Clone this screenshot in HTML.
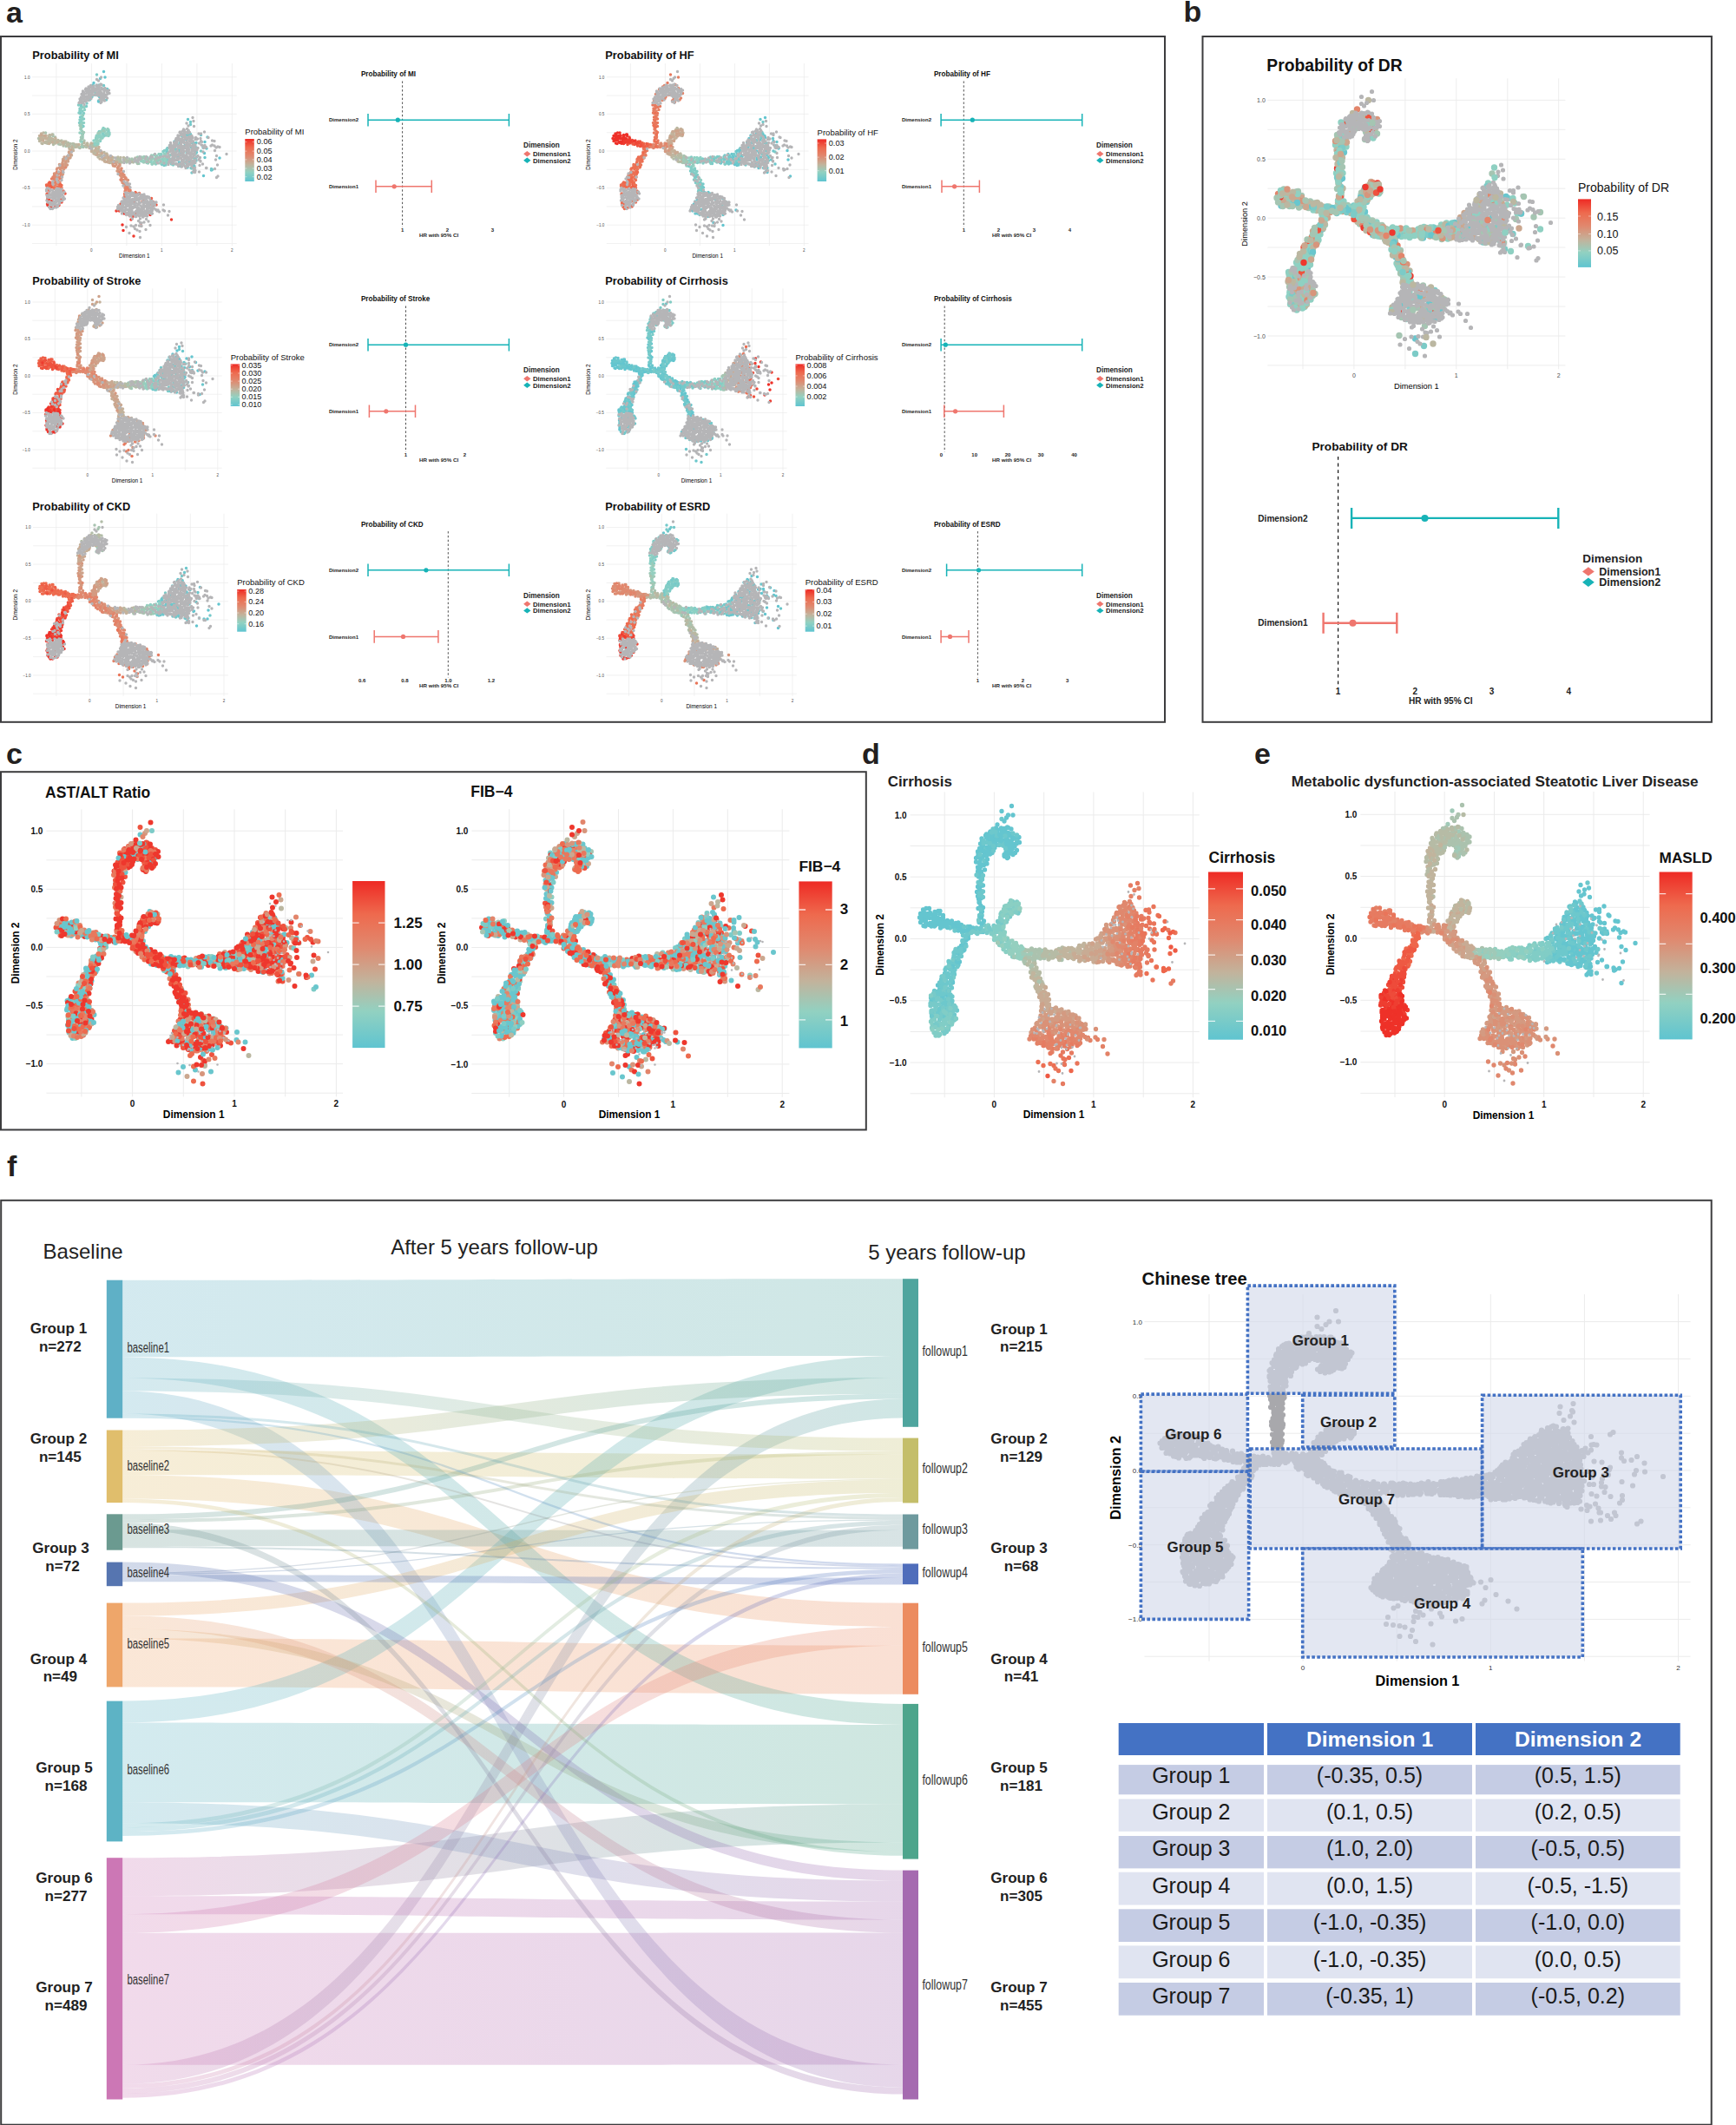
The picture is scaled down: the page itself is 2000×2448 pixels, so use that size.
<!DOCTYPE html>
<html><head><meta charset="utf-8"><title>Figure</title>
<style>html,body{margin:0;padding:0;background:#fff}body{width:2000px;height:2448px;overflow:hidden;position:relative}
svg{position:absolute;left:0;top:0;font-family:'Liberation Sans', Arial, Helvetica, sans-serif}</style></head>
<body><svg width="2000" height="2448" viewBox="0 0 2000 2448">
<defs><linearGradient id="cbgrad" x1="0" y1="0" x2="0" y2="1"><stop offset="0.00" stop-color="#ee2a24"/><stop offset="0.20" stop-color="#ee6a4e"/><stop offset="0.40" stop-color="#e0896f"/><stop offset="0.60" stop-color="#c2b39c"/><stop offset="0.78" stop-color="#92d1c1"/><stop offset="1.00" stop-color="#5fc4d0"/></linearGradient><linearGradient id="gB1F1" gradientUnits="userSpaceOnUse" x1="141.2" y1="0" x2="1040.0" y2="0"><stop offset="0" stop-color="#5fb0c6"/><stop offset="1" stop-color="#4fa59e"/></linearGradient><linearGradient id="gB1F6" gradientUnits="userSpaceOnUse" x1="141.2" y1="0" x2="1040.0" y2="0"><stop offset="0" stop-color="#5fb0c6"/><stop offset="1" stop-color="#4da58c"/></linearGradient><linearGradient id="gB1F2" gradientUnits="userSpaceOnUse" x1="141.2" y1="0" x2="1040.0" y2="0"><stop offset="0" stop-color="#5fb0c6"/><stop offset="1" stop-color="#c4be6a"/></linearGradient><linearGradient id="gB1F7" gradientUnits="userSpaceOnUse" x1="141.2" y1="0" x2="1040.0" y2="0"><stop offset="0" stop-color="#5fb0c6"/><stop offset="1" stop-color="#a56ab0"/></linearGradient><linearGradient id="gB1F3" gradientUnits="userSpaceOnUse" x1="141.2" y1="0" x2="1040.0" y2="0"><stop offset="0" stop-color="#5fb0c6"/><stop offset="1" stop-color="#6e9a9e"/></linearGradient><linearGradient id="gB1F4" gradientUnits="userSpaceOnUse" x1="141.2" y1="0" x2="1040.0" y2="0"><stop offset="0" stop-color="#5fb0c6"/><stop offset="1" stop-color="#4f6dbb"/></linearGradient><linearGradient id="gB2F1" gradientUnits="userSpaceOnUse" x1="141.2" y1="0" x2="1040.0" y2="0"><stop offset="0" stop-color="#e0be6c"/><stop offset="1" stop-color="#4fa59e"/></linearGradient><linearGradient id="gB2F3" gradientUnits="userSpaceOnUse" x1="141.2" y1="0" x2="1040.0" y2="0"><stop offset="0" stop-color="#e0be6c"/><stop offset="1" stop-color="#6e9a9e"/></linearGradient><linearGradient id="gB2F4" gradientUnits="userSpaceOnUse" x1="141.2" y1="0" x2="1040.0" y2="0"><stop offset="0" stop-color="#e0be6c"/><stop offset="1" stop-color="#4f6dbb"/></linearGradient><linearGradient id="gB2F2" gradientUnits="userSpaceOnUse" x1="141.2" y1="0" x2="1040.0" y2="0"><stop offset="0" stop-color="#e0be6c"/><stop offset="1" stop-color="#c4be6a"/></linearGradient><linearGradient id="gB2F5" gradientUnits="userSpaceOnUse" x1="141.2" y1="0" x2="1040.0" y2="0"><stop offset="0" stop-color="#e0be6c"/><stop offset="1" stop-color="#ec8c60"/></linearGradient><linearGradient id="gB2F6" gradientUnits="userSpaceOnUse" x1="141.2" y1="0" x2="1040.0" y2="0"><stop offset="0" stop-color="#e0be6c"/><stop offset="1" stop-color="#4da58c"/></linearGradient><linearGradient id="gB3F1" gradientUnits="userSpaceOnUse" x1="141.2" y1="0" x2="1040.0" y2="0"><stop offset="0" stop-color="#6b9a90"/><stop offset="1" stop-color="#4fa59e"/></linearGradient><linearGradient id="gB3F2" gradientUnits="userSpaceOnUse" x1="141.2" y1="0" x2="1040.0" y2="0"><stop offset="0" stop-color="#6b9a90"/><stop offset="1" stop-color="#c4be6a"/></linearGradient><linearGradient id="gB3F7" gradientUnits="userSpaceOnUse" x1="141.2" y1="0" x2="1040.0" y2="0"><stop offset="0" stop-color="#6b9a90"/><stop offset="1" stop-color="#a56ab0"/></linearGradient><linearGradient id="gB3F3" gradientUnits="userSpaceOnUse" x1="141.2" y1="0" x2="1040.0" y2="0"><stop offset="0" stop-color="#6b9a90"/><stop offset="1" stop-color="#6e9a9e"/></linearGradient><linearGradient id="gB3F4" gradientUnits="userSpaceOnUse" x1="141.2" y1="0" x2="1040.0" y2="0"><stop offset="0" stop-color="#6b9a90"/><stop offset="1" stop-color="#4f6dbb"/></linearGradient><linearGradient id="gB4F7" gradientUnits="userSpaceOnUse" x1="141.2" y1="0" x2="1040.0" y2="0"><stop offset="0" stop-color="#5675b0"/><stop offset="1" stop-color="#a56ab0"/></linearGradient><linearGradient id="gB4F2" gradientUnits="userSpaceOnUse" x1="141.2" y1="0" x2="1040.0" y2="0"><stop offset="0" stop-color="#5675b0"/><stop offset="1" stop-color="#c4be6a"/></linearGradient><linearGradient id="gB4F3" gradientUnits="userSpaceOnUse" x1="141.2" y1="0" x2="1040.0" y2="0"><stop offset="0" stop-color="#5675b0"/><stop offset="1" stop-color="#6e9a9e"/></linearGradient><linearGradient id="gB4F4" gradientUnits="userSpaceOnUse" x1="141.2" y1="0" x2="1040.0" y2="0"><stop offset="0" stop-color="#5675b0"/><stop offset="1" stop-color="#4f6dbb"/></linearGradient><linearGradient id="gB5F2" gradientUnits="userSpaceOnUse" x1="141.2" y1="0" x2="1040.0" y2="0"><stop offset="0" stop-color="#eea66a"/><stop offset="1" stop-color="#c4be6a"/></linearGradient><linearGradient id="gB5F7" gradientUnits="userSpaceOnUse" x1="141.2" y1="0" x2="1040.0" y2="0"><stop offset="0" stop-color="#eea66a"/><stop offset="1" stop-color="#a56ab0"/></linearGradient><linearGradient id="gB5F6" gradientUnits="userSpaceOnUse" x1="141.2" y1="0" x2="1040.0" y2="0"><stop offset="0" stop-color="#eea66a"/><stop offset="1" stop-color="#4da58c"/></linearGradient><linearGradient id="gB5F5" gradientUnits="userSpaceOnUse" x1="141.2" y1="0" x2="1040.0" y2="0"><stop offset="0" stop-color="#eea66a"/><stop offset="1" stop-color="#ec8c60"/></linearGradient><linearGradient id="gB6F1" gradientUnits="userSpaceOnUse" x1="141.2" y1="0" x2="1040.0" y2="0"><stop offset="0" stop-color="#5db3c5"/><stop offset="1" stop-color="#4fa59e"/></linearGradient><linearGradient id="gB6F6" gradientUnits="userSpaceOnUse" x1="141.2" y1="0" x2="1040.0" y2="0"><stop offset="0" stop-color="#5db3c5"/><stop offset="1" stop-color="#4da58c"/></linearGradient><linearGradient id="gB6F7" gradientUnits="userSpaceOnUse" x1="141.2" y1="0" x2="1040.0" y2="0"><stop offset="0" stop-color="#5db3c5"/><stop offset="1" stop-color="#a56ab0"/></linearGradient><linearGradient id="gB6F2" gradientUnits="userSpaceOnUse" x1="141.2" y1="0" x2="1040.0" y2="0"><stop offset="0" stop-color="#5db3c5"/><stop offset="1" stop-color="#c4be6a"/></linearGradient><linearGradient id="gB6F3" gradientUnits="userSpaceOnUse" x1="141.2" y1="0" x2="1040.0" y2="0"><stop offset="0" stop-color="#5db3c5"/><stop offset="1" stop-color="#6e9a9e"/></linearGradient><linearGradient id="gB6F4" gradientUnits="userSpaceOnUse" x1="141.2" y1="0" x2="1040.0" y2="0"><stop offset="0" stop-color="#5db3c5"/><stop offset="1" stop-color="#4f6dbb"/></linearGradient><linearGradient id="gB7F6" gradientUnits="userSpaceOnUse" x1="141.2" y1="0" x2="1040.0" y2="0"><stop offset="0" stop-color="#cc77b5"/><stop offset="1" stop-color="#4da58c"/></linearGradient><linearGradient id="gB7F7a" gradientUnits="userSpaceOnUse" x1="141.2" y1="0" x2="1040.0" y2="0"><stop offset="0" stop-color="#cc77b5"/><stop offset="1" stop-color="#a56ab0"/></linearGradient><linearGradient id="gB7F5" gradientUnits="userSpaceOnUse" x1="141.2" y1="0" x2="1040.0" y2="0"><stop offset="0" stop-color="#cc77b5"/><stop offset="1" stop-color="#ec8c60"/></linearGradient><linearGradient id="gB7F7" gradientUnits="userSpaceOnUse" x1="141.2" y1="0" x2="1040.0" y2="0"><stop offset="0" stop-color="#cc77b5"/><stop offset="1" stop-color="#a56ab0"/></linearGradient><linearGradient id="gB7F1" gradientUnits="userSpaceOnUse" x1="141.2" y1="0" x2="1040.0" y2="0"><stop offset="0" stop-color="#cc77b5"/><stop offset="1" stop-color="#4fa59e"/></linearGradient><linearGradient id="gB7F2" gradientUnits="userSpaceOnUse" x1="141.2" y1="0" x2="1040.0" y2="0"><stop offset="0" stop-color="#cc77b5"/><stop offset="1" stop-color="#c4be6a"/></linearGradient><linearGradient id="gB7F3" gradientUnits="userSpaceOnUse" x1="141.2" y1="0" x2="1040.0" y2="0"><stop offset="0" stop-color="#cc77b5"/><stop offset="1" stop-color="#6e9a9e"/></linearGradient><linearGradient id="gB7F4" gradientUnits="userSpaceOnUse" x1="141.2" y1="0" x2="1040.0" y2="0"><stop offset="0" stop-color="#cc77b5"/><stop offset="1" stop-color="#4f6dbb"/></linearGradient></defs>
<text x="7.0" y="25.5" font-size="34" font-weight="bold" fill="#231f20">a</text><text x="1363.5" y="25.3" font-size="34" font-weight="bold" fill="#231f20">b</text><text x="7.0" y="880.3" font-size="34" font-weight="bold" fill="#231f20">c</text><text x="993.0" y="880.0" font-size="34" font-weight="bold" fill="#231f20">d</text><text x="1445.0" y="880.3" font-size="34" font-weight="bold" fill="#231f20">e</text><text x="8.0" y="1355.3" font-size="34" font-weight="bold" fill="#231f20">f</text><rect x="1" y="42" width="1341" height="789.8" fill="none" stroke="#3c3c3e" stroke-width="2"/><rect x="1385.5" y="42" width="586.4" height="789.8" fill="none" stroke="#3c3c3e" stroke-width="2"/><rect x="1" y="889.2" width="996.8" height="412.3" fill="none" stroke="#3c3c3e" stroke-width="2"/><rect x="1.2" y="1382.8" width="1970.5" height="1064.9" fill="none" stroke="#3c3c3e" stroke-width="2"/><path d="M64.9 73.0V283.2M105.4 73.0V283.2M145.9 73.0V283.2M186.4 73.0V283.2M226.9 73.0V283.2M267.4 73.0V283.2M37.0 280.5H272.7M37.0 259.2H272.7M37.0 237.9H272.7M37.0 216.6H272.7M37.0 195.3H272.7M37.0 174.0H272.7M37.0 152.7H272.7M37.0 131.4H272.7M37.0 110.1H272.7M37.0 88.8H272.7" stroke="#ebebeb" stroke-width="0.7" fill="none"/><text x="105.4" y="290.0" font-size="4.6" text-anchor="middle" fill="#4d4d4d">0</text><text x="186.4" y="290.0" font-size="4.6" text-anchor="middle" fill="#4d4d4d">1</text><text x="267.4" y="290.0" font-size="4.6" text-anchor="middle" fill="#4d4d4d">2</text><text x="34.5" y="90.5" font-size="4.6" text-anchor="end" fill="#4d4d4d">1.0</text><text x="34.5" y="133.1" font-size="4.6" text-anchor="end" fill="#4d4d4d">0.5</text><text x="34.5" y="175.7" font-size="4.6" text-anchor="end" fill="#4d4d4d">0.0</text><text x="34.5" y="218.3" font-size="4.6" text-anchor="end" fill="#4d4d4d">−0.5</text><text x="34.5" y="260.9" font-size="4.6" text-anchor="end" fill="#4d4d4d">−1.0</text><text x="154.8" y="297.0" font-size="6.4" text-anchor="middle">Dimension 1</text><text transform="translate(19.6,178.1) rotate(-90)" font-size="6.4" text-anchor="middle">Dimension 2</text><path d="M108 95.5h0m7.5-5h0m4-8h0m1.5 6.5h0m93 71.5h0m11.5 9.5h0m10 6.5h0m.5-13h0m7.5 32.5h0m9.5-14h0" stroke="#63c5cf" stroke-width="3.5" stroke-linecap="round"/><path d="M207.5 176.5h0m8.5 16.5h0m1-37h0m8 28.5h0m1.5-9h0m0 5.5h0m11-10.5h0m.5 .5h0m1-13h0" stroke="#6bc7cc" stroke-width="3.5" stroke-linecap="round"/><path d="M106 111.5h0m87 59h0m12 10h0m2-16h0m12.5-24h0m.5 29h0m0 9h0m1-14h0m0 34.5h0m2-9.5h0m1-24.5h0m0 26.5h0m1-18h0m1-3.5h0m0 15h0m18.5 10.5h0" stroke="#74c9ca" stroke-width="3.5" stroke-linecap="round"/><path d="M93 121.5h0m.5 1h0m1.5 1h0m1 22h0m1-22h0m2.5-1h0m.5-3.5h0m3.5-4h0m6-5.5h0m.5-2.5h0m1.5-21h0m2 30h0m73 73.5h0m4.5 .5h0m2-15h0m2.5-7.5h0m1 19.5h0m1 2h0m9-15h0m1 17.5h0m18-14.5h0m6-3h0" stroke="#7ccbc7" stroke-width="3.5" stroke-linecap="round"/><path d="M90.5 121h0m1 20.5h0m.5-16.5h0m2 13h0m.5-4h0m.5-6h0m.5 5h0m1 4h0m18 14.5h0m1 11h0m.5-3.5h0m2-5h0m.5 2h0m5.5-3h0m64 21.5h0m1.5-1h0m3-.5h0m0 14.5h0m3-4.5h0m1-4.5h0m3 11.5h0m1.5-8.5h0m12 5.5h0m10.5 9.5h0" stroke="#84cdc5" stroke-width="3.5" stroke-linecap="round"/><path d="M92.5 131h0m2 10h0m0 13h0m0-11.5h0m2-1h0m1-15h0m10 41h0m1-2.5h0m2-.5h0m1.5 2h0m.5-8h0m2-3.5h0m1.5-3.5h0m0 5.5h0m2 2h0m1-11.5h0m.5 9.5h0m5.5-.5h0m1-1.5h0m49.5 34h0m4-8.5h0m1-1h0m5-2h0m2.5 7.5h0m1-8h0m1 10h0" stroke="#8dd0c3" stroke-width="3.5" stroke-linecap="round"/><path d="M92 153h0m1 10h0m.5-19h0m1.5 14h0m.5-3h0m0-22.5h0m1-9.5h0m13 45h0m1.5-11h0m1 4.5h0m.5-3.5h0m.5 6.5h0m.5-2.5h0m2.5-1.5h0m4.5-9h0m2.5 4.5h0m1-7.5h0m.5 5h0m.5-4h0m37.5 36h0m4 1h0m1-1h0m2.5-4h0m.5 6.5h0m4.5-4h0m.5-1h0m5.5 3.5h0m6 .5h0m4-4.5h0m3 0h0" stroke="#95cfbf" stroke-width="3.5" stroke-linecap="round"/><path d="M93 161.5h0m1.5 5.5h0m0-16h0m.5 8.5h0m0-4h0m0 2h0m62.5 29.5h0m1-6h0m1.5 7.5h0m5.5-1.5h0m4.5-3.5h0m.5 1h0m9.5-4h0" stroke="#9fc9b7" stroke-width="3.5" stroke-linecap="round"/><path d="M67.5 166h0m26-7.5h0m2 6h0m16.5 3.5h0m26 20h0m8-1h0m3-4h0m2.5 2h0m7 3.5h0m4-5h0m2-1.5h0m13.5 6h0m1-1.5h0" stroke="#a8c3b0" stroke-width="3.5" stroke-linecap="round"/><path d="M44.5 159.5h0m13 5h0m13.5-2.5h0m4.5 3h0m4.5 3.5h0m1 .5h0m5.5 .5h0m4.5 .5h0m1 .5h0m11-1.5h0m2.5-1h0m1-2.5h0m1 9.5h0m9.5 4h0m16.5 6h0m4.5 1h0m.5-1.5h0m1 2h0m1 .5h0m5.5-3h0m2.5 1.5h0m5 1.5h0m2.5-5h0" stroke="#b2bda8" stroke-width="3.5" stroke-linecap="round"/><path d="M46 161.5h0m0 .5h0m1.5-4.5h0m.5 7.5h0m3-8h0m.5 2h0m0 5h0m1.5-.5h0m3.5-4.5h0m8.5 3h0m2-.5h0m.5 2h0m2-1h0m4.5 .5h0m2 0h0m7 9h0m0-4h0m2.5-2h0m3 3h0m5 0h0m3-.5h0m2.5-1.5h0m2-1h0m5 3.5h0m5.5 2h0m3.5 8h0m5.5 4.5h0m.5-2h0m2-5h0m12.5 7.5h0m.5-3.5h0m1 6.5h0m5.5-6h0" stroke="#bbb7a1" stroke-width="3.5" stroke-linecap="round"/><path d="M49.5 161h0m3.5-5h0m2 3.5h0m1.5-2.5h0m2.5 2.5h0m1.5 .5h0m1 5h0m18.5 11.5h0m21-8.5h0m7 9h0m4 1.5h0m2.5-.5h0m10 5h0" stroke="#c4b19a" stroke-width="3.5" stroke-linecap="round"/><path d="M49.5 162h0m23 21.5h0m4.5-3h0m6.5-10h0m26.5 7.5h0m1.5 0h0m.5-2.5h0m2-1h0m3 .5h0m1 6.5h0m.5 1h0m2 3.5h0m1-5h0m4.5 .5h0" stroke="#c9a992" stroke-width="3.5" stroke-linecap="round"/><path d="M74 182.5h0m0-1.5h0m2 6.5h0m0 4.5h0m1-9.5h0m0 2h0m2.5-9.5h0m44.5 6.5h0m2.5 6h0m1.5-2.5h0" stroke="#cea28a" stroke-width="3.5" stroke-linecap="round"/><path d="M70 194h0m1-2.5h0m2 0h0m2-2h0m.5-3h0m2 3.5h0m4.5-17h0m50.5 18.5h0m1-3.5h0m.5 1.5h0m1 7.5h0m1-1.5h0m1 3h0m0-7h0m2.5 9h0m.5 3.5h0" stroke="#d49a81" stroke-width="3.5" stroke-linecap="round"/><path d="M62.5 200h0m3.5 5.5h0m5.5-1.5h0m1.5-9.5h0m57.5-3.5h0m5 2.5h0m2 4.5h0m1 4h0m2.5 8.5h0m1-7h0m2 9.5h0m2-6h0m1 4h0" stroke="#d99379" stroke-width="3.5" stroke-linecap="round"/><path d="M62.5 202h0m2.5 .5h0m3.5-3h0m1.5 3.5h0m0-2h0m1-3.5h0m.5 1h0m4-5.5h0m61 7.5h0m1.5-1.5h0m1 8h0m.5-11h0m.5 10h0m4.5 0h0m3.5 14h0m2 .5h0" stroke="#de8b71" stroke-width="3.5" stroke-linecap="round"/><path d="M64 205.5h0m77.5-7h0m2.5 18h0m5-1h0" stroke="#e2856b" stroke-width="3.5" stroke-linecap="round"/><path d="M61.5 210h0m.5-3.5h0m2 6.5h0m0-1h0m80 8.5h0m6-1.5h0" stroke="#e48065" stroke-width="3.5" stroke-linecap="round"/><path d="M56 213h0m.5 5.5h0m2.5-3h0m.5-.5h0m3.5 2.5h0m6.5-1.5h0m1.5-2.5h0m72.5 10h0m12.5-2h0" stroke="#ec6f53" stroke-width="3.5" stroke-linecap="round"/><path d="M54 223.5h0m2-12h0m2-1h0m3.5 5.5h0m4.5-.5h0m3.5-3h0m74 14h0m14-3.5h0m3-.5h0m3.5 9.5h0m2-1h0" stroke="#ee694d" stroke-width="3.5" stroke-linecap="round"/><path d="M57 210h0m1.5 6h0m118 16.5h0" stroke="#ee5d46" stroke-width="3.5" stroke-linecap="round"/><path d="M54 214.5h0m1 14h0m0-5.5h0m15.5 7h0m4.5-7h0" stroke="#ee523e" stroke-width="3.5" stroke-linecap="round"/><path d="M54.5 235h0m13.5 1.5h0m67.5 5.5h0" stroke="#ee4737" stroke-width="3.5" stroke-linecap="round"/><path d="M54.5 230.5h0m.5 6h0m79 6.5h0m17 10h0m3 19h0" stroke="#ee3b2f" stroke-width="3.5" stroke-linecap="round"/><path d="M63.5 237.5h0m77.5 21.5h0m1 6.5h0m31-18h0" stroke="#ee3028" stroke-width="3.5" stroke-linecap="round"/><path d="M113.5 117h0m.5 0h0m92.5 70h0m27.5-17h0m.5 32.5h0" stroke="#63c5cf" stroke-width="3.5" stroke-linecap="round"/><path d="M107 98h0m7 0h0m.5 13.5h0m9-9h0m77.5 60.5h0m15.5-25.5h0m6 54h0m2.5-8.5h0m1-18.5h0m5.5-9h0m4.5 26h0" stroke="#6bc7cc" stroke-width="3.5" stroke-linecap="round"/><path d="M111 98.5h0m8.5 0h0m3 16.5h0m69.5 60.5h0m11-1h0m2-7.5h0m1.5 5h0m6.5-4.5h0m2 8.5h0m0-20.5h0m0 33h0m3.5-35h0m0 32.5h0m1-42.5h0m0 11h0m.5 39h0m23.5 1h0" stroke="#74c9ca" stroke-width="3.5" stroke-linecap="round"/><path d="M92.5 126.5h0m0 8.5h0m.5-5h0m0 9h0m.5-18h0m20.5 31h0m70 26.5h0m5 12h0m3-18.5h0m9.5 0h0m1.5 0h0m1 12.5h0m5.5-28h0m5.5 28.5h0m2-34h0m4 43h0m2.5-12h0" stroke="#7ccbc7" stroke-width="3.5" stroke-linecap="round"/><path d="M91 130h0m1-2.5h0m0 10.5h0m4.5-7.5h0m22.5 23.5h0m2 2h0m4-5h0m49 35.5h0m8.5-2h0m3-6h0m1.5 4.5h0m4-5.5h0m1.5 7h0m1.5-14h0" stroke="#84cdc5" stroke-width="3.5" stroke-linecap="round"/><path d="M93.5 139h0m0-14h0m1 21.5h0m0-10.5h0m.5 27.5h0m13-1.5h0m1 5h0m1.5-6.5h0m0-1.5h0m1-3h0m1.5 10h0m1-8.5h0m1-2.5h0m3-5.5h0m2.5-1h0m5.5 4.5h0m48 33.5h0m5.5 2.5h0m10-1h0m2-1.5h0" stroke="#8dd0c3" stroke-width="3.5" stroke-linecap="round"/><path d="M93 149h0m.5 .5h0m0-6.5h0m1 26h0m16.5-6h0m6.5-11.5h0m4.5 2.5h0m1-4h0m41 36h0m1-1h0m4 2.5h0m6 1.5h0m2.5-6h0m0 3.5h0m0-8h0m5.5-1h0m.5 5h0m1 5.5h0m.5-3.5h0m3.5-2h0m1.5-3.5h0m.5-1.5h0m0 6.5h0" stroke="#95cfbf" stroke-width="3.5" stroke-linecap="round"/><path d="M76 168.5h0m16-24h0m1 2h0m0 1.5h0m.5 10h0m3-5.5h0m16.5 1h0m2-1h0m4.5-2h0m43.5 30.5h0m3-.5h0m8 3h0m.5-4.5h0m4 5h0m2 0h0m1.5-.5h0" stroke="#9fc9b7" stroke-width="3.5" stroke-linecap="round"/><path d="M52.5 153h0m8.5 3.5h0m0-1.5h0m33.5 11.5h0m1.5 3h0m1-7.5h0m48.5 24h0m6.5-3h0m1 1h0m18.5 2.5h0" stroke="#a8c3b0" stroke-width="3.5" stroke-linecap="round"/><path d="M49 156.5h0m5.5 8.5h0m3-8h0m4 9.5h0m2-3.5h0m0-5h0m6 8.5h0m3.5 1.5h0m5.5-3.5h0m1 5h0m1.5-4h0m3 0h0m1.5 2.5h0m4.5 0h0m9.5 1.5h0m5-2.5h0m3 2h0m29 14h0m2 0h0m6.5-.5h0m2 3.5h0" stroke="#b2bda8" stroke-width="3.5" stroke-linecap="round"/><path d="M45.5 162.5h0m3.5 3h0m1-12.5h0m2.5 11.5h0m2 .5h0m0-2h0m1.5-2.5h0m1-5h0m.5 7h0m.5-2h0m1.5 2h0m.5-7.5h0m0 6h0m.5 2h0m2.5-1.5h0m1 3.5h0m1.5-2h0m5.5 1h0m1.5 2h0m1 .5h0m3.5 1.5h0m.5-2h0m1.5 .5h0m5 5h0m4-2.5h0m.5-2.5h0m8.5-2h0m3.5 .5h0m5.5 7.5h0m3.5 4h0m3.5 4.5h0m.5-9.5h0m6.5 4h0m8 12h0m1.5-5h0m1-1h0m3.5 .5h0m5-.5h0m4 3h0m8.5 2h0" stroke="#bbb7a1" stroke-width="3.5" stroke-linecap="round"/><path d="M45.5 156.5h0m1.5 2.5h0m.5-5h0m.5 7.5h0m1-2.5h0m4 1h0m0-3h0m3.5 8.5h0m4-1.5h0m3.5-4.5h0m2 4.5h0m7 0h0m7 7.5h0m2.5 7.5h0m2-5.5h0m6.5-7h0m12 4h0m2-5.5h0m.5 9.5h0m0-.5h0m3.5-.5h0m.5-.5h0m1-2.5h0m1 3.5h0m2.5-4.5h0m1 13.5h0m0-8.5h0m2 2h0m1 7.5h0m3.5-6.5h0m.5 9h0m0-7h0m1 2.5h0m1-3h0m.5 8h0m.5-2h0m1-.5h0m1-2.5h0m3.5 3h0" stroke="#c4b19a" stroke-width="3.5" stroke-linecap="round"/><path d="M48 155.5h0m3.5 1h0m20.5 31h0m6-6.5h0m2.5 1h0m37-5.5h0m6 9.5h0m5-5.5h0m0 4h0m6 2.5h0" stroke="#c9a992" stroke-width="3.5" stroke-linecap="round"/><path d="M73 189.5h0m1-5.5h0m4.5 2h0m0-2.5h0m1-8h0m1.5 6h0m0-2.5h0m1-1h0m56 13h0" stroke="#cea28a" stroke-width="3.5" stroke-linecap="round"/><path d="M68.5 193h0m0-3.5h0m3.5-1h0m.5 12h0m0-15h0m1 9.5h0m56.5-5.5h0m.5-1.5h0m1-1.5h0m6 8.5h0m.5-5.5h0" stroke="#d49a81" stroke-width="3.5" stroke-linecap="round"/><path d="M64 200h0m1.5-5h0m0 3.5h0m.5-4.5h0m2 5h0m1.5-4h0m2-5h0m0 12.5h0m0-9.5h0m64.5-.5h0m4 10.5h0m3-1.5h0m4.5 6h0" stroke="#d99379" stroke-width="3.5" stroke-linecap="round"/><path d="M63 204.5h0m.5 3h0m2-9.5h0m1.5 2.5h0m0 7.5h0m.5-4h0m72.5 4h0m0-14h0m1.5 7h0m.5 6.5h0m.5 4h0m1.5-7.5h0m.5 10.5h0m.5-9.5h0m3.5 13.5h0" stroke="#de8b71" stroke-width="3.5" stroke-linecap="round"/><path d="M61 204h0m3.5 8h0m3 .5h0m.5-1h0m1-1.5h0m75.5 9h0m.5 0h0m1.5-3.5h0" stroke="#e2856b" stroke-width="3.5" stroke-linecap="round"/><path d="M59.5 206h0m3.5 8.5h0m1-4.5h0m82 7h0m2 0h0" stroke="#e48065" stroke-width="3.5" stroke-linecap="round"/><path d="M69.5 206h0" stroke="#e77a5f" stroke-width="3.5" stroke-linecap="round"/><path d="M56.5 215.5h0m11.5 0h0m3 1h0" stroke="#ec6f53" stroke-width="3.5" stroke-linecap="round"/><path d="M53.5 213h0m15.5-.5h0m91 11h0" stroke="#ee694d" stroke-width="3.5" stroke-linecap="round"/><path d="M57 220h0m1.5-6.5h0m0-3h0m14.5 9.5h0m81 12.5h0m19.5 2.5h0m1-6.5h0m2.5 8h0" stroke="#ee5d46" stroke-width="3.5" stroke-linecap="round"/><path d="M139 235h0m41 1h0" stroke="#ee523e" stroke-width="3.5" stroke-linecap="round"/><path d="M56.5 229.5h0m14.5 3.5h0m66.5 10h0m11.5 5h0m4 1.5h0m3.5-3h0" stroke="#ee4737" stroke-width="3.5" stroke-linecap="round"/><path d="M58 238.5h0m1 0h0m.5-7h0m7 6h0m131 15.5h0" stroke="#ee3b2f" stroke-width="3.5" stroke-linecap="round"/><path d="M143 246h0m19.5 14h0" stroke="#ee3028" stroke-width="3.5" stroke-linecap="round"/><path d="M53.5 220h0m0-1.5h0m.5 12.5h0m0-6h0m.5-8.5h0m0 10.5h0m.5 6h0m1-8h0m0 2h0m0 .5h0m.5 11h0m.5-16h0m0-5h0m.5 17.5h0m0-2.5h0m.5 8h0m0-21h0m0 .5h0m.5 4.5h0m0 3h0m.5 7.5h0m.5-1.5h0m0-8.5h0m0 11.5h0m1 4h0m0-6h0m0-15.5h0m0 3.5h0m0-12h0m.5-1.5h0m0 3.5h0m0 11.5h0m0 5.5h0m0-4.5h0m.5 14.5h0m0-12h0m.5 5h0m0-11h0m.5 12h0m0 2.5h0m0-11h0m1-2h0m0-1.5h0m.5 8h0m0-11h0m0 8.5h0m.5 8.5h0m0-3.5h0m0-8h0m0 15h0m.5-6.5h0m.5-25h0m0-1.5h0m0 16.5h0m0 2.5h0m0-6h0m.5-17h0m0 30h0m0-15h0m.5 12.5h0m0 8.5h0m.5-18h0m0-10h0m0 17h0m.5-2h0m0-27h0m0 37.5h0m.5-13h0m0 6.5h0m0-3.5h0m0-8h0m.5 16h0m0 1h0m0-6.5h0m0-9h0m.5-28.5h0m0 33.5h0m0 7.5h0m.5-10h0m0 4.5h0m1-5.5h0m.5-2.5h0m0-10.5h0m0 24h0m.5-7.5h0m0-20h0m.5 24h0m.5-30.5h0m.5 29h0m0-28h0m0 31.5h0m0-2h0m0-5.5h0m1-1.5h0m.5 8h0m1.5-46.5h0m2.5-3.5h0m4-4h0m8.5-56.5h0m.5-.5h0m.5-4h0m.5 2h0m1-4h0m.5 4h0m0 2.5h0m0-10h0m.5 5.5h0m0 4h0m1-13h0m0 5h0m0-3.5h0m.5 12h0m.5-7.5h0m0-4.5h0m0 7h0m0-5h0m.5 8h0m0-6h0m0 10h0m.5-5h0m1-12.5h0m0 9h0m.5 3.5h0m0-8h0m0-5.5h0m0 15h0m0-12.5h0m.5 6.5h0m.5 3h0m.5-8h0m.5-2.5h0m0 .5h0m.5 7.5h0m.5-10.5h0m0 12h0m0 2.5h0m0-5.5h0m0-2h0m0-8h0m.5 2.5h0m.5 4h0m0 1.5h0m0-7h0m.5 3.5h0m0 65h0m1-58.5h0m0-12.5h0m.5 11.5h0m0 3.5h0m0-13.5h0m0 71.5h0m.5-67h0m.5-2h0m0 4h0m0 1.5h0m.5-7.5h0m.5 9h0m.5-3.5h0m0-3h0m.5-4h0m.5 2.5h0m.5 3h0m.5-2h0m0 6.5h0m2-11h0m0 8.5h0m0-5h0m0-10h0m0 12h0m0 5h0m0-9.5h0m.5 4h0m.5 7h0m.5-1.5h0m.5-15.5h0m.5 8h0m0 9h0m0-4h0m.5-2.5h0m0-5h0m.5 16h0m0-7.5h0m.5 1.5h0m0-4h0m.5 69h0m0-55h0m0-21.5h0m.5 18.5h0m0-3.5h0m0-5.5h0m0-17.5h0m.5 28.5h0m0-16.5h0m0-3.5h0m0 12h0m0-6.5h0m0 10.5h0m.5 67.5h0m0-69h0m1 3h0m0-6.5h0m1 5h0m0-3.5h0m0-7h0m.5-1h0m0 3h0m0 1h0m0 73h0m.5-67h0m0-7.5h0m0 11.5h0m.5-14.5h0m0 7.5h0m1 1.5h0m.5-6.5h0m1 2h0m0 2.5h0m0 4.5h0m.5-6.5h0m1.5-2.5h0m.5 3.5h0m1.5 72h0m3.5 7h0m2-4.5h0m2.5 59h0m0-2.5h0m.5-38h0m.5 36h0m.5 3.5h0m1-1h0m1 3.5h0m.5-2.5h0m.5-7.5h0m0 4.5h0m0 2h0m.5-3.5h0m0-3.5h0m0 11h0m0 3h0m.5-3.5h0m0-2.5h0m.5-3h0m.5-53h0m0 44h0m0-14h0m.5-16.5h0m0 46h0m0-9.5h0m0 5h0m.5-9h0m0-42.5h0m0 21.5h0m0 25.5h0m0 8h0m.5-10.5h0m1-10h0m0 23h0m.5-4.5h0m0-29.5h0m0 14h0m0 4.5h0m0 12.5h0m0-5h0m.5-4h0m0 12.5h0m0 16h0m0-14h0m0-9.5h0m.5-13.5h0m0 3.5h0m0 7.5h0m0-25h0m0 2h0m.5 25h0m0-6h0m0-9h0m0 24.5h0m0-65.5h0m.5 47h0m0 4.5h0m.5 12h0m0-18.5h0m0 15h0m1-28.5h0m0 18.5h0m0 4.5h0m0-13h0m0 20h0m0 2.5h0m.5-9h0m0-9h0m0 16.5h0m0 24.5h0m.5-35.5h0m0-21h0m0-24h0m0 39h0m0 12h0m0 10h0m0-.5h0m0-19h0m.5 11.5h0m0-15.5h0m0-9.5h0m0-30h0m0 62h0m.5-25h0m0 14.5h0m0 8.5h0m.5-15h0m0 4h0m0 25h0m0-36h0m0 25h0m0-6.5h0m0 6h0m1-23h0m0 18h0m0-13.5h0m0-7.5h0m0 15.5h0m0 4.5h0m0-2h0m0-18.5h0m.5 11h0m0 6.5h0m0 12.5h0m0-22.5h0m.5 17h0m0-23h0m.5 11h0m0 5h0m.5-8.5h0m0 30h0m0-38.5h0m.5 22.5h0m0-19h0m.5 3h0m0 8h0m0 10.5h0m0-61.5h0m.5 52.5h0m0-55.5h0m0 80.5h0m0-39h0m.5 25h0m0-65.5h0m0 53h0m0-9h0m0 6h0m0-3h0m.5 28.5h0m0-16h0m0-9.5h0m.5-4.5h0m0 18.5h0m0-4.5h0m0 6h0m0-19h0m.5-4.5h0m0-41h0m0 39h0m.5 21h0m0 20h0m0-26h0m0 2h0m0-12.5h0m.5-3.5h0m0 22.5h0m.5-61h0m0 49.5h0m.5 6.5h0m0-7.5h0m0 5h0m0 4h0m0 10.5h0m0-72h0m0 2h0m0 55h0m0-4h0m.5-4h0m0-8.5h0m0 7.5h0m0 3h0m.5 26.5h0m0-11h0m0-3.5h0m0-17.5h0m.5 38.5h0m0-24h0m0-62h0m0 64h0m0-15h0m.5 44h0m0-21.5h0m0 4.5h0m0-23h0m.5 7.5h0m0-4h0m0-11.5h0m0-42.5h0m.5 65h0m.5 12.5h0m0-15.5h0m0 12h0m0-9.5h0m0-8h0m.5-15h0m0 3.5h0m0 15h0m.5-13.5h0m.5 20.5h0m0-17.5h0m0 5.5h0m0 9.5h0m0-21.5h0m.5 9h0m0 5.5h0m0 9.5h0m0-6h0m.5-15.5h0m0 11.5h0m.5-5.5h0m0 4.5h0m0-15h0m0 32h0m.5-19h0m0 9h0m.5-14.5h0m0-2.5h0m0 14h0m.5-10h0m0 15.5h0m0-22h0m0-43.5h0m.5 81.5h0m0-21.5h0m0-16h0m.5 11h0m0-57.5h0m0 72h0m0-19h0m0 12h0m.5-59h0m0 56h0m0 4.5h0m0-13h0m0-5.5h0m0 16h0m.5 4.5h0m0-9h0m0-13.5h0m0 10h0m0-5h0m0-5h0m.5 16h0m0-7h0m1 19.5h0m0-16h0m.5 6.5h0m0-9h0m0-9.5h0m0 13h0m.5-12h0m0-45h0m0 61h0m0-5.5h0m0-5h0m.5-5h0m.5 16.5h0m0-2h0m0 16.5h0m0-28h0m.5 2.5h0m0-53.5h0m1 58h0m0 5.5h0m0-3.5h0m0 6h0m0-13.5h0m.5-1.5h0m0 4h0m0 1h0m.5-55.5h0m0 61.5h0m0 3.5h0m0-10.5h0m0 3h0m0-3.5h0m1-2h0m.5 0h0m.5 7h0m0 0h0m.5-4.5h0m.5-2h0m0 3h0m0-59h0m1 64h0m0-58.5h0m0 50h0m.5 0h0m1-45.5h0m0 55.5h0m1-55h0m0 54h0m.5-60.5h0m1 62.5h0m1.5-63h0m0 5h0m3 56h0m0-62h0m.5 56h0m.5-48h0m.5 55h0m1.5-63h0m2 1h0m.5-4h0m0 71h0m.5-72h0m0 3.5h0m0 10h0m.5-3h0m.5 57h0m0-73.5h0m0 10.5h0m.5 3.5h0m0-16.5h0m0 19.5h0m.5-13.5h0m0-6h0m.5-3h0m0 10h0m.5-3.5h0m0-1.5h0m0-3h0m.5 7h0m.5 11h0m0-7h0m.5 8h0m0-3h0m0-14h0m0 20h0m.5-8h0m0-1h0m.5-8h0m0 12.5h0m0-8.5h0m.5-2h0m0-4.5h0m0 19h0m0-10.5h0m.5-11h0m0-2.5h0m.5 19h0m.5-3.5h0m0-12h0m0 17.5h0m.5-9h0m0-6.5h0m0-5h0m.5-3.5h0m0 28h0m0-9h0m.5-13h0m0 21.5h0m0-4h0m0-25h0m0 18h0m0-15.5h0m.5-.5h0m.5 12h0m0 5.5h0m0-14.5h0m.5 18h0m0-8.5h0m0 15h0m0 .5h0m.5-21.5h0m0-11h0m0-1h0m.5 28h0m0-13.5h0m0 21h0m0-32h0m.5-2.5h0m0 20h0m0-15.5h0m.5 20.5h0m0-13.5h0m.5 12.5h0m0-28.5h0m0 7.5h0m0 19h0m.5 10h0m0-.5h0m0-36.5h0m.5 11.5h0m0 7h0m0-15h0m0 10.5h0m.5-12.5h0m0 20h0m0-6h0m0-1h0m0-5h0m0 9.5h0m0 4h0m.5 3.5h0m0 5h0m0 8.5h0m0-2.5h0m0-29.5h0m0 22h0m.5-18h0m0 20.5h0m0 1.5h0m0 6h0m.5-36.5h0m0 4h0m0 18h0m0-15.5h0m.5 18h0m0 6.5h0m0-14h0m0-21.5h0m0 18h0m.5 19h0m0-11.5h0m0-8h0m.5 7h0m0-4.5h0m0-19.5h0m0 11.5h0m0-5.5h0m0-3.5h0m0-5h0m.5 25h0m0 16h0m0-28.5h0m0 22.5h0m0-13.5h0m0-6h0m.5 17.5h0m0-3h0m0-29h0m.5 41.5h0m0-36.5h0m.5-2.5h0m0 18h0m0-11h0m0-2h0m.5 23h0m0-13h0m0 19h0m0-7.5h0m0 14.5h0m.5-35h0m0 24h0m0-1h0m.5-16h0m0 8.5h0m0-32h0m0 37h0m0-15.5h0m0 28h0m.5-3h0m0-16h0m0 4.5h0m0 5h0m0-33.5h0m.5 21.5h0m0-5.5h0m0-12.5h0m0 33.5h0m0-24.5h0m.5 5h0m0 25.5h0m0-24h0m0 8h0m0-22h0m.5-8.5h0m0 36h0m0-31h0m0 20h0m.5 14.5h0m0-11.5h0m0 17h0m0-32.5h0m0 1.5h0m.5 24.5h0m0-17.5h0m0 6h0m0 16.5h0m0-13h0m.5-23h0m0 25h0m0-15h0m.5 3.5h0m0 23.5h0m.5-28h0m0 18h0m0-22h0m0 10.5h0m.5-9.5h0m0 3.5h0m0 22h0m0 3.5h0m0-10.5h0m0 4h0m.5-17.5h0m0-2h0m0 14h0m.5 6h0m0-8h0m0 16.5h0m0-29.5h0m0 31.5h0m0-11h0m0-24.5h0m.5 30.5h0m0-15.5h0m.5 6h0m0-19h0m0-23h0m0 33h0m.5 29.5h0m0-21h0m0-14h0m0 4h0m0 14h0m0 4h0m0 3.5h0m.5-20h0m0 5h0m0 20.5h0m0-54.5h0m.5 30h0m0-3h0m0-21h0m.5 40.5h0m0-7.5h0m.5-6.5h0m0 4h0m0 17.5h0m0 5h0m0-30.5h0m.5 19.5h0m0 9h0m0-36h0m0 24h0m0-17.5h0m.5-8.5h0m.5 22.5h0m.5-10h0m0-10.5h0m0 12.5h0m.5-.5h0m.5-12.5h0m.5 19.5h0m0-9h0m1-16.5h0m0 30h0m.5-19h0m0 33h0m.5-16h0m0 8.5h0m.5-9h0m.5 4.5h0m0-.5h0m0-26h0m.5-5.5h0m0 8.5h0m.5 4.5h0m.5-3.5h0m.5 4h0m.5 21.5h0m.5-14h0m.5-4.5h0m1-18.5h0m0 16.5h0m.5-1h0m.5 2.5h0m1 23.5h0m0-24h0m.5 24h0m2-35h0m3 9.5h0m1.5-1h0m0-5h0m2.5 .5h0m0 5.5h0m.5 26.5h0m0-21h0m1 10.5h0m.5-14h0m.5 9.5h0m0 25h0m1-14.5h0m.5-21h0m0 34h0m2-33.5h0m8 8h0" stroke="#b5b5b7" stroke-width="3.4" stroke-linecap="round"/><text x="37.3" y="68.0" font-size="12.8" font-weight="bold" fill="#111">Probability of MI</text><text x="282.3" y="155.2" font-size="9.5" fill="#111">Probability of MI</text><rect x="282.3" y="160.0" width="10.5" height="49.0" fill="url(#cbgrad)"/><path d="M282.3 163.4h2.1M290.7 163.4h2.1" stroke="#fff" stroke-width="0.60" opacity="0.8"/><path d="M282.3 174.1h2.1M290.7 174.1h2.1" stroke="#fff" stroke-width="0.60" opacity="0.8"/><path d="M282.3 183.9h2.1M290.7 183.9h2.1" stroke="#fff" stroke-width="0.60" opacity="0.8"/><path d="M282.3 194.0h2.1M290.7 194.0h2.1" stroke="#fff" stroke-width="0.60" opacity="0.8"/><path d="M282.3 203.7h2.1M290.7 203.7h2.1" stroke="#fff" stroke-width="0.60" opacity="0.8"/><text x="295.8" y="166.3" font-size="9.1" fill="#111">0.06</text><text x="295.8" y="177.0" font-size="9.1" fill="#111">0.05</text><text x="295.8" y="186.8" font-size="9.1" fill="#111">0.04</text><text x="295.8" y="196.9" font-size="9.1" fill="#111">0.03</text><text x="295.8" y="206.6" font-size="9.1" fill="#111">0.02</text><path d="M726.4 73.0V283.2M766.4 73.0V283.2M806.4 73.0V283.2M846.4 73.0V283.2M886.4 73.0V283.2M926.4 73.0V283.2M698.8 280.5H931.6M698.8 259.2H931.6M698.8 237.9H931.6M698.8 216.6H931.6M698.8 195.3H931.6M698.8 174.0H931.6M698.8 152.7H931.6M698.8 131.4H931.6M698.8 110.1H931.6M698.8 88.8H931.6" stroke="#ebebeb" stroke-width="0.7" fill="none"/><text x="766.4" y="290.0" font-size="4.6" text-anchor="middle" fill="#4d4d4d">0</text><text x="846.4" y="290.0" font-size="4.6" text-anchor="middle" fill="#4d4d4d">1</text><text x="926.4" y="290.0" font-size="4.6" text-anchor="middle" fill="#4d4d4d">2</text><text x="696.3" y="90.5" font-size="4.6" text-anchor="end" fill="#4d4d4d">1.0</text><text x="696.3" y="133.1" font-size="4.6" text-anchor="end" fill="#4d4d4d">0.5</text><text x="696.3" y="175.7" font-size="4.6" text-anchor="end" fill="#4d4d4d">0.0</text><text x="696.3" y="218.3" font-size="4.6" text-anchor="end" fill="#4d4d4d">−0.5</text><text x="696.3" y="260.9" font-size="4.6" text-anchor="end" fill="#4d4d4d">−1.0</text><text x="815.2" y="297.0" font-size="6.4" text-anchor="middle">Dimension 1</text><text transform="translate(679.6,178.1) rotate(-90)" font-size="6.4" text-anchor="middle">Dimension 2</text><path d="M796 242h0m20 7.5h0m16.5-21h0m.5 31h0m11-81h0m4 63.5h0m7-61.5h0m8-21h0m3.5 5h0m4 23.5h0m1.5-17.5h0m0 11.5h0m4-21h0m1-3.5h0m2-3h0m6 15.5h0m.5 11h0m.5-8h0m5-10.5h0m1.5 5h0m15.5 16.5h0" stroke="#63c5cf" stroke-width="3.5" stroke-linecap="round"/><path d="M801 232h0m7 9.5h0m1-23h0m1.5 2h0m5.5 1h0m18-38h0m8 4.5h0m3-3.5h0m3-4.5h0m1 10.5h0m2-.5h0m0-12.5h0m1.5-4.5h0m0 14.5h0m.5-12.5h0m7.5-11h0m7 6.5h0m1.5-10.5h0m2 8.5h0m10-12h0m3 37h0m2-12.5h0m4.5-21.5h0m.5 14.5h0m4-10.5h0" stroke="#6bc7cc" stroke-width="3.5" stroke-linecap="round"/><path d="M806.5 210.5h0m.5 5h0m2.5 0h0m.5-3.5h0m8 11h0m2.5-34.5h0m3.5 41h0m11-50.5h0m.5 10h0m1.5 44h0m2-55.5h0m1.5 2h0m6.5 7.5h0m1-12.5h0m2 12.5h0m1-4.5h0m1.5 2h0m25.5-32h0m0 1h0m1-13h0m1.5 24h0m2.5 2h0" stroke="#74c9ca" stroke-width="3.5" stroke-linecap="round"/><path d="M799.5 207h0m1-11h0m0 4.5h0m0 2.5h0m0 1h0m3-2.5h0m1 19h0m.5-6h0m.5-3.5h0m2 0h0m1 9h0m0-7h0m1-30h0m1 3h0m7.5-1h0m1.5 1.5h0m6.5 .5h0m1.5-1.5h0m7.5-1.5h0m4 2.5h0m2 0h0m52-11.5h0" stroke="#7ccbc7" stroke-width="3.5" stroke-linecap="round"/><path d="M791.5 188h0m3-3h0m1.5 8.5h0m.5 2h0m1 3h0m0-11h0m1-1.5h0m.5-1.5h0m2 21.5h0m1-5h0m.5 6.5h0m.5-10h0m2.5-15h0m.5 3.5h0m.5 1h0m0-3h0m11.5 3h0m1 1.5h0m1-6h0m2.5 3h0m.5-4.5h0m5.5-.5h0m3.5 2.5h0m3 6h0m14-1h0" stroke="#84cdc5" stroke-width="3.5" stroke-linecap="round"/><path d="M790 182.5h0m1.5 2.5h0m3.5-3h0m.5 5h0m8-2.5h0m3 22.5h0m1 .5h0m4.5-21h0m4-3.5h0m6.5 0h0" stroke="#8dd0c3" stroke-width="3.5" stroke-linecap="round"/><path d="M792 186.5h0m1.5-4.5h0m9 2h0m4 33h0" stroke="#95cfbf" stroke-width="3.5" stroke-linecap="round"/><path d="M785.5 187h0m2.5-5h0m1 5.5h0" stroke="#9fc9b7" stroke-width="3.5" stroke-linecap="round"/><path d="M782.5 186.5h0m.5-7h0m1 2.5h0m3 5.5h0m2.5-3h0m2 2h0" stroke="#a8c3b0" stroke-width="3.5" stroke-linecap="round"/><path d="M776 183h0m3-1.5h0m2 2.5h0m1-2h0" stroke="#b2bda8" stroke-width="3.5" stroke-linecap="round"/><path d="M774 181h0m0-27.5h0m1.5 24.5h0m2.5 1h0m3 7h0m1-8.5h0m2-.5h0m.5-24h0m5 27.5h0" stroke="#bbb7a1" stroke-width="3.5" stroke-linecap="round"/><path d="M768.5 167.5h0m2.5 10.5h0m1 0h0m.5-22h0m.5 22.5h0m3-23.5h0m1 18.5h0m0-16.5h0m1.5-7.5h0m2.5-1h0m4 5h0m1-4h0" stroke="#c4b19a" stroke-width="3.5" stroke-linecap="round"/><path d="M767 172.5h0m2.5-7.5h0m1 11.5h0m0-8.5h0m1.5-11h0m.5 17h0m.5 1.5h0m0-9h0m1.5 5h0m.5-19.5h0m1.5-.5h0m.5 9h0m1 14.5h0m3.5-23.5h0m2.5 4.5h0" stroke="#c9a992" stroke-width="3.5" stroke-linecap="round"/><path d="M771.5 170.5h0m.5-7.5h0m3 6.5h0m3.5-18h0m1 4.5h0m1 1h0m2-3h0" stroke="#cea28a" stroke-width="3.5" stroke-linecap="round"/><path d="M764.5 169.5h0m1.5 2h0" stroke="#d49a81" stroke-width="3.5" stroke-linecap="round"/><path d="M762 168h0m4-3h0" stroke="#d99379" stroke-width="3.5" stroke-linecap="round"/><path d="M752.5 166.5h0m7.5 .5h0m6 0h0" stroke="#de8b71" stroke-width="3.5" stroke-linecap="round"/><path d="M748 169.5h0m3.5-1.5h0m6 .5h0m4.5-2.5h0m4.5 2h0m6-59.5h0m2 7.5h0m10-3h0" stroke="#e2856b" stroke-width="3.5" stroke-linecap="round"/><path d="M755.5 108.5h0m.5 19.5h0m.5 30h0m2.5-31.5h0m4-11h0m.5-15.5h0m11.5 17h0m1-2.5h0m5.5-13h0" stroke="#e48065" stroke-width="3.5" stroke-linecap="round"/><path d="M724 202h0m5-4h0m6.5-14h0m2 3.5h0m15.5-62.5h0m.5 13h0m0 15h0m0-26.5h0m.5 4.5h0m.5 17h0m0 10h0m0 .5h0m.5-33.5h0m0 13h0m2-5h0m.5 36.5h0m9.5-58h0m5.5-25.5h0" stroke="#e77a5f" stroke-width="3.5" stroke-linecap="round"/><path d="M722 210.5h0m1 5.5h0m4.5-14h0m0 30h0m3-22h0m1-9h0m2-12.5h0m.5-5h0m0 2h0m2.5 4h0m.5 3.5h0m0-10.5h0m1 0h0m3-7h0m0-.5h0m2.5 0h0m1.5-4.5h0m7-49.5h0m1.5 14h0m1 4h0m0 4h0m0-4h0m.5-16.5h0m.5 11.5h0m.5 17h0m0 8.5h0m0 4h0m1.5-26.5h0m0-6.5h0m0 11h0" stroke="#e97559" stroke-width="3.5" stroke-linecap="round"/><path d="M716 223.5h0m2.5-13.5h0m.5 25h0m6.5-29.5h0m0-5.5h0m0 10h0m1.5-2.5h0m0-1.5h0m.5 9.5h0m.5 22h0m1.5-26h0m1.5-16.5h0m1-3.5h0m.5 41.5h0m.5-40h0m.5-5.5h0m0 13h0m.5 19.5h0m.5 10h0m0-35h0m3-3h0m2-11h0m.5 2.5h0m14.5-53.5h0m1 37h0" stroke="#ec6f53" stroke-width="3.5" stroke-linecap="round"/><path d="M716.5 235h0m0-2h0m4.5-18h0m6.5 2h0m3-1h0m2-2.5h0m0-23.5h0m.5 14h0m2.5-23h0m5.5-11.5h0m0 7h0m1-11h0m2.5 2.5h0" stroke="#ee694d" stroke-width="3.5" stroke-linecap="round"/><path d="M729 166h0m0 46.5h0m6-46h0m.5-3.5h0m6 5.5h0m5.5-.5h0" stroke="#ee5d46" stroke-width="3.5" stroke-linecap="round"/><path d="M727 163h0m4 3.5h0m6.5 2h0" stroke="#ee523e" stroke-width="3.5" stroke-linecap="round"/><path d="M719.5 160.5h0m1.5 2h0m4-4.5h0m.5 7h0m8 1h0m3.5-1h0" stroke="#ee4737" stroke-width="3.5" stroke-linecap="round"/><path d="M714.5 164.5h0m3.5-7.5h0m5.5 8h0m2-5.5h0m6.5 2.5h0" stroke="#ee3b2f" stroke-width="3.5" stroke-linecap="round"/><path d="M707 156.5h0m2-2.5h0m.5 1.5h0m0 9.5h0m.5-3.5h0m.5-5h0m.5 9h0m.5-12.5h0m1 4h0m.5 2h0m.5 5h0m.5-11h0m.5 7h0m0-3h0m.5-1h0m2.5 4.5h0m1-5h0m.5 1.5h0m.5 7.5h0" stroke="#ee3028" stroke-width="3.5" stroke-linecap="round"/><path d="M798 243h0m1.5-8h0m4-5h0m0 16h0m9-24h0m9.5 34.5h0m1.5-9h0m21.5-66.5h0m1.5 8.5h0m5.5-14h0m9 6h0m4-25.5h0m6 7h0m.5 11h0m.5 10h0m2 9.5h0m.5-2h0m0-3h0m1.5-22.5h0m0 9.5h0m5.5-17h0m0-23h0m.5 56h0m2 7h0m11-30h0m2 2.5h0m10 2.5h0m3.5 29.5h0" stroke="#63c5cf" stroke-width="3.5" stroke-linecap="round"/><path d="M801 246h0m10.5 2.5h0m19-60.5h0m2.5 59.5h0m4.5-61h0m2.5-6h0m2.5 1h0m.5-4h0m.5 5h0m5.5-5.5h0m.5 11h0m0-14.5h0m2.5-1.5h0m2 7.5h0m8-10h0m2 19.5h0m4.5-18h0m3-17h0m3 22h0m1 6h0m.5-44.5h0m.5 43.5h0m3 12.5h0m1.5-6.5h0m1.5-13.5h0m1 5h0m1 4.5h0m4 1h0m4.5 5h0m4-18.5h0" stroke="#6bc7cc" stroke-width="3.5" stroke-linecap="round"/><path d="M801.5 210.5h0m1-7h0m3 21.5h0m0-6h0m.5 28.5h0m0-9.5h0m4.5-22h0m12-32.5h0m7 4h0m2-1h0m.5 50h0m3.5-53.5h0m2.5 5h0m1.5-5h0m0 6h0m0-8.5h0m1 3.5h0m.5 3.5h0m4.5-10h0m0 1h0m5 5.5h0m2.5-13.5h0m0 10.5h0m6 9h0m10.5 2h0m2-30.5h0m5.5-2.5h0m1 18.5h0m5 19h0m.5-31.5h0m1 19.5h0m1 .5h0" stroke="#74c9ca" stroke-width="3.5" stroke-linecap="round"/><path d="M793.5 191.5h0m2 5.5h0m1 3.5h0m2.5-1.5h0m5.5 14h0m.5 6h0m3.5-2h0m10-36h0m6.5 1h0m1.5-1.5h0m3.5 3h0m.5 1h0m3.5-4h0m4.5 3.5h0m9.5 1h0" stroke="#7ccbc7" stroke-width="3.5" stroke-linecap="round"/><path d="M796.5 181h0m0 11.5h0m1-1h0m.5 3.5h0m0 3h0m.5-8.5h0m2 4.5h0m1.5 4.5h0m1.5-11h0m2 17.5h0m4.5-17h0m3.5-4h0m3 0h0" stroke="#84cdc5" stroke-width="3.5" stroke-linecap="round"/><path d="M791 191h0m3.5-3h0m4.5-5h0m1-1.5h0m1 5.5h0m2-5.5h0m0 30h0m4-30h0m17.5 4.5h0" stroke="#8dd0c3" stroke-width="3.5" stroke-linecap="round"/><path d="M799 191h0" stroke="#95cfbf" stroke-width="3.5" stroke-linecap="round"/><path d="M786 185h0m.5-.5h0m.5-3h0m1.5 3.5h0m10 3h0" stroke="#9fc9b7" stroke-width="3.5" stroke-linecap="round"/><path d="M785 183h0m3-3.5h0" stroke="#a8c3b0" stroke-width="3.5" stroke-linecap="round"/><path d="M778.5 181h0m.5 1.5h0m3-1.5h0m3-2h0" stroke="#b2bda8" stroke-width="3.5" stroke-linecap="round"/><path d="M776 179.5h0m3-25.5h0m1-6.5h0m1 31.5h0m3.5 7h0m0-4.5h0" stroke="#bbb7a1" stroke-width="3.5" stroke-linecap="round"/><path d="M768.5 175h0m3-14.5h0m0-1.5h0m1 2.5h0m1 3h0m1 10h0m1-19.5h0m.5-2.5h0m0 22h0m1-15.5h0m1.5 17.5h0m.5-17.5h0m5.5-10.5h0m1.5 8h0m1-3.5h0" stroke="#c4b19a" stroke-width="3.5" stroke-linecap="round"/><path d="M766.5 174h0m2.5-12h0m0 15h0m2.5-12.5h0m2-6h0m.5 7.5h0m.5-4h0m.5-4.5h0m0-6h0m3 25h0m2.5-1h0m1-19.5h0m2-6h0m2.5 1h0" stroke="#c9a992" stroke-width="3.5" stroke-linecap="round"/><path d="M767 169.5h0m3-2.5h0m.5 6h0m2-1.5h0m.5-13.5h0m3.5 4.5h0m3-8.5h0m1-3.5h0m6 4.5h0" stroke="#cea28a" stroke-width="3.5" stroke-linecap="round"/><path d="M766.5 174.5h0m3.5-1h0" stroke="#d49a81" stroke-width="3.5" stroke-linecap="round"/><path d="M754.5 169h0" stroke="#d99379" stroke-width="3.5" stroke-linecap="round"/><path d="M761.5 165h0m7 4h0" stroke="#de8b71" stroke-width="3.5" stroke-linecap="round"/><path d="M752 170h0m1 .5h0m2.5-16.5h0m5 15.5h0m3.5-.5h0m1.5-70.5h0m2 67h0m5.5 2.5h0m4.5-50.5h0" stroke="#e2856b" stroke-width="3.5" stroke-linecap="round"/><path d="M742.5 179h0m1-1h0m5.5-9h0m1 0h0m3-41.5h0m1.5-6h0m1.5 34h0m.5-23h0m1.5 32h0m8-51h0m15.5-24.5h0m1.5 26h0m3.5-7.5h0" stroke="#e48065" stroke-width="3.5" stroke-linecap="round"/><path d="M725.5 213h0m6-10h0m1-5.5h0m9.5-15.5h0m2-3h0m1.5-5.5h0m7-43.5h0m0 11.5h0m1-25.5h0m.5 30.5h0m0 2.5h0m.5 .5h0m.5-5.5h0m0-23h0m.5 45.5h0m.5-30.5h0m0 6.5h0m0-19h0m.5 34h0m1-34.5h0m.5 .5h0m2.5-1h0m8.5-27h0m1.5 14h0m7.5-12h0" stroke="#e77a5f" stroke-width="3.5" stroke-linecap="round"/><path d="M715.5 214.5h0m5 1h0m5-3.5h0m.5 0h0m.5-9.5h0m.5-7.5h0m1.5 5.5h0m1-1.5h0m.5-9.5h0m0 1h0m1 15.5h0m0 6.5h0m1.5-10h0m1.5-8h0m.5 28h0m0-31h0m2.5-5h0m1-6h0m.5 9.5h0m1.5-11h0m1.5-7.5h0m2.5 .5h0m11.5-31h0m1 23.5h0m1-19h0m0 7h0m.5 9.5h0m1.5-59h0" stroke="#e97559" stroke-width="3.5" stroke-linecap="round"/><path d="M715.5 213h0m2-1.5h0m0 1.5h0m.5 25.5h0m0-23h0m1.5 25h0m0-2h0m1-28h0m3-4h0m1 8h0m2.5-16.5h0m.5-4h0m1 14h0m.5-4h0m.5-11h0m.5 6.5h0m.5 13h0m.5-18.5h0m1.5 13.5h0m.5-9h0m1-1h0m1-15h0m3.5 2h0m1.5 1.5h0m3.5-13h0m9.5-28.5h0m1 17h0m0 1.5h0m1.5 6h0m0-22.5h0m1 8.5h0" stroke="#ec6f53" stroke-width="3.5" stroke-linecap="round"/><path d="M716.5 223h0m3-12.5h0m.5 5.5h0m0-2.5h0m5-6h0m2.5-2h0m1 4.5h0m4 6.5h0m2-18h0m5.5-34h0m7 1.5h0m2.5 .5h0" stroke="#ee694d" stroke-width="3.5" stroke-linecap="round"/><path d="M723 239.5h0m5-1.5h0m1.5-22.5h0m11-49h0m2 2.5h0m2.5-3.5h0" stroke="#ee5d46" stroke-width="3.5" stroke-linecap="round"/><path d="M723 166.5h0m6-3h0m5.5 4.5h0m3-5h0m1 5h0m0-2h0" stroke="#ee523e" stroke-width="3.5" stroke-linecap="round"/><path d="M707 162.5h0m14.5-1.5h0m6 3h0m1-2.5h0m3.5 2.5h0m2.5 0h0" stroke="#ee4737" stroke-width="3.5" stroke-linecap="round"/><path d="M716 165h0m2.5 .5h0m.5-3h0m3-2.5h0m0 4h0m0-1h0m2.5-1.5h0m.5 1.5h0m1.5-1h0m4 .5h0" stroke="#ee3b2f" stroke-width="3.5" stroke-linecap="round"/><path d="M706 159.5h0m2 2h0m0 .5h0m1-3h0m0-1.5h0m2 1.5h0m.5 3h0m0-1h0m1.5-4.5h0m1.5 7h0m1.5 1.5h0m.5-2h0m0-3.5h0m1.5-.5h0m2.5 .5h0m1-4.5h0m1 1.5h0m0-1.5h0" stroke="#ee3028" stroke-width="3.5" stroke-linecap="round"/><path d="M715 220h0m0-1.5h0m.5 12.5h0m.5-6h0m0-8.5h0m0 14h0m0-3.5h0m.5 1.5h0m0 8h0m1-11.5h0m0 2h0m.5 .5h0m0-9h0m0 11h0m.5-9.5h0m.5 2.5h0m0-5h0m0 15h0m.5-13h0m.5 .5h0m0 4.5h0m0 3h0m.5 11h0m.5-3.5h0m0-1.5h0m0-2h0m0-6.5h0m0-19h0m0 30.5h0m1 4h0m0-6h0m0-15.5h0m0 3.5h0m.5-13.5h0m0-5h0m0 8.5h0m0 11.5h0m0 5.5h0m0-4.5h0m.5-15h0m0 17.5h0m1 5h0m0-11h0m0-21.5h0m0 33.5h0m0 2.5h0m0-11h0m.5-20.5h0m0 13h0m.5 20h0m0-14.5h0m0-1.5h0m.5 8h0m0-11h0m0 8.5h0m.5 8.5h0m0-3.5h0m0-8h0m0 15h0m.5-6.5h0m.5-34h0m0 24h0m0 2.5h0m0-6h0m1 10.5h0m.5-9.5h0m0 7h0m0-2h0m.5 10.5h0m.5-13h0m0 14h0m0-7.5h0m0-3.5h0m0-8h0m.5 16h0m0 1h0m0-6.5h0m0-9h0m.5 5h0m0 7.5h0m.5-10h0m0 4.5h0m1-5.5h0m0 9.5h0m0-12h0m.5 13.5h0m.5-7.5h0m0-20h0m.5 24h0m.5-1.5h0m.5 1.5h0m0-38.5h0m1 31.5h0m.5 8h0m.5-6h0m5.5-41.5h0m3.5-10h0m6.5-53h0m1-.5h0m0-4h0m1.5-2h0m.5 4h0m.5 2.5h0m0-4.5h0m.5 4h0m.5-13h0m0 5h0m0-3.5h0m.5 12h0m.5-7.5h0m0-4.5h0m0 7h0m.5-5h0m0 8h0m.5-6h0m0 10h0m0-5h0m1-3.5h0m.5 3.5h0m0-8h0m0-5.5h0m0 15h0m0-12.5h0m.5 6.5h0m.5 8h0m0-5h0m.5-8h0m.5-2.5h0m0 .5h0m.5 7.5h0m.5-10.5h0m0 12h0m0-3h0m0-2h0m.5-5.5h0m.5 68h0m0-64h0m0 1.5h0m.5-7h0m0 3.5h0m.5 10.5h0m.5-4h0m.5-1h0m0-10h0m.5 4.5h0m.5-2h0m0 4h0m0 1.5h0m.5-7.5h0m0-2.5h0m.5 11.5h0m.5-3.5h0m0-3h0m.5-4h0m.5 2.5h0m.5 3h0m.5-2h0m0 6.5h0m.5-2h0m1-8.5h0m0-.5h0m.5 8.5h0m0-5h0m0-10h0m0 12h0m0-4.5h0m.5 4h0m.5 7h0m.5-1.5h0m.5 8.5h0m0-24h0m0 5h0m.5 3h0m0 9h0m0-4h0m0-2.5h0m.5-5h0m0 13h0m.5-4.5h0m0 1.5h0m0-18h0m.5 14h0m.5 14h0m0-21.5h0m.5 18.5h0m0-3.5h0m0-5.5h0m0-17.5h0m0 12h0m.5 8.5h0m0-6.5h0m0 10.5h0m.5-1.5h0m.5 72h0m.5-69h0m0-6.5h0m.5 5h0m0-15h0m0 11.5h0m.5-27.5h0m0 20.5h0m0-1h0m.5 3h0m0 1h0m0 6h0m.5-7.5h0m0 11.5h0m.5-7h0m1 1.5h0m.5-6.5h0m.5 2h0m.5 2.5h0m0-6h0m.5 4h0m1.5-2.5h0m4 85.5h0m.5-8h0m3.5 8h0m.5 53.5h0m1-2h0m.5-2.5h0m0-54h0m.5 16h0m0-17.5h0m.5 53.5h0m0 3.5h0m1-1h0m.5-37h0m.5 40.5h0m.5-2.5h0m.5-53.5h0m0 21.5h0m0 24.5h0m0 4.5h0m0 2h0m.5-3.5h0m0 7.5h0m.5-.5h0m0 16.5h0m.5-19h0m0-3h0m.5 28.5h0m0-37.5h0m.5-14h0m0 29.5h0m0-9.5h0m.5 5h0m0-30h0m0 25.5h0m0 8h0m.5-16h0m0-3h0m0 8.5h0m.5-28h0m0 12.5h0m.5 5.5h0m0-16h0m0 39h0m.5-4.5h0m0-11h0m0 12.5h0m0-5h0m.5-4h0m0 12.5h0m0 16h0m.5-37h0m0 3.5h0m0 7.5h0m0-23h0m.5 25h0m0-6h0m0-9h0m0 24.5h0m.5-61h0m0 42.5h0m0 4.5h0m.5 12h0m0-18.5h0m1-41h0m0 46h0m0 4.5h0m0-13h0m0 20h0m0 2.5h0m.5-9h0m0-9h0m0 16.5h0m0 24.5h0m0-20.5h0m0-15h0m.5-6h0m0 12h0m0 10h0m0-.5h0m0-19h0m.5 11.5h0m0-15.5h0m0-6.5h0m0 29h0m0-25h0m.5 14.5h0m0 8.5h0m.5-15h0m0 4h0m0 25h0m0-36h0m0 25h0m0 4h0m0-10.5h0m0-57.5h0m.5 40.5h0m0 18h0m.5-13.5h0m0-7.5h0m0-39.5h0m0 55h0m0 4.5h0m0-2h0m0-7.5h0m.5 6.5h0m0 12.5h0m0-22.5h0m.5 20h0m0-3h0m0-23h0m0-36.5h0m.5 47.5h0m0 5h0m.5-8.5h0m0 30h0m0 11h0m0-49.5h0m0 10h0m0 12.5h0m.5-19h0m0 3h0m0 8h0m.5 10.5h0m0-61.5h0m0 52.5h0m.5 25h0m0-39h0m.5 12.5h0m0-55h0m0 46h0m0 6h0m0-3h0m.5 15.5h0m0 13h0m0-16h0m0-9.5h0m0-4.5h0m.5 18.5h0m0-4.5h0m0 6h0m0-19h0m0-4.5h0m.5-2h0m0 21h0m0 20h0m.5-26h0m0 2h0m0-12.5h0m.5-3.5h0m0 22.5h0m.5-11.5h0m0 6.5h0m0-7.5h0m0 5h0m.5 4h0m0 10.5h0m0-70h0m0 55h0m0-4h0m0-4h0m.5-8.5h0m0 7.5h0m0-7h0m0 10h0m0 26.5h0m0-37.5h0m0 26.5h0m0-3.5h0m.5-17.5h0m0 38.5h0m0-24h0m0-62h0m.5 64h0m0-15h0m0 44h0m0-21.5h0m.5-18.5h0m0 7.5h0m.5-4h0m0-11.5h0m0 22.5h0m.5 12h0m0 .5h0m0-15.5h0m.5 12h0m0-17.5h0m0-15h0m0 3.5h0m.5 15h0m.5-11h0m0 18h0m.5-17.5h0m0 5.5h0m0 9.5h0m0-21.5h0m0 9h0m0 5.5h0m.5-55.5h0m0 65h0m0-6h0m0-15.5h0m.5 11.5h0m0-5.5h0m0-3.5h0m.5 8h0m0-15h0m0 32h0m0-19h0m0 9h0m.5-59.5h0m0 45h0m0-2.5h0m.5 14h0m0-10h0m0 15.5h0m.5-22h0m0-43.5h0m0 81.5h0m0-21.5h0m.5-16h0m0 11h0m0 14.5h0m.5-19h0m0 12h0m0-59h0m0 56h0m0 4.5h0m0-13h0m.5-5.5h0m0 16h0m0 4.5h0m0-9h0m0-13.5h0m0 10h0m.5-5h0m0-5h0m0 16h0m.5-7h0m0-54h0m.5 73.5h0m0-16h0m.5 6.5h0m.5-18.5h0m0 13h0m0-12h0m.5 16h0m0-5.5h0m0-5h0m.5 11.5h0m0-2h0m.5-11.5h0m0 2.5h0m0 1h0m.5-48.5h0m0 0h0m.5 42h0m0 10h0m0 5.5h0m0-3.5h0m0 6h0m0-13.5h0m.5-1.5h0m0 4h0m.5 1h0m0-55.5h0m0 61.5h0m0 3.5h0m0-10.5h0m0 3h0m.5-3.5h0m.5-2.5h0m.5 .5h0m0 3.5h0m.5 3.5h0m0-57h0m0 57h0m.5-61.5h0m0 57h0m.5-2h0m0 3h0m1 5h0m0-8.5h0m.5 0h0m0 3h0m1 7h0m1-1h0m0-58.5h0m.5 1h0m1 59.5h0m1-56h0m.5-2h0m2-3h0m1.5 53h0m0-53.5h0m1 60.5h0m.5-64h0m.5-1.5h0m.5 2.5h0m.5 6.5h0m2-9.5h0m0 71h0m0-72h0m.5-5.5h0m0 12h0m0 7h0m.5-3h0m.5 57h0m0-73.5h0m0 14h0m0-16.5h0m.5 15.5h0m0-15.5h0m0 19.5h0m0-13.5h0m.5-6h0m.5 19.5h0m0-22.5h0m0 10h0m0 4h0m0-7.5h0m.5-1.5h0m0-3h0m.5 7h0m0 15.5h0m0 64h0m0-68.5h0m0-7h0m1 8h0m0-3h0m0-14h0m0 20h0m.5-8h0m0-1h0m0-8h0m.5 12.5h0m0-8.5h0m0-2h0m0-4.5h0m.5 19h0m0-10.5h0m.5-11h0m0-3.5h0m.5 20h0m0-3.5h0m0-7.5h0m.5-4.5h0m0 17.5h0m.5-9h0m0-11.5h0m0-3.5h0m.5 28h0m0-9h0m0-13h0m0 21.5h0m0-4h0m.5-10h0m0-2.5h0m0 5.5h0m0-15.5h0m0-.5h0m.5 12h0m.5 5.5h0m0-14.5h0m0 20h0m0-2h0m0-8.5h0m.5 15.5h0m0-22.5h0m0 1h0m.5-11h0m0 23.5h0m0 3.5h0m.5-13.5h0m0 21h0m0-32h0m.5-2.5h0m0 20h0m0-15.5h0m0 20.5h0m0-10h0m.5-3.5h0m0 18.5h0m0-13h0m0 7h0m0-28.5h0m.5 7.5h0m0 19h0m0 10h0m0 2.5h0m0-3h0m.5-12h0m0-24.5h0m0 11.5h0m.5-8h0m0 10.5h0m0-12.5h0m0 20h0m0-6h0m0-1h0m.5-5h0m0 13.5h0m0 3.5h0m0 5h0m.5 8.5h0m0-2.5h0m0-7.5h0m0-18h0m0 20.5h0m0 1.5h0m.5-29.5h0m0-1h0m0 4h0m.5 18h0m0-15.5h0m0 18h0m0 6.5h0m0-14h0m.5-21.5h0m0 18h0m0 7.5h0m.5-1h0m0-4.5h0m0-19.5h0m.5 6h0m0-8.5h0m0 41h0m.5-25.5h0m.5 14.5h0m0-29h0m0 37h0m0 4.5h0m0-36.5h0m0 12.5h0m.5-15h0m.5 18h0m0-11h0m0-2h0m0 23h0m0-13h0m.5 19h0m0-7.5h0m0-18.5h0m0-2h0m0 24h0m0-1h0m.5-16h0m0 8.5h0m0-32h0m0 37h0m0-15.5h0m0-8h0m.5 29.5h0m0 3.5h0m.5-16h0m0 4.5h0m0-28.5h0m0 21.5h0m0-5.5h0m0-12.5h0m0 33.5h0m.5 7.5h0m0-1.5h0m0-24h0m0-14h0m.5-8.5h0m0 5h0m0 20h0m.5-14h0m0-5h0m0 33.5h0m0-11.5h0m0 17h0m.5-6.5h0m0-17.5h0m0 6h0m0 16.5h0m0-13h0m1-13h0m0 23.5h0m0-20h0m0 23.5h0m.5-46h0m0 18h0m0 18h0m0-22h0m0 10.5h0m.5-9.5h0m0 3.5h0m0 22h0m0-14.5h0m0 18h0m.5-10.5h0m0 1.5h0m0 2.5h0m0-17.5h0m0-2h0m0 14h0m.5 6h0m0 12.5h0m0-20.5h0m0 16.5h0m0-29.5h0m0 31.5h0m0-11h0m0 18h0m1-27.5h0m0 6h0m0-9h0m.5 29.5h0m0-21h0m0-14h0m0 4h0m0 14h0m0 4h0m0 3.5h0m.5-20h0m0 25.5h0m0-54.5h0m.5 50h0m0-7.5h0m0-12.5h0m0-24h0m.5 40.5h0m0 5.5h0m.5-19.5h0m0 4h0m.5-8h0m0 19.5h0m0 9h0m0-23h0m0-13h0m0 24h0m0-17.5h0m.5 10h0m0-18.5h0m.5 11.5h0m0-5.5h0m.5 11h0m0-4.5h0m0-10.5h0m.5 12h0m.5-12.5h0m.5 19.5h0m0-9h0m1-16.5h0m.5 11h0m0 33h0m.5-16h0m0 8.5h0m.5-9h0m.5 4.5h0m0-.5h0m.5-31.5h0m0 1.5h0m.5 11.5h0m.5-3.5h0m1 6.5h0m1 32.5h0m0-32h0m.5-18.5h0m.5 24.5h0m0-9h0m.5 14h0m.5-11.5h0m1 23.5h0m0-24h0m0 24h0m1-35.5h0m1 .5h0m3 9.5h0m.5 26.5h0m.5 1.5h0m.5-29h0m.5-5h0m0 33.5h0m2-33h0m.5 5.5h0m.5 26.5h0m1-24.5h0m.5 9.5h0m.5 25h0m1-14.5h0m.5-21h0m1.5 .5h0m0 12.5h0m8-4.5h0" stroke="#b5b5b7" stroke-width="3.4" stroke-linecap="round"/><text x="697.3" y="68.0" font-size="12.8" font-weight="bold" fill="#111">Probability of HF</text><text x="941.6" y="155.6" font-size="9.5" fill="#111">Probability of HF</text><rect x="941.6" y="160.4" width="10.5" height="48.6" fill="url(#cbgrad)"/><path d="M941.6 165.0h2.1M950.0 165.0h2.1" stroke="#fff" stroke-width="0.60" opacity="0.8"/><path d="M941.6 181.1h2.1M950.0 181.1h2.1" stroke="#fff" stroke-width="0.60" opacity="0.8"/><path d="M941.6 196.7h2.1M950.0 196.7h2.1" stroke="#fff" stroke-width="0.60" opacity="0.8"/><text x="954.8" y="167.9" font-size="9.1" fill="#111">0.03</text><text x="954.8" y="184.0" font-size="9.1" fill="#111">0.02</text><text x="954.8" y="199.6" font-size="9.1" fill="#111">0.01</text><path d="M63.3 332.3V542.0M100.8 332.3V542.0M138.3 332.3V542.0M175.8 332.3V542.0M213.3 332.3V542.0M250.8 332.3V542.0M37.4 539.2H255.7M37.4 518.0H255.7M37.4 496.8H255.7M37.4 475.5H255.7M37.4 454.2H255.7M37.4 433.0H255.7M37.4 411.8H255.7M37.4 390.5H255.7M37.4 369.2H255.7M37.4 348.0H255.7" stroke="#ebebeb" stroke-width="0.7" fill="none"/><text x="100.8" y="548.8" font-size="4.6" text-anchor="middle" fill="#4d4d4d">0</text><text x="175.8" y="548.8" font-size="4.6" text-anchor="middle" fill="#4d4d4d">1</text><text x="250.8" y="548.8" font-size="4.6" text-anchor="middle" fill="#4d4d4d">2</text><text x="34.9" y="349.7" font-size="4.6" text-anchor="end" fill="#4d4d4d">1.0</text><text x="34.9" y="392.2" font-size="4.6" text-anchor="end" fill="#4d4d4d">0.5</text><text x="34.9" y="434.7" font-size="4.6" text-anchor="end" fill="#4d4d4d">0.0</text><text x="34.9" y="477.2" font-size="4.6" text-anchor="end" fill="#4d4d4d">−0.5</text><text x="34.9" y="519.7" font-size="4.6" text-anchor="end" fill="#4d4d4d">−1.0</text><text x="146.6" y="556.0" font-size="6.4" text-anchor="middle">Dimension 1</text><text transform="translate(19.6,437.1) rotate(-90)" font-size="6.4" text-anchor="middle">Dimension 2</text><path d="M178.5 432.5h0m18.5 18.5h0m6-40h0m1-7h0m3 13.5h0m2.5 26.5h0m2-11.5h0m3.5-19.5h0m6-2h0m7 16h0m8 1h0" stroke="#63c5cf" stroke-width="3.5" stroke-linecap="round"/><path d="M185.5 433.5h0m0-5h0m3 8h0m4.5-21.5h0m3-.5h0m3.5 6h0m3.5 20.5h0m3.5-38.5h0m4 2h0m1.5 13h0m.5 6h0m4 17h0m17 2.5h0" stroke="#6bc7cc" stroke-width="3.5" stroke-linecap="round"/><path d="M181 431h0m.5 1h0m0 14.5h0m2.5-3.5h0m7 .5h0m9.5 2.5h0m0 4.5h0m11.5-14.5h0" stroke="#74c9ca" stroke-width="3.5" stroke-linecap="round"/><path d="M180 449h0m8-18.5h0m6.5 15.5h0" stroke="#7ccbc7" stroke-width="3.5" stroke-linecap="round"/><path d="M176 442h0m2.5-6h0m34-7h0" stroke="#84cdc5" stroke-width="3.5" stroke-linecap="round"/><path d="M167.5 437.5h0m.5 9.5h0m2.5-8.5h0m1.5 2h0m2.5 3h0m0 1.5h0" stroke="#8dd0c3" stroke-width="3.5" stroke-linecap="round"/><path d="M164.5 445.5h0m1-5.5h0m3.5 5.5h0m.5 2.5h0m1.5-1.5h0m3 .5h0m8-7h0" stroke="#95cfbf" stroke-width="3.5" stroke-linecap="round"/><path d="M158 444h0m3-3.5h0m3 2h0m1.5 5h0m4-5.5h0" stroke="#9fc9b7" stroke-width="3.5" stroke-linecap="round"/><path d="M147 445h0m3.5 .5h0m6.5-6h0m4 4h0" stroke="#a8c3b0" stroke-width="3.5" stroke-linecap="round"/><path d="M142 478h0m9-36.5h0m6.5 4h0" stroke="#b2bda8" stroke-width="3.5" stroke-linecap="round"/><path d="M117 409h0m15 31.5h0m6.5 2.5h0m.5-2.5h0m1.5 38.5h0m3-33.5h0m1.5 0h0m4-1.5h0m0 2h0" stroke="#bbb7a1" stroke-width="3.5" stroke-linecap="round"/><path d="M94.5 362h0m19.5 47.5h0m1-61.5h0m11.5 93h0m2 11.5h0m3.5 13h0m2.5 1h0m2 13h0m0-16.5h0m.5 15h0m1-2h0m3.5-5h0m.5 8h0m9.5 2.5h0" stroke="#c4b19a" stroke-width="3.5" stroke-linecap="round"/><path d="M87.5 377.5h0m14.5-20.5h0m3 70h0m1.5-81.5h0m2.5 24h0m12.5 74.5h0m1.5-2.5h0m3 9h0m3-11h0m0 20h0m1-13h0m1.5 14.5h0m1.5 1h0m0 .5h0m.5 6.5h0m1.5-12.5h0m.5 4h0m1 14.5h0m.5-1.5h0m1.5-7.5h0m3.5 9h0" stroke="#c9a992" stroke-width="3.5" stroke-linecap="round"/><path d="M89.5 402h0m1.5 8h0m0 4.5h0m.5 9.5h0m1-19.5h0m0-8.5h0m0-6.5h0m0 11h0m11 23.5h0m.5 2h0m2.5-75.5h0m1.5 62h0m0-36.5h0m1 .5h0m.5 37.5h0m1-3.5h0m0 7.5h0m1-70h0m1 61h0m2 29h0m.5-27.5h0m3-38.5h0m.5 70h0m.5-32h0m3 36.5h0m.5-7h0m4.5 7.5h0m1-1h0m1 8.5h0m2-6h0m0 9.5h0m2 7h0m1.5-5h0m1 7.5h0m1.5-3.5h0m7 17h0m14.5 4h0m4 2h0" stroke="#cea28a" stroke-width="3.5" stroke-linecap="round"/><path d="M87 380.5h0m1 20h0m.5 3h0m0 8.5h0m0-26.5h0m.5 8.5h0m0-3.5h0m0 15h0m.5 3h0m.5-10.5h0m1.5-6h0m1 19.5h0m.5-29h0m2-1h0m5.5 49h0m6.5 7h0m0-20.5h0m3 16.5h0m.5-14h0m.5-3h0m1 23.5h0m0-4.5h0m0-25h0m.5 2.5h0m5 28h0m0-5h0m0 9h0m1-32.5h0m1 31h0m45.5 47h0" stroke="#d49a81" stroke-width="3.5" stroke-linecap="round"/><path d="M89.5 398h0m2 18.5h0m13 16h0m0 3h0m1-16h0m0 10h0m0-11h0m2.5 21.5h0m1-29.5h0m.5 31.5h0m2-8h0m0 1.5h0m1 7.5h0m1.5-8.5h0m.5 10.5h0m0-37.5h0m0 35.5h0m1.5 2.5h0m11.5 56.5h0m1-1.5h0m4.5-47.5h0m16.5 51h0m16-10h0m1.5 1.5h0m1.5 0h0" stroke="#d99379" stroke-width="3.5" stroke-linecap="round"/><path d="M89.5 407h0m6.5 17h0m2.5 5.5h0m.5-1h0m2-1.5h0m.5-2.5h0m1.5 3.5h0m4 6.5h0m2.5 2.5h0m38 71.5h0m12.5-1h0m19-5.5h0" stroke="#de8b71" stroke-width="3.5" stroke-linecap="round"/><path d="M84.5 428h0m10.5-2h0m2 1h0m3.5-3h0m6 6.5h0m.5-3.5h0m3.5 5.5h0m45 76.5h0m.5 0h0m9.5-4.5h0" stroke="#e2856b" stroke-width="3.5" stroke-linecap="round"/><path d="M93 423.5h0m52.5 96.5h0m7.5-4.5h0" stroke="#e48065" stroke-width="3.5" stroke-linecap="round"/><path d="M152 525.5h0" stroke="#e77a5f" stroke-width="3.5" stroke-linecap="round"/><path d="M77 434.5h0m0-.5h0m.5 7h0m1.5-9h0" stroke="#ec6f53" stroke-width="3.5" stroke-linecap="round"/><path d="M45 415.5h0m1 5.5h0m10.5-5h0m1.5 5.5h0m12 3.5h0m1 2h0m2.5 14.5h0m2.5-18h0m.5 2h0m1 5h0m1 7.5h0" stroke="#ee694d" stroke-width="3.5" stroke-linecap="round"/><path d="M48.5 415.5h0m5 9h0m2 0h0m3.5-4.5h0m1.5 4h0m2 47h0m3.5-48.5h0m1.5 31.5h0m.5 7.5h0m2-15h0m0 13h0m1-36.5h0m.5 18.5h0m1.5-17.5h0m1 27h0m.5-7.5h0m4-15.5h0m.5 9h0m1-10h0m.5 2.5h0m2-2.5h0" stroke="#ee5d46" stroke-width="3.5" stroke-linecap="round"/><path d="M47.5 424h0m1.5 .5h0m1-8.5h0m1-.5h0m1 3.5h0m2-.5h0m1 1h0m.5-1.5h0m1 3.5h0m2-7.5h0m1 9h0m0 46h0m0 2.5h0m1-46h0m1 48h0m1-9h0m0 4.5h0m2-8h0m0 3.5h0m0-11.5h0m4.5 13.5h0m0-10h0m.5 6.5h0m4-17.5h0" stroke="#ee523e" stroke-width="3.5" stroke-linecap="round"/><path d="M52.5 415h0m5 59.5h0m1-9.5h0m4 6h0m4.5-2.5h0m.5-46.5h0m1.5 50.5h0" stroke="#ee4737" stroke-width="3.5" stroke-linecap="round"/><path d="M53.5 484h0m4-11.5h0m1 1.5h0m1.5 1h0m6-.5h0m0 13.5h0m.5-17.5h0" stroke="#ee3b2f" stroke-width="3.5" stroke-linecap="round"/><path d="M55.5 497.5h0m1.5 0h0m0-28h0m1 23h0m4.5-20.5h0m1.5 2.5h0m.5 16.5h0m7.5-3h0" stroke="#ee3028" stroke-width="3.5" stroke-linecap="round"/><path d="M199 408h0m7.5 5.5h0m0-14h0m3.5 26h0m3 9h0m0-2.5h0m5.5-9.5h0m7-5h0m4.5 37h0" stroke="#63c5cf" stroke-width="3.5" stroke-linecap="round"/><path d="M177.5 433.5h0m3.5 1h0m2 4h0m8-2h0m4-25h0m0 39h0m3-5h0m0-14h0m.5-4h0m3.5-5h0m1.5 29.5h0m2-39.5h0m2 22h0m.5 16.5h0m1-29h0m2.5 24.5h0m1.5-16.5h0m0 10h0m8.5-13.5h0" stroke="#6bc7cc" stroke-width="3.5" stroke-linecap="round"/><path d="M176 448.5h0m2.5 .5h0m3.5-19.5h0m2-3h0m1.5-3h0m14.5 17.5h0m3-9.5h0m6-5.5h0m3 3h0" stroke="#74c9ca" stroke-width="3.5" stroke-linecap="round"/><path d="M186.5 436.5h0m7 14h0m20.5-31.5h0" stroke="#7ccbc7" stroke-width="3.5" stroke-linecap="round"/><path d="M168.5 443h0m6.5-5.5h0m2.5 1.5h0m2-2.5h0m2 6.5h0" stroke="#84cdc5" stroke-width="3.5" stroke-linecap="round"/><path d="M175 436.5h0m1.5 9.5h0m2 1h0m1.5-8h0m3 2.5h0" stroke="#8dd0c3" stroke-width="3.5" stroke-linecap="round"/><path d="M148 441h0m14 4.5h0m3.5-3.5h0m2 0h0m0 3.5h0m2-6h0m3-3h0" stroke="#95cfbf" stroke-width="3.5" stroke-linecap="round"/><path d="M147.5 443h0m4 4.5h0m8.5-1.5h0m5-3h0" stroke="#9fc9b7" stroke-width="3.5" stroke-linecap="round"/><path d="M144.5 443h0m5.5 4h0m3.5-5h0m0 2.5h0m2-3.5h0m8.5-1.5h0" stroke="#a8c3b0" stroke-width="3.5" stroke-linecap="round"/><path d="M139.5 445h0m4.5-3h0m3 0h0m7-2h0m1 5h0m1.5 1h0" stroke="#b2bda8" stroke-width="3.5" stroke-linecap="round"/><path d="M131 447h0m.5-5h0m3.5-1.5h0m5.5 4h0m.5 30h0m1-29.5h0m1.5-1h0" stroke="#bbb7a1" stroke-width="3.5" stroke-linecap="round"/><path d="M108.5 375h0m1.5-25h0m0 71.5h0m1.5-44.5h0m17.5 66.5h0m.5 16h0m.5-2h0m2.5-12h0m2-2.5h0m1 3.5h0m1 25.5h0m1-27h0m1 26.5h0m.5 3h0m1 1.5h0m.5-4h0" stroke="#c4b19a" stroke-width="3.5" stroke-linecap="round"/><path d="M90.5 400h0m12.5 26.5h0m2.5-3h0m3.5-65.5h0m4 57h0m0-2h0m5-1h0m2 2h0m3.5 34.5h0m.5-8h0m0 6.5h0m0-3.5h0m3.5-2.5h0m1 15h0m.5-4.5h0m.5-9.5h0m.5 8.5h0m.5 3.5h0m1-10.5h0m1 23.5h0m1.5-9.5h0m.5 5h0m.5 8h0m1 15h0m1-4.5h0m2-11h0m.5-3.5h0m8 14h0" stroke="#c9a992" stroke-width="3.5" stroke-linecap="round"/><path d="M88.5 386.5h0m0 10.5h0m1-16.5h0m.5-9.5h0m0 11h0m.5-14h0m0 37.5h0m0-12.5h0m.5 20h0m0-26h0m.5-21.5h0m.5 26.5h0m.5-10h0m11 39h0m2.5-5h0m0 6h0m.5-1.5h0m.5 5h0m1-4.5h0m1-10h0m0 5.5h0m0-2.5h0m.5-2.5h0m1.5-55h0m1.5 61.5h0m1-11h0m.5-65.5h0m0 74.5h0m1-41h0m0 40h0m.5 25h0m.5-27h0m.5 25.5h0m.5-23.5h0m1-7h0m.5 38h0m.5-30.5h0m1 25h0m0-28.5h0m5 33.5h0m2-1.5h0m3.5 13h0m.5-12h0m0 5h0m1.5 5h0m0 4.5h0m5 24.5h0" stroke="#cea28a" stroke-width="3.5" stroke-linecap="round"/><path d="M87.5 389h0m1-5h0m1 5h0m0 29h0m.5-15h0m0-23h0m0 4.5h0m.5 12.5h0m0 29h0m0-.5h0m.5-30h0m0-12.5h0m.5-19h0m1 64.5h0m.5-7.5h0m.5-35.5h0m10 50.5h0m1-4h0m2-17h0m1 2.5h0m0 6h0m.5 1.5h0m7.5 16h0m3.5-32h0m1 37.5h0m1-5.5h0m1.5 2h0m2 2.5h0m5.5 50h0m5-22.5h0m14 9h0m15.5 5.5h0m2.5 4.5h0m1 2.5h0" stroke="#d49a81" stroke-width="3.5" stroke-linecap="round"/><path d="M89 420.5h0m0 1.5h0m.5-14h0m0 9h0m1 11h0m.5-26.5h0m.5 21h0m0-5.5h0m0-3h0m9.5 19h0m1.5 1h0m4 3h0m3.5 1h0m1.5 0h0m1 2.5h0m3-4h0m3.5 7.5h0m2-5.5h0m44.5 63h0" stroke="#d99379" stroke-width="3.5" stroke-linecap="round"/><path d="M87.5 425.5h0m.5 4h0m10.5-1.5h0m2.5 5.5h0m.5-5h0m5 4.5h0m2-2.5h0m.5-2h0m4 13h0m5-3.5h0m31.5 62h0" stroke="#de8b71" stroke-width="3.5" stroke-linecap="round"/><path d="M83.5 428.5h0m2-.5h0m1-1h0m1 2h0m2-1h0m1.5-9.5h0m1.5 9h0m3 1h0m4.5-2.5h0m44.5 84.5h0" stroke="#e2856b" stroke-width="3.5" stroke-linecap="round"/><path d="M97 425h0m51 93.5h0" stroke="#e48065" stroke-width="3.5" stroke-linecap="round"/><path d="M143 512h0" stroke="#e77a5f" stroke-width="3.5" stroke-linecap="round"/><path d="M74 422h0" stroke="#e97559" stroke-width="3.5" stroke-linecap="round"/><path d="M69 423h0m5.5 4h0m.5-2h0m4.5 13h0" stroke="#ec6f53" stroke-width="3.5" stroke-linecap="round"/><path d="M46 420.5h0m3.5-.5h0m1.5-2h0m4.5-1.5h0m1 7h0m6.5-2.5h0m2.5-.5h0m8 7h0m3.5 1h0m0 7h0m.5-8h0m.5 13h0m2-9.5h0m1-6.5h0m.5 8h0m1-7.5h0m2.5 .5h0" stroke="#ee694d" stroke-width="3.5" stroke-linecap="round"/><path d="M44.5 418.5h0m.5 3h0m2-3.5h0m0-5h0m.5 1.5h0m.5 6h0m1.5-8.5h0m2.5 .5h0m0 11h0m4-9h0m3.5 1.5h0m.5-2h0m2 8h0m.5-3.5h0m0 5.5h0m1.5 30h0m2.5-2h0m0 6.5h0m.5-9h0m.5-24h0m.5 27.5h0m.5-32h0m1 31h0m.5-4.5h0m.5-3h0m1-19h0m.5 14.5h0m0-18h0m1 30h0m1.5-10.5h0m0 7.5h0m1.5-4h0m2-20.5h0m3 6h0" stroke="#ee5d46" stroke-width="3.5" stroke-linecap="round"/><path d="M47 416.5h0m2 4.5h0m2 2h0m1-7h0m.5 6.5h0m0 55h0m1-53.5h0m.5-2h0m2.5-2.5h0m1.5-1h0m1 .5h0m.5 3h0m1.5 37h0m.5-38.5h0m0 42.5h0m.5 3.5h0m0-49.5h0m2 48h0m1.5-5.5h0m0 7.5h0m0-42h0m.5 38h0m3-14h0m1.5 4.5h0m.5 .5h0m1-11h0m1 5.5h0" stroke="#ee523e" stroke-width="3.5" stroke-linecap="round"/><path d="M57.5 469.5h0m2.5-.5h0m1-8h0m1.5-2.5h0m1.5-36.5h0m0 35.5h0m.5-34h0m1 48h0m1-23h0m2 31h0m1-22h0" stroke="#ee4737" stroke-width="3.5" stroke-linecap="round"/><path d="M49 418h0m4 55.5h0m1 12.5h0m2-17h0m3.5-1h0m8 3.5h0m0 0h0m1 5.5h0m.5 13.5h0m2-9h0" stroke="#ee3b2f" stroke-width="3.5" stroke-linecap="round"/><path d="M53 472h0m0 18h0m1 4h0m0 1h0m1-24.5h0m0 1.5h0m.5 2.5h0m1.5 .5h0m3 23.5h0m2-2h0m1 1.5h0m2-1.5h0m1.5-4h0m1-18h0m1.5 17.5h0m0-16.5h0" stroke="#ee3028" stroke-width="3.5" stroke-linecap="round"/><path d="M52.5 479h0m1 3.5h0m0-7h0m0 14h0m.5-2h0m0 4.5h0m0-10h0m1 2h0m0 2h0m0 .5h0m.5-9h0m0 11h0m.5-9.5h0m0 2.5h0m0-5h0m.5 17.5h0m0-2.5h0m.5 8h0m0-21h0m0 .5h0m.5 4h0m0 3h0m0 11.5h0m.5-3.5h0m0-3.5h0m.5-6.5h0m0 11h0m.5 4.5h0m0-6h0m0-15.5h0m0 3h0m.5-18h0m0 20h0m0 5.5h0m.5-4.5h0m0 2.5h0m.5-21h0m.5 26h0m0-11.5h0m0 12.5h0m.5 2h0m0-10.5h0m0-8h0m.5 5.5h0m0-1.5h0m.5 8h0m0-10.5h0m0 8.5h0m0 8.5h0m.5-4h0m0-7.5h0m.5 8.5h0m0-30h0m0-4.5h0m0 9.5h0m.5 15h0m0 2.5h0m0-6h0m.5-2h0m0 12.5h0m0 8.5h0m.5-18h0m.5-10.5h0m0 17.5h0m0-2.5h0m0-26.5h0m.5 37h0m0-12.5h0m0 13.5h0m0-37h0m.5 26h0m0-7.5h0m0 17h0m0-7h0m.5-9h0m0 5.5h0m0 7.5h0m.5-10h0m0-15.5h0m.5 20h0m0-25h0m.5 29h0m.5-38.5h0m0 11h0m.5 21.5h0m0-20h0m.5 24h0m.5-31h0m0-13.5h0m0 36.5h0m0 6h0m0-27.5h0m0 31.5h0m.5-2h0m0-36.5h0m0-2h0m.5 31.5h0m1.5 2h0m.5-35.5h0m1-7h0m1 .5h0m.5-2h0m0 4.5h0m3.5-8.5h0m8.5-57h0m.5-4h0m.5 2h0m1 0h0m.5 2.5h0m.5-4.5h0m0 4h0m.5-8h0m.5 9h0m.5-7.5h0m0-5h0m0 7.5h0m.5-5.5h0m0 8.5h0m0-6h0m0 9.5h0m.5-5h0m1-3h0m.5 3h0m0-7.5h0m0-6h0m0 15h0m0-12.5h0m.5 6.5h0m0 8.5h0m.5-5.5h0m.5-8h0m0-2h0m0 0h0m1 8h0m0-11h0m0 12.5h0m0 2h0m0-5.5h0m0-1.5h0m.5-8h0m.5 2h0m0 4.5h0m0 1.5h0m.5-7.5h0m0 4h0m.5 10h0m.5-4h0m0-12.5h0m0 11.5h0m.5 3.5h0m0-13.5h0m.5 5h0m0 6.5h0m.5 61h0m0-70h0m0 4h0m0 1.5h0m0-7h0m.5 8.5h0m.5-3h0m0-3h0m.5-8h0m.5 3.5h0m0 2.5h0m.5 3h0m.5 5.5h0m0-7.5h0m0 7h0m.5 68.5h0m0-70.5h0m1-8.5h0m.5-1h0m0 8.5h0m0-5h0m0 2h0m0 5h0m0-9.5h0m.5 4h0m.5 7h0m.5-1.5h0m.5-15.5h0m0 5.5h0m0 76h0m.5-73.5h0m0 5h0m0-2.5h0m.5 8.5h0m0 2.5h0m.5-7.5h0m0 2h0m0-4.5h0m.5 14h0m.5-3h0m0-3.5h0m0-5.5h0m.5-5.5h0m0-3h0m0 11.5h0m0-6h0m.5 10.5h0m0-2h0m1 3h0m0-6.5h0m.5 5h0m.5-15h0m0 11.5h0m0-6.5h0m0-1.5h0m.5 3.5h0m0 .5h0m0 6h0m.5-7h0m0-3.5h0m.5 7.5h0m1 1.5h0m0 4.5h0m.5-10.5h0m.5 1.5h0m.5 2.5h0m0-5.5h0m0 78.5h0m0-75h0m1.5-2.5h0m.5 4h0m4 83h0m3.5-1.5h0m1 51h0m.5-2h0m1 1h0m.5 3.5h0m.5-4.5h0m.5-3.5h0m.5 7.5h0m0-2.5h0m.5-7.5h0m0 4.5h0m.5 2h0m0-3.5h0m0-3.5h0m.5-45h0m0 56h0m0 2.5h0m.5-3.5h0m0 16.5h0m0-19h0m0-3h0m.5 28.5h0m0-37h0m.5 15.5h0m0-9.5h0m.5 5h0m0-9h0m0 15.5h0m0-61h0m0 50h0m.5 8h0m0-19h0m0 8h0m1-25.5h0m0 38.5h0m.5-4h0m0-29.5h0m0 18.5h0m0-47h0m0 59.5h0m0-23h0m0 18h0m.5-4h0m0 12.5h0m0 15.5h0m0-13.5h0m0-9.5h0m0-13.5h0m0 3.5h0m0 7.5h0m.5-25h0m0-23.5h0m0 50h0m.5-5.5h0m0-9h0m0 24.5h0m.5-18.5h0m0 4.5h0m0 12h0m0-18.5h0m.5 14.5h0m.5-22.5h0m0 13h0m0 4h0m0-12.5h0m0 19.5h0m.5 3h0m0-9h0m0-9h0m0 16h0m0 24.5h0m0-85h0m.5 64.5h0m0-14.5h0m0-45h0m0 39h0m0 12h0m.5 10h0m0-.5h0m0-19.5h0m0 11.5h0m0-15h0m.5 22.5h0m0-25h0m0 14.5h0m.5 8h0m0-14.5h0m0 3.5h0m0 25.5h0m0-36.5h0m0 25.5h0m0-7h0m0 6h0m.5-22.5h0m.5 18h0m0-13.5h0m0-8h0m0 15.5h0m0 5h0m0-2h0m0-7.5h0m.5 6h0m0-10h0m.5 20.5h0m0-3.5h0m0-22.5h0m0 11h0m.5 5h0m0-8.5h0m.5 41h0m0-50h0m0 10.5h0m0 12h0m0-18.5h0m.5 3h0m0 8h0m0 10h0m.5-8.5h0m0 24.5h0m.5-39h0m0 13h0m.5-9h0m0 5.5h0m0-3h0m0 16h0m0-3.5h0m0-9h0m.5-4.5h0m0 18.5h0m0-5h0m.5 6.5h0m0-19h0m0-4.5h0m0-2h0m.5 40.5h0m0-26h0m0-10h0m.5-47.5h0m0 44h0m0 22.5h0m.5-11.5h0m0 6h0m0-7.5h0m.5 5.5h0m0 4h0m0 10h0m0-69.5h0m0 54.5h0m0-3.5h0m0-4h0m.5-8.5h0m0 7.5h0m0-7h0m0 10h0m0 26h0m0-10.5h0m0-3.5h0m.5-17.5h0m0 14.5h0m0-62h0m.5 64h0m0-15.5h0m0 44.5h0m0-21.5h0m.5-18.5h0m0 7.5h0m0-4h0m0-11.5h0m.5-42h0m0 64h0m0 12.5h0m.5 .5h0m0-15.5h0m0 12h0m.5-10h0m0-7.5h0m0-15h0m0 3h0m0 15h0m.5-13h0m0 2.5h0m.5 .5h0m0 5h0m0 9.5h0m0-21.5h0m.5 9.5h0m0 5.5h0m0-55.5h0m0 59h0m0-15.5h0m.5 11h0m0-5.5h0m.5-3h0m0 8h0m0-15h0m0 31.5h0m0-18.5h0m.5 9h0m0-15h0m.5-2h0m0 14h0m0-10h0m0 15h0m.5-65h0m0 81.5h0m0-22h0m.5-15.5h0m0 11h0m0-57.5h0m0 71.5h0m.5-19h0m0 12.5h0m0-59h0m0 56h0m0 4.5h0m0-13h0m.5-5.5h0m0 15.5h0m0-4h0m0-14h0m0 10.5h0m.5-5.5h0m0-4.5h0m0-43h0m0 59h0m.5-7h0m0-47.5h0m.5 67h0m0-16h0m.5 6h0m0-8.5h0m0-10h0m0 13.5h0m.5-57h0m0 60.5h0m0-5h0m0-5.5h0m0-4.5h0m1 19h0m0-2.5h0m0-2.5h0m0 17h0m0-28h0m0 2.5h0m.5 .5h0m0-48h0m.5 52h0m.5 5h0m0-3h0m0 6h0m0-14h0m0-53.5h0m0 10h0m.5 47h0m0-1h0m.5 3.5h0m0-3.5h0m.5-2.5h0m.5 0h0m.5 7.5h0m0 0h0m1-6.5h0m0-56h0m1 64h0m0-8.5h0m.5-52.5h0m0 52.5h0m0 3h0m.5-52.5h0m.5 3h0m0 56.5h0m.5-55h0m0 54h0m0-58.5h0m.5 1h0m1-2h0m0 61.5h0m.5-65.5h0m1 2.5h0m3 60.5h0m0-56.5h0m0 51h0m.5-53.5h0m.5 5.5h0m.5-1h0m.5-8h0m.5 5h0m0-1.5h0m0-5h0m.5 9h0m1.5-11.5h0m.5 2h0m0 71h0m0-72h0m0-5.5h0m.5 19h0m.5-3h0m0 56.5h0m.5-73h0m0 10.5h0m0 2.5h0m.5-15.5h0m0 19.5h0m0-13.5h0m.5-5.5h0m0 19h0m.5-8.5h0m0-7.5h0m.5-4.5h0m0 7h0m0 15.5h0m.5 64h0m0-68.5h0m.5 1h0m0-3h0m0-14h0m0 20h0m.5-8h0m0-1h0m.5 10.5h0m0-6h0m0-8.5h0m0-2h0m.5-4.5h0m0 19h0m.5-21.5h0m0-2.5h0m0-1h0m.5 18.5h0m0 1.5h0m0-3.5h0m0-7.5h0m0-4.5h0m.5 17.5h0m.5-9h0m0-6.5h0m0-5h0m0-3.5h0m.5 28h0m0-9h0m0-13h0m0 21.5h0m0-29h0m0 15h0m0-2.5h0m0-10h0m.5-.5h0m.5 12h0m0 5.5h0m0-14.5h0m0 20h0m.5-2h0m0-8.5h0m0 15h0m0 .5h0m.5-22.5h0m0 1h0m0-11h0m0 23.5h0m.5 3.5h0m0-13.5h0m0-11h0m.5-2.5h0m0 20h0m0-15.5h0m0 20.5h0m.5-10h0m0-3.5h0m0 5.5h0m0 7h0m0-16.5h0m.5-4.5h0m0 19h0m0 10h0m.5-.5h0m0-12h0m0-24.5h0m0 11.5h0m.5 7h0m0-4.5h0m0-12.5h0m0 20h0m0-6h0m0-1h0m.5-5h0m0 9.5h0m0 4h0m0 3.5h0m0 5h0m.5 6h0m0-29.5h0m0 22h0m0-18h0m0 20.5h0m0 1.5h0m.5 6h0m0-35.5h0m0-1h0m0 4h0m0 18h0m.5-15.5h0m0 18h0m.5-29h0m0 18h0m0 19h0m0-11.5h0m.5-1h0m0-4.5h0m0-19.5h0m0 11.5h0m0-5.5h0m0-3h0m.5 19.5h0m0 16h0m0-6h0m0-13.5h0m0-6h0m.5 14.5h0m0-29h0m.5 5h0m0 12.5h0m.5-14.5h0m0 17.5h0m0-11h0m0-2h0m0 23h0m.5-13h0m0 18.5h0m0-7h0m0 14h0m0-32.5h0m0-2h0m.5 24h0m0-1h0m0-16h0m0 8.5h0m0-32h0m0 37h0m0-3h0m.5 15.5h0m0-35.5h0m0 32.5h0m0-3.5h0m0 3.5h0m.5-11.5h0m0-28.5h0m0 21.5h0m0-5.5h0m0 21h0m.5-24.5h0m0 5h0m0-28.5h0m0 53.5h0m0-23.5h0m0 8h0m.5-22h0m0 27.5h0m0-31h0m0 20h0m.5-14h0m0-5h0m0 33.5h0m0-11.5h0m0 17h0m0-32.5h0m0 1.5h0m.5 24.5h0m0-17.5h0m0 6h0m0 16.5h0m0-13h0m.5-23h0m0 25h0m0-15h0m0 23.5h0m.5-20h0m0 23.5h0m.5-28h0m0 18h0m0-21.5h0m0 10h0m.5-6h0m0 22h0m0-14.5h0m0 24h0m0-6.5h0m0-10h0m0 1.5h0m0 2.5h0m0-17.5h0m.5-2h0m0 20h0m0-17h0m0 29.5h0m0-20.5h0m0 16.5h0m.5-29.5h0m0 20.5h0m0 18h0m0-42.5h0m.5 30.5h0m0-15.5h0m0 6h0m0-19h0m.5-22.5h0m0 32.5h0m0 29.5h0m0-21h0m.5 4h0m0 10.5h0m0-3.5h0m0-19.5h0m.5 5h0m0 20h0m0-54h0m0 50h0m0-7.5h0m0-12.5h0m0 27h0m.5-10.5h0m0-21h0m0 26.5h0m0-13h0m.5-6.5h0m0 4h0m0 17.5h0m.5 5h0m0-30.5h0m0 28.5h0m0-12h0m0-24h0m0 24h0m0-1.5h0m0-16h0m1 18h0m0-4h0m.5-20.5h0m.5 12h0m1 7h0m0-9h0m1 13.5h0m0-19h0m0 33h0m.5-16.5h0m0 9h0m1-4.5h0m.5-.5h0m0-26h0m0-5.5h0m0 1.5h0m0 18.5h0m0-11.5h0m.5 4.5h0m1 1h0m.5 21h0m0-14h0m0-5h0m1 32h0m0-31.5h0m1-2h0m0 8h0m0-13h0m0 18h0m.5-11.5h0m1 23.5h0m0-24h0m0 1h0m.5 23h0m0-22.5h0m1-13h0m4 36.5h0m0 1.5h0m1-29h0m0-5h0m2 .5h0m.5 5.5h0m.5 26.5h0m0-21h0m1-3.5h0m.5 9.5h0m.5 25h0m1-14.5h0m.5 13h0m1.5-33h0m0 12h0m7.5-4.5h0" stroke="#b5b5b7" stroke-width="3.4" stroke-linecap="round"/><text x="37.3" y="328.0" font-size="12.8" font-weight="bold" fill="#111">Probability of Stroke</text><text x="265.7" y="414.6" font-size="9.5" fill="#111">Probability of Stroke</text><rect x="265.7" y="419.4" width="10.5" height="48.6" fill="url(#cbgrad)"/><path d="M265.7 420.8h2.1M274.1 420.8h2.1" stroke="#fff" stroke-width="0.60" opacity="0.8"/><path d="M265.7 430.0h2.1M274.1 430.0h2.1" stroke="#fff" stroke-width="0.60" opacity="0.8"/><path d="M265.7 439.1h2.1M274.1 439.1h2.1" stroke="#fff" stroke-width="0.60" opacity="0.8"/><path d="M265.7 448.2h2.1M274.1 448.2h2.1" stroke="#fff" stroke-width="0.60" opacity="0.8"/><path d="M265.7 457.3h2.1M274.1 457.3h2.1" stroke="#fff" stroke-width="0.60" opacity="0.8"/><path d="M265.7 466.1h2.1M274.1 466.1h2.1" stroke="#fff" stroke-width="0.60" opacity="0.8"/><text x="278.6" y="423.7" font-size="9.1" fill="#111">0.035</text><text x="278.6" y="432.9" font-size="9.1" fill="#111">0.030</text><text x="278.6" y="442.0" font-size="9.1" fill="#111">0.025</text><text x="278.6" y="451.1" font-size="9.1" fill="#111">0.020</text><text x="278.6" y="460.2" font-size="9.1" fill="#111">0.015</text><text x="278.6" y="469.0" font-size="9.1" fill="#111">0.010</text><path d="M723.0 332.3V542.0M758.8 332.3V542.0M794.6 332.3V542.0M830.4 332.3V542.0M866.2 332.3V542.0M902.0 332.3V542.0M698.3 539.2H906.7M698.3 518.0H906.7M698.3 496.8H906.7M698.3 475.5H906.7M698.3 454.2H906.7M698.3 433.0H906.7M698.3 411.8H906.7M698.3 390.5H906.7M698.3 369.2H906.7M698.3 348.0H906.7" stroke="#ebebeb" stroke-width="0.7" fill="none"/><text x="758.8" y="548.8" font-size="4.6" text-anchor="middle" fill="#4d4d4d">0</text><text x="830.4" y="548.8" font-size="4.6" text-anchor="middle" fill="#4d4d4d">1</text><text x="902.0" y="548.8" font-size="4.6" text-anchor="middle" fill="#4d4d4d">2</text><text x="695.8" y="349.7" font-size="4.6" text-anchor="end" fill="#4d4d4d">1.0</text><text x="695.8" y="392.2" font-size="4.6" text-anchor="end" fill="#4d4d4d">0.5</text><text x="695.8" y="434.7" font-size="4.6" text-anchor="end" fill="#4d4d4d">0.0</text><text x="695.8" y="477.2" font-size="4.6" text-anchor="end" fill="#4d4d4d">−0.5</text><text x="695.8" y="519.7" font-size="4.6" text-anchor="end" fill="#4d4d4d">−1.0</text><text x="802.5" y="556.0" font-size="6.4" text-anchor="middle">Dimension 1</text><text transform="translate(679.6,437.1) rotate(-90)" font-size="6.4" text-anchor="middle">Dimension 2</text><path d="M705 418.5h0m1.5 2.5h0m1-8h0m.5 11h0m1 .5h0m2-6.5h0m.5 5h0m2 61h0m0-59.5h0m2 47.5h0m0-54h0m1 5.5h0m1.5-2h0m1-1.5h0m0-1h0m0 4h0m2 50.5h0m1.5-49.5h0m0 47h0m1-17h0m.5-30.5h0m4-.5h0m0 43.5h0m2-24h0m.5 11.5h0m1.5-5.5h0m1-26.5h0m.5 19.5h0m.5-16.5h0m1 20h0m1.5-14.5h0m.5-6h0m.5 3.5h0m.5 9h0m0-5h0m2 .5h0m1.5-7.5h0m5.5-28h0m.5 8.5h0m1.5 20.5h0m0 2h0m.5-9.5h0m0-1.5h0m.5-3h0m0 10h0m.5-28h0m.5 15.5h0m.5 12h0m3 .5h0m.5 1h0m3 1h0m6-11h0m.5 19.5h0m.5-17.5h0m.5 8h0m1-14.5h0m1.5 22h0m0-14.5h0m1.5-7.5h0m1.5-3.5h0m3 2h0m.5 27h0m6.5 14h0m1-4.5h0m1.5-1.5h0m3 6.5h0m.5 3.5h0m.5-5.5h0m1.5 11h0m1.5 .5h0m2.5 15h0m.5-11h0m3 8h0m.5 2.5h0m1 .5h0m1.5 32h0m4 1.5h0m8 .5h0m11.5-14.5h0" stroke="#63c5cf" stroke-width="3.5" stroke-linecap="round"/><path d="M709 418h0m3.5 4.5h0m.5 56.5h0m0-5.5h0m.5 2h0m.5-51.5h0m0 70h0m2-12.5h0m.5-65.5h0m.5 81.5h0m.5-23h0m1.5 25h0m0-30.5h0m1-45h0m.5 41.5h0m.5-45h0m1 76h0m0-78h0m1 2.5h0m.5 36h0m1.5 11.5h0m.5 25.5h0m0-19.5h0m1-6h0m.5-14.5h0m0-28.5h0m0 39.5h0m0 6.5h0m1-50.5h0m1 36.5h0m.5-11h0m0-21.5h0m0 31h0m1-7.5h0m0-23h0m.5 17.5h0m.5 45h0m.5-6h0m1-35.5h0m.5-7h0m0 4h0m.5-16.5h0m1-3.5h0m3.5 10.5h0m0 4h0m.5-7h0m4.5-3h0m2.5-39h0m0 36.5h0m1.5-40h0m0 35h0m.5-12h0m0 19.5h0m.5-46h0m1 28h0m0 12.5h0m1 6h0m.5-1h0m4-.5h0m1.5 1h0m2.5 5.5h0m0-6.5h0m.5-2.5h0m1 2h0m1-2.5h0m1 11.5h0m.5-16h0m1 11h0m.5 2.5h0m1-9.5h0m0-11h0m2 29.5h0m.5-31.5h0m1 25h0m.5 4.5h0m0-31h0m.5 9h0m0 23.5h0m1.5-25.5h0m.5-5.5h0m.5 4.5h0m2.5 25.5h0m0-2.5h0m1.5-29h0m.5 31.5h0m1-2h0m1.5 4.5h0m1.5-2.5h0m3 6.5h0m.5-1h0m1 6.5h0m1.5 4.5h0m1-7h0m1 17h0m.5-4.5h0m.5-16.5h0m0 58.5h0m1-42h0m2 .5h0m3 3.5h0m.5 9.5h0m5.5 55h0m13.5-23.5h0m4.5-2h0m.5-1h0" stroke="#6bc7cc" stroke-width="3.5" stroke-linecap="round"/><path d="M720 475h0m1.5-12h0m2 3.5h0m1.5 5h0m2 0h0m1-21h0m1-3h0m7-13.5h0m1 6.5h0m2.5-11h0m7-29h0m.5 3h0m0 8.5h0m1.5-27.5h0m.5 8.5h0m1-1h0m1.5-9.5h0m1.5-21.5h0m.5 20.5h0m0 47h0m5.5 3h0m3.5 .5h0m1.5 5h0m3-23h0m3 29h0m.5-30h0m.5-55.5h0m1 50h0m0 35.5h0m0-79h0m1.5 49h0m3.5-1h0m3 29.5h0m.5 7h0m.5-1.5h0m4 9h0m1.5-9.5h0m1-1.5h0m2 20h0m2-8.5h0m2.5 21.5h0m21.5 7.5h0m2.5 2h0" stroke="#74c9ca" stroke-width="3.5" stroke-linecap="round"/><path d="M725 459.5h0m20.5-32.5h0m0-46.5h0m.5-3h0m1 9h0m.5 7.5h0m.5-5h0m.5-18h0m.5 29h0m.5-17h0m5-20h0m9.5-12.5h0m1 67h0m2-3.5h0m2-37h0m40 67.5h0m0-2h0m3.5-3h0m1.5 2.5h0m11-3.5h0m.5 7h0" stroke="#7ccbc7" stroke-width="3.5" stroke-linecap="round"/><path d="M749 368h0m15-10h0m2-.5h0m.5 19h0m6-28.5h0m24 96.5h0m16.5 1h0m6.5-3h0m.5 .5h0m7.5-6.5h0m2 0h0m1.5 9.5h0m1.5-4.5h0m2.5 4h0m2-4h0" stroke="#84cdc5" stroke-width="3.5" stroke-linecap="round"/><path d="M766 376h0m7.5-2h0m38 70h0m6-2h0m2 3.5h0m1 2.5h0m2-6h0m0-4.5h0m6.5 6h0m0-3.5h0m3 4h0m1 3h0m.5-1h0m.5-8h0" stroke="#8dd0c3" stroke-width="3.5" stroke-linecap="round"/><path d="M824.5 442h0m0 6h0m6 .5h0m4-7h0" stroke="#95cfbf" stroke-width="3.5" stroke-linecap="round"/><path d="M832 433.5h0" stroke="#9fc9b7" stroke-width="3.5" stroke-linecap="round"/><path d="M834.5 449h0" stroke="#a8c3b0" stroke-width="3.5" stroke-linecap="round"/><path d="M835.5 432h0" stroke="#b2bda8" stroke-width="3.5" stroke-linecap="round"/><path d="M835.5 434.5h0m.5 12h0m0-17h0m2 10h0" stroke="#bbb7a1" stroke-width="3.5" stroke-linecap="round"/><path d="M840 425.5h0" stroke="#c4b19a" stroke-width="3.5" stroke-linecap="round"/><path d="M842 434.5h0m2.5-6h0" stroke="#c9a992" stroke-width="3.5" stroke-linecap="round"/><path d="M844.5 423.5h0m.5-5h0" stroke="#cea28a" stroke-width="3.5" stroke-linecap="round"/><path d="M848.5 446h0" stroke="#d49a81" stroke-width="3.5" stroke-linecap="round"/><path d="M847.5 418.5h0m3 22.5h0" stroke="#d99379" stroke-width="3.5" stroke-linecap="round"/><path d="M846.5 448h0m6.5-15h0" stroke="#de8b71" stroke-width="3.5" stroke-linecap="round"/><path d="M854.5 429.5h0" stroke="#e48065" stroke-width="3.5" stroke-linecap="round"/><path d="M855.5 438h0" stroke="#e77a5f" stroke-width="3.5" stroke-linecap="round"/><path d="M856.5 407.5h0" stroke="#e97559" stroke-width="3.5" stroke-linecap="round"/><path d="M859 425h0m1 27.5h0m1-3.5h0m.5-12.5h0" stroke="#ec6f53" stroke-width="3.5" stroke-linecap="round"/><path d="M859.5 399.5h0m2.5 57.5h0m1.5-33h0m1-4.5h0" stroke="#ee694d" stroke-width="3.5" stroke-linecap="round"/><path d="M864.5 432.5h0m.5 3.5h0m.5 8h0m.5-4h0m1.5-10.5h0" stroke="#ee523e" stroke-width="3.5" stroke-linecap="round"/><path d="M872 448h0" stroke="#ee4737" stroke-width="3.5" stroke-linecap="round"/><path d="M870 418.5h0m17.5 43.5h0m1.5-33h0" stroke="#ee3b2f" stroke-width="3.5" stroke-linecap="round"/><path d="M887 449h0" stroke="#ee3028" stroke-width="3.5" stroke-linecap="round"/><path d="M705.5 421.5h0m0-6h0m1 5h0m1-2.5h0m.5-3.5h0m0 6h0m1-5h0m.5 5.5h0m0-1h0m1.5-4.5h0m1-3h0m0 11h0m.5-4.5h0m0-3h0m.5 56h0m1 15.5h0m0 7.5h0m0-3h0m.5-73.5h0m.5 1h0m1 49.5h0m0-54.5h0m.5 5h0m1.5-1h0m.5-4.5h0m1 54h0m0 3.5h0m0-55.5h0m0-2h0m.5 11.5h0m2-3.5h0m.5 36.5h0m.5 33h0m.5-26.5h0m0-43h0m.5 52.5h0m0-13.5h0m1-36h0m.5 32h0m0 6h0m0-40.5h0m1.5 52h0m0-52.5h0m1.5 53.5h0m1.5-22h0m0-3h0m.5-23.5h0m.5 14.5h0m0 38.5h0m0-40h0m1.5-16h0m0 21.5h0m0-4h0m.5-14h0m3 1h0m.5-1h0m3.5 3h0m1-3.5h0m1.5 1.5h0m1.5-.5h0m4-6h0m1 3.5h0m.5-11h0m1-10h0m0-22.5h0m6 47.5h0m4 4.5h0m1-13h0m1.5 2.5h0m3.5-7h0m1 5h0m7-6.5h0m1-2.5h0m.5 3h0m1 28h0m2.5-4h0m1.5 4h0m3 5h0m1.5 49h0m.5-43h0m3.5-1.5h0m2 17.5h0m.5-10h0m1 11.5h0m3.5 7h0m.5-1.5h0m1.5 .5h0m.5 15.5h0m23.5 5.5h0" stroke="#63c5cf" stroke-width="3.5" stroke-linecap="round"/><path d="M707.5 416.5h0m2-4.5h0m1 4h0m2-1h0m1 74.5h0m2-73h0m0 58h0m.5-50h0m.5-3h0m.5 48h0m.5 0h0m.5 4.5h0m1-52h0m.5 41h0m.5 6h0m.5-8h0m.5-2h0m1-42h0m.5 52h0m1 12.5h0m.5-17h0m0-11.5h0m.5 44h0m.5-76.5h0m1 38h0m1.5-5.5h0m1 3.5h0m0-4.5h0m1.5 5.5h0m1-35.5h0m1.5 30h0m2-12h0m.5 2.5h0m.5-17h0m2 12.5h0m1.5-11h0m7 2h0m1.5-38.5h0m.5 17.5h0m0 10h0m1-12.5h0m2.5 15.5h0m7 3h0m0 6.5h0m.5 2.5h0m2-5h0m.5 8h0m.5-3.5h0m.5-5.5h0m0 10h0m.5-7.5h0m.5-13.5h0m0 6h0m1 15.5h0m0-10.5h0m1.5 3.5h0m1 6.5h0m1.5-17.5h0m.5 14.5h0m.5 4h0m.5-25h0m0 27.5h0m.5-25.5h0m1 19.5h0m1 6.5h0m2 0h0m.5 4h0m0-33h0m0-4h0m.5 38h0m.5-36h0m1 4h0m1 27h0m1 3h0m0 2.5h0m5-5.5h0m2 10.5h0m2 6.5h0m0 3h0m0-19h0m.5 23.5h0m.5-10.5h0m1.5 62.5h0m0-60h0m.5 9h0m.5-26h0m2 33h0m0 10.5h0m2-14h0m2.5 37.5h0m9.5 .5h0m.5 24.5h0m9.5-45.5h0m3 7h0" stroke="#6bc7cc" stroke-width="3.5" stroke-linecap="round"/><path d="M714 486h0m0-64h0m1 48.5h0m.5 27h0m1.5-22.5h0m.5-2.5h0m2.5 26h0m2-26.5h0m1-10.5h0m1 29.5h0m1-24h0m1 3.5h0m0-18.5h0m1.5 9.5h0m1 11h0m0 18h0m1.5-11.5h0m.5-56h0m3.5 26h0m2.5-13.5h0m3.5-11h0m3.5 1h0m3.5 4h0m0-45.5h0m0-11h0m1 25h0m0-17.5h0m0 36.5h0m.5-19h0m0 5h0m.5 10h0m.5-17.5h0m0 6h0m0-14.5h0m.5 29.5h0m0-51h0m.5 24h0m.5 11h0m6-36.5h0m0 64.5h0m2.5 0h0m2.5-2.5h0m1.5-7.5h0m1 2h0m0 5h0m1.5-4.5h0m.5 12.5h0m0-5h0m0-17.5h0m1 .5h0m0 26.5h0m0-88h0m2 85.5h0m2-26h0m.5 35.5h0m1-8.5h0m.5 2h0m2.5 5.5h0m1.5 2.5h0m4-1h0m4-2h0m.5-4h0m1.5 7.5h0m.5-3.5h0m1 2h0m.5 16.5h0m1.5-19h0m.5 30h0m1.5 5h0m.5-36.5h0m.5 3.5h0m.5 31h0m.5-1.5h0m.5-34h0m0 4.5h0m2.5 0h0m1.5 .5h0m10.5 38h0m2-37.5h0m2 77.5h0m5.5-36h0m3.5-40.5h0" stroke="#74c9ca" stroke-width="3.5" stroke-linecap="round"/><path d="M746.5 377h0m1.5 30h0m.5-27h0m.5 17h0m1-5h0m2-6.5h0m1 40.5h0m2.5-66h0m.5 14.5h0m0-15h0m5-5h0m6.5 79h0m1-17h0m5-47h0m1.5 2.5h0m18 93h0m1.5 41.5h0m3.5-59.5h0m2-5h0m3.5-1h0m1.5 5h0m2 1.5h0m2.5-7.5h0m1.5 1h0m5 1.5h0" stroke="#7ccbc7" stroke-width="3.5" stroke-linecap="round"/><path d="M748 402h0m16-56.5h0m1 23.5h0m27 74.5h0m8.5-.5h0m2.5-1h0m3.5-.5h0m1.5-2h0m8 7.5h0m3-7.5h0m5 6h0m1.5-3h0m1.5 1h0m1-2h0m.5-4h0m2.5 4.5h0" stroke="#84cdc5" stroke-width="3.5" stroke-linecap="round"/><path d="M815 445.5h0m1.5-2h0m4-3.5h0m3 3h0m0-6.5h0m2 10h0m1 .5h0m2.5 0h0m4-11h0" stroke="#8dd0c3" stroke-width="3.5" stroke-linecap="round"/><path d="M834 443h0m.5-4h0m0-2.5h0" stroke="#95cfbf" stroke-width="3.5" stroke-linecap="round"/><path d="M833 449h0" stroke="#9fc9b7" stroke-width="3.5" stroke-linecap="round"/><path d="M833 432.5h0m2.5-1.5h0" stroke="#a8c3b0" stroke-width="3.5" stroke-linecap="round"/><path d="M839.5 437.5h0" stroke="#c4b19a" stroke-width="3.5" stroke-linecap="round"/><path d="M841.5 438.5h0m.5-6h0" stroke="#c9a992" stroke-width="3.5" stroke-linecap="round"/><path d="M845 439h0m2 4h0" stroke="#cea28a" stroke-width="3.5" stroke-linecap="round"/><path d="M845 436.5h0m4 11.5h0" stroke="#d49a81" stroke-width="3.5" stroke-linecap="round"/><path d="M850.5 442.5h0m.5 8.5h0" stroke="#de8b71" stroke-width="3.5" stroke-linecap="round"/><path d="M850.5 451h0m.5-32.5h0m1-8.5h0m2 4h0" stroke="#e2856b" stroke-width="3.5" stroke-linecap="round"/><path d="M852.5 410.5h0m1.5 40h0m1-33h0m.5 5h0m.5 25h0" stroke="#e48065" stroke-width="3.5" stroke-linecap="round"/><path d="M857.5 410h0m0 22h0" stroke="#e97559" stroke-width="3.5" stroke-linecap="round"/><path d="M861 453h0" stroke="#ec6f53" stroke-width="3.5" stroke-linecap="round"/><path d="M860.5 440h0m.5 .5h0m1.5 10h0m2-4h0" stroke="#ee694d" stroke-width="3.5" stroke-linecap="round"/><path d="M863.5 437.5h0m1-10.5h0m.5 2h0" stroke="#ee5d46" stroke-width="3.5" stroke-linecap="round"/><path d="M864.5 455.5h0m0-12h0m4 13.5h0" stroke="#ee523e" stroke-width="3.5" stroke-linecap="round"/><path d="M896.5 436.5h0" stroke="#ee4737" stroke-width="3.5" stroke-linecap="round"/><path d="M870.5 413h0m3.5 9.5h0m.5 6.5h0m2-12h0m4.5 38h0m4.5-12h0m3.5-2h0" stroke="#ee3028" stroke-width="3.5" stroke-linecap="round"/><path d="M713 477.5h0m0 12.5h0m.5-7.5h0m1-.5h0m.5 2h0m0 2h0m.5 .5h0m0-9h0m0 11h0m.5-9.5h0m0-2.5h0m.5 17.5h0m0-2.5h0m.5 8h0m0-21h0m0 .5h0m.5 4h0m0 3h0m0 11.5h0m.5-3.5h0m0-1.5h0m0-2h0m.5-6.5h0m0-19h0m0 30h0m.5-1.5h0m0-15.5h0m0 3h0m.5 2h0m0 5.5h0m0-4.5h0m.5 2.5h0m.5 5h0m0-11.5h0m.5 12.5h0m0 2h0m0-10.5h0m.5-8h0m0-9.5h0m.5 15h0m0-1.5h0m0 8h0m0-17h0m0 6.5h0m.5 8.5h0m0-21.5h0m0 30h0m0-4h0m0-7.5h0m.5 15h0m.5-40.5h0m0 26.5h0m0-6h0m.5-2h0m0 12.5h0m.5 8h0m0-17.5h0m.5 7h0m0-2.5h0m.5-2h0m0 13.5h0m0-37h0m.5 30h0m0-4h0m0-7.5h0m0 16h0m0-44h0m0 45h0m0-7h0m.5-9h0m0-28h0m0 33.5h0m0 7.5h0m.5-10h0m.5 4.5h0m0-25h0m.5 19.5h0m0 9.5h0m0-12h0m.5 15h0m0-43h0m0 12.5h0m.5 21.5h0m0-20h0m0 0h0m.5 24h0m0-27.5h0m.5-15h0m0 40.5h0m0 4h0m0-2h0m0-5.5h0m3-30.5h0m2-13h0m1-3.5h0m1 6.5h0m10.5-66h0m1 0h0m.5 2.5h0m0-4.5h0m.5 4h0m.5-13h0m0 5h0m.5 9h0m.5-7.5h0m0-5h0m0 7.5h0m0-5.5h0m0 8.5h0m.5-6h0m0 9.5h0m.5-5h0m.5-12.5h0m0 9.5h0m.5 3h0m0-7.5h0m0 9h0m.5-12.5h0m0 6.5h0m.5 8.5h0m0-5.5h0m.5-8h0m.5-2h0m.5 8h0m.5 1.5h0m0-3.5h0m0-1.5h0m.5-6h0m0 4.5h0m.5 1.5h0m0-7.5h0m.5 14h0m.5-4h0m0-12.5h0m.5 11.5h0m0 3.5h0m0-13.5h0m.5 5h0m0 6.5h0m.5-9h0m0 4h0m0 1.5h0m0-7h0m.5-3h0m0 11.5h0m.5-3h0m0-3h0m1-4.5h0m0 2.5h0m.5 3h0m.5 5.5h0m0-7.5h0m0 7h0m.5-2h0m1-9.5h0m0 8.5h0m0-5h0m0 2h0m.5 5h0m0-9.5h0m0 4h0m1 78h0m0-72.5h0m.5-15.5h0m0 23h0m.5-15h0m0 9.5h0m0-4.5h0m0-2.5h0m.5-4.5h0m0 13h0m0 2.5h0m.5-7.5h0m0 2h0m.5-4.5h0m0 14h0m.5-21h0m0 18h0m0-3.5h0m0-5.5h0m.5-17.5h0m0 12h0m0-3h0m0 11.5h0m0-6h0m.5 10.5h0m0-2h0m1 3h0m0-6.5h0m.5 5h0m0-3.5h0m.5-27.5h0m0 21h0m0-1.5h0m.5 3.5h0m0 .5h0m0 73h0m0-67h0m.5 4h0m0-14.5h0m0 7.5h0m.5 72h0m.5 5.5h0m.5-82h0m1 1.5h0m0 2.5h0m0-5.5h0m.5 3.5h0m0 76.5h0m1.5-79h0m0 4h0m6 83.5h0m0-9.5h0m1 61h0m1-2.5h0m.5 1h0m.5-41h0m0 0h0m.5-17.5h0m0 53.5h0m0-38h0m.5 41h0m0 3.5h0m.5-4.5h0m1-3.5h0m0 7.5h0m0-61h0m0 58.5h0m.5-7.5h0m.5 4.5h0m0 2h0m0-3.5h0m.5-3.5h0m0 11h0m0-33h0m.5 32h0m0-2.5h0m0-3h0m.5 28.5h0m0-37h0m.5 15.5h0m0-9.5h0m.5 5h0m0-9h0m0 15.5h0m0-58h0m0 21h0m0 26h0m0 8h0m.5-16h0m0-3h0m0 8h0m.5-11h0m0 1.5h0m.5 22.5h0m0-4h0m0-29.5h0m0 18.5h0m.5 12.5h0m0-5h0m0-4h0m.5 12.5h0m0 15.5h0m0-23h0m0-13.5h0m0 3.5h0m0 7.5h0m0-28.5h0m0 3.5h0m0 2h0m0-25.5h0m.5-3h0m0 53h0m0-5.5h0m0-9h0m0 24.5h0m.5-18.5h0m0 4.5h0m.5 12h0m0-18.5h0m0 14.5h0m1-9.5h0m0 4h0m0-12.5h0m0 19.5h0m0 3h0m.5-9h0m0-9h0m0 16h0m0 24.5h0m0-85h0m0 64.5h0m0-14.5h0m0-21h0m.5 15h0m0 12h0m0 10h0m0-20h0m0 11.5h0m0-15h0m.5-5.5h0m0 28h0m0-25h0m.5 14.5h0m0 8h0m0-14.5h0m0 29h0m0-36.5h0m0 25.5h0m.5 4h0m0-11h0m0-57h0m.5 40.5h0m0 18h0m0-13.5h0m0-8h0m0 15.5h0m0 5h0m0-2h0m0-18.5h0m0 11h0m.5 6h0m0 12.5h0m0-22.5h0m.5 20.5h0m0-3.5h0m0-22.5h0m0-37h0m0 48h0m.5 5h0m0-8.5h0m0 30h0m.5-39h0m0 10.5h0m0 12h0m0-18.5h0m.5 3h0m0 8h0m0 10h0m0-61h0m.5 52.5h0m0 24.5h0m0-39h0m.5-2.5h0m0-37.5h0m0 53h0m0-9h0m0 5.5h0m0-3h0m.5 16h0m0 13h0m0-16.5h0m0-9h0m0-4.5h0m.5 18.5h0m0-5h0m0 6.5h0m0-19h0m0-4.5h0m.5-41h0m0 39h0m0-1h0m0 22h0m0 19.5h0m.5-26h0m0 2.5h0m0-12.5h0m0-47.5h0m.5 44h0m0-37h0m0 59.5h0m0-61h0m.5 49.5h0m0 6h0m0-7.5h0m0 5.5h0m0 4h0m0 10h0m0-69.5h0m0 54.5h0m.5-3.5h0m0-4h0m0-8.5h0m0 7.5h0m0-7h0m0 10h0m.5 26h0m0-37h0m0 23h0m0-17.5h0m.5 38.5h0m0-24h0m0 2h0m0-15.5h0m.5 23h0m0 4.5h0m0-23h0m0 7.5h0m.5-4h0m0-11.5h0m0-42.5h0m0 64.5h0m.5 12.5h0m0 .5h0m0-15.5h0m0 12h0m.5-10h0m0-7.5h0m0-12h0m0 15h0m.5-13h0m0-43.5h0m0 46h0m.5 18h0m0-17.5h0m0 5h0m0 9.5h0m.5-21.5h0m0 9.5h0m0 5.5h0m0 3.5h0m0-15.5h0m.5 11h0m0-5.5h0m.5-3h0m0 8h0m0-15h0m0 31.5h0m0-18.5h0m0 9h0m.5-15h0m0-2h0m.5 14h0m0-10h0m0 15h0m0-63h0m0 41h0m.5 16.5h0m0-15.5h0m.5 11h0m0-57.5h0m0 71.5h0m0-19h0m.5 12.5h0m0-3h0m0 4.5h0m0-13h0m0-5.5h0m0-41.5h0m0 57h0m.5-4h0m0-14h0m0 10.5h0m0-5.5h0m.5 11.5h0m0-7h0m0-54h0m.5 73.5h0m.5-16h0m0 6h0m.5-58.5h0m0 50h0m0-10h0m0 13.5h0m0 3.5h0m.5-5h0m0-5.5h0m.5 14.5h0m0-2.5h0m0-2.5h0m0 17h0m0-28h0m.5 2.5h0m0 .5h0m.5-48h0m.5 52h0m0 5h0m0-3h0m0-8h0m0-53.5h0m.5 52.5h0m0 4.5h0m0-53h0m0 59.5h0m0-7.5h0m0-46.5h0m.5 50h0m0-3.5h0m.5-2.5h0m.5 .5h0m0-.5h0m0 4h0m.5 3.5h0m0-53.5h0m1 47h0m0 3h0m.5 5h0m.5-61h0m0 52.5h0m0-52.5h0m0 52.5h0m.5 3h0m.5 7h0m1-1h0m0-58.5h0m.5-2h0m1 62.5h0m1.5-58h0m0-7.5h0m2.5 63h0m0-61.5h0m0 56h0m1-48h0m0 55h0m1-65.5h0m2 6.5h0m0-9h0m0 6h0m1-4h0m0 71h0m0-72h0m0-5.5h0m0 9h0m0 10h0m.5-3h0m.5 56.5h0m0-73h0m0 14h0m.5-16.5h0m0 15.5h0m0-15.5h0m0 19.5h0m0-13.5h0m.5-5.5h0m.5 19h0m0-22.5h0m0 10h0m0-3.5h0m.5-1.5h0m0 4h0m.5 15.5h0m0 64h0m0-68.5h0m0-7h0m.5 8h0m0-3h0m0-14h0m.5 20h0m0-8h0m.5-9h0m0 18.5h0m0-6h0m.5-15h0m0 19h0m0-10.5h0m.5-11h0m0-2.5h0m0-1h0m.5 18.5h0m0 1.5h0m0-3.5h0m0-7.5h0m0-4.5h0m.5 17.5h0m.5-9h0m0-15h0m0 28h0m.5-22h0m0 21.5h0m0-4h0m0-10h0m0-2.5h0m0-10h0m.5-.5h0m.5 12h0m0 5.5h0m0-14.5h0m0 20h0m0-2h0m.5-8.5h0m0 15.5h0m0-22.5h0m.5 1h0m0-11h0m0-1h0m0 24.5h0m.5-10h0m0 21h0m0-34.5h0m0 20h0m.5-15.5h0m0 20.5h0m0-10h0m0-3.5h0m.5 5.5h0m0 7h0m0-16.5h0m0-12h0m0 7.5h0m0 19h0m.5 12.5h0m0-3h0m0-12h0m0-24.5h0m.5 11.5h0m0 7h0m0-15h0m0 10.5h0m.5-12.5h0m0 20h0m0-6h0m0-1h0m0-5h0m0 9.5h0m0 4h0m0 3.5h0m.5 11h0m0-29.5h0m0 4h0m0 20.5h0m.5 1.5h0m0-29.5h0m0-1h0m.5 22h0m0-15.5h0m0 18h0m0 6.5h0m0-14h0m.5-3.5h0m0 19h0m0-11.5h0m.5-8h0m0 7h0m0-4.5h0m0-8h0m0-5.5h0m0-3h0m0-5.5h0m.5 41h0m0-28.5h0m0 22.5h0m0-13.5h0m0-6h0m.5 17.5h0m0-3h0m0-29h0m.5 37h0m0-19.5h0m.5-14.5h0m0 6.5h0m0-2h0m0 23h0m0-13h0m.5 18.5h0m0-7h0m0 14h0m0-32.5h0m0 22h0m0-1h0m.5-16h0m0 8.5h0m0-32h0m0 34h0m0 15.5h0m0-35.5h0m.5 29h0m0 3.5h0m0-16h0m.5 4.5h0m0 5h0m0-12h0m0-5.5h0m0-12.5h0m0 33.5h0m.5 7.5h0m0-32h0m0 5h0m0-28.5h0m0 53.5h0m0-23.5h0m0 8h0m0-22h0m0-8.5h0m.5 36h0m0-31h0m0 20h0m0-14h0m0 28.5h0m.5 5.5h0m0-32.5h0m0 1.5h0m0 24.5h0m0-17.5h0m0 6h0m0 16.5h0m.5-13h0m0-23h0m.5 25h0m0-24h0m0 9h0m0 23.5h0m.5 3.5h0m0-46h0m0 18h0m0 18h0m0-21.5h0m0-3.5h0m0 13.5h0m.5-9.5h0m0 3.5h0m0 22h0m0-14.5h0m0 17.5h0m.5-10h0m0 1.5h0m0-15h0m0-2h0m0 14h0m.5-11h0m0 9h0m0-13h0m0 31.5h0m0-11h0m0 18h0m0-42.5h0m.5 30.5h0m0-15.5h0m.5-13h0m0-22.5h0m0 32.5h0m0 8.5h0m0-14h0m0 4h0m.5 14h0m0 4h0m0 3h0m0-19.5h0m.5 5h0m0 20h0m0-54h0m0 50h0m0-7.5h0m0-12.5h0m0-3h0m0 30h0m.5-51h0m0 40.5h0m0 5.5h0m.5-19.5h0m0 4h0m0 17.5h0m.5 5h0m0-14h0m0-1.5h0m0-16h0m.5-8.5h0m0 11.5h0m.5 11h0m0-16.5h0m.5 11h0m0-4.5h0m0-10.5h0m0 12.5h0m.5-.5h0m0-12.5h0m1 19.5h0m.5-25.5h0m0 30h0m.5-19h0m.5 16.5h0m0 9h0m0-9h0m1 4.5h0m0-.5h0m.5-30h0m0 18.5h0m0-11.5h0m0 4.5h0m.5-3.5h0m1 4.5h0m.5 7h0m0-5h0m.5 32h0m0-31.5h0m.5-18.5h0m.5 16.5h0m0 8h0m0-9h0m0 14h0m1.5 12h0m0-24h0m0 1h0m.5 23h0m0-22.5h0m1.5-12.5h0m2.5 9.5h0m.5 26.5h0m1-27.5h0m.5-5h0m0 33.5h0m1.5-33h0m.5 5.5h0m.5 26.5h0m0-21h0m1-3.5h0m.5 9.5h0m0 25h0m1.5-35.5h0" stroke="#b5b5b7" stroke-width="3.4" stroke-linecap="round"/><text x="697.3" y="328.0" font-size="12.8" font-weight="bold" fill="#111">Probability of Cirrhosis</text><text x="916.5" y="414.6" font-size="9.5" fill="#111">Probability of Cirrhosis</text><rect x="916.5" y="419.4" width="10.5" height="48.6" fill="url(#cbgrad)"/><path d="M916.5 420.8h2.1M924.9 420.8h2.1" stroke="#fff" stroke-width="0.60" opacity="0.8"/><path d="M916.5 432.9h2.1M924.9 432.9h2.1" stroke="#fff" stroke-width="0.60" opacity="0.8"/><path d="M916.5 445.0h2.1M924.9 445.0h2.1" stroke="#fff" stroke-width="0.60" opacity="0.8"/><path d="M916.5 457.1h2.1M924.9 457.1h2.1" stroke="#fff" stroke-width="0.60" opacity="0.8"/><text x="929.6" y="423.7" font-size="9.1" fill="#111">0.008</text><text x="929.6" y="435.8" font-size="9.1" fill="#111">0.006</text><text x="929.6" y="447.9" font-size="9.1" fill="#111">0.004</text><text x="929.6" y="460.0" font-size="9.1" fill="#111">0.002</text><path d="M64.8 591.7V801.9M103.4 591.7V801.9M142.1 591.7V801.9M180.7 591.7V801.9M219.3 591.7V801.9M258.0 591.7V801.9M38.1 799.2H263.0M38.1 777.9H263.0M38.1 756.6H263.0M38.1 735.3H263.0M38.1 714.0H263.0M38.1 692.7H263.0M38.1 671.4H263.0M38.1 650.1H263.0M38.1 628.8H263.0M38.1 607.5H263.0" stroke="#ebebeb" stroke-width="0.7" fill="none"/><text x="103.4" y="808.7" font-size="4.6" text-anchor="middle" fill="#4d4d4d">0</text><text x="180.7" y="808.7" font-size="4.6" text-anchor="middle" fill="#4d4d4d">1</text><text x="258.0" y="808.7" font-size="4.6" text-anchor="middle" fill="#4d4d4d">2</text><text x="35.6" y="609.2" font-size="4.6" text-anchor="end" fill="#4d4d4d">1.0</text><text x="35.6" y="651.8" font-size="4.6" text-anchor="end" fill="#4d4d4d">0.5</text><text x="35.6" y="694.4" font-size="4.6" text-anchor="end" fill="#4d4d4d">0.0</text><text x="35.6" y="737.0" font-size="4.6" text-anchor="end" fill="#4d4d4d">−0.5</text><text x="35.6" y="779.6" font-size="4.6" text-anchor="end" fill="#4d4d4d">−1.0</text><text x="150.6" y="815.7" font-size="6.4" text-anchor="middle">Dimension 1</text><text transform="translate(19.6,696.8) rotate(-90)" font-size="6.4" text-anchor="middle">Dimension 2</text><path d="M188 698.5h0m20 8.5h0m7-25h0m8 22.5h0m.5-.5h0m3 17h0m3-9h0m1-35.5h0m8.5 36.5h0m13-17h0" stroke="#63c5cf" stroke-width="3.5" stroke-linecap="round"/><path d="M186.5 691.5h0m.5-2.5h0m1 19h0m2.5-10.5h0m1-1.5h0m5-10h0m1 11.5h0m1-22.5h0m.5 35h0m.5-14h0m12.5 12h0m2.5-53.5h0m1.5 60.5h0m10-21.5h0" stroke="#6bc7cc" stroke-width="3.5" stroke-linecap="round"/><path d="M182.5 693h0m3.5 1.5h0m3.5-8h0m2 6h0m11 18.5h0m7-47.5h0m18 23.5h0m14.5 22h0" stroke="#74c9ca" stroke-width="3.5" stroke-linecap="round"/><path d="M188 689h0m2.5-6h0m13.5-13.5h0" stroke="#7ccbc7" stroke-width="3.5" stroke-linecap="round"/><path d="M180 697h0m3.5-4.5h0m9 9h0m2.5-11h0" stroke="#84cdc5" stroke-width="3.5" stroke-linecap="round"/><path d="M179.5 696h0m4 0h0m1 0h0m1 0h0" stroke="#8dd0c3" stroke-width="3.5" stroke-linecap="round"/><path d="M169.5 697.5h0m5.5 .5h0m1.5 9h0m1-10.5h0m10.5 4.5h0" stroke="#95cfbf" stroke-width="3.5" stroke-linecap="round"/><path d="M163 701.5h0m5.5-2h0m1.5 8.5h0m2.5-10.5h0m0 9h0m4.5-6.5h0" stroke="#9fc9b7" stroke-width="3.5" stroke-linecap="round"/><path d="M113.5 637h0m4.5-2.5h0m39.5 70h0m3.5 1h0m4.5-2.5h0m1.5-1.5h0m3-1.5h0" stroke="#a8c3b0" stroke-width="3.5" stroke-linecap="round"/><path d="M94 623.5h0m12-9.5h0m3 2.5h0m3 1h0m1.5-1.5h0m1 3.5h0m0 13h0m30.5 69.5h0m12.5 .5h0m2.5-2h0m2 5h0" stroke="#b2bda8" stroke-width="3.5" stroke-linecap="round"/><path d="M114.5 616.5h0m27 88h0m12 1h0m.5-5.5h0" stroke="#bbb7a1" stroke-width="3.5" stroke-linecap="round"/><path d="M90.5 646.5h0m1.5-7h0m1.5 3h0m4-6.5h0m24.5 39h0m15 30.5h0m5.5-2.5h0m3.5 2h0m9-2h0" stroke="#c4b19a" stroke-width="3.5" stroke-linecap="round"/><path d="M90 649h0m1-4h0m1 16.5h0m1 0h0m1-10h0m14.5 24.5h0m3.5-5.5h0m0 3h0m5.5-6.5h0m3.5 4.5h0m9 29.5h0m.5 3h0m4 2.5h0m4.5-3.5h0m2-2h0m7.5 2h0" stroke="#c9a992" stroke-width="3.5" stroke-linecap="round"/><path d="M91 654h0m2 1h0m1-3.5h0m1 8.5h0m10.5 26h0m1-2.5h0m4.5-2.5h0m.5-5h0m1-2.5h0m.5 7.5h0m.5-3.5h0m0-1.5h0m1.5-7.5h0m6-1h0m.5 5h0m1-4h0m.5 5h0m.5-1.5h0m9 31h0m2 1.5h0m.5-1.5h0" stroke="#cea28a" stroke-width="3.5" stroke-linecap="round"/><path d="M90 660.5h0m1-3.5h0m.5 8.5h0m.5-2.5h0m1 2h0m0 7.5h0m0-2.5h0m13 10.5h0m1.5 6h0m1.5-12h0m1 2.5h0m1 13.5h0m4-20.5h0m2-1h0m0 6.5h0" stroke="#d49a81" stroke-width="3.5" stroke-linecap="round"/><path d="M90.5 663.5h0m1 18h0m0-14h0m.5 .5h0m1 17h0m.5-8h0m0-1h0m.5-2h0m.5 14h0m6.5 1h0m7.5-11h0m.5 18.5h0m1.5-13h0m3 9h0m1 3h0m0 2.5h0m1.5 3h0m1-6.5h0m.5 8.5h0m1.5 2.5h0m4-2.5h0m2.5-4h0m2 4.5h0m28 39h0" stroke="#d99379" stroke-width="3.5" stroke-linecap="round"/><path d="M89.5 688.5h0m2.5-1h0m0-10h0m1 10.5h0m1-4.5h0m3.5 2h0m9.5 6.5h0m.5 3h0m0 2h0m.5-8h0m7 10.5h0m0-4h0m.5 7.5h0m2-5h0m1-2h0m2.5 9h0m4-1h0m2.5 3h0m7 3h0m2 12h0m1.5 .5h0" stroke="#de8b71" stroke-width="3.5" stroke-linecap="round"/><path d="M85.5 688.5h0m2-1h0m1.5-.5h0m14.5-.5h0m.5 4.5h0m1.5 2.5h0m0-5.5h0m5 12h0m5 0h0m13 5.5h0m2.5 56h0m1.5-42h0m0-8h0m0 3h0m1-4.5h0m.5 4h0m3.5 3.5h0m3 23.5h0m0-16.5h0m.5 5h0m1-4h0m.5 8.5h0m3.5 5h0m16.5 6h0" stroke="#e2856b" stroke-width="3.5" stroke-linecap="round"/><path d="M103 685.5h0m1 3h0m5.5 9h0m.5-10.5h0m23 32h0m1.5-1h0m4 15h0m0-3h0m.5-10h0m1 19h0m2-10h0m4 9h0m18.5 29.5h0m4.5-20h0" stroke="#e48065" stroke-width="3.5" stroke-linecap="round"/><path d="M132 760.5h0m12-24.5h0m9 32.5h0m2 4.5h0m3.5 3h0m0-10h0m11-1h0m2.5-10h0m10.5-.5h0" stroke="#e77a5f" stroke-width="3.5" stroke-linecap="round"/><path d="M69 681.5h0m4 3.5h0m5-2h0m59.5 94.5h0m11-9.5h0m9.5 11.5h0" stroke="#e97559" stroke-width="3.5" stroke-linecap="round"/><path d="M47 680h0m1-7.5h0m2 5h0m2-2h0m5 8.5h0m1-2.5h0m0-2.5h0m3-5.5h0m6.5 9h0m3-2h0m1.5 4h0m.5-2h0m4 2h0m3 2.5h0m.5-2.5h0m4.5 0h0" stroke="#ec6f53" stroke-width="3.5" stroke-linecap="round"/><path d="M45.5 678h0m.5-2.5h0m2.5 8.5h0m1-9h0m.5 9h0m.5-4h0m0-8h0m1 3.5h0m1.5-3.5h0m2 10h0m3 1.5h0m2-10h0m.5 9h0m1 2.5h0m9-2h0m3-1h0m2 5h0m3 1h0m1.5 12.5h0" stroke="#ee694d" stroke-width="3.5" stroke-linecap="round"/><path d="M46 681.5h0m2.5-7h0m0 5.5h0m5 2h0m16 30.5h0m2.5-10h0m9-10.5h0m.5 1.5h0m0 4h0" stroke="#ee5d46" stroke-width="3.5" stroke-linecap="round"/><path d="M65 716.5h0m6 6h0m.5-15.5h0m.5 9h0m4-14.5h0m0 1.5h0m.5 5.5h0m1.5-4h0m0-7h0m4.5-8.5h0" stroke="#ee523e" stroke-width="3.5" stroke-linecap="round"/><path d="M60.5 729h0m3.5-4.5h0m0 6h0m2-18h0m1 14.5h0m0 4.5h0m.5-14h0m.5-6h0m.5 17h0m2.5-19.5h0m0 3h0m1 1h0m.5-3h0m1-10h0m4 0h0m1.5-5h0m1 3h0" stroke="#ee4737" stroke-width="3.5" stroke-linecap="round"/><path d="M56.5 731.5h0m2.5 2.5h0m.5-.5h0m1 4.5h0m1-3h0m1-14h0m.5 12.5h0m.5-1.5h0m7-5.5h0m0 6h0m1-15.5h0m1 28h0m2.5-33h0" stroke="#ee3b2f" stroke-width="3.5" stroke-linecap="round"/><path d="M54.5 735.5h0m.5 16h0m.5-9.5h0m1.5-8h0m0-5.5h0m1 30.5h0m5.5-17.5h0m.5 9h0m1.5-16h0m3.5 0h0m1.5 1h0m2 3h0m1.5 9h0" stroke="#ee3028" stroke-width="3.5" stroke-linecap="round"/><path d="M197 680h0m8-12.5h0m1 42.5h0m.5-32h0m1.5-3.5h0m2-5h0m4 5.5h0m2 13.5h0m24 14.5h0" stroke="#63c5cf" stroke-width="3.5" stroke-linecap="round"/><path d="M183 709h0m2-.5h0m1-18h0m.5 15.5h0m10-10h0m3.5-8.5h0m5 21h0m.5-8h0m4.5-32h0m1.5 3.5h0m1-12.5h0m.5 52.5h0m.5-29h0m0 29.5h0m1.5-17h0m4-16h0m9 3h0m1.5 7h0m5.5 23.5h0" stroke="#6bc7cc" stroke-width="3.5" stroke-linecap="round"/><path d="M181 708.5h0m15.5-5h0m4.5-8h0m1 6.5h0m1 8.5h0m.5-12h0m13-14.5h0m.5 28h0m1-16h0" stroke="#74c9ca" stroke-width="3.5" stroke-linecap="round"/><path d="M184.5 698h0m.5 3h0" stroke="#84cdc5" stroke-width="3.5" stroke-linecap="round"/><path d="M173.5 696.5h0m1.5 6h0m6-1h0m1.5 2h0m1 3h0m3-3.5h0" stroke="#8dd0c3" stroke-width="3.5" stroke-linecap="round"/><path d="M112 630.5h0m61 72h0m2.5 3h0m1.5-2h0m1-2h0m1 5h0m.5-6.5h0m3.5 1h0" stroke="#95cfbf" stroke-width="3.5" stroke-linecap="round"/><path d="M111 635.5h0m51.5 68.5h0m2.5-2h0m1.5 3h0m2-3h0m1 1h0m2.5-1.5h0m2 0h0m1.5 5h0" stroke="#9fc9b7" stroke-width="3.5" stroke-linecap="round"/><path d="M109 605h0m4 4.5h0m1-2h0m40 99.5h0m1-6h0m9 5h0m1-6h0m.5 6.5h0m8.5 1h0" stroke="#a8c3b0" stroke-width="3.5" stroke-linecap="round"/><path d="M111.5 617h0m0 12h0m5.5-12h0m0-16h0m30 102.5h0" stroke="#b2bda8" stroke-width="3.5" stroke-linecap="round"/><path d="M97.5 620.5h0m6 9.5h0m1-13.5h0m13.5 53.5h0m25 30.5h0m9 0h0m2.5 4.5h0" stroke="#bbb7a1" stroke-width="3.5" stroke-linecap="round"/><path d="M89.5 640h0m1-7.5h0m2-5h0m2 14h0m5.5-7h0m2-1h0m8-5h0m9 44h0m14.5 34h0m9.5-2h0m1.5 0h0m1 2h0m2-1h0" stroke="#c4b19a" stroke-width="3.5" stroke-linecap="round"/><path d="M90.5 643.5h0m1.5-13h0m.5 13.5h0m1 2.5h0m1 9.5h0m1-14h0m2-1h0m5.5-9h0m8 40.5h0m.5-2h0m1 .5h0m1 8.5h0m2-2h0m2.5-3h0m2-6h0m.5 6h0m14.5 27h0m3 1h0m.5-2.5h0" stroke="#c9a992" stroke-width="3.5" stroke-linecap="round"/><path d="M91.5 648.5h0m.5 9.5h0m0-16.5h0m.5 15h0m.5 3.5h0m0-7.5h0m3-7.5h0m12.5 36.5h0m2 3.5h0m5-12h0m.5-.5h0m.5-6h0m5.5 3h0m4.5 31.5h0m1-.5h0m3.5 .5h0m5 4h0m3 1h0" stroke="#cea28a" stroke-width="3.5" stroke-linecap="round"/><path d="M91 650h0m.5 30h0m0-22.5h0m0-17h0m0 26h0m2 8h0m1-10.5h0m0-15h0m12.5 36.5h0m1-6.5h0m0 4h0m1.5-3h0m.5 5h0m0-8.5h0m3.5-6.5h0m2.5 4.5h0m2.5 26.5h0m3 1h0m0 3.5h0m2-5.5h0m0 6h0m13 6.5h0" stroke="#d49a81" stroke-width="3.5" stroke-linecap="round"/><path d="M91 671.5h0m1 5h0m3.5 4h0m14 12.5h0m3.5 .5h0m5.5 6h0m1-1h0m1-2.5h0m.5 1.5h0m3 3h0m1.5 2.5h0m2.5 2.5h0m2.5 1h0m1.5 5.5h0m4 7h0" stroke="#d99379" stroke-width="3.5" stroke-linecap="round"/><path d="M90.5 689h0m3-11h0m0 4.5h0m1.5-11h0m0 15.5h0m.5-4h0m4 2h0m2 3h0m2 5h0m1-9h0m5 10h0m2-1h0m1 3.5h0m0 1.5h0m8 3h0m4.5 5h0m6.5 0h0m0 9.5h0m3-7.5h0m.5 13h0m1.5 1.5h0m1 6.5h0m.5-2.5h0m2-4h0m.5 9.5h0m1.5-.5h0m1.5-5.5h0m2.5 8.5h0m2 6.5h0" stroke="#de8b71" stroke-width="3.5" stroke-linecap="round"/><path d="M93 685.5h0m5 3h0m1.5-1.5h0m3.5-3h0m.5 9.5h0m4-2h0m4-3.5h0m1 13.5h0m5 3.5h0m3.5-5h0m1 3.5h0m5 5h0m2.5 2h0m1-2.5h0m4.5 46h0m1.5-29.5h0m1.5-4.5h0m.5-4h0m.5 11.5h0m1.5 10h0m1.5-1.5h0m2.5-4.5h0m.5 3h0m11 7h0m16.5 17.5h0m.5-3.5h0" stroke="#e2856b" stroke-width="3.5" stroke-linecap="round"/><path d="M86.5 687.5h0m3.5-2.5h0m8.5-1.5h0m2.5 4h0m8 2.5h0m23.5 67h0m1-40h0m.5-.5h0m2-1.5h0m0 11.5h0m4.5 7h0m2.5-4h0m27 32h0" stroke="#e48065" stroke-width="3.5" stroke-linecap="round"/><path d="M140.5 735h0m.5 3h0m1.5 28h0m27.5-16h0m.5 7.5h0" stroke="#e77a5f" stroke-width="3.5" stroke-linecap="round"/><path d="M52 683h0m83.5 42.5h0m1.5 39h0m4.5 15.5h0m5.5-12.5h0m1.5 3h0" stroke="#e97559" stroke-width="3.5" stroke-linecap="round"/><path d="M47 680.5h0m1-3h0m0-1h0m7 7h0m1.5-6h0m2.5 .5h0m.5 3h0m1-2.5h0m0 3h0m.5-6h0m.5 8h0m2.5-5.5h0m.5 2.5h0m1 1.5h0m.5 1h0m6.5 4h0m4-.5h0m1.5-1.5h0m2 2.5h0m2-1h0m2.5 0h0m2.5-1h0" stroke="#ec6f53" stroke-width="3.5" stroke-linecap="round"/><path d="M50 681h0m5.5-3h0m.5 1h0m.5-3h0m.5-2h0m.5 1.5h0m5.5 5h0m.5 1.5h0m.5 2h0m3-4h0m0 5h0m2 0h0m6.5-3.5h0m4 9h0m2.5 .5h0m1-6.5h0" stroke="#ee694d" stroke-width="3.5" stroke-linecap="round"/><path d="M52 677.5h0m1 5.5h0m.5-4.5h0m0-3h0m0-1h0m10 2h0m7 34h0m1.5-6h0m1.5-3h0m1 6.5h0m.5-24h0m3 18h0m.5-7.5h0m2.5 2h0m2-6.5h0m.5 2.5h0" stroke="#ee5d46" stroke-width="3.5" stroke-linecap="round"/><path d="M54.5 684h0m5.5-4h0m8 28h0m2.5 8h0m4.5-14.5h0m.5 9h0m.5-11.5h0m2.5-5h0m1 6.5h0" stroke="#ee523e" stroke-width="3.5" stroke-linecap="round"/><path d="M59.5 725h0m1.5 6.5h0m3-13h0m3-2h0m2-3h0m.5 11h0m2.5-5h0" stroke="#ee4737" stroke-width="3.5" stroke-linecap="round"/><path d="M54 733h0m4.5-1h0m2.5-9h0m.5 5.5h0m.5-3.5h0m1-2h0m1 6h0m1-3h0m.5-1h0m0-11h0m2 9h0m0 11.5h0m.5-16.5h0m3 3.5h0m0 1h0m.5-16.5h0m1 35.5h0m0-33.5h0m1-5.5h0" stroke="#ee3b2f" stroke-width="3.5" stroke-linecap="round"/><path d="M53.5 738.5h0m.5-6.5h0m0 17.5h0m1-2h0m0 7.5h0m1.5-24.5h0m0 26.5h0m1.5-28h0m.5 6h0m.5-6h0m.5 25h0m1 5h0m3-3h0m2.5-20h0m0 21h0m3-25.5h0m.5-.5h0m4 9h0" stroke="#ee3028" stroke-width="3.5" stroke-linecap="round"/><path d="M54 737.5h0m.5 5h0m0 1h0m0 6h0m.5-3.5h0m0 8h0m1-10.5h0m.5 2.5h0m0 .5h0m0-9.5h0m.5 11h0m0-9h0m.5 2.5h0m0-5.5h0m0 17.5h0m0-2.5h0m.5-12.5h0m0 19h0m.5-18.5h0m0 4h0m.5 3h0m0 11.5h0m.5-5.5h0m0-1.5h0m0-6.5h0m.5 11h0m.5-2h0m0-12h0m.5-13.5h0m0 15h0m0 6h0m0-5h0m.5 15h0m0-12h0m.5 4.5h0m0-11h0m.5-21.5h0m0 34h0m0 2h0m0-11h0m.5-7.5h0m0-9.5h0m.5 13.5h0m0 8h0m0-17.5h0m.5 6.5h0m0 9h0m0 8h0m0-11.5h0m.5 15h0m.5-6.5h0m0-30h0m.5-3.5h0m0 23.5h0m0 2.5h0m0-6h0m0-16.5h0m.5 3h0m0 27h0m0-3h0m.5 8h0m0-17.5h0m.5-19.5h0m0 9.5h0m0 17.5h0m0-2.5h0m.5 10.5h0m0-13h0m0 14h0m0-7h0m.5-18h0m0 14h0m0-8h0m0 16h0m0 1.5h0m0-7h0m.5-9h0m0-28.5h0m0 34h0m0 7.5h0m.5-10h0m.5 4h0m0-23h0m0-2h0m.5 20h0m.5 9.5h0m0-12.5h0m0 15h0m0-1h0m.5-7.5h0m.5 3.5h0m1-29h0m0 31h0m0-1.5h0m0-33h0m2 28h0m.5-36.5h0m.5 1h0m14-69.5h0m1-.5h0m.5-2h0m1.5 0h0m0 2.5h0m.5-4.5h0m0 4h0m1-8h0m0-3.5h0m.5 12.5h0m0-7.5h0m.5-5h0m0 7.5h0m0-5.5h0m0 8.5h0m.5-6h0m0 9.5h0m.5-4.5h0m1-13h0m0 9.5h0m0 3h0m0-7.5h0m.5-3.5h0m.5 6.5h0m0 8.5h0m0-5.5h0m1-8h0m0-2h0m0 0h0m1 8h0m0-11h0m0 12.5h0m0-3.5h0m0-1.5h0m.5-8h0m.5 2h0m0 4.5h0m.5 1.5h0m0-7.5h0m0 4h0m1 6.5h0m0-13h0m.5 12h0m0-10.5h0m0 72h0m.5-67h0m.5-2.5h0m0 4h0m0 1.5h0m.5-7h0m0 8.5h0m1-3h0m0-3h0m.5-4.5h0m0 78h0m0-75.5h0m1 3h0m0 5.5h0m.5-7.5h0m0 7h0m.5-2h0m1-8.5h0m0 7.5h0m0-5h0m0-10h0m.5 12.5h0m0 4.5h0m0-9.5h0m.5 4h0m1 6h0m0-15.5h0m.5 22.5h0m0-15h0m0 16.5h0m.5-11.5h0m0-2.5h0m.5 11h0m.5-7.5h0m0 2h0m0-4.5h0m1 11h0m0-3.5h0m0-5.5h0m0 11.5h0m.5 57.5h0m0-66h0m0-6h0m.5 9h0m1 3h0m0-7h0m.5 5h0m.5-3.5h0m0-6.5h0m0-1.5h0m.5 3.5h0m0 .5h0m0 6h0m.5-7h0m0-3.5h0m0-12.5h0m.5 20h0m1 1.5h0m0 4.5h0m.5-10.5h0m.5 1.5h0m.5 2.5h0m0 4.5h0m0-10h0m.5 3.5h0m1.5-2.5h0m0 4h0m1.5 71.5h0m3 11.5h0m4.5 50h0m.5-60h0m.5 2h0m.5 54h0m0 3h0m.5 3.5h0m.5-4.5h0m1 4h0m0-61h0m0 58.5h0m.5-8h0m.5 5h0m0 2h0m.5-3.5h0m0-3.5h0m0 11h0m.5-1h0m0-2.5h0m.5-3h0m0 28.5h0m.5-37h0m0 15.5h0m.5-9.5h0m0 5h0m0-9h0m0 15.5h0m.5-11.5h0m0 8.5h0m0-16h0m.5-3h0m0 8h0m1 13h0m0-40h0m0 36h0m0-16h0m0 4.5h0m0 13h0m0-5.5h0m.5-4h0m0 13h0m0 1.5h0m.5-9.5h0m0-13.5h0m0 3.5h0m0 8h0m0-48.5h0m.5 50h0m0-6h0m0-9h0m.5 6.5h0m0 4.5h0m.5 11.5h0m0-18.5h0m0 15h0m.5-21h0m.5-1.5h0m0 12.5h0m0 4.5h0m0-12.5h0m0 19.5h0m0 2.5h0m.5-8.5h0m0-9.5h0m0 16.5h0m0 24.5h0m0-20.5h0m.5-15h0m0-20.5h0m0 14.5h0m0 12h0m0 10h0m0 0h0m0-19.5h0m.5 11.5h0m0-15h0m0 22.5h0m0-25h0m.5 14.5h0m0 8h0m.5-15h0m0 4h0m0 25h0m0-36h0m0 29h0m0-10.5h0m0 6h0m.5-23h0m0 18h0m0-13.5h0m0-7.5h0m.5-39.5h0m0 55h0m0 5h0m0-2.5h0m0-7.5h0m.5 6.5h0m0-10h0m.5 17h0m0-22.5h0m0-37h0m0 47.5h0m.5 5h0m0-8h0m0 30h0m.5 10.5h0m0-49.5h0m0 10.5h0m0 12h0m0-18.5h0m.5 3h0m0 8h0m0 10h0m.5-61.5h0m0 53h0m0-56h0m0 80.5h0m.5-39h0m0-2.5h0m0 28h0m0-66h0m0 53.5h0m.5-9.5h0m0 6h0m0-3h0m0 16h0m0 13h0m0-16.5h0m.5-9.5h0m0-4.5h0m0 19h0m.5-5h0m0-12.5h0m0-4.5h0m0-41h0m.5 38.5h0m0-.5h0m0 22h0m0 19.5h0m0-26h0m0 2h0m.5-12.5h0m0-3.5h0m.5 23h0m0-11.5h0m.5 6h0m0-7.5h0m0 5.5h0m0 3.5h0m0-4.5h0m0-4h0m.5-4h0m0-8.5h0m0 7.5h0m0 3.5h0m0-45.5h0m0 71.5h0m.5-11h0m0-3h0m0-18h0m.5 38.5h0m0-24h0m0-62h0m0 64.5h0m0-15.5h0m0 44.5h0m.5-21.5h0m0 4.5h0m0-23.5h0m.5 8h0m0-4.5h0m0-11.5h0m0-42.5h0m0 65h0m.5 12.5h0m0-15h0m0-64.5h0m.5 59h0m.5-15h0m0 3h0m0 15h0m0-13.5h0m.5-43.5h0m0 46h0m0 18h0m.5-17h0m0 5h0m0 9.5h0m0-21.5h0m0 9h0m0 6h0m.5-56h0m0 65h0m0-6h0m0-15.5h0m.5 11.5h0m0-5.5h0m0-3.5h0m0-50h0m.5 58.5h0m0-15h0m0 31.5h0m0-19h0m0 9.5h0m.5-15h0m0-2h0m.5 13.5h0m0-9.5h0m0 15h0m.5 16.5h0m0-22h0m0-15.5h0m.5 10.5h0m0-57h0m0 71.5h0m.5-19h0m0 12h0m0-59h0m0 56.5h0m0 4h0m0-12.5h0m0-5.5h0m.5 15.5h0m0-4.5h0m0-13.5h0m0 10.5h0m.5-5.5h0m0-5h0m0 16.5h0m0-7.5h0m1 20h0m0-16h0m.5 6h0m0-8.5h0m0-10h0m0 13.5h0m.5-12.5h0m0 16h0m0-5.5h0m0-5h0m0-4.5h0m1 18.5h0m0-2h0m0-2.5h0m0 17h0m0-28h0m0 2.5h0m.5 .5h0m0-48h0m.5 0h0m.5 51.5h0m0 5.5h0m0-3.5h0m0-7.5h0m.5 2.5h0m0 1h0m0-53.5h0m0 63h0m0-10.5h0m.5-46.5h0m0 46.5h0m.5-3h0m.5 .5h0m0 0h0m.5 7.5h0m.5-54h0m.5 49.5h0m0-2.5h0m.5-47h0m.5 55h0m0-60.5h0m0 52h0m.5-52h0m0 52.5h0m0 3h0m1 6.5h0m1-.5h0m0-59h0m1.5 60.5h0m.5-65.5h0m.5 6h0m.5 2h0m2 .5h0m.5 55h0m.5-62h0m1 8.5h0m.5 55h0m0-56.5h0m1-2.5h0m.5-4.5h0m0 7h0m1.5-11.5h0m0 5.5h0m.5-4h0m0 71.5h0m.5-72h0m.5 10h0m.5 57h0m0-73.5h0m0 10.5h0m0 4h0m0-16.5h0m.5 15h0m0 4.5h0m0-13.5h0m.5-6h0m.5 19.5h0m0-12.5h0m0-4h0m.5-1h0m0-3.5h0m.5 22.5h0m0 64.5h0m0-69h0m.5 1.5h0m.5-17.5h0m0 20h0m.5-8h0m0-1h0m0-8h0m0 19h0m0-6.5h0m.5-8.5h0m0-1.5h0m0-4.5h0m0 19h0m0-11h0m1-11h0m0-2h0m0-1.5h0m0 18.5h0m.5 1.5h0m0-3.5h0m0-11.5h0m0 17.5h0m.5-9.5h0m.5-6.5h0m0-5h0m0-3h0m0 27.5h0m0-8.5h0m.5 8h0m0-29h0m0 15.5h0m0-2.5h0m0-10h0m1 11.5h0m0-9h0m0 20h0m0-2h0m.5-8.5h0m0 15h0m0 0h0m.5-22.5h0m0 1h0m0-11h0m0 24h0m.5 3h0m0-13.5h0m0-11h0m.5-2.5h0m0 4.5h0m0 21h0m0-10.5h0m.5 15h0m0-12.5h0m0 6.5h0m0-16.5h0m.5-12h0m0 8h0m0 18.5h0m0 10.5h0m0 2h0m.5-3h0m0-36.5h0m.5 11.5h0m0 7.5h0m0-15.5h0m0 11h0m0-13h0m0 20h0m0-5.5h0m0-1.5h0m.5-5h0m0 10h0m0 3.5h0m0 4h0m.5 10.5h0m0-29.5h0m0 22h0m0-17.5h0m0 20.5h0m.5 1.5h0m0-29.5h0m0-1.5h0m0 4h0m.5 18h0m0-15h0m0 24h0m0-14h0m.5-3h0m0 19h0m0-12h0m.5-8h0m0 7h0m0-4.5h0m0-19.5h0m0 11.5h0m.5-5.5h0m0-3h0m0 20h0m0-13h0m0 23h0m.5-13.5h0m0-6.5h0m0 14.5h0m.5-29h0m0 37.5h0m0-32h0m0 12h0m.5-14.5h0m0 18h0m0-13h0m.5 23h0m0-13.5h0m0 19h0m0-7h0m.5 14h0m0-33h0m0-1.5h0m0 23.5h0m0-1h0m.5-16h0m0 8.5h0m0-32h0m0 37.5h0m0-16h0m0 12.5h0m0 16h0m0-7h0m0 3.5h0m.5-16h0m0 5h0m0 4.5h0m0-33.5h0m0 21.5h0m.5-5.5h0m0-12.5h0m0 34h0m0 7h0m0-32h0m0 5h0m.5-28.5h0m0 54h0m0-24h0m0 8.5h0m0-22h0m0 27h0m.5-10.5h0m0-14h0m0 28h0m0-11h0m.5 17h0m0-33h0m0 1.5h0m0 24.5h0m0-17.5h0m0 6h0m0 16.5h0m.5-13h0m.5-22.5h0m0 25h0m0-15.5h0m0 24h0m0-20.5h0m.5-22h0m0 17.5h0m0 18h0m.5-21.5h0m0-3h0m0 13h0m0-9.5h0m0 3.5h0m0 22h0m0-14.5h0m.5 18h0m0-10h0m0 1.5h0m0 2h0m0-17h0m.5-2h0m0 13.5h0m0 6.5h0m0-8h0m0 16.5h0m0-29.5h0m0 31h0m.5-10.5h0m0 17.5h0m.5-12h0m0-15.5h0m0 6h0m0-19h0m.5 10h0m0 30h0m0-31h0m0 14h0m0 10.5h0m0-7h0m.5 3.5h0m0-20h0m0 5h0m.5 20.5h0m0-54.5h0m0 50h0m0-7.5h0m0-15.5h0m.5-20.5h0m0 40.5h0m0 5.5h0m0-13.5h0m.5-6.5h0m0 4h0m.5 23h0m0-31h0m0 20h0m0 9h0m0-23.5h0m0 11.5h0m0-24.5h0m0 24h0m0-1.5h0m0-16h0m.5-8.5h0m0 11.5h0m.5 0h0m0 15h0m0-3.5h0m0-17h0m.5 11.5h0m0-4.5h0m0 10h0m0-8h0m.5-1h0m.5-12.5h0m.5 20h0m0-9h0m.5-16.5h0m.5 29.5h0m0-19h0m.5 33h0m0-16h0m.5 8.5h0m0-9h0m1-21.5h0m0-6h0m.5 2h0m0 18h0m0-11.5h0m0 5h0m1-4h0m.5 4.5h0m.5 21h0m0-19h0m.5 1h0m1-19h0m0 24.5h0m.5-9h0m0 14h0m.5-11.5h0m1-.5h0m0 24h0m.5-22.5h0m1.5-12.5h0m3 10h0m.5 27.5h0m1-29h0m.5-5h0m0 34h0m2-33.5h0m0 5.5h0m.5 5.5h0m1-3h0m1 9.5h0m0 25h0m1.5-35.5h0m0 33.5h0m1.5-33h0m0 12.5h0" stroke="#b5b5b7" stroke-width="3.4" stroke-linecap="round"/><text x="37.3" y="588.0" font-size="12.8" font-weight="bold" fill="#111">Probability of CKD</text><text x="273.2" y="674.2" font-size="9.5" fill="#111">Probability of CKD</text><rect x="273.2" y="679.0" width="10.5" height="48.7" fill="url(#cbgrad)"/><path d="M273.2 681.0h2.1M281.6 681.0h2.1" stroke="#fff" stroke-width="0.60" opacity="0.8"/><path d="M273.2 693.4h2.1M281.6 693.4h2.1" stroke="#fff" stroke-width="0.60" opacity="0.8"/><path d="M273.2 706.0h2.1M281.6 706.0h2.1" stroke="#fff" stroke-width="0.60" opacity="0.8"/><path d="M273.2 718.7h2.1M281.6 718.7h2.1" stroke="#fff" stroke-width="0.60" opacity="0.8"/><text x="286.3" y="683.9" font-size="9.1" fill="#111">0.28</text><text x="286.3" y="696.3" font-size="9.1" fill="#111">0.24</text><text x="286.3" y="708.9" font-size="9.1" fill="#111">0.20</text><text x="286.3" y="721.6" font-size="9.1" fill="#111">0.16</text><path d="M724.5 591.7V801.9M762.2 591.7V801.9M799.9 591.7V801.9M837.6 591.7V801.9M875.3 591.7V801.9M913.0 591.7V801.9M698.5 799.2H917.9M698.5 777.9H917.9M698.5 756.6H917.9M698.5 735.3H917.9M698.5 714.0H917.9M698.5 692.7H917.9M698.5 671.4H917.9M698.5 650.1H917.9M698.5 628.8H917.9M698.5 607.5H917.9" stroke="#ebebeb" stroke-width="0.7" fill="none"/><text x="762.2" y="808.7" font-size="4.6" text-anchor="middle" fill="#4d4d4d">0</text><text x="837.6" y="808.7" font-size="4.6" text-anchor="middle" fill="#4d4d4d">1</text><text x="913.0" y="808.7" font-size="4.6" text-anchor="middle" fill="#4d4d4d">2</text><text x="696.0" y="609.2" font-size="4.6" text-anchor="end" fill="#4d4d4d">1.0</text><text x="696.0" y="651.8" font-size="4.6" text-anchor="end" fill="#4d4d4d">0.5</text><text x="696.0" y="694.4" font-size="4.6" text-anchor="end" fill="#4d4d4d">0.0</text><text x="696.0" y="737.0" font-size="4.6" text-anchor="end" fill="#4d4d4d">−0.5</text><text x="696.0" y="779.6" font-size="4.6" text-anchor="end" fill="#4d4d4d">−1.0</text><text x="808.2" y="815.7" font-size="6.4" text-anchor="middle">Dimension 1</text><text transform="translate(679.6,696.8) rotate(-90)" font-size="6.4" text-anchor="middle">Dimension 2</text><path d="M843 694.5h0m0-3h0m.5 14.5h0m8-4.5h0m5-14h0m2 2.5h0m5 8h0m1.5-7h0m1-27.5h0m6.5 1h0m1 39h0m0-24.5h0m2.5-.5h0m9 9.5h0m6.5-2.5h0m5 38h0" stroke="#63c5cf" stroke-width="3.5" stroke-linecap="round"/><path d="M771 630.5h0m5.5 4h0m55.5 63.5h0m5.5 10.5h0m1.5-10h0m1 10.5h0m1.5-13h0m1.5-5.5h0m9.5-2.5h0m1.5 4.5h0m.5 .5h0m1-4h0m0 21h0m5.5-37h0m.5 30h0m2.5-21h0m1.5 29.5h0m2-15h0m1.5 15.5h0m6-20h0m5-11h0m19.5 20h0" stroke="#6bc7cc" stroke-width="3.5" stroke-linecap="round"/><path d="M763 626.5h0m5-21.5h0m0 5h0m1.5 25.5h0m1 35h0m2.5-63h0m3 59.5h0m.5-59.5h0m3 64h0m1 3.5h0m34.5 26.5h0m3.5-2h0m7 0h0m1-2h0m.5 5.5h0m0-1.5h0m2.5 0h0m2-2h0m6.5 6h0m2.5 1.5h0m3-4h0m0-14h0m4-4h0m.5 22.5h0m11 3h0m3-13h0m0-29h0m4.5 6.5h0m8 28.5h0m4.5 1h0" stroke="#74c9ca" stroke-width="3.5" stroke-linecap="round"/><path d="M752.5 642.5h0m.5-19h0m12 57h0m3.5 4.5h0m0-8.5h0m1 8.5h0m1-67.5h0m0 56h0m1.5 6h0m2-6.5h0m1-6.5h0m.5 2.5h0m3-.5h0m1.5 4h0m13.5 28h0m1.5 5h0m5-2.5h0m3-1h0m4 3.5h0m1.5-4h0m2.5 2.5h0m1.5-3h0m1.5-2h0m1 3.5h0m9 2.5h0m5.5-7.5h0m8.5 4h0m37-1.5h0" stroke="#7ccbc7" stroke-width="3.5" stroke-linecap="round"/><path d="M748.5 640h0m1.5 5h0m1-14.5h0m2.5 18.5h0m1-7h0m2-1h0m7.5 45h0m2 .5h0m1.5-10.5h0m0-58.5h0m6 52.5h0m1 4.5h0m4 0h0m18.5 31.5h0m12.5-5.5h0m13 1.5h0m19.5-6h0" stroke="#84cdc5" stroke-width="3.5" stroke-linecap="round"/><path d="M750 634.5h0m2 25.5h0m0-5h0m0 6.5h0m.5 15.5h0m9-45h0m6.5 48h0m20 21h0m4.5 5.5h0m7.5-.5h0m1-1.5h0m11.5-1.5h0m10-3h0m7 5h0" stroke="#8dd0c3" stroke-width="3.5" stroke-linecap="round"/><path d="M750.5 650h0m.5-9.5h0m0 22.5h0m.5-21.5h0m28 58.5h0m3 .5h0m8 2.5h0" stroke="#95cfbf" stroke-width="3.5" stroke-linecap="round"/><path d="M749 660.5h0m1 11h0m.5-6h0m0 16h0m.5-33h0m0 18h0m1 18.5h0m.5-9h0m1-12h0m0 24h0m.5-16.5h0m8.5 19.5h0m11.5 9h0m3 1h0m6 3h0" stroke="#9fc9b7" stroke-width="3.5" stroke-linecap="round"/><path d="M746 687.5h0m4.5-7.5h0m0-12.5h0m.5 20h0m0-10h0m1-5h0m.5 2h0m2 6h0m7.5 10h0m.5 3h0m3-1.5h0m.5 3h0m0-3.5h0m3.5 8.5h0m.5-9.5h0m2 2h0m1 1.5h0m.5 1.5h0m2.5 9.5h0m0-2h0m3-2h0m2.5-1h0m0 6h0m1-8h0m1 8h0m8 4h0m2 15.5h0m1-13h0m2.5 15h0m4-1.5h0" stroke="#a8c3b0" stroke-width="3.5" stroke-linecap="round"/><path d="M749 688.5h0m3-.5h0m4.5 .5h0m5.5-4.5h0m.5 9h0m0-4.5h0m5.5 1.5h0m0 4h0m2-6h0m4.5 13h0m3.5-2.5h0m1 6.5h0m.5-7.5h0m6 9.5h0m4.5 8.5h0m0-3.5h0m.5 7.5h0m1-2.5h0m.5-3h0m0 2.5h0m1 1.5h0m1-3h0m0 4h0m0 7.5h0m.5-4h0m4 2h0m.5-1h0m1 5.5h0m2 2.5h0m2 6.5h0" stroke="#b2bda8" stroke-width="3.5" stroke-linecap="round"/><path d="M748 687h0m8-1.5h0m2 1.5h0m1.5 .5h0m5 .5h0m4-1h0m2.5 9.5h0m4.5-2h0m15.5 24.5h0m3.5 5.5h0m2-8.5h0m.5 4h0m3 11.5h0m1.5 4.5h0m.5 3h0m1.5-4.5h0" stroke="#bbb7a1" stroke-width="3.5" stroke-linecap="round"/><path d="M799 743.5h0" stroke="#c9a992" stroke-width="3.5" stroke-linecap="round"/><path d="M814 748h0m7.5-.5h0" stroke="#cea28a" stroke-width="3.5" stroke-linecap="round"/><path d="M709 680h0m27 6.5h0m75 55.5h0" stroke="#d49a81" stroke-width="3.5" stroke-linecap="round"/><path d="M710 684h0m2-8.5h0m1-3.5h0m2 11.5h0m1-4.5h0m.5-3h0m3 5h0m1 1.5h0m1 1h0m11.5-1.5h0m6.5 2.5h0m2 2h0m52.5 64.5h0m45.5 3.5h0" stroke="#d99379" stroke-width="3.5" stroke-linecap="round"/><path d="M705.5 678h0m1.5 2.5h0m1.5 3.5h0m1.5-6.5h0m3.5-2h0m1.5 6.5h0m2 2h0m.5-8.5h0m.5 3.5h0m2.5 2.5h0m11 3h0m.5-2h0m.5 2.5h0m5.5 3h0m4-3.5h0m1.5 2h0m86 72.5h0" stroke="#de8b71" stroke-width="3.5" stroke-linecap="round"/><path d="M712 683h0m2.5 1h0m1-6h0m2.5 5.5h0m4.5-3h0m1-4h0m1.5 5.5h0m.5 1h0m10.5 1.5h0m74.5 84h0m17-4h0" stroke="#e2856b" stroke-width="3.5" stroke-linecap="round"/><path d="M728 709h0m4 1h0m1-8.5h0m2.5-2.5h0m1.5 5.5h0m3.5-12.5h0m49.5 68.5h0" stroke="#e48065" stroke-width="3.5" stroke-linecap="round"/><path d="M727.5 717.5h0m3 4h0m0-9.5h0m2.5-12h0m2.5 1.5h0m3-11h0m1 10h0" stroke="#e77a5f" stroke-width="3.5" stroke-linecap="round"/><path d="M722 721h0m6-3h0m2.5 4.5h0m.5-15.5h0m.5-4.5h0m.5 15h0m3.5-14.5h0m.5 5.5h0m75 75h0" stroke="#e97559" stroke-width="3.5" stroke-linecap="round"/><path d="M719.5 725h0m2.5 0h0m3-11h0m.5-1.5h0m1 6.5h0m0 8h0m1-15.5h0m1.5 13h0m2.5-8.5h0m1-8h0m2.5-1.5h0" stroke="#ec6f53" stroke-width="3.5" stroke-linecap="round"/><path d="M721 728.5h0m2-5.5h0m0 3.5h0m1 4h0m3.5-.5h0m3-7.5h0" stroke="#ee694d" stroke-width="3.5" stroke-linecap="round"/><path d="M726.5 728.5h0" stroke="#ee5d46" stroke-width="3.5" stroke-linecap="round"/><path d="M716.5 731.5h0m6 2h0m1-3h0m2 4h0m2 0h0m1.5-3.5h0" stroke="#ee523e" stroke-width="3.5" stroke-linecap="round"/><path d="M714 733h0m3-4.5h0m1.5 3.5h0m9 4h0m1-1.5h0" stroke="#ee4737" stroke-width="3.5" stroke-linecap="round"/><path d="M714.5 735.5h0m2-5h0" stroke="#ee3b2f" stroke-width="3.5" stroke-linecap="round"/><path d="M714 749.5h0m.5-7h0m.5 3.5h0m4 11.5h0m2.5 1h0m0-12h0m6 8.5h0" stroke="#ee3028" stroke-width="3.5" stroke-linecap="round"/><path d="M848 692.5h0m3-11h0m1.5 26h0m2 .5h0m2.5-37h0m0 37h0m4-18.5h0m0-22h0m3 16.5h0m5.5-3.5h0m0 12h0m0 16.5h0m.5 8.5h0m2-17h0m1-10h0m.5 16h0m4-23h0m2-5h0m2 29h0m2-7.5h0m2 12h0m2-35h0m3.5 37.5h0m1-34h0m4.5 18h0" stroke="#63c5cf" stroke-width="3.5" stroke-linecap="round"/><path d="M764.5 614h0m.5 69.5h0m6.5-74h0m1.5 27h0m6.5-15h0m36 78h0m18 7.5h0m2.5-4h0m.5-3h0m0-4h0m2.5-3h0m2.5 10h0m.5 5.5h0m2.5-19.5h0m0 19h0m3-19.5h0m1.5 16h0m.5 4.5h0m8.5-24h0m3.5-5h0m3.5 24.5h0m3.5-31h0m8.5-.5h0m6.5 13h0m10.5 .5h0" stroke="#6bc7cc" stroke-width="3.5" stroke-linecap="round"/><path d="M759.5 619h0m9.5 9.5h0m.5 44h0m0-60.5h0m1.5 59h0m2.5-2.5h0m4 4h0m.5-39h0m1.5 34h0m38 33h0m3.5-1h0m3 2h0m3.5 6h0m2.5-1h0m1-1.5h0m1-2.5h0m2.5-6h0m1 .5h0m5-4.5h0m.5 5.5h0m1 3h0m22-3h0m1-27.5h0" stroke="#74c9ca" stroke-width="3.5" stroke-linecap="round"/><path d="M759 619.5h0m6.5 66h0m1.5-6.5h0m.5-62.5h0m1.5 60.5h0m1-42.5h0m.5 36h0m.5 3h0m.5 7.5h0m.5-44h0m0 40.5h0m.5-1.5h0m1.5 1.5h0m.5-5h0m1 3h0m1-1h0m4-6h0m.5-46h0m.5 51h0m0-1.5h0m11.5 29.5h0m1 3.5h0m17 .5h0m1-.5h0m5.5-1.5h0m1 2h0m.5 0h0m1-1.5h0m1 1h0m5-3h0m0 3.5h0m5.5-6h0m4.5 7h0" stroke="#7ccbc7" stroke-width="3.5" stroke-linecap="round"/><path d="M749.5 632.5h0m0 14h0m2-2.5h0m1.5-19h0m.5 16.5h0m1.5 3.5h0m.5-23.5h0m11.5 61.5h0m0-5h0m.5 3.5h0m.5-7h0m1.5 6.5h0m1-5h0m1.5-6h0m4.5 0h0m4-.5h0m8 34.5h0m2.5-2.5h0m6 1.5h0m2-2h0m1.5-.5h0m9 2h0m2-2.5h0m1.5 7h0" stroke="#84cdc5" stroke-width="3.5" stroke-linecap="round"/><path d="M749 649h0m.5-12.5h0m0 7h0m1.5-4h0m.5 17h0m1-10h0m1 9.5h0m32.5 47.5h0m3-2.5h0m2.5 5.5h0m1.5-3.5h0m3-.5h0m3.5 2h0m2.5 0h0m1.5 2h0m0-1.5h0m1.5-1.5h0" stroke="#8dd0c3" stroke-width="3.5" stroke-linecap="round"/><path d="M750 657h0m0-3h0m1 3.5h0m0 10.5h0m0 8.5h0m0-15h0m0-3.5h0m1-5.5h0m0 17.5h0m2-10h0m15 23.5h0m15.5 17.5h0m1 8.5h0m0-9h0m7 4h0m4-4.5h0" stroke="#95cfbf" stroke-width="3.5" stroke-linecap="round"/><path d="M752 665h0m.5 17.5h0m.5-8.5h0m0-22.5h0m0 32h0m0-32h0m7.5 36.5h0m1-2.5h0m18.5 20h0m4-2.5h0m1 5.5h0m8 1.5h0" stroke="#9fc9b7" stroke-width="3.5" stroke-linecap="round"/><path d="M749.5 663.5h0m2.5 22h0m.5-7.5h0m7.5 11h0m7 0h0m1 4h0m0 4.5h0m3 4h0m2-3.5h0m.5 1.5h0m.5 3.5h0m3-7h0m.5 9.5h0m2.5-3.5h0m1 1h0m3-4h0m4.5 7.5h0m.5 1.5h0m1.5 3.5h0m2.5 9.5h0m2.5-3.5h0m.5 2.5h0" stroke="#a8c3b0" stroke-width="3.5" stroke-linecap="round"/><path d="M749 685h0m.5 4h0m4.5-2h0m3.5-3.5h0m5 3h0m.5-2.5h0m4.5 12.5h0m4-3h0m1.5 2h0m3 2.5h0m3-2h0m1.5 7.5h0m5.5 2h0m1.5 5h0m5-2.5h0m2 14h0m1.5 .5h0m2 0h0m.5 11h0m.5 4.5h0m1-12.5h0m3 5.5h0" stroke="#b2bda8" stroke-width="3.5" stroke-linecap="round"/><path d="M745 688.5h0m1.5-1h0m8-4.5h0m3.5 2h0m13 13h0m20 16.5h0m5.5 18.5h0m0-3h0m2 5h0m.5-5.5h0m2 0h0m1 8h0" stroke="#bbb7a1" stroke-width="3.5" stroke-linecap="round"/><path d="M796 726.5h0m2 12.5h0m28.5 8.5h0" stroke="#c4b19a" stroke-width="3.5" stroke-linecap="round"/><path d="M798.5 737.5h0m2 3.5h0m3.5-2h0m20 6.5h0m.5 2h0" stroke="#c9a992" stroke-width="3.5" stroke-linecap="round"/><path d="M813 742.5h0" stroke="#cea28a" stroke-width="3.5" stroke-linecap="round"/><path d="M713.5 682h0m10.5 2h0m11 3h0m2.5-2h0m6.5-.5h0m2.5 1h0m74.5 66.5h0" stroke="#d49a81" stroke-width="3.5" stroke-linecap="round"/><path d="M708 677.5h0m.5-1h0m1-1.5h0m11.5-1.5h0m.5 11.5h0m2-7h0m3 2h0m2 1.5h0m.5 3.5h0m1-4.5h0m4.5 3.5h0m.5-2.5h0m2 1.5h0m52 78.5h0m4.5-7.5h0m8.5-4h0m2.5 6.5h0" stroke="#d99379" stroke-width="3.5" stroke-linecap="round"/><path d="M706 681.5h0m.5-6h0m1.5-3h0m.5 2h0m1.5 6.5h0m.5-1h0m2.5 3h0m4.5-1.5h0m1.5-3.5h0m1-4.5h0m0 6.5h0m.5-1.5h0m3 3.5h0m1-1.5h0m7.5 6.5h0m6.5 0h0m1 .5h0m60 78.5h0m9.5 2.5h0m16-2.5h0m1.5-3.5h0" stroke="#de8b71" stroke-width="3.5" stroke-linecap="round"/><path d="M707 680h0m4.5-4.5h0m.5 2h0m1.5 1h0m0-4h0m3 3h0m.5-3.5h0m4 1.5h0m5.5 9.5h0m.5-2.5h0m3 .5h0m11 8h0m1.5-1h0m47.5 69.5h0" stroke="#e2856b" stroke-width="3.5" stroke-linecap="round"/><path d="M710.5 672h0m23.5 36h0m3-10.5h0m1.5-2.5h0m2.5-1.5h0m1.5-1h0" stroke="#e48065" stroke-width="3.5" stroke-linecap="round"/><path d="M732 713h0m2.5-7.5h0m0-4h0m3.5-7h0m1 6h0m.5-2.5h0m1-1.5h0m.5 1h0m1-8.5h0" stroke="#e77a5f" stroke-width="3.5" stroke-linecap="round"/><path d="M724 718.5h0m6-2.5h0m.5-7h0m1-3h0m1 8h0m.5-11.5h0m2 8h0m67.5 76.5h0" stroke="#e97559" stroke-width="3.5" stroke-linecap="round"/><path d="M720.5 729h0m4.5-12.5h0m0 8.5h0m0-7.5h0m2.5-9.5h0m1.5 4.5h0m0 9h0" stroke="#ec6f53" stroke-width="3.5" stroke-linecap="round"/><path d="M722.5 718.5h0m2 2.5h0m1 3h0m2.5 4.5h0m.5-15h0m1 6h0m2 0h0" stroke="#ee694d" stroke-width="3.5" stroke-linecap="round"/><path d="M716 743.5h0m.5-9.5h0m4.5-2.5h0m2.5 .5h0" stroke="#ee5d46" stroke-width="3.5" stroke-linecap="round"/><path d="M718 729h0m.5 6h0m0-6h0m.5 5h0" stroke="#ee523e" stroke-width="3.5" stroke-linecap="round"/><path d="M714 732h0m2.5 5h0m5-2h0m7-3.5h0m1.5 20h0m0-19h0m4 9.5h0" stroke="#ee4737" stroke-width="3.5" stroke-linecap="round"/><path d="M714 737.5h0m.5 6h0m5-10h0m5 24h0m5.5-22h0" stroke="#ee3b2f" stroke-width="3.5" stroke-linecap="round"/><path d="M715 755h0m0-3.5h0m3 7.5h0m0-1.5h0" stroke="#ee3028" stroke-width="3.5" stroke-linecap="round"/><path d="M714 738.5h0m.5 11h0m.5 4.5h0m0-6.5h0m.5-5.5h0m1 4h0m0 .5h0m0 10.5h0m0-9h0m.5-9h0m.5 2.5h0m0-5.5h0m0 17.5h0m0-2.5h0m.5-12.5h0m.5 .5h0m0 4h0m0 3h0m.5 8h0m.5-2h0m0-1.5h0m0-6.5h0m0 11h0m.5 4h0m0-6h0m.5-15h0m0 3h0m0-13.5h0m0-4.5h0m.5 19.5h0m0 6h0m0-5h0m1 7.5h0m0-11h0m.5 12.5h0m0 2h0m0-11h0m.5-7.5h0m.5 20h0m0-14.5h0m0-1.5h0m0 8h0m0-11h0m0 9h0m0-21.5h0m.5 4.5h0m0 25h0m0-3.5h0m0-8h0m.5 8.5h0m.5-25h0m0 15h0m0 2.5h0m.5-6h0m0-16.5h0m0 30h0m0-15h0m.5 12h0m0 9h0m0-1h0m.5-17.5h0m0 7.5h0m0-2.5h0m.5-12h0m0-15h0m0 37.5h0m0-31h0m0 18h0m.5 7h0m0-4h0m0 8h0m0 1.5h0m.5-7h0m0-9h0m0 5.5h0m.5 7.5h0m.5-10h0m0 4h0m.5-5h0m.5 9.5h0m0-12.5h0m0-26h0m0 16h0m.5 24h0m0-7.5h0m.5-26h0m.5 29.5h0m.5-42h0m0 34h0m0 6.5h0m0 3.5h0m0-1.5h0m0-5.5h0m1-1.5h0m.5 7.5h0m1-35.5h0m2.5-12h0m.5 2h0m.5-8h0m10.5-57h0m3-2.5h0m0 2.5h0m.5-9.5h0m0 5h0m.5 4h0m.5-8h0m.5 9h0m0-7.5h0m.5-5h0m0 7.5h0m0-5.5h0m0 8.5h0m.5-6h0m0 9.5h0m.5-4.5h0m1-3.5h0m0 3h0m0-7.5h0m0-6h0m.5 15.5h0m0-13h0m.5 6.5h0m0 8.5h0m0-5.5h0m.5-8h0m.5-2h0m0 0h0m.5 8h0m.5 1.5h0m0 2.5h0m0-6h0m0-1.5h0m.5-6h0m.5 4.5h0m0 1.5h0m0-7.5h0m0 4h0m.5 10h0m.5-3.5h0m0-13h0m.5 12h0m.5-10.5h0m.5 5h0m0 6.5h0m0-9h0m0 4h0m.5-5.5h0m.5-3h0m0 11.5h0m.5-3h0m0-3h0m0 71.5h0m1-76h0m0 78h0m0-75.5h0m.5 3h0m.5 5.5h0m0-7.5h0m0 7h0m.5 69h0m0-71h0m1-1h0m.5-5h0m0 2.5h0m0 4.5h0m0-9.5h0m.5 4h0m1 6h0m.5-10.5h0m0 76h0m0-73.5h0m0 16.5h0m0-7h0m.5-4.5h0m0-2.5h0m.5 11h0m.5-7.5h0m0 2h0m0-4.5h0m1-7h0m0 18h0m0-3.5h0m0-5.5h0m.5-5.5h0m0-3h0m0 11.5h0m0-6h0m0 10.5h0m.5-1.5h0m1 3h0m0-7h0m.5 5h0m0-15h0m0 11.5h0m.5-27.5h0m0 21h0m0-1.5h0m.5 3.5h0m0 .5h0m0 6h0m.5-7h0m0-3.5h0m.5 7.5h0m0 72h0m.5-70.5h0m1-6h0m.5 1.5h0m.5 2.5h0m0 4.5h0m0-6.5h0m2 1.5h0m5 79h0m3 .5h0m1 51h0m0-57.5h0m1 56h0m0 3h0m.5 3.5h0m.5-4.5h0m1 4h0m0-2.5h0m1-3h0m0 2h0m.5-3.5h0m0-3.5h0m0 11h0m0 2.5h0m0-35.5h0m.5 32h0m0 16.5h0m0-19h0m.5-3h0m0 28.5h0m0-37h0m.5 15.5h0m0-9.5h0m.5 5h0m0-9h0m0 15.5h0m0-11.5h0m.5 8.5h0m0-16h0m0-3h0m.5 8h0m0-18.5h0m.5 9h0m.5 22.5h0m0-4h0m0-11.5h0m0 13h0m0-5.5h0m.5-4h0m0 13h0m0 15.5h0m0-23.5h0m.5-13.5h0m0 3.5h0m0-10.5h0m0 18.5h0m.5 1.5h0m0-6h0m0-16h0m0 32h0m.5-18.5h0m0 4.5h0m0 11.5h0m.5-18.5h0m0 15h0m.5-5.5h0m.5-12.5h0m0 19.5h0m0 2.5h0m0-29.5h0m0 21h0m0-9.5h0m0 16.5h0m.5 4h0m0-15h0m.5-6h0m0 12h0m0 10h0m0 0h0m0-19.5h0m0 11.5h0m0-15h0m.5 22.5h0m0-25h0m.5 22.5h0m0-15h0m0 4h0m0 25h0m0-36h0m.5 25h0m0 4h0m0-10.5h0m0 6h0m0-61.5h0m.5 38.5h0m0 18h0m0-13.5h0m0-7.5h0m0-39.5h0m0 55h0m0 5h0m0-2.5h0m.5-18h0m0 10.5h0m0 6.5h0m0 12.5h0m0-22.5h0m.5-45h0m0 65h0m0-3h0m0-22.5h0m.5 10.5h0m0 5h0m.5-8h0m0 30h0m0 10.5h0m0-49.5h0m0 10.5h0m0 12h0m.5-18.5h0m0 3h0m0 8h0m0 10h0m.5-61.5h0m0 53h0m.5 24.5h0m0-39h0m0-2.5h0m.5 15.5h0m0-9.5h0m0 6h0m0-3h0m0 16h0m0 13h0m.5-16.5h0m0-9.5h0m0-4.5h0m.5 19h0m0-5h0m0-12.5h0m0-4.5h0m.5-2.5h0m0 21.5h0m0-6.5h0m0 2h0m.5-12.5h0m.5-3.5h0m0-36.5h0m0 59.5h0m0-11.5h0m.5 6h0m0-7.5h0m0 5.5h0m0 3.5h0m0 10.5h0m0-15h0m0-4h0m.5-4h0m0-8.5h0m0 7.5h0m0 3.5h0m.5 26h0m0-37h0m0 26h0m0-3h0m0-18h0m.5 38.5h0m0-24h0m0 2.5h0m0 29h0m.5-21.5h0m0 4.5h0m0-23.5h0m0 8h0m.5-4.5h0m0-11.5h0m0-39.5h0m0 62h0m.5 12.5h0m0 .5h0m0-15.5h0m.5 12h0m0-10h0m0-7.5h0m0-15h0m0 3h0m.5 15h0m0-13.5h0m0-43.5h0m.5 46h0m0 18h0m0-17h0m.5 5h0m0 9.5h0m0-21.5h0m0 9h0m0 6h0m0 9h0m.5-6h0m0-15.5h0m0 11.5h0m.5-5.5h0m0-3.5h0m0 8.5h0m0-15h0m.5 31.5h0m0-19h0m0 9.5h0m.5-15h0m0-2h0m0 13.5h0m.5-9.5h0m0 15h0m0-22h0m0-43.5h0m.5 82h0m0-22h0m0-15.5h0m.5 10.5h0m0 14.5h0m0-7h0m.5-2.5h0m0 4h0m0-12.5h0m0-47h0m0 57h0m0 4.5h0m0-9h0m0-13.5h0m.5 10.5h0m0-5.5h0m0-5h0m.5 16.5h0m0-7.5h0m0-47.5h0m0-3.5h0m.5 71h0m0-16h0m.5 6h0m.5-8.5h0m0 3.5h0m0-12.5h0m.5 16h0m0-5.5h0m0-5h0m.5 12h0m0-2.5h0m0 17h0m0-28h0m.5 2.5h0m0 .5h0m.5-48h0m.5 51.5h0m0 2h0m0 6h0m0-13.5h0m.5-1.5h0m0-42h0m0 46h0m0 1h0m0-55h0m.5 61.5h0m0-7.5h0m0 3.5h0m0-3.5h0m.5-3h0m.5 .5h0m.5 0h0m0 3.5h0m.5 4h0m.5-4.5h0m0-52h0m0 49.5h0m0 3.5h0m.5-59h0m.5 63.5h0m0-58.5h0m0 6h0m.5 44h0m0 .5h0m.5 3h0m.5-49.5h0m0 1h0m0 55h0m1-.5h0m0-59h0m.5-2h0m0 3.5h0m1-2h0m0 61h0m1.5-57.5h0m.5-8h0m2 63.5h0m.5-57h0m0-2.5h0m.5 5.5h0m0-10.5h0m.5 66h0m.5-56.5h0m1-7h0m.5 7h0m1-11.5h0m0 5.5h0m1-4h0m0 71.5h0m0-72h0m0 3.5h0m0 2.5h0m.5 4h0m.5 57h0m0-73.5h0m0 10.5h0m.5 4h0m0-16.5h0m0 15h0m0-15h0m0 19.5h0m.5-13.5h0m0-6h0m.5 19.5h0m0-23h0m0 10.5h0m0 4h0m0-8h0m1 82.5h0m0-69h0m.5-7h0m.5 5.5h0m0-14.5h0m0 20h0m.5-8h0m0-1h0m0-8h0m.5 12.5h0m0-8.5h0m0-1.5h0m0-4.5h0m0 19h0m0-11h0m1-11h0m0-2h0m0 17h0m.5-2h0m0-7.5h0m0-4h0m.5 17.5h0m0-9.5h0m.5-11.5h0m0-3h0m0 19h0m.5-13h0m0 21h0m0-3.5h0m0-25.5h0m0 15.5h0m0-2.5h0m0 5h0m0-15h0m.5-1h0m.5 17.5h0m0-14h0m0 20h0m0-2h0m.5 6.5h0m.5-22.5h0m0 1h0m0-11h0m0-.5h0m0 24.5h0m.5 3h0m0-24.5h0m.5-2.5h0m0 20.5h0m0-16h0m0 21h0m0-10.5h0m.5 15h0m0-12.5h0m0 6.5h0m0-16.5h0m.5-4h0m0 18.5h0m0 12.5h0m0-3h0m.5-11.5h0m0-25h0m0 11.5h0m0 7.5h0m.5-15.5h0m0 11h0m0-13h0m0 20h0m0-5.5h0m.5-6.5h0m0 13.5h0m0 4h0m0 4.5h0m0 9h0m0-3h0m0-29.5h0m.5 22h0m0-17.5h0m0 20.5h0m0 1.5h0m0-29.5h0m.5-1.5h0m0 4h0m0 18h0m0-15h0m.5 17.5h0m0 6.5h0m0-14h0m0-21.5h0m.5 18.5h0m0 19h0m0-12h0m0-8h0m0 7h0m.5-24h0m0 11.5h0m0-5.5h0m0 17h0m.5 15.5h0m0-19h0m0-6.5h0m.5 17.5h0m0 5.5h0m.5 4h0m0-36h0m0 12h0m.5-14.5h0m0 18h0m0-11.5h0m0-1.5h0m0 23h0m0-13.5h0m.5 19h0m0 7h0m0-33h0m0-1.5h0m0 23.5h0m0-1h0m.5-7.5h0m0-32h0m0 34h0m0 16h0m.5-36h0m0 32.5h0m0-3.5h0m0 3.5h0m.5-11h0m0 4.5h0m0-33.5h0m0 21.5h0m0-5.5h0m.5-3.5h0m0 5h0m0-28.5h0m0 54h0m0-24h0m0 8.5h0m0-22h0m.5 27h0m0-31h0m0 20.5h0m.5-19.5h0m0 33.5h0m0-11h0m0 17h0m0-33h0m0 1.5h0m.5 24.5h0m0-17.5h0m0 6h0m0 16.5h0m0-13h0m.5-22.5h0m0 .5h0m0 9h0m0 24h0m.5-20.5h0m0 23.5h0m0-45.5h0m0 17.5h0m.5 18h0m0-21.5h0m0 10h0m0-27h0m0 17.5h0m0 3.5h0m0 22h0m.5-14.5h0m0 18h0m0-10h0m0 1.5h0m0 2h0m0-17h0m.5 11.5h0m0 6.5h0m0-17.5h0m0 29.5h0m0-33h0m.5 31h0m0-10.5h0m0-25h0m.5 30.5h0m0-15.5h0m0 6h0m0-19h0m.5-22.5h0m0 32.5h0m0 30h0m0-21.5h0m0-13.5h0m0 4h0m.5 14h0m0 10.5h0m0-7h0m0 3.5h0m0-20h0m.5 5h0m0 20.5h0m0-54.5h0m0 50h0m0-19.5h0m0-3.5h0m0 30h0m.5-10h0m0-21h0m0 26.5h0m0-13.5h0m.5-2.5h0m0 17.5h0m.5 5.5h0m0-31h0m0 29h0m0-23.5h0m0 11h0m0-1.5h0m0-16h0m.5 10.5h0m0-19h0m0 11.5h0m.5 0h0m0 11.5h0m0-17h0m.5 11.5h0m0-4.5h0m0-10.5h0m.5 11.5h0m1 7.5h0m0-9h0m1 13h0m0 14h0m.5-16h0m0 8.5h0m.5-9h0m1 4h0m0-31.5h0m0 2h0m.5 18h0m0-6.5h0m.5-4h0m.5 4.5h0m.5 7h0m0-5h0m1 32.5h0m0-31.5h0m.5-19h0m.5 16.5h0m0 8h0m0-12.5h0m1 6h0m.5 23.5h0m.5-22.5h0m0 0h0m1-13h0m3.5 10.5h0m.5 26h0m1.5 1.5h0m2-33.5h0m.5 32h0m0-21h0m1 11h0m0-14h0m2 20h0m.5-21h0m0 33.5h0m1.5-33h0m7.5 7.5h0" stroke="#b5b5b7" stroke-width="3.4" stroke-linecap="round"/><text x="697.3" y="588.0" font-size="12.8" font-weight="bold" fill="#111">Probability of ESRD</text><text x="927.7" y="674.2" font-size="9.5" fill="#111">Probability of ESRD</text><rect x="927.7" y="679.0" width="10.5" height="48.7" fill="url(#cbgrad)"/><path d="M927.7 679.8h2.1M936.1 679.8h2.1" stroke="#fff" stroke-width="0.60" opacity="0.8"/><path d="M927.7 693.4h2.1M936.1 693.4h2.1" stroke="#fff" stroke-width="0.60" opacity="0.8"/><path d="M927.7 707.2h2.1M936.1 707.2h2.1" stroke="#fff" stroke-width="0.60" opacity="0.8"/><path d="M927.7 721.1h2.1M936.1 721.1h2.1" stroke="#fff" stroke-width="0.60" opacity="0.8"/><text x="940.6" y="682.7" font-size="9.1" fill="#111">0.04</text><text x="940.6" y="696.3" font-size="9.1" fill="#111">0.03</text><text x="940.6" y="710.1" font-size="9.1" fill="#111">0.02</text><text x="940.6" y="724.0" font-size="9.1" fill="#111">0.01</text><text x="415.9" y="88.3" font-size="8.15" font-weight="bold" fill="#111">Probability of MI</text><path d="M463.6 93.5V261.8" stroke="#111" stroke-width="0.75" stroke-dasharray="2.4 2.4"/><path d="M424.0 138.2H586.4M424.0 130.9V145.5M586.4 130.9V145.5" stroke="#17b3b7" stroke-width="1.50" fill="none"/><circle cx="458.3" cy="138.2" r="2.6" fill="#17b3b7"/><text x="379.0" y="140.4" font-size="6.0" font-weight="bold" fill="#222">Dimension2</text><path d="M433.0 214.8H497.3M433.0 207.5V222.1M497.3 207.5V222.1" stroke="#ef766e" stroke-width="1.50" fill="none"/><circle cx="454.2" cy="214.8" r="2.6" fill="#ef766e"/><text x="379.0" y="217.0" font-size="6.0" font-weight="bold" fill="#222">Dimension1</text><text x="463.6" y="267.2" font-size="6.0" font-weight="bold" text-anchor="middle" fill="#222">1</text><text x="515.4" y="267.2" font-size="6.0" font-weight="bold" text-anchor="middle" fill="#222">2</text><text x="567.4" y="267.2" font-size="6.0" font-weight="bold" text-anchor="middle" fill="#222">3</text><text x="505.6" y="272.9" font-size="6.2" font-weight="bold" text-anchor="middle" fill="#222">HR with 95% CI</text><text x="603.0" y="170.4" font-size="8.2" font-weight="bold" fill="#222">Dimension</text><path d="M603.1 177.2L607.3 174.0L611.5 177.2L607.3 180.4Z" fill="#ef766e"/><text x="614.0" y="180.0" font-size="7.7" font-weight="bold" fill="#222">Dimension1</text><path d="M603.1 184.8L607.3 181.6L611.5 184.8L607.3 188.0Z" fill="#17b3b7"/><text x="614.0" y="187.6" font-size="7.7" font-weight="bold" fill="#222">Dimension2</text><text x="1075.9" y="88.3" font-size="8.15" font-weight="bold" fill="#111">Probability of HF</text><path d="M1110.3 93.5V261.8" stroke="#111" stroke-width="0.75" stroke-dasharray="2.4 2.4"/><path d="M1084.1 138.2H1246.7M1084.1 130.9V145.5M1246.7 130.9V145.5" stroke="#17b3b7" stroke-width="1.50" fill="none"/><circle cx="1120.3" cy="138.2" r="2.6" fill="#17b3b7"/><text x="1039.0" y="140.4" font-size="6.0" font-weight="bold" fill="#222">Dimension2</text><path d="M1085.0 214.8H1128.4M1085.0 207.5V222.1M1128.4 207.5V222.1" stroke="#ef766e" stroke-width="1.50" fill="none"/><circle cx="1099.6" cy="214.8" r="2.6" fill="#ef766e"/><text x="1039.0" y="217.0" font-size="6.0" font-weight="bold" fill="#222">Dimension1</text><text x="1110.3" y="267.2" font-size="6.0" font-weight="bold" text-anchor="middle" fill="#222">1</text><text x="1150.5" y="267.2" font-size="6.0" font-weight="bold" text-anchor="middle" fill="#222">2</text><text x="1191.4" y="267.2" font-size="6.0" font-weight="bold" text-anchor="middle" fill="#222">3</text><text x="1232.5" y="267.2" font-size="6.0" font-weight="bold" text-anchor="middle" fill="#222">4</text><text x="1165.6" y="272.9" font-size="6.2" font-weight="bold" text-anchor="middle" fill="#222">HR with 95% CI</text><text x="1263.0" y="170.4" font-size="8.2" font-weight="bold" fill="#222">Dimension</text><path d="M1263.1 177.2L1267.3 174.0L1271.5 177.2L1267.3 180.4Z" fill="#ef766e"/><text x="1274.0" y="180.0" font-size="7.7" font-weight="bold" fill="#222">Dimension1</text><path d="M1263.1 184.8L1267.3 181.6L1271.5 184.8L1267.3 188.0Z" fill="#17b3b7"/><text x="1274.0" y="187.6" font-size="7.7" font-weight="bold" fill="#222">Dimension2</text><text x="415.9" y="347.3" font-size="8.15" font-weight="bold" fill="#111">Probability of Stroke</text><path d="M467.5 352.5V520.8" stroke="#111" stroke-width="0.75" stroke-dasharray="2.4 2.4"/><path d="M424.0 397.2H586.4M424.0 389.9V404.5M586.4 389.9V404.5" stroke="#17b3b7" stroke-width="1.50" fill="none"/><circle cx="467.5" cy="397.2" r="2.6" fill="#17b3b7"/><text x="379.0" y="399.4" font-size="6.0" font-weight="bold" fill="#222">Dimension2</text><path d="M425.4 473.8H478.5M425.4 466.5V481.1M478.5 466.5V481.1" stroke="#ef766e" stroke-width="1.50" fill="none"/><circle cx="444.8" cy="473.8" r="2.6" fill="#ef766e"/><text x="379.0" y="476.0" font-size="6.0" font-weight="bold" fill="#222">Dimension1</text><text x="467.5" y="526.2" font-size="6.0" font-weight="bold" text-anchor="middle" fill="#222">1</text><text x="535.5" y="526.2" font-size="6.0" font-weight="bold" text-anchor="middle" fill="#222">2</text><text x="505.6" y="531.9" font-size="6.2" font-weight="bold" text-anchor="middle" fill="#222">HR with 95% CI</text><text x="603.0" y="429.4" font-size="8.2" font-weight="bold" fill="#222">Dimension</text><path d="M603.1 436.2L607.3 433.0L611.5 436.2L607.3 439.4Z" fill="#ef766e"/><text x="614.0" y="439.0" font-size="7.7" font-weight="bold" fill="#222">Dimension1</text><path d="M603.1 443.8L607.3 440.6L611.5 443.8L607.3 447.0Z" fill="#17b3b7"/><text x="614.0" y="446.6" font-size="7.7" font-weight="bold" fill="#222">Dimension2</text><text x="1075.9" y="347.3" font-size="8.15" font-weight="bold" fill="#111">Probability of Cirrhosis</text><path d="M1088.2 352.5V520.8" stroke="#111" stroke-width="0.75" stroke-dasharray="2.4 2.4"/><path d="M1084.1 397.2H1246.7M1084.1 389.9V404.5M1246.7 389.9V404.5" stroke="#17b3b7" stroke-width="1.50" fill="none"/><circle cx="1089.3" cy="397.2" r="2.6" fill="#17b3b7"/><text x="1039.0" y="399.4" font-size="6.0" font-weight="bold" fill="#222">Dimension2</text><path d="M1087.8 473.8H1156.4M1087.8 466.5V481.1M1156.4 466.5V481.1" stroke="#ef766e" stroke-width="1.50" fill="none"/><circle cx="1100.6" cy="473.8" r="2.6" fill="#ef766e"/><text x="1039.0" y="476.0" font-size="6.0" font-weight="bold" fill="#222">Dimension1</text><text x="1084.5" y="526.2" font-size="6.0" font-weight="bold" text-anchor="middle" fill="#222">0</text><text x="1122.7" y="526.2" font-size="6.0" font-weight="bold" text-anchor="middle" fill="#222">10</text><text x="1161.0" y="526.2" font-size="6.0" font-weight="bold" text-anchor="middle" fill="#222">20</text><text x="1199.2" y="526.2" font-size="6.0" font-weight="bold" text-anchor="middle" fill="#222">30</text><text x="1237.5" y="526.2" font-size="6.0" font-weight="bold" text-anchor="middle" fill="#222">40</text><text x="1165.6" y="531.9" font-size="6.2" font-weight="bold" text-anchor="middle" fill="#222">HR with 95% CI</text><text x="1263.0" y="429.4" font-size="8.2" font-weight="bold" fill="#222">Dimension</text><path d="M1263.1 436.2L1267.3 433.0L1271.5 436.2L1267.3 439.4Z" fill="#ef766e"/><text x="1274.0" y="439.0" font-size="7.7" font-weight="bold" fill="#222">Dimension1</text><path d="M1263.1 443.8L1267.3 440.6L1271.5 443.8L1267.3 447.0Z" fill="#17b3b7"/><text x="1274.0" y="446.6" font-size="7.7" font-weight="bold" fill="#222">Dimension2</text><text x="415.9" y="606.9" font-size="8.15" font-weight="bold" fill="#111">Probability of CKD</text><path d="M516.3 612.1V780.4" stroke="#111" stroke-width="0.75" stroke-dasharray="2.4 2.4"/><path d="M424.0 656.8H586.4M424.0 649.5V664.1M586.4 649.5V664.1" stroke="#17b3b7" stroke-width="1.50" fill="none"/><circle cx="490.9" cy="656.8" r="2.6" fill="#17b3b7"/><text x="379.0" y="659.0" font-size="6.0" font-weight="bold" fill="#222">Dimension2</text><path d="M431.2 733.4H504.9M431.2 726.1V740.7M504.9 726.1V740.7" stroke="#ef766e" stroke-width="1.50" fill="none"/><circle cx="464.5" cy="733.4" r="2.6" fill="#ef766e"/><text x="379.0" y="735.6" font-size="6.0" font-weight="bold" fill="#222">Dimension1</text><text x="417.1" y="785.8" font-size="6.0" font-weight="bold" text-anchor="middle" fill="#222">0.6</text><text x="466.4" y="785.8" font-size="6.0" font-weight="bold" text-anchor="middle" fill="#222">0.8</text><text x="516.3" y="785.8" font-size="6.0" font-weight="bold" text-anchor="middle" fill="#222">1.0</text><text x="565.9" y="785.8" font-size="6.0" font-weight="bold" text-anchor="middle" fill="#222">1.2</text><text x="505.6" y="791.5" font-size="6.2" font-weight="bold" text-anchor="middle" fill="#222">HR with 95% CI</text><text x="603.0" y="689.0" font-size="8.2" font-weight="bold" fill="#222">Dimension</text><path d="M603.1 695.8L607.3 692.6L611.5 695.8L607.3 699.0Z" fill="#ef766e"/><text x="614.0" y="698.6" font-size="7.7" font-weight="bold" fill="#222">Dimension1</text><path d="M603.1 703.4L607.3 700.2L611.5 703.4L607.3 706.6Z" fill="#17b3b7"/><text x="614.0" y="706.2" font-size="7.7" font-weight="bold" fill="#222">Dimension2</text><text x="1075.9" y="606.9" font-size="8.15" font-weight="bold" fill="#111">Probability of ESRD</text><path d="M1126.4 612.1V780.4" stroke="#111" stroke-width="0.75" stroke-dasharray="2.4 2.4"/><path d="M1090.6 656.8H1246.7M1090.6 649.5V664.1M1246.7 649.5V664.1" stroke="#17b3b7" stroke-width="1.50" fill="none"/><circle cx="1127.5" cy="656.8" r="2.6" fill="#17b3b7"/><text x="1039.0" y="659.0" font-size="6.0" font-weight="bold" fill="#222">Dimension2</text><path d="M1084.1 733.4H1116.0M1084.1 726.1V740.7M1116.0 726.1V740.7" stroke="#ef766e" stroke-width="1.50" fill="none"/><circle cx="1094.5" cy="733.4" r="2.6" fill="#ef766e"/><text x="1039.0" y="735.6" font-size="6.0" font-weight="bold" fill="#222">Dimension1</text><text x="1126.4" y="785.8" font-size="6.0" font-weight="bold" text-anchor="middle" fill="#222">1</text><text x="1178.5" y="785.8" font-size="6.0" font-weight="bold" text-anchor="middle" fill="#222">2</text><text x="1229.6" y="785.8" font-size="6.0" font-weight="bold" text-anchor="middle" fill="#222">3</text><text x="1165.6" y="791.5" font-size="6.2" font-weight="bold" text-anchor="middle" fill="#222">HR with 95% CI</text><text x="1263.0" y="689.0" font-size="8.2" font-weight="bold" fill="#222">Dimension</text><path d="M1263.1 695.8L1267.3 692.6L1271.5 695.8L1267.3 699.0Z" fill="#ef766e"/><text x="1274.0" y="698.6" font-size="7.7" font-weight="bold" fill="#222">Dimension1</text><path d="M1263.1 703.4L1267.3 700.2L1271.5 703.4L1267.3 706.6Z" fill="#17b3b7"/><text x="1274.0" y="706.2" font-size="7.7" font-weight="bold" fill="#222">Dimension2</text><path d="M1501.0 90.3V425.3M1559.9 90.3V425.3M1618.9 90.3V425.3M1677.8 90.3V425.3M1736.8 90.3V425.3M1795.7 90.3V425.3M1460.3 420.9H1803.4M1460.3 387.0H1803.4M1460.3 353.1H1803.4M1460.3 319.1H1803.4M1460.3 285.1H1803.4M1460.3 251.2H1803.4M1460.3 217.2H1803.4M1460.3 183.3H1803.4M1460.3 149.3H1803.4M1460.3 115.4H1803.4" stroke="#ebebeb" stroke-width="0.9" fill="none"/><text x="1559.9" y="434.8" font-size="7" text-anchor="middle" fill="#4d4d4d">0</text><text x="1677.8" y="434.8" font-size="7" text-anchor="middle" fill="#4d4d4d">1</text><text x="1795.7" y="434.8" font-size="7" text-anchor="middle" fill="#4d4d4d">2</text><text x="1457.8" y="117.9" font-size="7" text-anchor="end" fill="#4d4d4d">1.0</text><text x="1457.8" y="185.8" font-size="7" text-anchor="end" fill="#4d4d4d">0.5</text><text x="1457.8" y="253.7" font-size="7" text-anchor="end" fill="#4d4d4d">0.0</text><text x="1457.8" y="321.6" font-size="7" text-anchor="end" fill="#4d4d4d">−0.5</text><text x="1457.8" y="389.5" font-size="7" text-anchor="end" fill="#4d4d4d">−1.0</text><text x="1631.8" y="447.5" font-size="9.3" text-anchor="middle">Dimension 1</text><text transform="translate(1436.5,257.8) rotate(-90)" font-size="9.3" text-anchor="middle">Dimension 2</text><path d="M1499.5 312h0m49-136.5h0m25 81.5h0m8 13.5h0m26.5 25.5h0m11.5-28.5h0m20 6.5h0m36.5-17.5h0m43-5.5h0m17.5 11.5h0" stroke="#69c6cd" stroke-width="7.4" stroke-linecap="round"/><path d="M1483.5 224h0m2.5 114h0m9.5-29.5h0m6.5 24h0m27-85.5h0m16.5-10.5h0m14 .5h0m11-1h0m18-21.5h0m42 193h0m3-140.5h0m9.5-.5h0m63.5-10h0m6 4.5h0" stroke="#7ccbc7" stroke-width="7.4" stroke-linecap="round"/><path d="M1486.5 350.5h0m4.5-26.5h0m1-7h0m1.5-14.5h0m1.5 4.5h0m2-4h0m1.5 2h0m1-3.5h0m2.5-67.5h0m0 94.5h0m.5 15.5h0m.5 9.5h0m2-118.5h0m5.5 64h0m5.5-23h0m.5-39h0m2 30.5h0m.5 9h0m2-6.5h0m5-20h0m11.5-8h0m2-42.5h0m3.5-30h0m4-14.5h0m.5 15.5h0m3.5-1.5h0m17.5 88h0m.5-125.5h0m3 116h0m3-107.5h0m1.5 3.5h0m1 9h0m5.5 109.5h0m3 2h0m0-8h0m14 8.5h0m9 39h0m1-10h0m0 12h0m2.5-11h0m2-22h0m4.5 31.5h0m21.5-42.5h0m15.5 9.5h0m5.5-5.5h0m6.5 9.5h0m37.5-29.5h0m2.5 13.5h0m6.5-48h0m7-18h0m2 60.5h0m3-27.5h0m0 6h0m9.5 4h0m9-2h0" stroke="#8fd0c2" stroke-width="7.4" stroke-linecap="round"/><path d="M1483.5 228.5h0m1.5 87.5h0m.5-78.5h0m3-13h0m0 97.5h0m6.5-9h0m.5-92.5h0m2.5 112h0m0-16.5h0m1.5-90.5h0m0 114h0m.5-102.5h0m2 53.5h0m3.5 .5h0m0 29.5h0m2-36h0m.5 43h0m1.5-48h0m1 51.5h0m1-58.5h0m0 21h0m1-9.5h0m.5-8.5h0m3.5-4h0m4.5-5.5h0m20.5-58.5h0m.5-40h0m2 23.5h0m1 34h0m7.5 11.5h0m4-90h0m8 90.5h0m2 21h0m3-19h0m4.5-22h0m4.5 46h0m2.5-127h0m1.5 86.5h0m15.5 49h0m3-2.5h0m12-2h0m.5 21.5h0m1 77h0m0-98h0m0 39h0m24-41.5h0m5.5 90.5h0m9 1h0m6.5-85h0m1.5 4h0m44.5-8.5h0m9.5 .5h0m6.5-13.5h0m9 20h0m3.5-8.5h0" stroke="#a5c5b2" stroke-width="7.4" stroke-linecap="round"/><path d="M1491.5 318.5h0m7.5 34h0m1-60h0m3.5 60h0m2-41.5h0m.5-19h0m11-27h0m0-22.5h0m7.5 17h0m11-16.5h0m6-9.5h0m1.5-67h0m.5 27h0m3-12h0m4-21h0m5.5 85h0m14-20h0m2.5-91h0m15 84h0m2.5 44.5h0m34 49h0m10 30h0m9.5-79.5h0m4.5 85h0m4.5-.5h0m8.5-4h0m23-75.5h0m6.5-22.5h0m14.5-21h0" stroke="#bbb7a1" stroke-width="7.4" stroke-linecap="round"/><path d="M1493.5 350.5h0m6-123h0m6.5 54h0m6.5-15h0m.5 12.5h0m9.5-26h0m2-10h0m6.5-1.5h0m12-83h0m1.5 3.5h0m22.5 83.5h0m12.5-36h0m35 138h0m1.5-48.5h0m20.5 55.5h0m38-96.5h0m10.5-1.5h0m2-11h0m9.5 1.5h0m53.5 16h0" stroke="#cba78f" stroke-width="7.4" stroke-linecap="round"/><path d="M1486 234h0m46.5 10.5h0m9-61.5h0m5 60.5h0m19.5 11.5h0m20.5-117.5h0m34.5 167h0m29.5-39h0m30.5-1h0" stroke="#d7957c" stroke-width="7.4" stroke-linecap="round"/><path d="M1563.5 126h0m6 132.5h0m12-48h0m5 60h0m17 11.5h0m39-16.5h0m45-3.5h0" stroke="#e2856b" stroke-width="7.4" stroke-linecap="round"/><path d="M1492.5 228h0" stroke="#e8785d" stroke-width="7.4" stroke-linecap="round"/><path d="M1502 285h0m25-37h0m24-107.5h0m74 184.5h0m25 36h0m4-95h0m48-33.5h0" stroke="#ee523e" stroke-width="7.4" stroke-linecap="round"/><path d="M1571 262.5h0m16-51.5h0" stroke="#ee372d" stroke-width="7.4" stroke-linecap="round"/><path d="M1476 237h0m13 80.5h0m1 3h0m11 24h0m1.5-109h0m4 73h0m13.5-46h0m3.5 1.5h0m21-93h0m2 34.5h0m26 38.5h0m5 11.5h0m1.5-98h0m34.5 153h0m9 3h0m24 35h0m6 19h0m29.5-93.5h0" stroke="#69c6cd" stroke-width="7.4" stroke-linecap="round"/><path d="M1485 342h0m5 6.5h0m2.5 0h0m7.5-37h0m8-9.5h0m39.5-142h0m13 91.5h0m12-27h0m2 8h0m5-10.5h0m2-79.5h0m3 117.5h0m33.5 10h0m35 64.5h0m8-67h0m70-25h0m6.5-14h0m5.5 41h0" stroke="#7ccbc7" stroke-width="7.4" stroke-linecap="round"/><path d="M1473.5 231h0m12 110.5h0m1-113.5h0m1.5 2h0m12 113.5h0m4.5-54h0m1.5 47.5h0m2-54h0m2.5-1.5h0m2.5-39.5h0m4 31h0m21.5-106h0m.5 72h0m2-80.5h0m3 85h0m0-45h0m1-57.5h0m18 99.5h0m5-16h0m.5 22.5h0m1-5h0m1.5-3.5h0m7.5-11.5h0m4.5 30h0m5.5-34h0m2 49.5h0m2.5-3.5h0m11.5-7h0m.5 3h0m2 5h0m4 1.5h0m2 33.5h0m6 4.5h0m1 8h0m0 50h0m1.5-47.5h0m1 2h0m2.5 1h0m4-55.5h0m3 3h0m.5-5h0m1.5-1.5h0m5 79h0m11-74h0m9.5-2.5h0m1-7.5h0m4.5 12h0m1.5-14h0m1 8.5h0m40.5 9.5h0m19-40.5h0m1.5 28h0m2.5-12h0m9.5 39h0m2.5-61h0m17.5 55h0m14-19.5h0" stroke="#8fd0c2" stroke-width="7.4" stroke-linecap="round"/><path d="M1483.5 234h0m2 96.5h0m2.5 5.5h0m3.5-11h0m1.5-8.5h0m.5-95.5h0m1 102h0m2-86h0m5 67.5h0m3 8.5h0m2.5 30h0m.5-103.5h0m1 54.5h0m4 46.5h0m2-106.5h0m.5 104.5h0m2.5-59h0m13.5-41.5h0m11.5-12.5h0m1 14.5h0m2-19h0m15 20.5h0m2.5 11.5h0m5.5-31h0m.5 9h0m.5 22.5h0m14 18h0m3.5-8.5h0m14.5 13h0m9 26h0m1.5 84.5h0m4.5-68h0m1 4.5h0m18.5-51h0m10.5-3.5h0m5.5 2.5h0m2-8h0m5-1h0m2.5 .5h0m.5 92h0m46.5-99h0m11-21.5h0m0 34.5h0m7.5 4h0m25.5-26.5h0m14.5 4h0" stroke="#a5c5b2" stroke-width="7.4" stroke-linecap="round"/><path d="M1479 230.5h0m10.5 94h0m1-88.5h0m.5 118h0m3.5-119h0m8.5 85h0m2.5 30.5h0m8.5-85.5h0m5-23.5h0m5.5 21.5h0m15.5-90h0m5 53h0m2-9h0m1-51.5h0m15-27.5h0m1 94h0m1.5 8h0m5-14h0m1-7h0m2.5 46.5h0m1.5-35.5h0m2.5-15h0m0-2.5h0m2.5-74h0m0 85.5h0m19 55.5h0m4.5 74.5h0m3.5-80.5h0m0 5h0m5 12h0m12.5-20h0m9.5 69h0m.5 22.5h0m5 3.5h0m21.5-15h0m4.5-83.5h0m4 4.5h0m37.5-9.5h0m10.5 9h0m4-8.5h0m6.5-39.5h0m15 9.5h0" stroke="#bbb7a1" stroke-width="7.4" stroke-linecap="round"/><path d="M1480.5 224h0m42.5 31h0m6.5-4h0m42.5 1h0m7.5-32.5h0m9 49h0m45.5 78h0m5.5-5.5h0m8-69h0m50 1.5h0m32.5-39.5h0" stroke="#cba78f" stroke-width="7.4" stroke-linecap="round"/><path d="M1476.5 231.5h0m16.5 1h0m16.5 3h0m36-50h0m9-33.5h0m66 118.5h0" stroke="#d7957c" stroke-width="7.4" stroke-linecap="round"/><path d="M1498 231.5h0m13 42.5h0m57-40.5h0m28.5 40h0m58-5.5h0m78.5-14h0" stroke="#e2856b" stroke-width="7.4" stroke-linecap="round"/><path d="M1498.5 320.5h0m111.5-37.5h0m6.5 19h0m104.5-71.5h0" stroke="#e8785d" stroke-width="7.4" stroke-linecap="round"/><path d="M1476 222h0m23.5 91.5h0m7-36h0m36-65.5h0m2 16h0m74.5 85h0" stroke="#ee523e" stroke-width="7.4" stroke-linecap="round"/><path d="M1540.5 194h0m74.5 166.5h0m10-42.5h0" stroke="#ee372d" stroke-width="7.4" stroke-linecap="round"/><path d="M1490.5 233h0m17.5 101h0m3-43.5h0m24-51h0m9-32.5h0m23.5 20.5h0m5-11.5h0m36 49.5h0m1.5 5.5h0m.5 27.5h0m2.5 0h0m77.5-37h0" stroke="#69c6cd" stroke-width="7.4" stroke-linecap="round"/><path d="M1510 288.5h0m30-43h0m.5-41h0m4 10.5h0m2-45h0m5 74.5h0m2-105h0m70.5 215h0m16.5 44h0m2-128.5h0m2.5 .5h0m1.5 87h0m5-95.5h0m31.5 9.5h0m30-57h0m12.5 16.5h0" stroke="#7ccbc7" stroke-width="7.4" stroke-linecap="round"/><path d="M1485.5 319h0m.5 17h0m4-112h0m4 6.5h0m5 98.5h0m1-20h0m4-1h0m1 41h0m4.5-44h0m2.5-16.5h0m11-41h0m3.5 5.5h0m15-22h0m1 12h0m0-47.5h0m1-33h0m4.5 69.5h0m5.5 6.5h0m2.5 4.5h0m3-3h0m14-19h0m2 29.5h0m.5-23.5h0m1.5 32.5h0m4.5 0h0m.5-100.5h0m.5 105h0m11 3.5h0m8.5-3h0m6 3.5h0m9 48h0m.5-51.5h0m1 55.5h0m4.5-2.5h0m1-44h0m0 62h0m2.5-66.5h0m.5 2.5h0m1 74h0m20-83.5h0m17.5 11.5h0m29-5.5h0m5-20h0m15-23.5h0m1.5 39h0m2.5-34h0m29.5 16.5h0" stroke="#8fd0c2" stroke-width="7.4" stroke-linecap="round"/><path d="M1479 218h0m2.5 9.5h0m8.5 117h0m1-35h0m3.5 38h0m2-108.5h0m6 62.5h0m2.5-2h0m1-23.5h0m3.5-44h0m3 38h0m0 64.5h0m9-95h0m5 19.5h0m1-17.5h0m7 1.5h0m4.5 1.5h0m1.5-89h0m0 62h0m1.5-6h0m18.5 37h0m1.5-100.5h0m10.5 12.5h0m1-8.5h0m13.5 65.5h0m0 41.5h0m5 .5h0m3 5h0m.5 11.5h0m1-12.5h0m0 5h0m4.5 5h0m4 20h0m.5-3.5h0m0-17h0m.5 83h0m1-80h0m25 63h0m4-70h0m1.5 5h0m4 101.5h0m11.5-24.5h0m28.5-78h0m7.5-8h0m8-11.5h0m2.5-12.5h0m4-5h0m24.5-6h0m18.5 22.5h0" stroke="#a5c5b2" stroke-width="7.4" stroke-linecap="round"/><path d="M1473.5 232h0m4.5-5h0m6 97.5h0m6 4h0m.5-99h0m2.5 103h0m6-98.5h0m4 105.5h0m3.5-17h0m1-89h0m5.5 51.5h0m4.5-51.5h0m1 28h0m.5-23h0m2-2.5h0m3 2h0m2 19.5h0m15-68.5h0m16 55h0m1.5-113.5h0m5 113h0m.5 12h0m12-103h0m.5-37h0m5.5 99.5h0m2-65.5h0m20.5 136h0m6 12h0m7 12.5h0m31 21h0m4-58.5h0m12.5-14h0m10.5 9h0m8-8h0m20.5 16h0" stroke="#bbb7a1" stroke-width="7.4" stroke-linecap="round"/><path d="M1478.5 232.5h0m3 3h0m10.5 100.5h0m2.5-107h0m5 93h0m.5 9h0m6.5 0h0m36-104h0m9-63h0m22 57h0m54 44.5h0" stroke="#cba78f" stroke-width="7.4" stroke-linecap="round"/><path d="M1501 231.5h0m0 65h0m15.5-14.5h0m22-119.5h0m37 62h0m38 38.5h0m48.5 11.5h0" stroke="#d7957c" stroke-width="7.4" stroke-linecap="round"/><path d="M1472.5 223.5h0m33.5 122.5h0m35-170.5h0m73.5 119.5h0m38 68.5h0m65-138.5h0" stroke="#e2856b" stroke-width="7.4" stroke-linecap="round"/><path d="M1635.5 334.5h0" stroke="#e8785d" stroke-width="7.4" stroke-linecap="round"/><path d="M1518.5 265h0m41.5-12.5h0m16.5-117.5h0m2 132.5h0" stroke="#ee523e" stroke-width="7.4" stroke-linecap="round"/><path d="M1475 227h0" stroke="#ee372d" stroke-width="7.4" stroke-linecap="round"/><path d="M1494.5 233.5h0m17 4.5h0m1 52.5h0m38-51h0m3 2.5h0m23.5 13.5h0m29 23.5h0m11.5 72.5h0m13 38.5h0m5-48.5h0m13.5-70.5h0m11.5 86h0m8.5-97h0m7 2.5h0m59-36h0m17.5 19.5h0" stroke="#69c6cd" stroke-width="7.4" stroke-linecap="round"/><path d="M1489 339.5h0m24.5-100.5h0m7.5 20h0m7.5-21h0m15.5-50.5h0m3 54.5h0m13.5 2h0m44 37h0m68.5-24h0m13.5 15.5h0m22 6.5h0m17.5-19.5h0m7.5 27.5h0" stroke="#7ccbc7" stroke-width="7.4" stroke-linecap="round"/><path d="M1475.5 219.5h0m6 4h0m3 90h0m1.5-77h0m6 118h0m2 2.5h0m.5-48h0m.5-85.5h0m3 76h0m2.5 55.5h0m1.5-32h0m.5-27h0m1 28.5h0m.5-31h0m.5 12h0m0 30.5h0m3-18h0m1-21h0m1.5 48h0m.5-48h0m12.5-54.5h0m17.5-65.5h0m1.5 4h0m0 14.5h0m0 14h0m.5-8h0m.5-28h0m1 45.5h0m.5 3h0m.5 12.5h0m2-35h0m14.5 38h0m4 13h0m.5-1h0m1-13.5h0m9.5 17h0m11 19h0m15.5 15.5h0m.5 70h0m5.5-94h0m1 23h0m1.5 22.5h0m7.5-37h0m1-9h0m2 61.5h0m.5-55h0m4 61h0m3-59h0m8.5-.5h0m.5-3h0m33.5 0h0m4 2.5h0m2.5-5h0m13 6.5h0m10.5-23.5h0m23-16h0m3 44.5h0m3.5 5.5h0" stroke="#8fd0c2" stroke-width="7.4" stroke-linecap="round"/><path d="M1471 228h0m1.5 5h0m3-8h0m2.5 12.5h0m8.5 107.5h0m1.5-32h0m1-75.5h0m4 105.5h0m2-43.5h0m10.5 18h0m9-55h0m7.5-18.5h0m22.5-43h0m1.5-15.5h0m0-22.5h0m.5 29.5h0m1 43.5h0m21.5 15.5h0m2.5-19h0m2.5 27h0m0-7h0m3.5 9.5h0m3-48.5h0m.5 40.5h0m.5 13.5h0m2.5-48.5h0m2.5-65h0m3.5 67h0m12.5 51h0m4 13h0m7 30h0m3 8h0m.5-22.5h0m6.5-35h0m9 89h0m4.5-92h0m2.5 66.5h0m15-55.5h0m9.5 71.5h0m1-79.5h0m35.5-11h0m7.5-25.5h0m3.5 39h0m0 11.5h0m5-7.5h0m2.5-72h0m13.5 79.5h0m42-35h0" stroke="#a5c5b2" stroke-width="7.4" stroke-linecap="round"/><path d="M1477.5 223h0m5.5 13h0m1-13.5h0m5.5-1h0m6 109.5h0m1.5-35h0m.5-3.5h0m4-3h0m8 51.5h0m.5-64h0m1.5 60.5h0m1.5-102.5h0m15 10.5h0m11-64h0m1-20h0m2.5 42h0m1.5 36h0m22 2h0m1-12h0m18.5-16.5h0m3-.5h0m4.5 60h0m3.5 5.5h0m7 81.5h0m1-65.5h0m3-2.5h0m8.5 34h0m4-15.5h0m26-46h0m5 132h0m9-125h0m11 3h0m1-11h0m10-6.5h0m5.5-3.5h0m17-13h0m12 39h0m3.5-5h0m12.5-16h0m2.5-13h0" stroke="#bbb7a1" stroke-width="7.4" stroke-linecap="round"/><path d="M1484.5 322.5h0m4-95.5h0m14.5 56h0m1.5-44.5h0m6 60.5h0m12-45h0m22-76.5h0m30.5 37.5h0m3.5 4.5h0m11 48.5h0m4-6.5h0m51 75.5h0m29-72h0m2 8h0m7-22.5h0m2.5 10h0m21.5-29.5h0" stroke="#cba78f" stroke-width="7.4" stroke-linecap="round"/><path d="M1483 218h0m12.5 114.5h0m17.5 5h0m65.5-73h0m9 1h0" stroke="#d7957c" stroke-width="7.4" stroke-linecap="round"/><path d="M1597 271.5h0m133.5 8h0" stroke="#e2856b" stroke-width="7.4" stroke-linecap="round"/><path d="M1585.5 222h0m71.5 43.5h0" stroke="#ee523e" stroke-width="7.4" stroke-linecap="round"/><path d="M1502 302.5h0m71-87h0m7.5-66.5h0m23.5 119h0" stroke="#ee372d" stroke-width="7.4" stroke-linecap="round"/><path d="M1485.5 332.5h0m.5 16h0m.5-19h0m1.5 3h0m0-21.5h0m.5 25.5h0m0 17.5h0m.5-45.5h0m1.5 48.5h0m1-25.5h0m.5-17.5h0m0-4.5h0m1 36.5h0m1.5-18h0m1 12h0m.5 16h0m0-19h0m0-19h0m1 26.5h0m0-18h0m.5 20h0m0 3h0m2-13.5h0m.5 13h0m2.5-31.5h0m2 14.5h0m.5-3.5h0m.5 10.5h0m0-6h0m.5 15h0m1-35h0m1-.5h0m1 13h0m.5-4h0m.5-2.5h0m0-4.5h0m0 28.5h0m2.5-18.5h0m.5 4.5h0m1-2.5h0m2 3h0m26.5-177h0m1-5.5h0m.5 8h0m1.5-6h0m0-5.5h0m1 7.5h0m.5-7.5h0m.5 3h0m.5 3.5h0m.5 8h0m1.5-20.5h0m0 15h0m.5 5h0m0-12h0m0-9h0m1 14.5h0m.5 4.5h0m1-13h0m0-3.5h0m1.5-4.5h0m.5 20h0m0 3.5h0m0-9h0m0-2.5h0m.5-13h0m.5 3.5h0m0 7h0m.5-9.5h0m.5 6h0m.5 16.5h0m1-6h0m.5-1.5h0m0 5h0m.5-21.5h0m.5 7.5h0m.5 11h0m0-14.5h0m0 6.5h0m.5 2.5h0m.5-12h0m.5-4h0m1 13h0m1-11.5h0m0 4h0m1 5h0m.5 8h0m.5-11.5h0m0 11h0m.5-3.5h0m1.5-13.5h0m.5-1h0m0 13.5h0m0-8h0m0-16h0m0-8h0m.5 27.5h0m0 7.5h0m.5-8.5h0m1 11h0m.5-2h0m.5 13h0m0-38h0m.5 37h0m0-28.5h0m.5 19h0m0-6.5h0m.5-4.5h0m0-7.5h0m.5 25h0m.5-12h0m.5 3h0m0-28.5h0m1 44h0m0-33.5h0m.5 29h0m.5 3.5h0m0-32h0m.5 19h0m0-10h0m0 16.5h0m2-8.5h0m1 8h0m.5-23.5h0m0-25.5h0m1 46.5h0m.5-11.5h0m.5-5h0m0-20h0m.5 32h0m1.5 9.5h0m.5-17h0m1 2.5h0m.5 4h0m1-3h0m2-4h0m0 6h0m12 215.5h0m4-10h0m1 10.5h0m1-7h0m1-6h0m.5 12h0m0-3.5h0m1-12.5h0m0 7.5h0m.5 3h0m.5-5.5h0m0-5.5h0m0 17.5h0m0 4h0m1-5.5h0m0-4h0m.5-4.5h0m.5 45.5h0m0-59.5h0m.5 25h0m.5-15.5h0m.5 8h0m0-14.5h0m.5-5h0m.5-5h0m0 13h0m1-15.5h0m.5 36h0m.5-6.5h0m0-25h0m0 7h0m0 20h0m.5-14.5h0m.5 20.5h0m0 25h0m0-22h0m0-15.5h0m0-21.5h0m0 5.5h0m0 12.5h0m1 2.5h0m0-9h0m.5-14.5h0m.5 10h0m0 7h0m.5 19h0m0-29.5h0m.5 23.5h0m1-15.5h0m0 6.5h0m0-20h0m0 31.5h0m.5 4h0m.5-14h0m0-14.5h0m0 26h0m0 39h0m0-32.5h0m0-24h0m1 26h0m0-1h0m0-30.5h0m0 18h0m0-24h0m.5 36h0m0-40h0m1 23h0m0 13.5h0m0-24h0m0 6h0m0 40h0m.5-17h0m0 6h0m0-17h0m0 10h0m1-37h0m0 29h0m0-21.5h0m0-12.5h0m0 25h0m.5 7.5h0m.5-5h0m0 20h0m0-36h0m.5 32h0m.5-5h0m0-36h0m0 17h0m.5 8h0m.5-13.5h0m.5-13.5h0m0 16.5h0m0 19h0m0-29.5h0m1 17h0m0 16.5h0m1 25.5h0m0-62h0m0-4.5h0m.5 44.5h0m0-19.5h0m.5-15h0m0 30h0m0 20.5h0m.5-26h0m0-14.5h0m.5 22.5h0m.5 2h0m.5-40.5h0m0-1.5h0m0 35h0m0 31.5h0m.5-38h0m.5-20h0m.5-5.5h0m0 36h0m.5-18h0m.5 9.5h0m0-12h0m0 8.5h0m0 6.5h0m0 16h0m.5-23.5h0m0-6.5h0m.5-18.5h0m0 16h0m0 41.5h0m0-59h0m.5 42h0m.5-33.5h0m0 23h0m.5 3.5h0m0-24.5h0m.5 70.5h0m.5-27h0m0-37h0m0 12.5h0m.5-7h0m0-18.5h0m.5 36h0m.5 20.5h0m0-25h0m.5 19h0m0-15.5h0m.5-36h0m0 29h0m.5-21.5h0m0 4h0m.5 29h0m.5-27.5h0m0 8h0m0 15h0m.5-34.5h0m.5 38.5h0m0-9.5h0m0-24.5h0m.5 18h0m.5-14h0m0 13h0m.5 27h0m0-30.5h0m0 14.5h0m1-23.5h0m0-3.5h0m.5 6.5h0m0 24.5h0m.5-35.5h0m.5 26.5h0m0-25h0m.5 17h0m0 23h0m.5-30.5h0m0 19.5h0m.5-4.5h0m0-22.5h0m.5 32.5h0m.5-28h0m0-7.5h0m.5 25.5h0m0-11.5h0m1.5 31.5h0m0-25.5h0m.5 10h0m.5-14h0m0-15.5h0m0 21.5h0m0-20h0m.5 25.5h0m0-8.5h0m0-8h0m.5-8h0m.5 30.5h0m.5-4h0m0-3.5h0m0 27h0m0-45h0m.5 4h0m0 1h0m1-9.5h0m.5 15.5h0m0 8.5h0m0 4.5h0m0-22h0m1 4h0m.5 11.5h0m0 5h0m0-16.5h0m.5-.5h0m.5-4h0m.5 1h0m1 5h0m0 6h0m.5 0h0m1-7h0m0-3.5h0m0 5h0m1-80h0m.5 87.5h0m.5-96.5h0m0 83h0m.5-83h0m0 83.5h0m0 4.5h0m1-83.5h0m.5 6.5h0m0 88h0m1-1h0m.5-94h0m2 97h0m3-105h0m1.5 18h0m.5-4h0m1.5 87h0m.5-107h0m0 8.5h0m0 8h0m0 81.5h0m1-73h0m1 84.5h0m1-105h0m1 20h0m0-12h0m1 7h0m.5-24h0m0 6.5h0m.5-5h0m.5 18.5h0m1.5-12h0m0 114h0m0-115h0m0-9h0m.5 15h0m0 15.5h0m.5-5h0m1 90.5h0m0-94h0m0-26.5h0m.5 24.5h0m0-24.5h0m.5 9.5h0m.5-9.5h0m.5 31h0m0-36h0m.5 16.5h0m0 6h0m0-12h0m.5-2.5h0m0-5h0m.5 11.5h0m0 24.5h0m.5 102.5h0m0-121h0m1 13h0m0-4.5h0m0-23h0m.5 32h0m.5-12.5h0m0-1.5h0m0 17h0m.5-10h0m.5-16.5h0m0-7h0m0 13h0m1-17.5h0m0-3.5h0m.5-2h0m0 29.5h0m.5 2.5h0m0-5.5h0m.5 9h0m1-25h0m0-8h0m.5 39h0m0-14h0m0-20.5h0m0 33.5h0m0-6h0m.5-40h0m0 24h0m0 5h0m.5-26h0m.5 20h0m.5 8h0m0 9.5h0m.5-3.5h0m0-13.5h0m.5 24.5h0m.5-34.5h0m0-19h0m0 39.5h0m.5 17h0m.5-51h0m.5-4h0m.5 40h0m0-16h0m0-5.5h0m0 29.5h0m0-20.5h0m.5-15.5h0m.5-19.5h0m.5 57.5h0m0-58h0m.5 18h0m0 12h0m.5-24.5h0m0 17h0m0-20h0m0 31.5h0m0-9h0m.5-2h0m.5-7.5h0m0 15.5h0m0 5.5h0m0 6h0m0 8h0m.5 13.5h0m0-4h0m0-47.5h0m0 35.5h0m0-28.5h0m.5 35h0m0-47h0m.5-2h0m0 6.5h0m0 28.5h0m.5-24h0m0 38.5h0m0-22.5h0m.5-5h0m.5 30h0m0-18.5h0m.5-12.5h0m0 4h0m0-31.5h0m.5 18.5h0m0-14h0m0 32h0m.5 25h0m0-45.5h0m.5 15h0m0-10h0m.5 23h0m0-46h0m.5 8h0m0 20h0m.5-23.5h0m.5 28.5h0m0-18h0m0 33.5h0m.5-21h0m0 19h0m.5 22.5h0m0-55h0m0 37.5h0m0-1.5h0m.5-25.5h0m.5 22h0m0-5.5h0m0 25.5h0m0-57.5h0m0 52h0m1-25.5h0m0 7.5h0m0 8h0m0-54h0m0 35h0m0-9h0m0-20h0m0 54h0m.5 11h0m.5-42.5h0m0 40h0m0-38h0m0-21.5h0m.5-6h0m.5 32h0m0-22.5h0m0-8h0m0 53.5h0m.5-18h0m0 27h0m0-52h0m.5 41h0m0-28h0m0 10h0m0 26h0m1-57h0m0 40h0m0-38.5h0m.5 52h0m0-32h0m.5 37.5h0m0-73.5h0m.5 23h0m0-5h0m0 21h0m0-43.5h0m.5 69h0m0-23h0m.5 38.5h0m0-26h0m0 2h0m0 4h0m.5-31h0m0 22h0m.5 10h0m0-27.5h0m0 47h0m0-32.5h0m0 29.5h0m.5 11h0m.5-19h0m0-25h0m.5 9.5h0m0-30h0m0-36.5h0m.5 52.5h0m0 47h0m0-34h0m0-15h0m.5 22h0m0 6h0m1-72.5h0m0 80h0m0-12h0m0-19.5h0m0-5.5h0m.5 48h0m0-81h0m.5 64.5h0m0-33.5h0m.5 11h0m0 34h0m.5 8.5h0m0-49h0m0 31.5h0m0-23h0m.5-20.5h0m0 38.5h0m0-28h0m.5 16h0m.5-11.5h0m.5 24h0m0-6h0m.5-8.5h0m0-7.5h0m.5-16.5h0m0 19.5h0m1-.5h0m1 11h0m0-14.5h0m1-26h0m.5 47.5h0m.5-30.5h0m.5 27h0m.5 14h0m0-14.5h0m1 7.5h0m1-51h0m0 2.5h0m0 29h0m.5-10.5h0m2 .5h0m.5 34h0m0-30.5h0m1.5 52h0m1-80.5h0m.5 26h0m0 13h0m0-20.5h0m.5 6.5h0m1 4h0m1 37.5h0m0-38.5h0m.5 38h0m1.5-56.5h0m6 16.5h0m1 44h0m1.5-46h0m0-8h0m0 53.5h0m3-53h0m.5 9h0m1 42.5h0m1.5-16.5h0m0-22.5h0m1 15.5h0m.5 39.5h0m1.5-23h0m.5-33.5h0m0 54h0m14.5-41h0" stroke="#b5b5b7" stroke-width="5.2" stroke-linecap="round"/><path d="M1559.5 247.5h0m56.5 66h0" stroke="#7ccbc7" stroke-width="7.4" stroke-linecap="round"/><path d="M1499 326.5h0m92.5-63h0m15 26h0m115.5-85h0m12 63.5h0" stroke="#8fd0c2" stroke-width="7.4" stroke-linecap="round"/><path d="M1504 231h0m10.5 36h0m66.5-125.5h0m47 215.5h0m127.5-130.5h0" stroke="#a5c5b2" stroke-width="7.4" stroke-linecap="round"/><path d="M1628 328h0m15 60.5h0m58-158h0m22-3h0" stroke="#bbb7a1" stroke-width="7.4" stroke-linecap="round"/><path d="M1714 253.5h0" stroke="#e2856b" stroke-width="7.4" stroke-linecap="round"/><path d="M1590 218h0" stroke="#ee372d" stroke-width="7.4" stroke-linecap="round"/><text x="1459.3" y="82.2" font-size="19.3" font-weight="bold" fill="#111">Probability of DR</text><text x="1818.0" y="221.0" font-size="14" fill="#111">Probability of DR</text><rect x="1818.0" y="229.4" width="15.0" height="78.5" fill="url(#cbgrad)"/><path d="M1818.0 249.0h3.0M1830.0 249.0h3.0" stroke="#fff" stroke-width="0.60" opacity="0.8"/><path d="M1818.0 269.5h3.0M1830.0 269.5h3.0" stroke="#fff" stroke-width="0.60" opacity="0.8"/><path d="M1818.0 288.9h3.0M1830.0 288.9h3.0" stroke="#fff" stroke-width="0.60" opacity="0.8"/><text x="1840.0" y="253.5" font-size="12.5" fill="#111">0.15</text><text x="1840.0" y="274.0" font-size="12.5" fill="#111">0.10</text><text x="1840.0" y="293.4" font-size="12.5" fill="#111">0.05</text><text x="1511.5" y="518.8" font-size="13.6" font-weight="bold" fill="#111">Probability of DR</text><path d="M1541.6 526.0V791.5" stroke="#111" stroke-width="1.20" stroke-dasharray="3.8 3.8"/><path d="M1557.1 596.9H1795.3M1557.1 584.9V608.9M1795.3 584.9V608.9" stroke="#17b3b7" stroke-width="2.40" fill="none"/><circle cx="1641.5" cy="596.9" r="4.0" fill="#17b3b7"/><text x="1449.3" y="600.5" font-size="10.1" font-weight="bold" fill="#222">Dimension2</text><path d="M1524.6 717.8H1609.3M1524.6 705.8V729.8M1609.3 705.8V729.8" stroke="#ef766e" stroke-width="2.40" fill="none"/><circle cx="1558.5" cy="717.8" r="4.0" fill="#ef766e"/><text x="1449.3" y="721.4" font-size="10.1" font-weight="bold" fill="#222">Dimension1</text><text x="1541.6" y="800.2" font-size="10" font-weight="bold" text-anchor="middle" fill="#222">1</text><text x="1630.4" y="800.2" font-size="10" font-weight="bold" text-anchor="middle" fill="#222">2</text><text x="1718.6" y="800.2" font-size="10" font-weight="bold" text-anchor="middle" fill="#222">3</text><text x="1807.4" y="800.2" font-size="10" font-weight="bold" text-anchor="middle" fill="#222">4</text><text x="1659.8" y="810.6" font-size="10.1" font-weight="bold" text-anchor="middle" fill="#222">HR with 95% CI</text><text x="1823.3" y="647.6" font-size="13.5" font-weight="bold" fill="#222">Dimension</text><path d="M1823.0 658.4L1829.9 653.2L1836.8 658.4L1829.9 663.6Z" fill="#ef766e"/><text x="1842.3" y="662.9" font-size="12.5" font-weight="bold" fill="#222">Dimension1</text><path d="M1823.0 670.8L1829.9 665.6L1836.8 670.8L1829.9 676.0Z" fill="#17b3b7"/><text x="1842.3" y="675.3" font-size="12.5" font-weight="bold" fill="#222">Dimension2</text><path d="M93.9 932.4V1263.4M152.6 932.4V1263.4M211.3 932.4V1263.4M270.0 932.4V1263.4M328.7 932.4V1263.4M387.4 932.4V1263.4M53.4 1259.2H395.0M53.4 1225.6H395.0M53.4 1192.1H395.0M53.4 1158.5H395.0M53.4 1125.0H395.0M53.4 1091.4H395.0M53.4 1057.9H395.0M53.4 1024.3H395.0M53.4 990.8H395.0M53.4 957.2H395.0" stroke="#ebebeb" stroke-width="1.0" fill="none"/><text x="152.6" y="1275.1" font-size="10" font-weight="bold" text-anchor="middle" fill="#111">0</text><text x="270.0" y="1275.1" font-size="10" font-weight="bold" text-anchor="middle" fill="#111">1</text><text x="387.4" y="1275.1" font-size="10" font-weight="bold" text-anchor="middle" fill="#111">2</text><text x="49.4" y="960.8" font-size="10" font-weight="bold" text-anchor="end" fill="#111">1.0</text><text x="49.4" y="1027.9" font-size="10" font-weight="bold" text-anchor="end" fill="#111">0.5</text><text x="49.4" y="1095.0" font-size="10" font-weight="bold" text-anchor="end" fill="#111">0.0</text><text x="49.4" y="1162.1" font-size="10" font-weight="bold" text-anchor="end" fill="#111">−0.5</text><text x="49.4" y="1229.2" font-size="10" font-weight="bold" text-anchor="end" fill="#111">−1.0</text><text x="223.2" y="1287.5" font-size="11.9" font-weight="bold" text-anchor="middle">Dimension 1</text><text transform="translate(21.5,1097.9) rotate(-90)" font-size="11.9" text-anchor="middle" font-weight="bold">Dimension 2</text><path d="M77 1063h0m.5 90h0m4 23h0m0-108.5h0m.5 111.5h0m0-101h0m.5 86h0m.5 19.5h0m.5 12.5h0m.5-47h0m2-76h0m5 86.5h0m1 32h0m3.5-50.5h0m.5 38h0m5-56h0m1.5 57h0m.5-52h0m.5-6.5h0m0 17h0m.5-24.5h0m6.5 5.5h0m.5-18h0m7.5-4h0m5.5-15.5h0m4-2h0m.5 3.5h0m5-67h0m5.5-12.5h0m19.5-14h0m3-28.5h0m5.5 111.5h0m4.5 31.5h0m1-54.5h0m.5-59.5h0m1 3h0m0 117h0m1-47.5h0m5.5 49h0m1.5-4h0m3.5 1h0m11.5-7h0m4.5 1.5h0m4.5 46.5h0m3 5.5h0m.5-15h0m5 23.5h0m.5 36h0m2.5-89.5h0m0 58h0m.5 23h0m2-24h0m6.5 33h0m5.5-86.5h0m7-5.5h0m1 78h0m9 15h0m11-96h0m0 9.5h0m.5-13h0m4 6h0m18.5-2.5h0m1-24h0m15 6.5h0m1.5 31h0m1-60h0m1.5 56.5h0m13.5-58h0m14 28.5h0m28.5 37.5h0" stroke="#69c6cd" stroke-width="6.0" stroke-linecap="round"/><path d="M93 1077.5h0m12.5 99h0m11-72.5h0m33-128h0m6.5 105h0m44.5 27h0m5-1h0m4.5 83.5h0m.5-80.5h0m4.5 51.5h0m2 17h0m23.5-76.5h0m5 71.5h0m1.5-65.5h0m6.5 74h0m5-75h0m18.5-6.5h0m23-1h0m18-18h0m43.5 58h0" stroke="#7ccbc7" stroke-width="6.0" stroke-linecap="round"/><path d="M213 1110.5h0m31-8.5h0" stroke="#8fd0c2" stroke-width="6.0" stroke-linecap="round"/><path d="M99.5 1117.5h0m103-6.5h0m50.5-3.5h0" stroke="#a5c5b2" stroke-width="6.0" stroke-linecap="round"/><path d="M84.5 1158h0m1.5-2h0m2.5 23h0m1-102h0m3 64.5h0m107.5 52h0m94-96.5h0m8.5-25.5h0m21.5 55.5h0" stroke="#bbb7a1" stroke-width="6.0" stroke-linecap="round"/><path d="M68 1067.5h0m20-3.5h0m9.5 65h0m2 33h0m6-38.5h0m34-90h0m77 160h0m2-12.5h0m13-.5h0m13 19h0m1.5-93.5h0m3-.5h0m10-8.5h0m19.5-3h0m15 7h0m0-20.5h0m18 14h0m8.5 22.5h0" stroke="#cba78f" stroke-width="6.0" stroke-linecap="round"/><path d="M68.5 1060h0m15 16.5h0m19-.5h0m2.5 30.5h0m108 71h0m6-7.5h0m1 2.5h0m11 23h0m1 14h0m42-113h0m38.5-11.5h0m13-3h0m7 47h0" stroke="#d7957c" stroke-width="6.0" stroke-linecap="round"/><path d="M102.5 1158.5h0m7-47h0m30-119h0m15-21h0m2 124.5h0m72.5 101h0m48-100.5h0m12.5-6h0m5-19h0m5 5h0m11 45h0m47-48.5h0" stroke="#e2856b" stroke-width="6.0" stroke-linecap="round"/><path d="M72 1071h0m1.5-6.5h0m9.5 123h0m8-48.5h0m15-14h0m4.5-51h0m13.5 4.5h0m8-56h0m8 60h0m6-102h0m8-4.5h0m1.5 8.5h0m10 77h0m15.5 47h0m3-5h0m12 95h0m2-85.5h0m10.5 25.5h0m1.5 33h0m1 17h0m6-31h0m5 12h0m52-52.5h0m7-16.5h0m10.5-.5h0m21 10h0m6.5-11h0m0-24h0m6.5 38h0m41-9h0" stroke="#e8785d" stroke-width="6.0" stroke-linecap="round"/><path d="M76 1076.5h0m7 91.5h0m3 4h0m.5 17.5h0m7.5-6h0m0-47.5h0m1.5-.5h0m.5 24h0m13-38h0m3-43h0m26-96h0m0 44h0m26 33h0m35 65.5h0m10.5 78h0m1.5-32h0m2.5 32h0m5.5 13h0m7.5-10.5h0m7.5 16h0m6.5-27.5h0m10 9.5h0m2.5-104.5h0m7 3h0m11 10h0m10-7h0m8.5-8.5h0m5.5-5.5h0m10.5-7.5h0m7.5 37.5h0m5.5-37h0" stroke="#ed6b4f" stroke-width="6.0" stroke-linecap="round"/><path d="M76.5 1069h0m11 117.5h0m4.5-20.5h0m10.5-46.5h0m.5 63h0m32.5-189h0m1.5 54h0m0 8h0m4.5-39h0m2-34.5h0m.5 28h0m1-13.5h0m3-21.5h0m3.5 15.5h0m10.5 103h0m1-27h0m2 25.5h0m0-115.5h0m.5 3.5h0m3-9.5h0m1 .5h0m0 9h0m5.5-3h0m.5 127.5h0m16.5 15h0m5 14h0m0-13h0m.5 12.5h0m5-10h0m16.5 76h0m4.5-25.5h0m6.5-1.5h0m5-66.5h0m7 73h0m2 36.5h0m.5-104h0m3 83h0m3 5.5h0m2.5-15.5h0m9.5 16h0m11.5-87h0m2-16.5h0m4.5-.5h0m.5-1.5h0m8 12.5h0m2-4h0m5 12.5h0m6-25h0m10 23.5h0m1.5-20h0m1-8.5h0m7-18.5h0m4 63.5h0m5-30.5h0m6.5-25.5h0m17 5.5h0" stroke="#ee523e" stroke-width="6.0" stroke-linecap="round"/><path d="M71.5 1073h0m6.5 82h0m3-2.5h0m3 10.5h0m1-6.5h0m7.5 22h0m2.5-104.5h0m2.5 5h0m8 95h0m.5-55h0m3.5-14h0m5.5-12h0m16.5-89.5h0m3 48.5h0m.5-30h0m0 28.5h0m0 15.5h0m.5-58h0m1.5 71.5h0m0-67.5h0m8.5-28h0m2 15.5h0m1.5-14h0m4 96.5h0m3.5-109h0m2.5 109h0m1 4h0m4.5-84.5h0m.5 .5h0m1.5 97.5h0m1.5-95.5h0m1-19h0m4.5 109h0m2 3h0m1 14h0m2.5-.5h0m4 2h0m14 13h0m.5-20h0m1.5 94.5h0m1.5-64h0m1 7h0m1.5-1.5h0m.5 47h0m0 12h0m1.5-10h0m1 10.5h0m1.5-1.5h0m0-25h0m1.5-7.5h0m3.5-10h0m0-53.5h0m8 81h0m2.5-17h0m.5 35.5h0m4-22.5h0m1-68.5h0m2.5 106h0m3-33h0m1 22.5h0m1 15h0m4.5-52h0m4 33.5h0m.5-2h0m9 2.5h0m.5-17h0m2.5-76.5h0m.5-12h0m3.5 90h0m3.5-86h0m1.5 2h0m7.5-.5h0m6-19h0m2.5 25.5h0m.5-26h0m2.5-8.5h0m5.5 3h0m6.5 1h0m0-16h0m.5 54.5h0m.5-50.5h0m1.5 33.5h0m.5-45h0m1 17.5h0m.5 11.5h0m.5-6.5h0m3.5 34h0m.5-27h0m.5-21.5h0m.5 6.5h0m1.5 47.5h0m1.5-38h0m0 29.5h0m2.5-14h0m1.5-51h0m1 44.5h0m3.5 17h0m1-35h0m4 12.5h0m2.5-14.5h0m2 17h0m13.5-12h0m.5 28h0" stroke="#ee372d" stroke-width="6.0" stroke-linecap="round"/><path d="M74.5 1068h0m2-3.5h0m3 120h0m3.5-120h0m4.5 11h0m1 96h0m2 .5h0m5-96h0m2.5 81h0m1-36h0m0-5.5h0m1.5-36h0m.5 94h0m.5-40h0m3 43h0m1-46.5h0m1.5-23h0m1.5 62h0m10.5-79h0m16-7h0m1-48.5h0m1-6h0m7.5-23.5h0m21-32.5h0m2 83.5h0m.5 35h0m1-97.5h0m.5 100h0m.5 9h0m1-35h0m.5-69h0m.5 64.5h0m7-75h0m.5 70h0m20.5 55.5h0m3 80.5h0m4-86.5h0m16 76.5h0m1.5-5.5h0m1.5-2h0m12 7.5h0m1 12.5h0m2-85.5h0m2 123.5h0m2-25h0m1.5-21.5h0m20-89.5h0m12.5 14h0m4.5-31h0m4 1h0m15.5 37.5h0m7-20.5h0m2.5-23.5h0m2-13h0m8 45.5h0m1-4.5h0m19-19h0m21.5 52h0" stroke="#69c6cd" stroke-width="6.0" stroke-linecap="round"/><path d="M71 1063.5h0m8.5 126h0m5-36h0m1-85h0m30 26.5h0m6.5-4h0m36-109h0m7 102h0m24 34h0m0-14.5h0m.5 8h0m21.5 47.5h0m9 33h0m21.5-10.5h0m1.5-76h0m.5 69.5h0m10.5-60.5h0m55-56.5h0m6.5 30.5h0m9.5 0h0" stroke="#7ccbc7" stroke-width="6.0" stroke-linecap="round"/><path d="M76.5 1074.5h0m21.5 64.5h0m.5 33h0m16.5-78h0m101.5 19.5h0m14-2.5h0" stroke="#8fd0c2" stroke-width="6.0" stroke-linecap="round"/><path d="M215 1109.5h0" stroke="#a5c5b2" stroke-width="6.0" stroke-linecap="round"/><path d="M90 1142.5h0m2.5 10.5h0m13.5-77.5h0m127.5 103h0m55.5-91h0m19.5-6.5h0m16-3.5h0m20 9h0" stroke="#bbb7a1" stroke-width="6.0" stroke-linecap="round"/><path d="M81.5 1193h0m2.5 0h0m6-27h0m15.5 13.5h0m14-86.5h0m60.5-34h0m1.5-6h0m25 133h0m5.5-4h0m4 2.5h0m5-6h0m2 3h0m9-13.5h0m1 8.5h0m12 19h0m54-124h0m.5 20h0m2.5-10h0m.5 17h0m.5-29.5h0m1.5 4h0m9 6h0m10-42.5h0m1.5 57.5h0m13-12.5h0m6 40.5h0" stroke="#cba78f" stroke-width="6.0" stroke-linecap="round"/><path d="M69 1062.5h0m10.5 106.5h0m26-5h0m12-64.5h0m49.5-139.5h0m36.5 223h0m13.5-10h0m21.5-69h0m3.5 96h0m58.5-86h0m35-22.5h0" stroke="#d7957c" stroke-width="6.0" stroke-linecap="round"/><path d="M78.5 1077.5h0m12 55h0m.5-60.5h0m1.5 89.5h0m0 13.5h0m7-27h0m35-100h0m1-37.5h0m60 117h0m9.5 6.5h0m.5 10.5h0m12 18h0m8.5-58.5h0m1 75h0m11.5-6h0m50.5-56h0m24.5-46h0m27.5-14.5h0" stroke="#e2856b" stroke-width="6.0" stroke-linecap="round"/><path d="M69.5 1077.5h0m14-7.5h0m1 94h0m3.5-17.5h0m1.5-67h0m7 84.5h0m1.5-89h0m.5 85h0m9-85.5h0m2.5 38.5h0m9.5-14h0m13-96h0m6 74h0m25-.5h0m1.5-11.5h0m1.5-7.5h0m2 7.5h0m17.5 36.5h0m15.5 94h0m4-19h0m2.5-7h0m1-7.5h0m3.5 44.5h0m18.5-101.5h0m7 106h0m1.5-33.5h0m3-4h0m1 26h0m3 0h0m1 19.5h0m10.5-30.5h0m28.5-73.5h0m36.5-24.5h0m6-1.5h0m15.5 33h0m1.5-56h0" stroke="#e8785d" stroke-width="6.0" stroke-linecap="round"/><path d="M68.5 1065.5h0m18.5 5.5h0m2 86.5h0m1 26h0m9 1.5h0m2-43.5h0m3-11.5h0m28-50.5h0m20.5 8h0m1 1.5h0m2.5-5h0m5.5 3.5h0m1-8h0m1.5-6.5h0m2-79.5h0m14 112h0m1-50.5h0m18.5 60.5h0m20.5 85.5h0m20.5-20h0m2 3.5h0m6 5.5h0m8.5 5.5h0m21-107.5h0m28.5-28h0m1 16.5h0m14-45.5h0m12 72h0" stroke="#ed6b4f" stroke-width="6.0" stroke-linecap="round"/><path d="M79 1187.5h0m17 5h0m3-16.5h0m21-87.5h0m13-74.5h0m2 38.5h0m1-52.5h0m1 68.5h0m3-83.5h0m.5 91.5h0m.5-77h0m8.5 84.5h0m12-131h0m0 35h0m4-3.5h0m1 77h0m2.5-85h0m2 126.5h0m3-120h0m.5-1h0m2.5 118h0m0-102h0m2-19h0m.5 72.5h0m0 47.5h0m.5-114h0m8 131h0m7-4h0m6 75.5h0m9-83h0m9 105h0m8-23.5h0m7.5 11h0m18 4.5h0m13.5 0h0m13-94h0m3.5-6h0m11.5-9h0m1.5 6.5h0m1.5-36h0m6.5 56.5h0m1.5-64.5h0m3 48.5h0m0-4.5h0m10.5-26.5h0m2.5 14.5h0m4.5 3.5h0" stroke="#ee523e" stroke-width="6.0" stroke-linecap="round"/><path d="M72 1058.5h0m9.5 6.5h0m6 8.5h0m3 115h0m4.5-17h0m5.5-5h0m2-22h0m2-11h0m4-17.5h0m2.5-11h0m.5 2.5h0m2 2.5h0m1-30.5h0m2.5-1h0m0 25h0m4-17.5h0m10.5-1h0m1.5-88.5h0m.5 38.5h0m.5-35.5h0m.5 72h0m.5-35.5h0m2-39.5h0m.5 66h0m1.5-16.5h0m.5 11.5h0m4-79.5h0m0 102h0m6-98h0m1.5 10.5h0m1.5-18h0m3 5h0m0 113.5h0m1-125.5h0m.5 109.5h0m1.5 18.5h0m.5-109.5h0m1.5 79h0m0-92.5h0m2 93.5h0m2 22h0m1.5 9.5h0m1-5h0m3-96h0m4.5 59h0m.5-55.5h0m.5-11h0m3 74h0m2.5 .5h0m1-82.5h0m1 122h0m11.5 1.5h0m5.5 26.5h0m3.5-19.5h0m.5 37h0m.5-18.5h0m1 8h0m.5-10h0m1 18h0m3 52.5h0m0-36h0m1 29.5h0m2.5-18h0m.5-14.5h0m6.5 7.5h0m4 40h0m4-3.5h0m3.5-34h0m3-63h0m.5 120.5h0m2-117h0m1 97h0m1.5-95h0m11.5-10h0m0 4.5h0m.5 4.5h0m2 77h0m4-74.5h0m7-16h0m9.5-7h0m10 21.5h0m1-27.5h0m1 23.5h0m1 1.5h0m1-8h0m1 12h0m3.5-29.5h0m5.5-19.5h0m4 42h0m1 1.5h0m0-44h0m1 24.5h0m2.5 3h0m2.5-5.5h0m2.5 22.5h0m.5-19.5h0m0 15h0m1-70.5h0m1.5 83.5h0m0-51.5h0m2.5 50h0m.5-49.5h0m0-27h0m2 52h0m2.5 11.5h0m3.5-22.5h0m1.5 22.5h0m7 8h0m.5-1h0" stroke="#ee372d" stroke-width="6.0" stroke-linecap="round"/><path d="M67 1072.5h0m4-5h0m6.5 94h0m.5 19.5h0m.5-22.5h0m.5 16.5h0m.5-106.5h0m1.5 1.5h0m1.5-7.5h0m1 11h0m2 114.5h0m2-39.5h0m.5 4h0m.5 17.5h0m2.5-14.5h0m.5-11h0m1 7h0m.5 31h0m2-40.5h0m2.5 3.5h0m.5 22h0m2-10h0m2.5 3h0m.5-24h0m3.5-57h0m.5 25.5h0m3-22.5h0m4 23.5h0m1-21.5h0m1 3h0m27-100.5h0m2.5 90h0m3.5 6.5h0m2.5-3h0m19 15h0m23 13.5h0m.5 7h0m6 2.5h0m6-15.5h0m4 75.5h0m5.5 23h0m3 3h0m1.5-99h0m5 127h0m4-39h0m0-16.5h0m1 30.5h0m6-105h0m.5 92h0m6 14h0m0-99.5h0m2 77h0m6 21h0m2-14h0m1-77.5h0m3 68.5h0m4 .5h0m1-84.5h0m9 5.5h0m2 92.5h0m.5-9h0m1.5-75.5h0m8 87h0m1-109.5h0m2.5 0h0m3.5 2.5h0m1.5-19.5h0m13.5 22.5h0m5-31h0m.5 36h0m8.5-35h0m3.5 14h0m3.5 46.5h0m.5-21.5h0m1.5-29h0m14 4.5h0" stroke="#69c6cd" stroke-width="6.0" stroke-linecap="round"/><path d="M81 1175h0m41-87.5h0m8.5-5.5h0m16.5-89h0m14.5-16h0m13.5-20h0m97.5 143.5h0m3.5 7h0" stroke="#7ccbc7" stroke-width="6.0" stroke-linecap="round"/><path d="M87 1196h0m.5-126.5h0m2.5 66h0" stroke="#8fd0c2" stroke-width="6.0" stroke-linecap="round"/><path d="M100 1152.5h0m1-.5h0m178.5-50h0" stroke="#a5c5b2" stroke-width="6.0" stroke-linecap="round"/><path d="M93 1132h0m122.5 43.5h0m71 40.5h0m37.5-169.5h0" stroke="#bbb7a1" stroke-width="6.0" stroke-linecap="round"/><path d="M79 1077h0m17 46h0m47.5-121.5h0m72 238.5h0m1.5-43.5h0m8-91h0m11.5 65.5h0m20 18.5h0m43-78h0m1.5-16h0m.5-33.5h0m12.5-2.5h0m9 23h0m10 21h0m3-23h0" stroke="#cba78f" stroke-width="6.0" stroke-linecap="round"/><path d="M98.5 1189.5h0m38.5-186.5h0m37.5 48h0m27 148.5h0m15-24.5h0m4.5 19.5h0m12 42.5h0m12-124.5h0m55.5 2.5h0m15-1h0m13-24h0" stroke="#d7957c" stroke-width="6.0" stroke-linecap="round"/><path d="M81 1171.5h0m4 22h0m7-127.5h0m5 5.5h0m2 60h0m.5 50.5h0m2-45h0m16-53.5h0m15-43h0m31 62h0m1-138.5h0m5 131.5h0m7-36h0m31.5 123h0m32.5 38h0m9-27.5h0m25 7.5h0m10.5-114h0m11 18.5h0m8-36.5h0m9.5 12.5h0m11.5 41h0m1-14h0m.5-11.5h0" stroke="#e2856b" stroke-width="6.0" stroke-linecap="round"/><path d="M66.5 1071.5h0m20-10h0m1 101h0m1.5 32.5h0m4.5-1h0m10-55.5h0m1-60h0m30-5h0m3-7h0m16 18h0m4.5-4h0m.5-91h0m6.5 67.5h0m4-54.5h0m8.5-21h0m39 170h0m11 59h0m4-28.5h0m7.5 19.5h0m46.5-122h0m8.5-11h0m1.5 40h0m7-21.5h0m4-35h0m9 41.5h0m1 3.5h0m1.5-36h0m2.5 69.5h0m5.5-22.5h0m12.5-23h0m28-.5h0" stroke="#e8785d" stroke-width="6.0" stroke-linecap="round"/><path d="M86 1182h0m6.5-114h0m.5 83h0m2.5 32h0m2-11.5h0m5 12.5h0m36-157.5h0m2 45.5h0m20 2h0m6 31.5h0m9-3.5h0m27 31h0m0 58h0m6-26.5h0m13.5-53h0m1 117h0m0 17h0m26-50h0m5.5-2h0m44.5-89.5h0m2-47.5h0m10 35h0m21.5-14.5h0m1 40.5h0" stroke="#ed6b4f" stroke-width="6.0" stroke-linecap="round"/><path d="M64.5 1068.5h0m14 112h0m8-38.5h0m10.5 5.5h0m36-129h0m6.5-7.5h0m.5-23h0m0 13h0m.5 6h0m2.5-8h0m5-11h0m5 103.5h0m8-106.5h0m1 86.5h0m3-80.5h0m1.5 6.5h0m3 102h0m.5-105.5h0m7-3h0m5.5 70.5h0m14 46.5h0m2 11h0m8.5 15.5h0m4 72.5h0m0-63.5h0m2 41h0m.5-40.5h0m11.5 49.5h0m1-2.5h0m3.5-88h0m1.5 91.5h0m.5-6.5h0m2 60.5h0m12.5-74.5h0m9.5 9.5h0m7-70.5h0m5 0h0m7.5-1.5h0m19-38.5h0m9 3h0m4.5 10h0m1 26h0m10.5-15.5h0m1.5-33h0m3 59h0m17.5-40h0" stroke="#ee523e" stroke-width="6.0" stroke-linecap="round"/><path d="M69.5 1071.5h0m18 96h0m7.5-5h0m10-34.5h0m28.5-69.5h0m.5-28.5h0m1-21h0m0 58.5h0m.5-31h0m0-22h0m1 25h0m.5-7.5h0m0 10h0m.5-23h0m.5 46.5h0m0-75.5h0m.5-5h0m1 99h0m0-44h0m5-48h0m1.5-11h0m.5 101h0m2.5 4h0m1-88h0m2 79.5h0m1.5-99h0m5.5 119.5h0m2-.5h0m.5-34.5h0m.5-90h0m.5 109.5h0m2-110.5h0m2.5 13.5h0m1 82h0m1.5-77.5h0m1 65.5h0m.5 4.5h0m0 47.5h0m2-111.5h0m.5 68.5h0m0-87h0m5 126.5h0m.5-109h0m.5 108h0m3-116h0m2 112.5h0m1 13h0m3.5 1h0m3.5-9h0m7 5.5h0m1.5-4.5h0m1.5 39.5h0m6 8h0m1-3.5h0m2.5 18.5h0m2.5-15h0m.5 29h0m0 22h0m.5-47h0m0 33h0m1.5 19h0m.5-44.5h0m1 22.5h0m1.5-7.5h0m4.5 11.5h0m1-20.5h0m0-4h0m1 14.5h0m0 45.5h0m1-26h0m1-30.5h0m0-1h0m4 35h0m.5-102.5h0m1.5 89h0m3-11.5h0m3.5 26h0m3.5-20.5h0m5-7h0m7.5-72h0m2.5 5.5h0m8.5-8h0m2 13h0m8.5-26.5h0m2.5-4h0m4 13h0m3 15.5h0m5-19.5h0m0-18h0m1 31.5h0m1.5-31.5h0m1 39h0m.5-33.5h0m.5 20h0m2.5-32.5h0m4.5 31.5h0m1.5-45.5h0m3.5 13h0m2 31h0m2.5 3h0m0-49h0m.5 1.5h0m0 53h0m5.5-31.5h0m0 46.5h0m0-52.5h0m.5 32h0m2 11.5h0m13-51.5h0m4 73.5h0m.5-49.5h0m4-.5h0m9 40h0m7.5-40.5h0" stroke="#ee372d" stroke-width="6.0" stroke-linecap="round"/><path d="M74.5 1064h0m2.5 99.5h0m2-89h0m2 76h0m4 25h0m3-36.5h0m.5-78h0m3.5 107.5h0m1-20h0m1.5-4.5h0m4.5 43h0m1.5-113.5h0m0 51h0m2-52.5h0m.5 45h0m5 61h0m4-61.5h0m1-14h0m20-16.5h0m3.5-97.5h0m10 90.5h0m7-94h0m0 2.5h0m14-6h0m10.5 72h0m18 68.5h0m8.5 77h0m1 36.5h0m1.5-56h0m0-67h0m3.5 71.5h0m.5 45h0m0-52.5h0m.5-64.5h0m4.5-6.5h0m5.5 2h0m0 103h0m.5-24h0m4-79.5h0m2 66.5h0m3 13.5h0m3 27.5h0m3.5-32h0m8 7.5h0m1-87h0m2 8h0m.5 65.5h0m.5 8.5h0m4.5-79.5h0m7.5 1.5h0m6.5 .5h0m8.5-3h0m4.5 11.5h0m2-34.5h0m3.5 15h0m7.5-8h0m5-5.5h0m6.5 12h0m.5-1.5h0m9-25.5h0m6.5 28.5h0m3 23h0" stroke="#69c6cd" stroke-width="6.0" stroke-linecap="round"/><path d="M65.5 1073.5h0m19 97h0m10-41.5h0m12.5-26.5h0m6.5-26h0m8 2h0m39.5-107h0m70 136.5h0m4 2h0m15.5 72h0m13-76h0m5.5-8h0m16-5.5h0m2.5 12.5h0m51-12.5h0" stroke="#7ccbc7" stroke-width="6.0" stroke-linecap="round"/><path d="M252 1111.5h0" stroke="#8fd0c2" stroke-width="6.0" stroke-linecap="round"/><path d="M78.5 1171.5h0" stroke="#a5c5b2" stroke-width="6.0" stroke-linecap="round"/><path d="M158.5 978.5h0m44 205h0m33.5 44.5h0m.5-52h0m55-70.5h0m38-36.5h0" stroke="#bbb7a1" stroke-width="6.0" stroke-linecap="round"/><path d="M92 1074.5h0m2-2.5h0m1 58h0m1.5 61.5h0m9-23.5h0m10.5-85.5h0m41-105.5h0m12-20h0m29.5 238h0m13.5-4h0m12.5-80.5h0m1.5 75h0m22.5-11h0m28-58h0m16.5-45.5h0m3 20.5h0m2.5 5h0m23.5-13.5h0m38.5 24.5h0" stroke="#cba78f" stroke-width="6.0" stroke-linecap="round"/><path d="M65.5 1064h0m85.5-92h0m69.5 224h0m13 6.5h0m19.5-6.5h0m7 1.5h0m15.5-98h0m32.5-46h0" stroke="#d7957c" stroke-width="6.0" stroke-linecap="round"/><path d="M97.5 1175h0m2-4.5h0m5.5-60.5h0m1-27.5h0m41.5-106.5h0m12.5 100h0m2 22.5h0m6-28h0m62 43.5h0m6 89.5h0m10-22h0m5 6h0m9-3h0m60-64.5h0m15-51h0m29 15h0" stroke="#e2856b" stroke-width="6.0" stroke-linecap="round"/><path d="M81.5 1161.5h0m3.5-12.5h0m8 39.5h0m2-20.5h0m3.5-17.5h0m8.5 15h0m2.5-88h0m4 21.5h0m17.5-91h0m5.5 76h0m6-105h0m17.5 89h0m3.5 11h0m1-79h0m2.5-11.5h0m3.5 64.5h0m3-73h0m33.5 206.5h0m2.5 10h0m16 14h0m19.5-33h0m9-75h0m4.5 82.5h0m9.5-74.5h0m4.5-2h0m21.5 5.5h0m3.5-28.5h0m9-12h0m13 20h0m4-14h0m3.5 29h0m1-14.5h0m26.5 31.5h0" stroke="#e8785d" stroke-width="6.0" stroke-linecap="round"/><path d="M76 1058.5h0m2.5 111h0m4.5-10h0m5.5-11.5h0m2 37.5h0m2.5-15.5h0m5 18h0m.5-57.5h0m6-18h0m7-31h0m21.5-36.5h0m25 45.5h0m2-20.5h0m12-10h0m2.5 47.5h0m8.5-49h0m10.5 54.5h0m25.5-4.5h0m1.5 91h0m.5 14.5h0m1.5-19.5h0m31.5 5h0m38-111.5h0m0 21h0m18.5-4.5h0m6-45.5h0m5.5 37h0m.5 23h0m29-37h0" stroke="#ed6b4f" stroke-width="6.0" stroke-linecap="round"/><path d="M79 1177.5h0m6.5 7.5h0m9.5-60h0m2 8h0m6 21h0m3-38.5h0m34-119h0m.5-5h0m7 4h0m5 97h0m11.5-104h0m7.5-.5h0m2.5-4h0m0 115.5h0m13.5 5.5h0m2 3.5h0m1 3h0m7.5 18.5h0m8.5 64h0m5-86.5h0m1 42h0m7-38h0m17.5 88.5h0m17-10.5h0m8-78h0m15.5 0h0m6 .5h0m7.5-36h0m6.5 31h0m6 3.5h0m7-40.5h0m8.5 52h0m0-19.5h0m2 9.5h0m5.5-45h0m1.5 3.5h0m.5 32h0m7-29.5h0m22.5 9h0m5 34.5h0" stroke="#ee523e" stroke-width="6.0" stroke-linecap="round"/><path d="M71 1078h0m3.5-2h0m7.5 81h0m0-9h0m7 28h0m6.5-19h0m2-4.5h0m1 26h0m3.5-13.5h0m1.5 5.5h0m17-88.5h0m5 2.5h0m1.5-1.5h0m7-59h0m1 18.5h0m.5 2h0m1-41h0m0 77h0m.5-21h0m.5 15.5h0m.5-13.5h0m1.5-39h0m1-11h0m2-17.5h0m1.5 90.5h0m4-94h0m.5-11.5h0m1 9h0m2.5 8h0m1-14h0m0 10.5h0m1 85.5h0m.5-88.5h0m2 83h0m2 17h0m3-109h0m0 111h0m.5-112h0m1 10.5h0m2.5 66h0m3.5-57h0m4-26.5h0m0 81.5h0m.5-106.5h0m5 149h0m.5-112.5h0m7 123.5h0m8 92.5h0m5-71h0m3.5-2.5h0m.5 10.5h0m0 1.5h0m.5 66h0m2.5-50h0m3 3.5h0m0-16.5h0m2.5 7.5h0m0 3.5h0m3.5 36h0m0-19.5h0m1 38.5h0m11.5 .5h0m1-99h0m2.5 92.5h0m.5-33h0m.5 17h0m0 41.5h0m2.5-54.5h0m2 34.5h0m3-12h0m7-82h0m6 64.5h0m3.5 7h0m7.5-70.5h0m5-17.5h0m4-4.5h0m7 1.5h0m1 114.5h0m2.5-100.5h0m5.5-7.5h0m1-16h0m2.5-2.5h0m1.5 33.5h0m8-36h0m1 14h0m.5 11h0m1.5 7h0m3-3.5h0m1-45.5h0m3 57.5h0m0-57h0m1-11.5h0m1 67.5h0m3.5-45.5h0m0 5.5h0m5 51h0m5-44.5h0m5 22h0m6.5 8h0m3-20h0m11 28.5h0m9-23h0" stroke="#ee372d" stroke-width="6.0" stroke-linecap="round"/><path d="M196 1196.5h0m.5-3.5h0m1.5-3h0m6.5 35h0m0-30h0m2.5 9.5h0m4-.5h0m2.5-6.5h0m3 12h0m1-1.5h0m1 19h0m.5-18.5h0m3-3h0m6.5 29h0m2-45h0m0 9.5h0m2.5 .5h0m5.5-7.5h0m.5-4.5h0m0 23.5h0m2-20.5h0m3 1.5h0m.5 14.5h0m4-3h0m2 23h0m.5-40.5h0m2 19.5h0m.5-17.5h0m4 7.5h0m1-5.5h0m5 9h0m40.5-137h0m2 20.5h0m1 34h0m3.5-49h0m0 35.5h0m.5-25h0m0-37h0m.5 33.5h0m0 39.5h0m1-57.5h0m3 49.5h0m0-27.5h0m1.5 32h0m.5-67h0m0 28h0m.5 28.5h0m1 12.5h0m1-9h0m2-29h0m1.5 41h0m1-5h0m0-12.5h0m2.5-13.5h0m4.5-24.5h0m4 0h0m8.5 24h0m3.5-17h0m7 5.5h0m4.5 18h0m19 6.5h0" stroke="#b5b5b7" stroke-width="2.6" stroke-linecap="round"/><text x="52.1" y="918.5" font-size="17.5" font-weight="bold" fill="#111">AST/ALT Ratio</text><rect x="406.1" y="1015.0" width="37.4" height="192.1" fill="url(#cbgrad)"/><path d="M406.1 1159.1h7.5M436.0 1159.1h7.5" stroke="#fff" stroke-width="1.25" opacity="0.8"/><path d="M406.1 1111.0h7.5M436.0 1111.0h7.5" stroke="#fff" stroke-width="1.25" opacity="0.8"/><path d="M406.1 1063.0h7.5M436.0 1063.0h7.5" stroke="#fff" stroke-width="1.25" opacity="0.8"/><text x="453.6" y="1069.2" font-size="17" font-weight="bold" fill="#111">1.25</text><text x="453.6" y="1116.8" font-size="17" font-weight="bold" fill="#111">1.00</text><text x="453.6" y="1164.9" font-size="17" font-weight="bold" fill="#111">0.75</text><path d="M586.7 932.2V1263.8M649.6 932.2V1263.8M712.5 932.2V1263.8M775.4 932.2V1263.8M838.3 932.2V1263.8M901.2 932.2V1263.8M543.3 1259.5H909.4M543.3 1225.9H909.4M543.3 1192.3H909.4M543.3 1158.7H909.4M543.3 1125.1H909.4M543.3 1091.5H909.4M543.3 1057.9H909.4M543.3 1024.3H909.4M543.3 990.7H909.4M543.3 957.1H909.4" stroke="#ebebeb" stroke-width="1.0" fill="none"/><text x="649.6" y="1275.5" font-size="10" font-weight="bold" text-anchor="middle" fill="#111">0</text><text x="775.4" y="1275.5" font-size="10" font-weight="bold" text-anchor="middle" fill="#111">1</text><text x="901.2" y="1275.5" font-size="10" font-weight="bold" text-anchor="middle" fill="#111">2</text><text x="539.3" y="960.7" font-size="10" font-weight="bold" text-anchor="end" fill="#111">1.0</text><text x="539.3" y="1027.9" font-size="10" font-weight="bold" text-anchor="end" fill="#111">0.5</text><text x="539.3" y="1095.1" font-size="10" font-weight="bold" text-anchor="end" fill="#111">0.0</text><text x="539.3" y="1162.3" font-size="10" font-weight="bold" text-anchor="end" fill="#111">−0.5</text><text x="539.3" y="1229.5" font-size="10" font-weight="bold" text-anchor="end" fill="#111">−1.0</text><text x="725.0" y="1287.5" font-size="11.9" font-weight="bold" text-anchor="middle">Dimension 1</text><text transform="translate(513.0,1098.0) rotate(-90)" font-size="11.9" text-anchor="middle" font-weight="bold">Dimension 2</text><path d="M563 1071h0m5.5 3.5h0m.5 89.5h0m0-10.5h0m1.5-76h0m0 98h0m3.5-97.5h0m2 71h0m2.5 41h0m2-37.5h0m0-88h0m5.5 118h0m1.5-53h0m0 12.5h0m.5-11.5h0m.5 10.5h0m.5-18h0m1.5 29.5h0m2.5 18h0m.5-13h0m3.5-36h0m.5 8.5h0m3.5-55.5h0m2 47.5h0m.5-44.5h0m0 27.5h0m2.5-23.5h0m2 17.5h0m0 7h0m1.5-12.5h0m19-7.5h0m0-72h0m1.5 60h0m.5-38h0m3.5 41h0m1.5-37h0m.5-52h0m3.5 92h0m1.5-75h0m2 77h0m1.5-94h0m5-13.5h0m3.5 106.5h0m2.5-99h0m.5 7.5h0m1.5 96.5h0m0-18h0m.5-3h0m1-84.5h0m1.5 9.5h0m12 3.5h0m3.5 4.5h0m3 61.5h0m1.5-6.5h0m1 8.5h0m4 40h0m3.5 7h0m7 88.5h0m2.5-78h0m1 10.5h0m1.5 6.5h0m2-2.5h0m1-22h0m2 124.5h0m0-129h0m2 1h0m0 38.5h0m3 32.5h0m5.5 3h0m1.5-30h0m3-43h0m3 2.5h0m1 117.5h0m2-123.5h0m1.5 85.5h0m.5 15h0m2-94h0m0 91.5h0m1.5-89.5h0m1 104h0m0-110h0m.5 80.5h0m5 15.5h0m.5-32.5h0m2 20.5h0m6.5-81h0m.5 75.5h0m.5 4h0m.5-16h0m.5 25h0m.5-86h0m0-5.5h0m4.5 78.5h0m.5 1h0m.5-76h0m2-9h0m.5 91h0m3 2.5h0m3.5-81h0m3.5-9h0m3.5-7.5h0m1.5 4.5h0m1-4.5h0m4.5 6h0m10-2.5h0m1-11h0m3 5.5h0m3-5.5h0m3-9.5h0m4 27h0m1 7.5h0m2.5-12h0m.5 8h0m2-37.5h0m0 11.5h0m1 7h0m.5-24h0m1 42h0m7-11.5h0m1-8h0m3 11h0m.5-39h0m1 43h0m2 9.5h0m3.5-52.5h0m2 39h0m1 1.5h0m10 25.5h0m2.5-60.5h0m.5-6.5h0m4.5 24h0m1.5-29.5h0m2 28h0m9.5-2.5h0m7-.5h0" stroke="#69c6cd" stroke-width="6.0" stroke-linecap="round"/><path d="M571 1190h0m4-22h0m2-14h0m1 34h0m3-40h0m18 32h0m35-197.5h0m39 68.5h0m44.5 157h0m21.5-105.5h0m2.5 1.5h0m25.5 7.5h0m17.5-17.5h0m30-42h0m13.5 47h0m3.5 15h0" stroke="#7ccbc7" stroke-width="6.0" stroke-linecap="round"/><path d="M565 1064.5h0m31 55h0m228-31h0m40 35h0" stroke="#8fd0c2" stroke-width="6.0" stroke-linecap="round"/><path d="M568.5 1063h0m30.5 67.5h0m82-149.5h0m113.5 101.5h0m21 25h0" stroke="#a5c5b2" stroke-width="6.0" stroke-linecap="round"/><path d="M579.5 1187h0m9-51h0m0-60h0m3.5 111h0m14-108h0m6 4.5h0m34-107.5h0m25 20h0m51.5 171.5h0m3 16.5h0m18.5 36.5h0m51.5-120.5h0m22.5-34.5h0m55.5 74.5h0" stroke="#bbb7a1" stroke-width="6.0" stroke-linecap="round"/><path d="M576 1163.5h0m18-11.5h0m35.5-152.5h0m1.5 53h0m2-10.5h0m7-32h0m38-15h0m24 108.5h0m31 96h0m3 0h0m3 29h0m18-35.5h0m19.5-81h0m16-21h0m10.5 8h0m6.5-40h0m.5 39.5h0m.5 17.5h0m3.5-29.5h0m5 18.5h0m2-8.5h0m1-25.5h0m1.5 19h0m28.5 5h0" stroke="#cba78f" stroke-width="6.0" stroke-linecap="round"/><path d="M631.5 993.5h0m5 7.5h0m7.5-25h0m.5-1h0m67.5 232.5h0m24.5-28.5h0m51-63h0m21.5-54h0m24.5 15.5h0" stroke="#d7957c" stroke-width="6.0" stroke-linecap="round"/><path d="M573 1070.5h0m19 102h0m11.5-61h0m6-27h0m21.5-48h0m18 41h0m1 4.5h0m13-105.5h0m42 249h0m2-75h0m13 31h0m17 40.5h0m4.5-15h0m6-105h0m22.5-4.5h0m38.5-41h0m10.5 11h0m5.5 26.5h0m9.5 .5h0m10.5 16h0" stroke="#e2856b" stroke-width="6.0" stroke-linecap="round"/><path d="M575.5 1076.5h0m6 99.5h0m4-24.5h0m2.5-26.5h0m2 8h0m3.5-59.5h0m2.5 111h0m41-177.5h0m7.5-7.5h0m2.5-1.5h0m3.5 91h0m3.5-112h0m5.5 116.5h0m4-113.5h0m4 115.5h0m2 7.5h0m7-121.5h0m21 151.5h0m1.5 62.5h0m1.5-77h0m.5-10.5h0m8 62h0m1.5-29.5h0m1 44h0m16 48h0m5.5-43h0m1-7.5h0m.5-1.5h0m6-70h0m7 82h0m8.5-86h0m2.5 8.5h0m1 69h0m28.5-72.5h0m3.5-12.5h0m1.5 9h0m11.5-6h0m12-20.5h0m4.5-5h0m0 33.5h0m1.5-64.5h0m5.5 67h0m2.5-16h0m4 25.5h0m7-62h0m4 31.5h0m30.5 45.5h0" stroke="#e8785d" stroke-width="6.0" stroke-linecap="round"/><path d="M595 1134h0m.5 46h0m1.5-41.5h0m.5-24.5h0m25.5-34h0m5.5-83.5h0m4 51.5h0m3.5-52h0m9.5 87.5h0m16.5-10.5h0m10-93.5h0m2 9h0m23 132.5h0m5 22h0m3 52.5h0m5-33h0m11 36.5h0m1-93.5h0m.5 91h0m2-1.5h0m5.5-21h0m7 23.5h0m2 25h0m1.5-39.5h0m3.5-12.5h0m14-64.5h0m6 5.5h0m3 1.5h0m14.5-13.5h0m25.5-8h0m65 16h0" stroke="#ed6b4f" stroke-width="6.0" stroke-linecap="round"/><path d="M617 1091h0m9-9h0m4-33.5h0m19.5 44h0m40.5 19h0m8 78.5h0m16-12h0m2-14h0m5 45h0m31.5-19h0m.5-13.5h0m36-91.5h0m42-10.5h0m35-2h0" stroke="#ee523e" stroke-width="6.0" stroke-linecap="round"/><path d="M555 1068.5h0m37.5 93.5h0m1.5-82.5h0m4.5 48.5h0m4-12h0m31-97h0m1-34h0m10 10.5h0m11.5 100h0m3 2h0m0-120.5h0m1 102.5h0m3 4.5h0m6.5 20.5h0m8 0h0m1.5-119.5h0m2 123h0m2.5-8h0m8.5 19.5h0m4.5 73.5h0m5-5h0m.5 11.5h0m3 0h0m.5-65h0m2.5 52.5h0m3 10h0m3.5-12h0m3.5 9h0m2.5-24h0m0 46h0m1-48.5h0m1 17h0m.5 30h0m5.5-110.5h0m1.5 104.5h0m5 18.5h0m1-125.5h0m5.5 82.5h0m3.5-2h0m.5 18.5h0m3.5-5h0m9.5 4.5h0m2-15.5h0m4-79h0m11.5 0h0m6 2h0m7 0h0m8.5-28h0m3 21.5h0m.5-20h0m5-16.5h0m12.5 57.5h0m31.5 14h0m8.5-69h0" stroke="#ee372d" stroke-width="6.0" stroke-linecap="round"/><path d="M557.5 1072.5h0m5-5h0m5 9h0m3.5-2h0m2 100.5h0m1.5-11h0m1 19.5h0m1-19h0m.5 6.5h0m1 14.5h0m.5-13.5h0m1.5-9.5h0m0-87h0m2.5 67h0m1 29.5h0m0-100h0m3.5 64.5h0m.5 8h0m.5 12.5h0m3 31.5h0m1.5-12h0m1.5-52h0m0 42.5h0m1-2h0m1.5 17.5h0m0-65.5h0m2.5-7h0m1.5-5h0m10-22.5h0m1 21h0m19-51.5h0m.5 14h0m0 1.5h0m1.5-28h0m3-28.5h0m10-25.5h0m1-3.5h0m2 98.5h0m0-90h0m1.5 101h0m6.5-105.5h0m1.5 88h0m1 13.5h0m.5-99.5h0m0 83.5h0m3.5-14.5h0m2.5-75.5h0m5 78.5h0m1-87.5h0m.5 121.5h0m1.5-117h0m4.5 11h0m.5 111h0m1 13h0m1-3.5h0m1.5-50h0m1.5 45.5h0m1.5 8.5h0m18 10.5h0m4 5.5h0m2 54h0m2-77.5h0m3 5.5h0m1.5 49h0m.5-49.5h0m1 130.5h0m4.5-39.5h0m10-4h0m2.5-2.5h0m1 15.5h0m3-2h0m2-8h0m.5-21h0m6-73h0m6 90h0m4.5-11.5h0m7.5 13.5h0m1-13h0m1.5 15h0m2.5-92h0m11-17h0m0 20.5h0m2.5-14.5h0m6.5 8.5h0m1.5 7h0m.5-36h0m8.5 0h0m6.5 11.5h0m.5 14.5h0m.5-45.5h0m0 12.5h0m0 30h0m2-20h0m1.5-3.5h0m.5 43.5h0m0-55.5h0m1 37h0m2-35.5h0m2-3.5h0m1-4h0m2.5 36.5h0m0 20h0m1-25.5h0m0-38h0m2 4h0m6 21.5h0m6 36.5h0m.5-7.5h0m.5-9h0m2-6.5h0m7.5-30h0m7 43h0m18-12.5h0" stroke="#69c6cd" stroke-width="6.0" stroke-linecap="round"/><path d="M573.5 1067.5h0m12 74h0m11.5 29h0m4-63.5h0m18-28.5h0m18.5-62h0m30.5 83h0m3.5-45.5h0m7 4h0m21.5 52.5h0m.5 21h0m7 48.5h0m0-45.5h0m11.5 23h0m0 5h0m18 23h0m41-93.5h0m7.5 1.5h0m28.5-38h0m17 27.5h0m21-8h0" stroke="#7ccbc7" stroke-width="6.0" stroke-linecap="round"/><path d="M579.5 1196.5h0m1.5-135.5h0m13 112.5h0m5.5-54.5h0m11-31.5h0m22.5-84.5h0m37.5 60h0m7-79h0m107.5 123.5h0" stroke="#8fd0c2" stroke-width="6.0" stroke-linecap="round"/><path d="M574 1062.5h0m10 76.5h0m12 19.5h0m77-176.5h0m102.5 134.5h0" stroke="#a5c5b2" stroke-width="6.0" stroke-linecap="round"/><path d="M574 1148h0m34-71.5h0m24-88h0m2 73.5h0m34-82h0m67 188.5h0m55.5-87h0m11.5-10h0m21 14h0m1.5 28.5h0" stroke="#bbb7a1" stroke-width="6.0" stroke-linecap="round"/><path d="M570.5 1077h0m19.5 71h0m.5-69h0m1 78h0m7.5-33h0m.5-41.5h0m15 6h0m15-64.5h0m3 55.5h0m1.5-14h0m16.5-80.5h0m11.5-21h0m3-4h0m69.5 154h0m7.5-5h0m45-14h0m2.5-13.5h0m11.5 32.5h0m14-42.5h0m4.5-30.5h0m6 32h0m0 38h0m3.5-7.5h0m2 26h0m18-37h0m8-26.5h0" stroke="#cba78f" stroke-width="6.0" stroke-linecap="round"/><path d="M614 1099.5h0m17.5-99.5h0m35.5-6.5h0m6.5-36.5h0m40 225h0m55 17h0m36.5-91.5h0m0-21.5h0m3.5 9.5h0m25 15h0m1.5 20h0m5.5-44.5h0" stroke="#d7957c" stroke-width="6.0" stroke-linecap="round"/><path d="M559 1067.5h0m1.5-5h0m15 11h0m8.5 86.5h0m0-15.5h0m.5 24h0m44-150h0m4.5 44h0m12.5 23.5h0m9-8.5h0m5.5-98h0m2 22h0m7 51.5h0m2.5-106h0m39.5 215.5h0m1.5-50h0m1.5 37.5h0m13.5 21h0m52-74.5h0m5-7h0m34.5 14h0m8.5-36.5h0m10 20h0m17-3h0m9.5 42h0m6.5-2h0" stroke="#e2856b" stroke-width="6.0" stroke-linecap="round"/><path d="M573 1176h0m.5-14.5h0m0-4.5h0m7-18h0m4.5 14.5h0m13 23h0m18.5-89h0m10.5-84h0m2 41.5h0m1.5-36h0m0 41.5h0m1.5-47h0m7.5-2h0m.5-19.5h0m10 0h0m4 90.5h0m1.5 18h0m.5-.5h0m6.5-118h0m7.5 16h0m2.5 111.5h0m17 12h0m17.5-8h0m4 46.5h0m0 49h0m6.5-14.5h0m4.5 15.5h0m22.5 5.5h0m5.5-102.5h0m7.5 12.5h0m16-19h0m20.5 13.5h0m1.5-22.5h0m1 9.5h0m1.5-23h0m1 35h0m11.5-2.5h0m1-44h0m7 48.5h0m3 10h0m2-13h0m5-36h0m8.5 30.5h0m17.5 20h0" stroke="#e8785d" stroke-width="6.0" stroke-linecap="round"/><path d="M566 1076h0m17 109.5h0m2.5-53.5h0m1 62h0m5.5-62.5h0m19.5-53h0m1.5 19h0m20-85.5h0m2.5-19.5h0m6.5 84.5h0m.5-96.5h0m8.5 97.5h0m2 15h0m12-104.5h0m1 79h0m16 35.5h0m3.5 4.5h0m9.5 5h0m1.5 9.5h0m13.5 45.5h0m10 24.5h0m5.5-18h0m3 7h0m6-11.5h0m13 45.5h0m1-8.5h0m1.5-100h0m3-1h0m25 3h0m9-3.5h0m18.5-36.5h0m3.5 10.5h0m2 29h0m2.5 5.5h0m15.5 6.5h0m3-37.5h0m3 44.5h0m4.5-58h0m2.5 38h0" stroke="#ed6b4f" stroke-width="6.0" stroke-linecap="round"/><path d="M585 1068.5h0m3 99.5h0m8-23.5h0m32-104h0m34.5 51.5h0m11-92h0m20.5 116h0m14.5 58.5h0m4 14h0m0-45h0m19 34h0m8 17.5h0m9-17.5h0m55-85.5h0m22-33h0m7 57h0m41-15.5h0" stroke="#ee523e" stroke-width="6.0" stroke-linecap="round"/><path d="M573.5 1179h0m6.5-109.5h0m12 46.5h0m20-16h0m11.5-16.5h0m7.5-41h0m20-67h0m4.5 105h0m3.5-119h0m.5 137.5h0m4.5-1.5h0m1-112h0m7.5 125.5h0m2.5-51.5h0m12.5 56.5h0m9.5 17.5h0m6.5 61h0m0-52.5h0m3 2.5h0m9.5 8.5h0m5.5 19.5h0m0 7h0m1.5 15h0m3.5-16h0m3.5 32.5h0m1-42h0m4 35.5h0m10-26h0m.5 6.5h0m.5-11h0m2 30h0m5-2.5h0m.5-16.5h0m1 15h0m4.5-12h0m2.5-82h0m3.5 78.5h0m8-71h0m23.5 0h0m11.5 .5h0m7.5-37.5h0m2-8h0m2.5 45.5h0m8-39h0" stroke="#ee372d" stroke-width="6.0" stroke-linecap="round"/><path d="M560.5 1072h0m1.5-8.5h0m1 9.5h0m0-14.5h0m3 5.5h0m2 5h0m3.5-.5h0m1.5 103.5h0m0-19h0m.5-88h0m2.5 128.5h0m1-44.5h0m1 33.5h0m.5-40.5h0m1.5-68h0m1.5 84h0m1-22h0m.5-3.5h0m7.5 13h0m1-14.5h0m.5-9.5h0m1 26.5h0m.5 4.5h0m.5-10.5h0m2-69.5h0m.5 64.5h0m1.5-3.5h0m1.5 35h0m0-93h0m1 90.5h0m4-92h0m5 20h0m.5 1.5h0m4-2.5h0m1-11h0m7.5 1.5h0m4.5 1.5h0m2.5-55h0m2-22h0m.5 26.5h0m.5 49.5h0m1-9h0m2-52.5h0m.5-37.5h0m0 97.5h0m14.5-95h0m1-16h0m1.5 112.5h0m1 12h0m5.5-4h0m1.5-15.5h0m.5 26.5h0m1.5-112h0m1.5 66.5h0m0 42.5h0m.5-27h0m1.5-8h0m3.5-66.5h0m8-19.5h0m22 134.5h0m1-7.5h0m2 85h0m1.5-42.5h0m1-18h0m5 25h0m10.5-44h0m2.5-4h0m0 103h0m.5-5h0m1-37.5h0m5 13h0m.5-72h0m1 84.5h0m6.5-87h0m4.5 105h0m1-109.5h0m1 9.5h0m1.5 97.5h0m3.5-27h0m3-71h0m27 6h0m1 83.5h0m3.5-112.5h0m1.5 14h0m8.5 3h0m7-8h0m.5-24h0m11 38h0m.5-27h0m1.5-23.5h0m5.5 2h0m3-9h0m.5 12h0m.5 2.5h0m5 55h0m2-27h0m2-11.5h0m2 6h0m16.5-8h0m17.5-9.5h0m22 24h0" stroke="#69c6cd" stroke-width="6.0" stroke-linecap="round"/><path d="M559.5 1065.5h0m6.5 2.5h0m4.5 113h0m20-6h0m1-7h0m5.5-29h0m21.5-57h0m10.5-23.5h0m3.5-30h0m7-41.5h0m6-8.5h0m22 11.5h0m6.5 114.5h0m43.5 1.5h0m9.5 87.5h0m21.5-81h0m14.5 73h0m.5-88h0m25.5-16h0m1 30.5h0m6-18.5h0m7.5 22h0m17.5-11.5h0m12-24.5h0" stroke="#7ccbc7" stroke-width="6.0" stroke-linecap="round"/><path d="M593 1182.5h0m42.5-149h0m67.5 77.5h0m109-42.5h0" stroke="#8fd0c2" stroke-width="6.0" stroke-linecap="round"/><path d="M616 1086h0m152 28h0m42.5 6h0" stroke="#a5c5b2" stroke-width="6.0" stroke-linecap="round"/><path d="M588 1162.5h0m1.5 1.5h0m2 14.5h0m5-50h0m72.5-68.5h0m3-82.5h0m40 215h0m21-81.5h0m24-12h0m52.5-8.5h0m3-17.5h0m14-29.5h0m.5-4.5h0m22 76h0" stroke="#bbb7a1" stroke-width="6.0" stroke-linecap="round"/><path d="M596 1161h0m8.5-41.5h0m26-97.5h0m5 24h0m2-46.5h0m25 .5h0m10-16h0m34.5 217.5h0m16-23h0m35 9.5h0m34-103.5h0m14-13h0m9 45h0m4.5-42h0m14.5 14h0m4 14h0" stroke="#cba78f" stroke-width="6.0" stroke-linecap="round"/><path d="M585.5 1148.5h0m20-47h0m21-93.5h0m22-12h0m18.5 3h0m32.5 201.5h0m28.5-93h0m1 119h0m1-25.5h0m4.5-15h0m28.5-78.5h0m32.5-.5h0m35.5-26.5h0m4 1.5h0m2.5 12h0" stroke="#d7957c" stroke-width="6.0" stroke-linecap="round"/><path d="M567.5 1058.5h0m8 138h0m1.5-21h0m3-8h0m5-6h0m3.5-2h0m9.5-81h0m36-88.5h0m33.5-13.5h0m1 119h0m37 95h0m1-13.5h0m6-.5h0m.5-69h0m1-4h0m2.5 101h0m12-28h0m3.5-73.5h0m11.5 83.5h0m64.5-71h0m14.5-21.5h0m25.5-12.5h0" stroke="#e2856b" stroke-width="6.0" stroke-linecap="round"/><path d="M570 1159h0m1 18.5h0m12.5-22h0m2 20h0m3.5 16h0m1-120h0m11 31h0m10 1.5h0m22.5-37.5h0m1.5-62.5h0m7-20h0m.5-3h0m8-2.5h0m0 106h0m5-94.5h0m5 76h0m1-77.5h0m2-4.5h0m4 109.5h0m5-110.5h0m.5 124.5h0m1.5-10.5h0m19 12h0m6.5 7h0m3 68h0m3.5-46h0m1.5-25.5h0m16 74.5h0m5 14h0m17-92h0m27-1h0m.5 2.5h0m21.5-9h0m5-30.5h0m14.5 3h0m18.5 53h0m7-26.5h0" stroke="#e8785d" stroke-width="6.0" stroke-linecap="round"/><path d="M569.5 1181.5h0m8-113h0m4 126.5h0m3-3.5h0m6-20h0m13.5-58.5h0m3-10.5h0m26-43h0m8-63h0m2 82.5h0m.5-86h0m20 68.5h0m1-64h0m1.5 6.5h0m1.5-1.5h0m17 106.5h0m20 96h0m5-66.5h0m2.5 90.5h0m4.5-67h0m3.5 43h0m7-94.5h0m26.5 67h0m17.5-72.5h0m11.5-.5h0m10.5 112h0m8-108h0m8.5-27h0m11.5 3.5h0m22.5 18h0m11.5-16.5h0" stroke="#ed6b4f" stroke-width="6.0" stroke-linecap="round"/><path d="M562.5 1078h0m14 80h0m8-83.5h0m2.5 109.5h0m41-181h0m8.5 69.5h0m57 41h0m15 86.5h0m8-31h0m.5 7h0m16.5-71h0m14.5 94.5h0m5.5-6.5h0m25-3.5h0m22-74.5h0m27-42.5h0m0 11.5h0" stroke="#ee523e" stroke-width="6.0" stroke-linecap="round"/><path d="M571 1188h0m0-3.5h0m4-24.5h0m0-95.5h0m4.5 6.5h0m18.5 41.5h0m2-33h0m2.5 89.5h0m25-89.5h0m6.5-53h0m10.5-36.5h0m2 94.5h0m3.5-92h0m9-39.5h0m18.5 143.5h0m1 6.5h0m10 15h0m10 12h0m1-5h0m3.5 1.5h0m4 28.5h0m.5 39.5h0m.5 10.5h0m7-30.5h0m2-17.5h0m3.5 70h0m8-41h0m2.5 48.5h0m3.5-66h0m7.5 28h0m.5-19h0m1.5 16.5h0m6-5.5h0m28 10h0m7-86h0m3.5 88.5h0m3-108.5h0m1.5 22.5h0m9.5-24h0m.5 14h0m3-8.5h0m10.5 22.5h0m11.5-22.5h0m1.5 34.5h0m1.5-100h0m4 77.5h0m1-41.5h0" stroke="#ee372d" stroke-width="6.0" stroke-linecap="round"/><path d="M557.5 1071.5h0m3 6h0m9 78h0m5.5 32h0m.5-117.5h0m1.5 87h0m.5 36.5h0m.5-120.5h0m0 83h0m1-94.5h0m1 87h0m.5-1.5h0m.5 25h0m.5-92.5h0m.5-2h0m.5 106.5h0m1 5h0m1.5-123h0m0 112.5h0m0-27h0m.5 37h0m2.5-16.5h0m.5 11.5h0m.5-4.5h0m1.5-49.5h0m1 60.5h0m0-39.5h0m.5 9.5h0m.5-42.5h0m2 5.5h0m0 14h0m1.5-61h0m3 98h0m.5 3h0m0-52h0m28-102.5h0m1.5 12.5h0m1 36.5h0m1.5-57h0m1 66h0m.5-25h0m1.5-29h0m1 57.5h0m1-72.5h0m11.5-19h0m1.5 95.5h0m3.5-108.5h0m3-1h0m1.5 91.5h0m1-97.5h0m.5 90.5h0m.5-90h0m2.5 86.5h0m.5 28.5h0m1-32h0m0-83.5h0m1 89h0m1.5-5.5h0m.5 14.5h0m2-15h0m1 52h0m0-40h0m2-77h0m3 111.5h0m1-111h0m3 60.5h0m1.5 3.5h0m0 9h0m1.5-77h0m5.5 118h0m7.5-.5h0m2 3.5h0m.5-6h0m.5 23.5h0m1-12.5h0m3.5 83h0m1-51h0m6.5 20h0m3-5.5h0m0-10.5h0m1 58h0m1-62.5h0m2 44.5h0m.5 1.5h0m0 11.5h0m1-88.5h0m1 51h0m1 23h0m5.5 15.5h0m1-12h0m0 16h0m1.5-40.5h0m3 4h0m2.5 31.5h0m2 35.5h0m.5-34.5h0m3.5-26.5h0m1.5 35h0m2-99.5h0m12.5-10h0m5 82.5h0m5.5-84.5h0m12 .5h0m3.5-3.5h0m1 19.5h0m1-5h0m8.5-32h0m6 23.5h0m.5-3h0m1.5-5.5h0m1-26h0m3 13.5h0m1 37h0m5-32h0m6 17h0m.5 8.5h0m3-34.5h0m2.5 1h0m0-45.5h0m5 48h0m.5 25.5h0m1.5 10h0m.5-14h0m2 16.5h0m1-29h0m1.5 29h0m1.5-49.5h0m0 10.5h0m10-7.5h0m.5 7.5h0m26.5 5h0" stroke="#69c6cd" stroke-width="6.0" stroke-linecap="round"/><path d="M556.5 1064h0m15 105h0m1.5-18.5h0m.5 43h0m7-23h0m0 8.5h0m2-13h0m8.5-27h0m1 46.5h0m7-21.5h0m6.5-56h0m.5 8.5h0m30.5-40h0m20 5.5h0m15.5-17.5h0m20.5 40h0m31.5 65.5h0m33.5-62.5h0m0 74.5h0m12-79h0m29 2.5h0m6-42.5h0m21.5 16h0m4.5-12h0m5 41h0m6.5-31h0" stroke="#7ccbc7" stroke-width="6.0" stroke-linecap="round"/><path d="M587.5 1074h0m14 104h0m198.5-94h0m12.5 5h0" stroke="#8fd0c2" stroke-width="6.0" stroke-linecap="round"/><path d="M556 1073.5h0m30.5-1.5h0m52.5-93h0m162 109.5h0m46-14h0" stroke="#a5c5b2" stroke-width="6.0" stroke-linecap="round"/><path d="M589 1192.5h0m44-196h0m0 35.5h0m20.5-64.5h0m7 99h0m7-95.5h0m50.5 204h0m4 17.5h0m3 53.5h0m18-50.5h0m28 6.5h0m24.5-85h0m8.5-36.5h0m11.5 6h0m13.5 4.5h0" stroke="#bbb7a1" stroke-width="6.0" stroke-linecap="round"/><path d="M570 1170h0m61.5-159.5h0m8-32.5h0m18 98.5h0m1.5-92h0m11.5 65.5h0m2.5 5.5h0m40.5 112.5h0m1.5 35.5h0m4 5h0m24.5-27h0m36.5-67.5h0m16.5-30h0m1-8h0m5.5 .5h0m19.5-17h0m6 34.5h0m10.5-5h0m39.5 15h0" stroke="#cba78f" stroke-width="6.0" stroke-linecap="round"/><path d="M570 1172h0m16-1.5h0m68-197.5h0m5-1.5h0m14.5 91.5h0m3-9.5h0m12 50h0m58.5 72h0m5.5-.5h0m8.5 15h0m1-91h0m24.5-3h0m14.5-3.5h0m3.5-28h0m2 18.5h0m1.5 36h0m2-47h0m10 47.5h0m2-1h0m8-31h0m7-11h0" stroke="#d7957c" stroke-width="6.0" stroke-linecap="round"/><path d="M599.5 1115.5h0m39.5-121.5h0m72 178h0m.5-62h0m1 42.5h0m4 47.5h0m2.5-89.5h0m6 71h0m3 29h0m9.5-105h0m9 129h0m0-34.5h0m40.5 8.5h0m4.5-122h0" stroke="#e2856b" stroke-width="6.0" stroke-linecap="round"/><path d="M568 1064.5h0m1 97.5h0m27.5-8h0m7.5-71h0m31.5-25.5h0m10.5-70h0m5.5 2h0m1.5-5h0m11 9h0m2 97.5h0m.5-120.5h0m11.5 140h0m16 90h0m1.5-73h0m8 10h0m15 41.5h0m.5-6h0m10.5 6h0m8-6.5h0m17 10h0m11-80.5h0m14 11h0m7.5-12.5h0m30.5-14.5h0m6 31h0m.5-38.5h0m1 19h0m2-31.5h0" stroke="#e8785d" stroke-width="6.0" stroke-linecap="round"/><path d="M559.5 1060h0m25.5 106h0m14-59h0m9 3.5h0m.5-31h0m12 5.5h0m11-40.5h0m8-45.5h0m8.5-27h0m12 110.5h0m1.5-3.5h0m1.5-77h0m0 63h0m1.5 41h0m.5-13.5h0m3-96h0m.5 106h0m7-2h0m1.5-37.5h0m5 49.5h0m60 60.5h0m19.5-62h0m24-25h0m36.5-5h0m7-10.5h0m4.5-23.5h0" stroke="#ed6b4f" stroke-width="6.0" stroke-linecap="round"/><path d="M605.5 1105h0m24-88.5h0m1.5 67h0m6-92h0m3.5 93h0m57.5 21h0m6 77.5h0m5.5-29.5h0m.5 5h0m3.5-1.5h0m29 45h0m6.5-28h0m2.5 45.5h0m7-31.5h0m8-81h0m20.5-21h0m11.5 2h0m15.5 6h0" stroke="#ee523e" stroke-width="6.0" stroke-linecap="round"/><path d="M585.5 1077.5h0m5.5-2h0m22.5 14.5h0m2.5-11.5h0m17-10h0m7.5-76.5h0m16 106h0m10.5-113h0m0-28h0m1.5 37h0m6.5 117.5h0m4-5.5h0m9.5 8h0m7.5 84.5h0m4-5h0m3.5-55h0m.5 62h0m6-58.5h0m2 62.5h0m.5-33.5h0m7-2h0m13 3h0m3 4.5h0m1 72h0m1.5-138.5h0m10 75h0m8-73.5h0m.5 66.5h0m.5 18.5h0m1-6.5h0m.5 15h0m4-91.5h0m2.5-11.5h0m18-1.5h0m11.5 13.5h0m12.5-37.5h0m9 22.5h0m9-41.5h0m6.5 51h0m1 14h0m0-86h0m4 72.5h0" stroke="#ee372d" stroke-width="6.0" stroke-linecap="round"/><path d="M704 1189h0m3-2.5h0m3.5 17h0m.5-12.5h0m2 .5h0m2 6.5h0m3.5 12h0m0-1h0m0-12h0m2 13h0m8.5-24h0m3.5 21.5h0m1-20h0m0 8.5h0m3 18.5h0m1-23.5h0m1 36.5h0m1-20.5h0m2.5-19.5h0m2 3.5h0m4.5 11.5h0m.5 7h0m2.5-15.5h0m.5 10h0m2.5 3.5h0m0-4h0m0 23h0m2.5-25h0m0 4.5h0m5-10h0m.5-7h0m.5 1h0m2.5-.5h0m45.5-85.5h0m1-7h0m1-42h0m.5 40.5h0m.5-12.5h0m1 9h0m1-38.5h0m2 48.5h0m0-21h0m.5-11h0m1 29.5h0m.5 9h0m1-52h0m5.5 15h0m0 28.5h0m.5-39h0m1 61.5h0m0-20h0m2 9.5h0m4-13.5h0m2.5-13.5h0m0 0h0m1.5-14.5h0m5 33h0m0 14h0m2-8h0m4-24.5h0m3-4h0m3 5h0m0 36h0m10.5-41.5h0m.5 45h0m9-8.5h0m1-33h0m2.5 1h0" stroke="#b5b5b7" stroke-width="2.6" stroke-linecap="round"/><text x="542.3" y="918.3" font-size="17.5" font-weight="bold" fill="#111">FIB−4</text><text x="920.4" y="1004.3" font-size="17.4" font-weight="bold" fill="#111">FIB−4</text><rect x="920.4" y="1015.4" width="38.3" height="192.0" fill="url(#cbgrad)"/><path d="M920.4 1174.8h7.7M951.0 1174.8h7.7" stroke="#fff" stroke-width="1.28" opacity="0.8"/><path d="M920.4 1111.4h7.7M951.0 1111.4h7.7" stroke="#fff" stroke-width="1.28" opacity="0.8"/><path d="M920.4 1048.0h7.7M951.0 1048.0h7.7" stroke="#fff" stroke-width="1.28" opacity="0.8"/><text x="967.7" y="1053.3" font-size="17" font-weight="bold" fill="#111">3</text><text x="967.7" y="1117.4" font-size="17" font-weight="bold" fill="#111">2</text><text x="967.7" y="1181.8" font-size="17" font-weight="bold" fill="#111">1</text><path d="M1088.2 912.5V1264.3M1145.4 912.5V1264.3M1202.7 912.5V1264.3M1259.9 912.5V1264.3M1317.2 912.5V1264.3M1374.4 912.5V1264.3M1048.6 1259.8H1381.8M1048.6 1224.1H1381.8M1048.6 1188.5H1381.8M1048.6 1152.8H1381.8M1048.6 1117.2H1381.8M1048.6 1081.5H1381.8M1048.6 1045.8H1381.8M1048.6 1010.2H1381.8M1048.6 974.5H1381.8M1048.6 938.9H1381.8" stroke="#ebebeb" stroke-width="1.0" fill="none"/><text x="1145.4" y="1276.0" font-size="10" font-weight="bold" text-anchor="middle" fill="#111">0</text><text x="1259.9" y="1276.0" font-size="10" font-weight="bold" text-anchor="middle" fill="#111">1</text><text x="1374.4" y="1276.0" font-size="10" font-weight="bold" text-anchor="middle" fill="#111">2</text><text x="1044.6" y="942.5" font-size="10" font-weight="bold" text-anchor="end" fill="#111">1.0</text><text x="1044.6" y="1013.8" font-size="10" font-weight="bold" text-anchor="end" fill="#111">0.5</text><text x="1044.6" y="1085.1" font-size="10" font-weight="bold" text-anchor="end" fill="#111">0.0</text><text x="1044.6" y="1156.4" font-size="10" font-weight="bold" text-anchor="end" fill="#111">−0.5</text><text x="1044.6" y="1227.7" font-size="10" font-weight="bold" text-anchor="end" fill="#111">−1.0</text><text x="1214.0" y="1288.0" font-size="11.9" font-weight="bold" text-anchor="middle">Dimension 1</text><text transform="translate(1017.8,1088.4) rotate(-90)" font-size="11.9" text-anchor="middle" font-weight="bold">Dimension 2</text><path d="M1063 1056.5h0m.5-8.5h0m.5 2.5h0m0 16h0m.5-6h0m2 1.5h0m0-2h0m3-3.5h0m0 8.5h0m1-18.5h0m1 6.5h0m0 10.5h0m1.5 89.5h0m.5-87h0m.5-2.5h0m2-7.5h0m1-5.5h0m1 12h0m0 3h0m2.5-3.5h0m0 73h0m.5-85.5h0m1.5 90.5h0m0-87.5h0m3 97h0m0-89h0m1-6h0m0 92.5h0m1.5-86h0m.5 60.5h0m1 7h0m0-63.5h0m2-4.5h0m0 86h0m5-81.5h0m.5 43.5h0m1 14h0m.5-18.5h0m.5 16.5h0m1-56h0m.5 4h0m.5-5h0m2 3h0m1 5.5h0m1 24h0m0 3h0m.5 9h0m.5-40h0m2 1h0m1 14.5h0m.5 2h0m1.5-12.5h0m2 10h0m.5-4.5h0m4-7h0m7-78.5h0m0-4.5h0m1 39h0m.5-40h0m.5 16.5h0m0 17.5h0m.5 25h0m0-44.5h0m0-18h0m.5 26h0m0 25.5h0m.5 27h0m0-23h0m0-31.5h0m0 30h0m.5-15h0m.5-23h0m.5 21h0m0-32.5h0m0-16.5h0m.5 54.5h0m0 8.5h0m0 8.5h0m.5-56h0m0 63.5h0m0-46.5h0m.5 49.5h0m.5-4h0m0-81.5h0m0 44.5h0m.5-24h0m.5 84.5h0m0-53.5h0m0-24h0m0-19.5h0m0 69h0m1-60h0m0 11h0m0-21h0m1 8h0m1-21h0m.5 20.5h0m2.5-15.5h0m2-8.5h0m0 21h0m0 4h0m.5-26h0m3 18h0m1-18.5h0m.5 8h0m.5 11h0m0-15h0m0 7h0m1.5-14.5h0m0 19.5h0m1.5-23.5h0m.5 10h0m1 5h0m1 8h0m.5-3.5h0m1.5-14h0m0-1.5h0m.5 17.5h0m.5-15.5h0m.5 6.5h0m2 23.5h0m0-1.5h0m.5-10h0m.5-7h0m0-12h0m2.5-2.5h0m.5 30.5h0m.5-24h0m0-6h0m1 24.5h0m1.5 5h0m1-28h0m.5 8h0m.5 3.5h0m0 1h0m1 17h0m.5-12h0m4 7h0m.5-11h0" stroke="#64c5cf" stroke-width="5.3" stroke-linecap="round"/><path d="M1072.5 1149.5h0m3 17.5h0m1-16h0m1 3h0m1.5-2h0m0-4.5h0m.5-5h0m2.5 20h0m.5-16.5h0m.5-4.5h0m1-6h0m.5 25h0m1.5-23h0m1-3h0m.5 10.5h0m1.5-9.5h0m0-13h0m0 40h0m.5-11.5h0m.5-36h0m1.5 26.5h0m0-2.5h0m.5-17.5h0m0 10.5h0m.5 12h0m.5-36.5h0m0 16.5h0m1.5 27.5h0m0-82.5h0m1.5 90.5h0m.5-4.5h0m0-44h0m.5 37h0m0-18.5h0m.5 2.5h0m1.5-34.5h0m0 18.5h0m.5 6.5h0m0-12h0m.5-3.5h0m0 10h0m7.5-15.5h0m3.5-7.5h0m0-3.5h0m3.5-15h0m.5-8h0m.5 10h0m8.5-6h0m1-63.5h0m2 8.5h0m1.5 38h0m0-25h0m0 26.5h0m1.5 17.5h0m0-25.5h0m.5-19h0m.5 26h0m.5 11h0m1-57.5h0m1.5-17h0m1.5-13.5h0m1-7.5h0m2.5-6.5h0m9.5-1h0m2.5 10.5h0m3-30h0m1.5 30.5h0m1-2h0m14.5-4.5h0" stroke="#6dc8cc" stroke-width="5.3" stroke-linecap="round"/><path d="M1073 1167h0m1-3h0m5.5-13h0m.5 33h0m.5-34h0m1 32.5h0m.5-25.5h0m1 10h0m2.5-13h0m1 7h0m.5-19h0m1 48.5h0m2.5-3h0m.5-29h0m1.5 27.5h0m.5-32h0m0 27h0m.5-39.5h0m3 34h0m1.5-70h0m.5 66.5h0m0-46h0m1 49h0m1.5-81.5h0m18-19h0m2.5-1.5h0m3.5 1.5h0m2.5-14.5h0m1 13h0m5-7.5h0m3.5 9h0m2.5-3h0m5.5-5h0m1 5h0m17.5-15.5h0" stroke="#77cac9" stroke-width="5.3" stroke-linecap="round"/><path d="M1074 1173h0m0 7h0m1.5-9.5h0m.5 1h0m2 21.5h0m1-27h0m1.5 12h0m1 15h0m3-13.5h0m2-5.5h0m1 4h0m4-7.5h0m1 3.5h0m1-2.5h0m3 8.5h0m40-110.5h0m2-3.5h0m6 4h0m1.5 4h0m2.5-.5h0m2-4h0m1 10h0m0-8h0m1-6h0m0-8.5h0m2.5 15h0m.5-17h0m.5 10.5h0m1.5-12h0m.5-9.5h0m1.5 18h0m1-3h0m0-5.5h0m2.5-12.5h0m1.5 7h0m2.5 3h0m4.5-12h0m.5 8.5h0m1-4.5h0" stroke="#81cdc6" stroke-width="5.3" stroke-linecap="round"/><path d="M1072.5 1177h0m7 13h0m14.5-12h0m48.5-104h0m8 6.5h0m1 8h0m1-13h0m1 12.5h0m.5-37h0m.5 33h0m1.5 9.5h0m.5-32h0m.5 16h0m.5-33h0m1 43.5h0m.5 8.5h0m1.5-40h0m1.5 33.5h0m.5-4h0m.5-42.5h0m.5 50.5h0m2-41h0m1 49h0m1.5-9h0m.5-45.5h0m3-1.5h0" stroke="#8acfc3" stroke-width="5.3" stroke-linecap="round"/><path d="M1160.5 1081h0m1 2.5h0m4.5 .5h0m0 6h0m.5 8.5h0m1-3.5h0m.5-7.5h0m1 3.5h0m1.5 4h0m0-8.5h0m1 7h0m0-4h0m.5 7h0m2.5-47h0m1.5 45h0m1.5 6h0m0 3.5h0m4-1.5h0" stroke="#94cfbf" stroke-width="5.3" stroke-linecap="round"/><path d="M1168.5 1102.5h0m3-1h0m6.5-3h0m1.5-3h0m1.5 4h0m4.5 .5h0m4.5 4.5h0m5-1.5h0m6-7.5h0" stroke="#a0c9b7" stroke-width="5.3" stroke-linecap="round"/><path d="M1181 1094.5h0m1.5 8.5h0m2-8h0m1 9.5h0m.5-9h0m3.5 .5h0m2 11.5h0m0-2.5h0m.5-6h0m1-4.5h0m4.5-.5h0m11 8h0m14.5 3.5h0" stroke="#abc2ae" stroke-width="5.3" stroke-linecap="round"/><path d="M1181 1105h0m8 12.5h0m1 5h0m0-11.5h0m2-1h0m1 26.5h0m1-18h0m0 7.5h0m0-11h0m2.5 7.5h0m1-2h0m1 7h0m1.5 4h0m1 2h0m7-28.5h0m3-8.5h0m2 6.5h0m2.5-1.5h0m3.5-1.5h0m1-6.5h0m2 5.5h0m11.5-2.5h0" stroke="#b6bba5" stroke-width="5.3" stroke-linecap="round"/><path d="M1194.5 1130h0m0 1.5h0m2-4.5h0m4 8h0m2 1.5h0m0 6h0m14.5-47.5h0m5 1h0m7.5 4h0m5-7.5h0m.5 10h0m.5 1h0m1.5-9.5h0m0 10.5h0m6.5 2.5h0m5.5-19.5h0m1.5 5h0m0 0h0m2 10h0" stroke="#c1b49d" stroke-width="5.3" stroke-linecap="round"/><path d="M1197 1138h0m.5 6h0m2.5 8.5h0m.5 4h0m0-7h0m.5-6h0m1.5 10h0m1-2.5h0m.5-7.5h0m.5-6h0m1.5 21h0m1.5-13h0m1 11.5h0m35.5-63.5h0m6 13h0m1.5-16h0m0 7.5h0m2-1h0m4 7.5h0m.5-3h0m1-13h0m1 19.5h0m.5-11.5h0m.5 7h0m3-16.5h0m1.5 0h0m.5 11.5h0m.5-7.5h0m0-4h0m2 11.5h0" stroke="#c8ab94" stroke-width="5.3" stroke-linecap="round"/><path d="M1199.5 1164.5h0m2-7.5h0m1 9h0m6.5-2.5h0m4 1h0m1-2h0m5.5 1.5h0m1 3h0m2.5-2.5h0m0-1.5h0m6.5 5h0m9.5 2h0m23.5-88h0m0 17.5h0m.5-4h0m.5 13h0m1-27.5h0m2 14.5h0m1.5-17.5h0m0 6.5h0m1-9h0m0 17.5h0m1.5 2.5h0m2-3h0m2.5-23.5h0m8.5 13.5h0" stroke="#cea28a" stroke-width="5.3" stroke-linecap="round"/><path d="M1188 1189.5h0m7-11h0m7.5-6.5h0m1.5 1h0m10 4h0m4 5h0m2-9.5h0m2.5 3.5h0m5-4.5h0m2.5 1.5h0m1 4h0m8.5-5h0m2 10h0m4-2.5h0m5 1h0m21-78h0m1.5-6h0m0-15.5h0m1 22.5h0m.5-21h0m.5-8.5h0m1 32.5h0m1-5.5h0m1-10.5h0m0-13h0m3 13h0m1-17h0m1 18.5h0m0 7.5h0m.5-21h0m0 9h0m5-15h0m2.5-4h0" stroke="#d49a81" stroke-width="5.3" stroke-linecap="round"/><path d="M1192.5 1184h0m6-1h0m5-5.5h0m4 2.5h0m2 8h0m4 3h0m1-11h0m2.5-3.5h0m1.5 0h0m3.5 8h0m3.5 2.5h0m6.5-9.5h0m3 3h0m0 1.5h0m4 4h0m1-13h0m3 7h0m1 6h0m.5-2h0m2-4h0m2 1h0m0 5h0m28.5-114h0m1 36.5h0m.5-10.5h0m.5-24.5h0m1-8.5h0m2.5-5h0m1-3h0m1 24h0m.5 8.5h0m0 10h0m0-3.5h0m1-26.5h0m0 2h0m1 39h0m.5-57.5h0m.5 42h0m.5 8h0m0-21.5h0m1 29.5h0m1-47.5h0m.5 17h0m.5 8.5h0m0 8.5h0m.5 10h0m.5-5.5h0m0 9.5h0m3-49h0m0-9h0m2-3.5h0m1 26h0" stroke="#da9177" stroke-width="5.3" stroke-linecap="round"/><path d="M1186 1197h0m1.5-3.5h0m2.5-1.5h0m5 5.5h0m1-1.5h0m0-4.5h0m1.5 6.5h0m3.5 2h0m5.5-3.5h0m3-13h0m2 9h0m.5-1.5h0m3.5-4h0m3 18.5h0m3-9.5h0m.5-5h0m3 3h0m2-2.5h0m3 7h0m1.5 4h0m1-5.5h0m3 2.5h0m0-7.5h0m6-8.5h0m1.5 9h0m1.5-3h0m17.5 5.5h0m24-142h0m1.5 34h0m1.5-29h0m3.5 7h0m0-12.5h0m.5-2h0m.5 52h0m1-17h0m.5-42h0m.5 5h0m0-9h0m.5 68.5h0m.5-9.5h0m.5-9h0m0-48.5h0m.5 62.5h0m.5-57.5h0m.5 11h0m.5 33h0m1-8.5h0m.5 24h0m1-19h0m0-48h0m0 36.5h0m1 9h0m3-22h0m1.5 9h0m0 27h0m1-34h0" stroke="#e0886e" stroke-width="5.3" stroke-linecap="round"/><path d="M1193 1196.5h0m11.5 3.5h0m2 1h0m.5 4h0m1 1.5h0m.5-13.5h0m1.5 13h0m1-8h0m2 4.5h0m1.5-2.5h0m4 8h0m1-7.5h0m1 4h0m1-12h0m4.5 12.5h0m9-4h0m1.5-4.5h0m3 2h0m1.5 2h0m12.5-5h0m2.5 3h0m38.5-125h0m5 22h0m1-11h0m1 10.5h0m0-50.5h0m0 56.5h0m.5-33h0m.5 2.5h0m.5-38h0m0 9h0m1.5 64h0m.5-18h0m.5 14.5h0m1-47.5h0m2 29.5h0m0 24.5h0m.5 3h0m1.5-25.5h0m.5 7.5h0m0 12h0m1 9h0m0-7h0" stroke="#e38267" stroke-width="5.3" stroke-linecap="round"/><path d="M1202 1201.5h0m10.5 6.5h0m14-7.5h0m8.5 3h0m67.5-183.5h0m2 64h0m3 30h0m0-20.5h0m.5-32.5h0m.5 4.5h0m0 15.5h0m1.5-4h0m.5-59.5h0m0 104.5h0m0-58.5h0m0 6.5h0m.5 41h0m1-30.5h0m0 14.5h0m0-26h0m1 33h0m0-35.5h0m.5 11.5h0m0 36h0m.5 9h0m2.5-64h0m.5 21h0m1-22h0m2.5 40h0m7.5-22h0m18-4.5h0m5.5 58.5h0" stroke="#e67b61" stroke-width="5.3" stroke-linecap="round"/><path d="M1219.5 1233.5h0m6.5-8h0m.5 1h0m14.5-1.5h0m70.5-153h0m2.5-.5h0m6.5-5h0m1.5 27.5h0m1 6.5h0m0-43h0m1-6.5h0m0 11h0m2.5 44.5h0m.5-23.5h0m1 46h0m1-84.5h0m.5 27.5h0m0-8h0m.5 6.5h0m4-16h0m20 20h0" stroke="#e9755a" stroke-width="5.3" stroke-linecap="round"/><path d="M1196 1223.5h0m18 4h0m117-152.5h0m1.5 1h0m0 38h0m3-58.5h0m7 62h0" stroke="#ec6f53" stroke-width="5.3" stroke-linecap="round"/><path d="M1340.5 1115.5h0m0 3h0m1.5-49h0m4.5 11h0m1.5 18h0m3.5-25h0" stroke="#ee664b" stroke-width="5.3" stroke-linecap="round"/><path d="M1207 1239.5h0m147-144.5h0" stroke="#ee5943" stroke-width="5.3" stroke-linecap="round"/><path d="M1059.5 1057h0m1 5.5h0m0-10h0m1 8h0m0 .5h0m2-7h0m2-2h0m.5 15h0m0-11h0m1-9.5h0m1 6.5h0m1.5-.5h0m1.5 13h0m0-8h0m.5-6h0m1.5 15.5h0m1.5-9.5h0m1 1.5h0m.5-5.5h0m.5 13.5h0m1-14h0m.5 6h0m2-2h0m1.5 3h0m.5-2h0m0 6.5h0m0-2h0m1-13h0m.5 19.5h0m0-2.5h0m3-3h0m0-6.5h0m.5 10h0m2-4h0m2.5 5.5h0m.5-4h0m2.5-2h0m2-1.5h0m1 52.5h0m0 18h0m1-63.5h0m2.5 30h0m1.5 9.5h0m1.5 4h0m0-48.5h0m1 29h0m.5-21h0m2 18.5h0m0-24h0m1 8.5h0m1.5-2h0m0 23h0m2.5-7h0m1.5-16.5h0m1.5 9.5h0m2-13.5h0m3.5 1.5h0m5.5-70h0m0-18h0m0 51.5h0m1.5-9.5h0m0-29h0m.5 46h0m0-62.5h0m.5 15h0m0 3h0m.5 74h0m.5-55h0m0-34h0m.5 76.5h0m0-59.5h0m.5 66.5h0m0-98h0m.5 8h0m1.5 6.5h0m.5 80.5h0m1-59h0m2-41h0m0 25h0m0-21h0m.5 30h0m.5-19h0m0 14h0m.5-9h0m1-17h0m1 13h0m.5-3h0m1-12h0m.5 7h0m.5 2.5h0m0-6h0m.5 17h0m3.5-11.5h0m2-3h0m1-12h0m2 5.5h0m2.5 6.5h0m0-8h0m0-25.5h0m0 29h0m3-17.5h0m0 8.5h0m.5 4.5h0m0 27.5h0m1.5-5h0m.5-12.5h0m0 3h0m0-30h0m.5 23h0m.5 23.5h0m1-11h0m0-9h0m0-29.5h0m0 48.5h0m.5-14h0m0-10.5h0m0 17.5h0m2-9h0m1 8.5h0m0-6h0m.5-45.5h0m0 32h0m1 17h0m.5-12h0m0-26.5h0m2 36h0m.5 7.5h0m.5-18h0m1.5 7h0m2.5-7h0m.5 6h0" stroke="#64c5cf" stroke-width="5.3" stroke-linecap="round"/><path d="M1073.5 1170.5h0m3-29h0m2 1h0m2 24.5h0m1.5-25h0m.5-10h0m0 33h0m2-36.5h0m.5-3.5h0m.5 7h0m1 13h0m0 11h0m.5 14.5h0m2-53.5h0m.5 40h0m0-23h0m.5 20h0m1.5-28.5h0m1-2.5h0m1-14h0m.5 37.5h0m.5-30h0m.5 18.5h0m0 11h0m0-31h0m.5 14.5h0m0-3h0m1 11.5h0m.5 15h0m0-32.5h0m2-19.5h0m.5 68h0m.5-97h0m.5 24h0m2 68h0m.5-50.5h0m.5-10.5h0m0-7h0m.5 8.5h0m3-11h0m.5 3.5h0m1.5-12.5h0m.5-7h0m1-10h0m2 12.5h0m.5 10h0m12-21h0m3.5-37.5h0m.5-47h0m1 84.5h0m0-51h0m1.5-5.5h0m1 21h0m0-6.5h0m.5-58.5h0m0 3h0m7.5 0h0m2-12.5h0m1.5-4h0m.5 19.5h0m0 5.5h0m2.5-21.5h0m11 4.5h0m.5 14.5h0m8.5-17.5h0m4.5 2h0" stroke="#6dc8cc" stroke-width="5.3" stroke-linecap="round"/><path d="M1072 1158.5h0m0-2.5h0m1 8.5h0m2.5-20h0m.5 2h0m0 9.5h0m1 2.5h0m.5 4.5h0m.5 16.5h0m.5-22h0m0 1.5h0m1.5 22h0m2.5-6.5h0m1-3h0m0-19.5h0m1.5 15h0m1.5 20.5h0m0-24.5h0m.5-38.5h0m1.5 4.5h0m.5 8.5h0m1.5 51h0m1-22h0m1-4h0m0-11.5h0m.5 16.5h0m0-54.5h0m0 70h0m.5-26.5h0m.5 9h0m3.5 0h0m2-7h0m0 13.5h0m0-9h0m1.5-2.5h0m19.5-87.5h0m5.5 2.5h0m7-3.5h0m6.5-3.5h0m2 4.5h0m8-11.5h0m4 1.5h0m19.5-11h0" stroke="#77cac9" stroke-width="5.3" stroke-linecap="round"/><path d="M1072.5 1147h0m.5 29.5h0m.5 7.5h0m2.5 5.5h0m.5-15h0m1 9h0m1 6h0m1-19h0m3.5 21h0m2-10h0m2 3h0m.5-19.5h0m.5 14.5h0m1.5-12.5h0m0 12h0m.5-4.5h0m2 9.5h0m3-22.5h0m0 7h0m2 9.5h0m4.5-4.5h0m40.5-98h0m3 2h0m.5 5h0m1.5-15h0m1.5 3h0m1.5-4h0m1.5 19h0m1-26.5h0m.5-6h0m1.5 7.5h0m.5 8.5h0m4-23.5h0m.5 37h0m3.5-34h0m3.5-10h0m.5 5h0m3.5 7.5h0" stroke="#81cdc6" stroke-width="5.3" stroke-linecap="round"/><path d="M1074 1186h0m7 0h0m4-1h0m61-103.5h0m0-2.5h0m2.5 4h0m5.5-6h0m0 5h0m1-27.5h0m1 13.5h0m.5-20.5h0m1 26.5h0m.5-24h0m1-.5h0m0 41h0m1-47h0m2 42.5h0m.5 7h0m2-42h0m0-13.5h0m1 4.5h0m4.5-.5h0m3.5-.5h0" stroke="#8acfc3" stroke-width="5.3" stroke-linecap="round"/><path d="M1154.5 1089.5h0m3-7.5h0m6 16.5h0m0-3h0m9 7.5h0m1-3.5h0m.5-.5h0m1-5.5h0m0-47h0m0 57.5h0m1.5-13.5h0m1.5 2h0" stroke="#94cfbf" stroke-width="5.3" stroke-linecap="round"/><path d="M1149.5 1086h0m38.5 13h0" stroke="#a0c9b7" stroke-width="5.3" stroke-linecap="round"/><path d="M1180 1107.5h0m1 2h0m5.5-6h0m1.5 10.5h0m.5-21h0m0 19.5h0m.5 13h0m2.5-24h0m1-5h0m1.5 5.5h0m3-4h0m0 33h0m1.5-27h0m0-5h0m4.5 4.5h0m1-2h0m6.5-1.5h0" stroke="#abc2ae" stroke-width="5.3" stroke-linecap="round"/><path d="M1184 1111h0m2-3.5h0m1.5 12.5h0m3-3h0m1.5 6.5h0m9.5-22.5h0m1.5-2.5h0m1-4.5h0m2 7h0m1-4.5h0m3.5 6.5h0m2-4.5h0m3.5-2h0m1 1.5h0m3.5 7.5h0m3.5-13.5h0" stroke="#b6bba5" stroke-width="5.3" stroke-linecap="round"/><path d="M1188.5 1126h0m2-4.5h0m1.5 7h0m2 10h0m.5-3.5h0m1 7h0m3-2.5h0m4 7h0m17-43.5h0m1.5-.5h0m4.5-6h0m.5 4.5h0m0-3.5h0m.5-4.5h0m1.5 8.5h0m1-6.5h0m1.5 8.5h0m.5-11h0m1 10h0m1-2h0m3.5-3.5h0m3-.5h0m2.5-4h0m0 5h0m0 5h0m1.5-13h0m0 9h0m.5-2h0m3.5 0h0m0-7h0m.5 15.5h0" stroke="#c1b49d" stroke-width="5.3" stroke-linecap="round"/><path d="M1197.5 1148.5h0m2.5-1.5h0m5.5 7h0m.5-7h0m0 9h0m.5 7.5h0m0-12.5h0m2 .5h0m0 7.5h0m8 6.5h0m21-66.5h0m1.5 3.5h0m3.5 0h0m2 3.5h0m3-3.5h0m1-4h0m1.5-2h0m2.5 8h0m2-10.5h0m0 5h0m.5-11.5h0m1 8.5h0m.5-7h0m1.5 4.5h0m4.5-2h0m1 13h0m.5 .5h0m.5-2h0m1-13h0" stroke="#c8ab94" stroke-width="5.3" stroke-linecap="round"/><path d="M1200 1159.5h0m.5 2.5h0m.5 12h0m7.5-6h0m1.5-3h0m1 2.5h0m0-5h0m5.5-1.5h0m3 4h0m3-1.5h0m1 8.5h0m4-6h0m3.5-.5h0m3 5h0m1.5 2.5h0m1-3.5h0m13-67h0m4 3h0m4-7h0m1-11.5h0m9 15.5h0m1-23h0m1.5 6.5h0m.5-1h0m0-9.5h0m0 32h0m2-9h0m.5 5h0m3-16.5h0m2 5.5h0" stroke="#cea28a" stroke-width="5.3" stroke-linecap="round"/><path d="M1194 1179.5h0m4 2.5h0m0-6.5h0m1-5.5h0m6-.5h0m2 1.5h0m1 3h0m3 1h0m.5 5.5h0m.5-6.5h0m3.5 0h0m.5 15.5h0m1-17.5h0m1 2.5h0m1-5.5h0m5.5 5h0m.5 7h0m.5-13.5h0m2.5 7h0m.5 4h0m4-4.5h0m1-5h0m2.5 0h0m.5 8.5h0m3.5 3.5h0m3-8h0m.5 4.5h0m7 2.5h0m15.5-72h0m6.5-33h0m0-4.5h0m1.5 .5h0m.5-5.5h0m1 15.5h0m1.5 15h0m.5 9.5h0m1.5-21.5h0m0 21h0m0-18h0m1.5 6.5h0m.5 3h0m2 9h0m2.5 2h0" stroke="#d49a81" stroke-width="5.3" stroke-linecap="round"/><path d="M1189.5 1186h0m8.5 4.5h0m3 2.5h0m1-13h0m.5 4.5h0m.5 3h0m1.5-7h0m1.5-3h0m5.5 11h0m1.5-5.5h0m4 4h0m4.5-3.5h0m1-6h0m.5 4h0m6-1.5h0m.5 3.5h0m1-1h0m5.5 4h0m1-2h0m4-6.5h0m2 11.5h0m3-9h0m1 5.5h0m1-1.5h0m3 1h0m1.5 11.5h0m10-11.5h0m10.5-114.5h0m3 28h0m3-18h0m2-10h0m.5 29h0m1 6.5h0m.5-36.5h0m.5-8.5h0m2 20.5h0m0 25h0m1-14.5h0m1.5-14.5h0m.5 15h0m1 13.5h0m.5-62h0m.5 31.5h0m0-7.5h0m.5-21.5h0m.5 13.5h0m0 16.5h0m.5 18h0m1.5-8h0m1.5-15h0m.5 10h0m1-16.5h0m1 5h0" stroke="#da9177" stroke-width="5.3" stroke-linecap="round"/><path d="M1188 1195h0m5.5-2.5h0m.5-5.5h0m5 9.5h0m2.5-1h0m3.5-1h0m2-8h0m0 12h0m9.5 9.5h0m1-10.5h0m1 0h0m1.5-4h0m1.5-8h0m2.5 14h0m5-11h0m2.5-1.5h0m3 1.5h0m.5 8h0m3-6h0m2-1h0m1 7h0m2 6.5h0m1.5-6.5h0m2.5-4h0m.5 0h0m2.5 2h0m22 3h0m10-112.5h0m4.5-33.5h0m.5 47h0m2-53.5h0m0 45h0m1.5-40h0m.5 20.5h0m.5 12.5h0m.5 29h0m0-54h0m1-1h0m.5 34.5h0m.5-13h0m0-35.5h0m.5 62h0m.5-28.5h0m1-16.5h0m1.5 51h0m1-18.5h0m.5-22.5h0m0 43.5h0m0-54.5h0m.5 35h0m1-30.5h0m.5 15.5h0m1-19.5h0m.5-12h0m1 4h0m0 2.5h0m1 24h0m.5-32.5h0m1.5 15h0" stroke="#e0886e" stroke-width="5.3" stroke-linecap="round"/><path d="M1191 1197h0m4 5h0m3.5-.5h0m5 2.5h0m4.5-14h0m0 17h0m1-1.5h0m.5-3.5h0m.5 5h0m0-11.5h0m1.5 1h0m.5 15.5h0m2 33.5h0m9-44h0m1-5.5h0m5.5-3h0m3.5 13h0m1-9.5h0m4.5 4.5h0m6 .5h0m20-4h0m6 8h0m5.5 8.5h0m19-130h0m2 10.5h0m1.5-40.5h0m1 2h0m.5 11.5h0m.5 43.5h0m1-45.5h0m.5 47.5h0m1-20h0m0-18h0m.5 33.5h0m2.5-40.5h0m.5 22.5h0m0-41.5h0m.5-23.5h0m0 30h0m0 6h0m.5 12h0m0 13.5h0m0 2.5h0m1 5h0m0 20.5h0m.5-21.5h0m0-41.5h0m.5 51h0m.5-16h0m2-63.5h0m2 57h0m.5-11h0m1.5 24h0" stroke="#e38267" stroke-width="5.3" stroke-linecap="round"/><path d="M1202 1204.5h0m8 9h0m14.5 35h0m0-36.5h0m2.5-8h0m2.5 4.5h0m5 4.5h0m6.5-8.5h0m59.5-105h0m4-31.5h0m1.5 39.5h0m1.5-4h0m1-44h0m.5 64h0m1-68h0m.5 17h0m2 46.5h0m0-85h0m.5 77h0m0-22.5h0m.5-4h0m.5 20h0m0 15h0m.5-20h0m0-.5h0m0-2.5h0m.5-9.5h0m0-31.5h0m.5 19h0m0 25.5h0m.5-34.5h0m.5 28h0m1-14.5h0m1.5 12h0m2.5 3.5h0m0 14.5h0m1.5-7.5h0m26 31.5h0" stroke="#e67b61" stroke-width="5.3" stroke-linecap="round"/><path d="M1210 1225.5h0m6 5.5h0m6-15h0m3 3.5h0m2 1h0m87.5-161.5h0m1 16h0m1 9h0m0-7h0m2.5-1.5h0m1-27h0m3.5-.5h0m1 22h0m.5-6.5h0m4.5 22h0m.5 8.5h0m2.5-18h0" stroke="#e9755a" stroke-width="5.3" stroke-linecap="round"/><path d="M1202 1227.5h0m29.5-9h0m89.5-97h0m11-7.5h0m10-52.5h0" stroke="#ec6f53" stroke-width="5.3" stroke-linecap="round"/><path d="M1234 1233.5h0m105.5-162h0m7 44.5h0" stroke="#ee664b" stroke-width="5.3" stroke-linecap="round"/><path d="M1348 1075h0m1 16h0" stroke="#ee5943" stroke-width="5.3" stroke-linecap="round"/><path d="M1191.5 1190h0m3 .5h0m.5-5.5h0m1.5 1.5h0m.5 48h0m0-62.5h0m2.5 6.5h0m1.5-12h0m.5 20.5h0m1 1.5h0m1-26h0m2.5 22.5h0m2-15h0m1.5 7h0m2-15h0m3 7h0m1 35h0m1.5-22.5h0m.5 21.5h0m0 22h0m2.5-35h0m2 8.5h0m1 27h0m0-18.5h0m1 29.5h0m3.5-40h0m1 12h0m.5-4.5h0m1.5-12h0m.5-1.5h0m2-10h0m2.5 26h0m2.5 10.5h0m1-24.5h0m4 6h0m1-14.5h0m1 0h0m23.5-80h0m.5-20.5h0m1.5 7.5h0m4-2h0m0-12.5h0m5.5-7.5h0m.5-6h0m.5 15h0m1.5-12.5h0m1.5-5h0m1 5h0m2 10h0m0-18.5h0m1 3.5h0m1 5h0m.5 40h0m.5-19.5h0m2.5 13h0m1-37h0m3 14h0m2.5 26h0m1-74.5h0m0 62.5h0m.5-39h0m0 54.5h0m2 5h0m1-67.5h0m0 56h0m0-19h0m.5-23.5h0m0 40.5h0m1.5-50h0m1-16.5h0m4.5 69h0m1-25h0m12 7h0m2-10.5h0m1 3.5h0m5-1h0m13-11.5h0m5.5 46.5h0m14.5-21.5h0" stroke="#b5b5b7" stroke-width="2.8" stroke-linecap="round"/><text x="1022.7" y="905.8" font-size="16.9" font-weight="bold" fill="#222">Cirrhosis</text><text x="1392.5" y="993.7" font-size="17.5" font-weight="bold" fill="#111">Cirrhosis</text><rect x="1392.0" y="1004.5" width="40.0" height="193.2" fill="url(#cbgrad)"/><path d="M1392.0 1176.4h8.0M1424.0 1176.4h8.0" stroke="#fff" stroke-width="1.33" opacity="0.8"/><path d="M1392.0 1139.7h8.0M1424.0 1139.7h8.0" stroke="#fff" stroke-width="1.33" opacity="0.8"/><path d="M1392.0 1100.1h8.0M1424.0 1100.1h8.0" stroke="#fff" stroke-width="1.33" opacity="0.8"/><path d="M1392.0 1059.6h8.0M1424.0 1059.6h8.0" stroke="#fff" stroke-width="1.33" opacity="0.8"/><path d="M1392.0 1023.8h8.0M1424.0 1023.8h8.0" stroke="#fff" stroke-width="1.33" opacity="0.8"/><text x="1441.0" y="1031.6" font-size="16.5" font-weight="bold" fill="#111">0.050</text><text x="1441.0" y="1071.4" font-size="16.5" font-weight="bold" fill="#111">0.040</text><text x="1441.0" y="1112.3" font-size="16.5" font-weight="bold" fill="#111">0.030</text><text x="1441.0" y="1152.6" font-size="16.5" font-weight="bold" fill="#111">0.020</text><text x="1441.0" y="1192.9" font-size="16.5" font-weight="bold" fill="#111">0.010</text><path d="M1607.0 911.9V1263.9M1664.2 911.9V1263.9M1721.5 911.9V1263.9M1778.7 911.9V1263.9M1836.0 911.9V1263.9M1893.2 911.9V1263.9M1567.4 1259.4H1900.6M1567.4 1223.7H1900.6M1567.4 1188.0H1900.6M1567.4 1152.3H1900.6M1567.4 1116.7H1900.6M1567.4 1081.0H1900.6M1567.4 1045.3H1900.6M1567.4 1009.6H1900.6M1567.4 974.0H1900.6M1567.4 938.3H1900.6" stroke="#ebebeb" stroke-width="1.0" fill="none"/><text x="1664.2" y="1275.6" font-size="10" font-weight="bold" text-anchor="middle" fill="#111">0</text><text x="1778.7" y="1275.6" font-size="10" font-weight="bold" text-anchor="middle" fill="#111">1</text><text x="1893.2" y="1275.6" font-size="10" font-weight="bold" text-anchor="middle" fill="#111">2</text><text x="1563.4" y="941.9" font-size="10" font-weight="bold" text-anchor="end" fill="#111">1.0</text><text x="1563.4" y="1013.2" font-size="10" font-weight="bold" text-anchor="end" fill="#111">0.5</text><text x="1563.4" y="1084.6" font-size="10" font-weight="bold" text-anchor="end" fill="#111">0.0</text><text x="1563.4" y="1155.9" font-size="10" font-weight="bold" text-anchor="end" fill="#111">−0.5</text><text x="1563.4" y="1227.3" font-size="10" font-weight="bold" text-anchor="end" fill="#111">−1.0</text><text x="1732.0" y="1288.5" font-size="11.9" font-weight="bold" text-anchor="middle">Dimension 1</text><text transform="translate(1536.6,1087.9) rotate(-90)" font-size="11.9" text-anchor="middle" font-weight="bold">Dimension 2</text><path d="M1782.5 1108.5h0m5.5-33.5h0m3.5-5h0m.5 10.5h0m1.5-4.5h0m4.5-3h0m1-8.5h0m2 20h0m0-11.5h0m1 5h0m0-17h0m1.5 19.5h0m1.5-28h0m1 4h0m.5-4h0m0 34h0m.5 8h0m0-17h0m0-5.5h0m1-27.5h0m0 62h0m1.5-26.5h0m.5-20h0m.5 22.5h0m0 14.5h0m2.5-24h0m1 10.5h0m.5-35.5h0m0-9h0m.5 36.5h0m1 35h0m0-61h0m1 26h0m0-19h0m.5 13h0m.5 32h0m0 12h0m.5-58h0m.5 25.5h0m0-54h0m0 83.5h0m0-60h0m.5 54.5h0m0-6h0m.5-13h0m.5 14.5h0m.5-33h0m0-48h0m0 90.5h0m.5-40h0m0 13.5h0m.5-9h0m.5 24h0m0-19h0m.5 17h0m.5-13h0m1-22h0m0 6h0m.5 39.5h0m.5-58.5h0m.5 6.5h0m0 6h0m.5 28h0m1 25.5h0m0-34h0m0 27.5h0m0-49.5h0m1 18h0m.5-4.5h0m.5 13.5h0m0-22.5h0m.5 30h0m0 17.5h0m.5-39h0m0 8.5h0m0 34h0m.5-45.5h0m.5-35h0m1.5 70.5h0m1.5-4.5h0m1-6.5h0m1-14.5h0m.5-21h0m5.5-7h0m0 30.5h0m3 25h0m0-32h0m2.5-30h0m.5 19.5h0m2.5 12h0m.5 38h0m0-38h0m1.5-21.5h0m1 1h0m7 62h0m4.5-1.5h0m0-35.5h0m1.5-5.5h0m1 58h0m2.5-59.5h0m2 1h0m.5 20.5h0m11-8h0" stroke="#64c5cf" stroke-width="5.3" stroke-linecap="round"/><path d="M1781 1081.5h0m4 26h0m4-22h0m0-1h0m.5 6h0m1.5 1.5h0m1 11h0m.5-32.5h0m1 18h0m0-15h0m1 32.5h0m.5-7.5h0m0-12h0m2-9.5h0m0 31h0m.5-27.5h0m.5 6h0m1.5 6.5h0m.5-22.5h0m0 29h0m1.5 6.5h0m.5-24h0m1.5-17h0m.5 41.5h0m1.5-14.5h0m.5-17h0m1-15h0m.5 5h0m1 45.5h0m0-5.5h0m.5-61h0m0 19h0m.5 5h0m1 20.5h0m.5 10h0m.5 3h0m3-48.5h0m1 41h0m.5-5h0m3-22h0m0-4h0m.5 42h0m.5-67h0m1.5 9h0m4 23.5h0m1 43h0m0-50h0m1 1.5h0m0 46h0m.5-18h0m1.5-23.5h0m1.5 49h0m1-30.5h0m1 11h0m10-29.5h0" stroke="#6dc8cc" stroke-width="5.3" stroke-linecap="round"/><path d="M1767 1104.5h0m2-12.5h0m16.5-1.5h0m0-4h0m1-9h0m18 29.5h0" stroke="#77cac9" stroke-width="5.3" stroke-linecap="round"/><path d="M1760.5 1092h0m1.5-3h0m.5 9h0m.5-2h0m0 9.5h0m5-18.5h0m.5 15h0m1-10h0m.5-2h0m1 14h0m6.5-16h0m2 8h0m0 7h0m1.5-4h0m1.5 5h0m0-17.5h0m1 16h0m.5-13h0m1 8.5h0m2.5 0h0" stroke="#81cdc6" stroke-width="5.3" stroke-linecap="round"/><path d="M1736 1097.5h0m3-4.5h0m1 9h0m.5-6.5h0m1 9.5h0m4-12.5h0m3 7h0m3.5 .5h0m.5-4h0m.5-4h0m1 10h0m1.5-5h0m.5 1.5h0m1.5 3.5h0m3.5-5h0m0 5h0m1.5 4.5h0m.5-13.5h0m3 3h0m.5-7h0m7.5-2h0m.5 8.5h0" stroke="#8acfc3" stroke-width="5.3" stroke-linecap="round"/><path d="M1715.5 1097.5h0m12 4h0m2.5-5.5h0m14.5 1h0" stroke="#94cfbf" stroke-width="5.3" stroke-linecap="round"/><path d="M1664 956.5h0m4-7h0m8.5 36.5h0m4 .5h0m0-28h0m0 14.5h0m.5 7h0m2 2.5h0m20 112h0m4 4h0m3 2.5h0m1-2.5h0m6 5h0m0-5h0m12 4h0" stroke="#a0c9b7" stroke-width="5.3" stroke-linecap="round"/><path d="M1647.5 992h0m3-24h0m2 7h0m3-10.5h0m4 14.5h0m3-24.5h0m1 19.5h0m1-9h0m.5 3h0m7.5-.5h0m.5 3.5h0m2 .5h0m1.5-4.5h0m0-4.5h0m1 14h0m.5-8h0m.5-4h0m.5 23.5h0m1-5h0m0-6h0m.5-24h0m3.5 26.5h0m0-25h0m0 19h0m.5-46h0m0 32.5h0m.5 6h0m.5-1h0m1 7h0m3.5-1h0m17.5 121.5h0" stroke="#abc2ae" stroke-width="5.3" stroke-linecap="round"/><path d="M1644 1007.5h0m2-24h0m1.5 16h0m1.5 14.5h0m0-34h0m0 7h0m0 9.5h0m1 15.5h0m1.5-36.5h0m0-7.5h0m1.5 15h0m1.5-21.5h0m.5-1.5h0m0 25.5h0m.5 9h0m1-5h0m1-26.5h0m2 20h0m1-14.5h0m.5 2.5h0m1.5 4.5h0m1 4h0m1.5-18.5h0m2 6.5h0m3 5.5h0m2-18h0m1 95.5h0m1 3.5h0m2.5-95.5h0m.5 91h0m8.5-11.5h0m3-74h0m.5 77h0m3 1.5h0" stroke="#b6bba5" stroke-width="5.3" stroke-linecap="round"/><path d="M1644.5 1027h0m0-40h0m.5 11.5h0m0-18h0m.5 51.5h0m.5-16h0m0-6.5h0m1-2h0m0 14.5h0m0 17.5h0m0-10.5h0m.5 26.5h0m0-78.5h0m0 54h0m1-43h0m0 80.5h0m.5-51h0m2.5 2h0m0-11.5h0m.5-28h0m16 81h0m3 4h0m.5-8.5h0m4-9.5h0m1 6h0m.5-9.5h0m.5 5.5h0m2 9.5h0m2-15.5h0m4 0h0m2 4h0m3-8.5h0m.5 8.5h0m6 51h0" stroke="#c1b49d" stroke-width="5.3" stroke-linecap="round"/><path d="M1646.5 1059.5h0m2.5-16.5h0m.5 20.5h0m.5 2h0m1.5-20.5h0m1 15.5h0m15 9.5h0m1-4h0m3.5-13.5h0m0 10h0m1-2.5h0m6.5-7h0m2.5-5h0m1 2.5h0m3 0h0m.5 44h0m1 7.5h0m2-7.5h0m0-8.5h0m2.5 13h0m2 4.5h0m1-13.5h0m5.5 12h0" stroke="#c8ab94" stroke-width="5.3" stroke-linecap="round"/><path d="M1648.5 1069h0m24 18.5h0m2.5 5.5h0m1-11.5h0m3-1h0m1.5 5h0m.5 4h0m.5-4h0m1 9.5h0m2.5-5.5h0m0 12h0m1.5-9h0m19 10.5h0m2.5 22h0m1.5-4h0m1-11.5h0m5.5 21h0m3 31h0m32 15.5h0m3.5-8.5h0" stroke="#cea28a" stroke-width="5.3" stroke-linecap="round"/><path d="M1642.5 1071h0m9.5 .5h0m.5-6.5h0m12 17h0m.5-3.5h0m4.5 1.5h0m4 3.5h0m7-.5h0m.5 9.5h0m7-2h0m12 14h0m6.5 90h0m0-81h0m1 3.5h0m1 69h0m2 3.5h0m.5-61.5h0m.5 8h0m.5 56h0m.5-74h0m0 7.5h0m.5 53.5h0m1 18h0m1-75h0m1.5 26h0m0-28h0m1.5 49.5h0m0-5.5h0m1.5-29.5h0m0 14.5h0m1.5 39h0m0-22.5h0m.5-29.5h0m.5 51h0m.5-25h0m0-11.5h0m0-7.5h0m.5 29.5h0m.5-35.5h0m1.5 9.5h0m.5 24h0m1-25.5h0m.5 6h0m1.5 32h0m0-18.5h0m1 2.5h0m.5 21h0m2-5.5h0m2-9h0m1 16h0m0-24.5h0m.5-4.5h0m.5 11h0m.5 10h0m1-5.5h0m.5-11.5h0m0-1h0m0 36.5h0m1-27.5h0m.5-6h0m0 38h0m.5-19.5h0m1.5-9.5h0m0-11.5h0m0 17h0m1.5-7.5h0m1 7h0m.5-13.5h0m1.5 37h0m0-38.5h0m0 5.5h0m2 32.5h0m0-20.5h0m.5 9.5h0m1.5-27.5h0m3 23h0m2-11h0m.5 19h0m2 4.5h0m1-2.5h0m0-17.5h0m1 23.5h0m3-26.5h0m.5 8h0m1.5-6.5h0m1 6.5h0m5.5 11h0m10.5-11.5h0" stroke="#d49a81" stroke-width="5.3" stroke-linecap="round"/><path d="M1638 1074h0m6 0h0m12 0h0m1-8.5h0m1 2.5h0m5.5 1.5h0m.5 7.5h0m.5-6h0m1-4.5h0m7.5 15h0m.5-10h0m33 121.5h0m2-71h0m1 74.5h0m2.5-.5h0m1-9.5h0m0-55.5h0m.5 53.5h0m.5 17h0m1-10h0m2.5-52.5h0m1.5 13h0m0 4h0m1 43.5h0m0-56.5h0m0 31h0m0 21h0m0-38.5h0m.5 30h0m.5-7h0m0 21.5h0m2.5-1h0m.5-6h0m1-16.5h0m.5 23h0m0-14.5h0m.5 12h0m.5-28h0m2 6.5h0m0 48.5h0m.5-18.5h0m0-11h0m1-33.5h0m.5 34h0m.5-22.5h0m1.5 3h0m3 31h0m1.5-33.5h0m1.5 15.5h0m2 6h0m3.5-9h0m.5 18h0m1-4h0m0 20h0m4.5-30.5h0m.5-3.5h0m1-6.5h0m.5 25.5h0m2-9.5h0m.5 3h0m0 7.5h0m3.5-35h0m2 28.5h0m0-22.5h0m2 25h0m0-23h0m1 16.5h0m0 5.5h0m.5-18h0m3 8.5h0m1-11.5h0m2-.5h0m3 15h0m10.5 2h0m8 0h0" stroke="#da9177" stroke-width="5.3" stroke-linecap="round"/><path d="M1645 1075h0m69.5 148h0m4-64h0m7.5 80h0m11.5-34h0m3-22h0m1.5 23.5h0m.5 29.5h0m2.5-11h0m.5 1h0m1.5-48h0m3.5 24h0m2 31h0m0-37h0m15-10h0" stroke="#e0886e" stroke-width="5.3" stroke-linecap="round"/><path d="M1582 1056h0m1 10h0m12-10.5h0m.5-5.5h0m3 6.5h0m1.5-7.5h0m.5 10.5h0m8 5h0" stroke="#e38267" stroke-width="5.3" stroke-linecap="round"/><path d="M1579.5 1052h0m1 8h0m2-6.5h0m2-2h0m1 10h0m1.5-9h0m1-.5h0m0 12.5h0m1.5-18.5h0m.5 6.5h0m5 .5h0m.5 13.5h0m1.5-1.5h0m2-3.5h0m2 .5h0m.5-10h0m0-3h0m2.5 11h0m4 2.5h0m2-3h0m.5 8.5h0m3 .5h0m2-4h0m3 7h0m0-7.5h0m1 4h0m3.5-5.5h0m4.5 11h0m2.5-1h0" stroke="#e67b61" stroke-width="5.3" stroke-linecap="round"/><path d="M1578 1056.5h0m39.5 11h0m7 0h0m8 3.5h0m1.5-4h0" stroke="#e9755a" stroke-width="5.3" stroke-linecap="round"/><path d="M1627.5 1083h0m1-6h0" stroke="#ec6f53" stroke-width="5.3" stroke-linecap="round"/><path d="M1617 1105h0m1.5 1.5h0m1-11h0m.5-2.5h0m0 4.5h0m4-6h0m0 7h0m2 2.5h0m.5-12h0m0 7.5h0m3-3h0m.5-3.5h0m1.5-7.5h0m.5 7h0m1.5-14.5h0" stroke="#ee664b" stroke-width="5.3" stroke-linecap="round"/><path d="M1601 1139.5h0m6.5-18.5h0m.5 14h0m1-20.5h0m3-7.5h0m1.5 9h0m.5-1.5h0m2-6.5h0m0 5h0m2-16h0m1 19.5h0m3-3.5h0m.5-10.5h0m0 1.5h0" stroke="#ee5943" stroke-width="5.3" stroke-linecap="round"/><path d="M1596 1153.5h0m6-12.5h0m1-6h0m0-7h0m.5-3.5h0m1 13h0m3.5-15h0m.5 11h0m2 5h0m1.5-15h0m.5 17.5h0m2-15h0m1-6h0m.5 9h0m.5 2h0m0 .5h0m0-9.5h0m1 3.5h0m0-5.5h0" stroke="#ee4b3a" stroke-width="5.3" stroke-linecap="round"/><path d="M1590.5 1158h0m.5-2.5h0m1 8.5h0m0-11.5h0m0 23.5h0m2.5-32h0m0 2h0m1-5h0m.5 21.5h0m1.5-4h0m.5-16.5h0m6 24.5h0m.5-13h0m1-7h0m0-2h0m.5-3h0m1 37.5h0m0-50.5h0m1 34h0m2.5-16.5h0m.5 4.5h0m.5-7h0m0 23.5h0m2.5-37.5h0m1.5 23h0m.5 25h0m2-9h0" stroke="#ee3e31" stroke-width="5.3" stroke-linecap="round"/><path d="M1591 1146.5h0m1.5 23.5h0m0 13.5h0m0-11h0m2.5 16.5h0m0-38.5h0m0 23.5h0m.5-16h0m.5 25h0m1 9.5h0m0-3.5h0m.5-37.5h0m1-1h0m.5 33h0m1.5-1.5h0m0-20h0m1 3h0m.5 6h0m0-19.5h0m1 27.5h0m0-19h0m.5 21h0m1.5 6.5h0m0-25h0m.5 11h0m0-18h0m.5 14.5h0m0 14h0m0-6h0m2-11.5h0m.5 12h0m.5-4.5h0m0 14.5h0m.5-30.5h0m1 26h0m.5-22h0m.5 23.5h0m.5-5h0m.5-24.5h0m0 21.5h0m1-32h0m2 34h0m0-32h0m2.5 27h0m.5-3h0" stroke="#ee3128" stroke-width="5.3" stroke-linecap="round"/><path d="M1783 1080.5h0m4 3.5h0m3.5 18h0m.5-4h0m2.5-16h0m2.5 23h0m.5-13h0m1.5 12.5h0m1.5-14.5h0m.5-12.5h0m1-12.5h0m1 40h0m0-48.5h0m0 30.5h0m1-27h0m.5 29h0m2 9h0m.5 12h0m1-7.5h0m1-13h0m2-13h0m.5 35h0m0-4.5h0m.5-12.5h0m.5 16.5h0m1-49.5h0m0 29.5h0m0 11h0m1-17h0m.5-9h0m0-14h0m1-2.5h0m0 38.5h0m0-33h0m1-24.5h0m.5 29.5h0m.5-24.5h0m.5 46.5h0m.5-2.5h0m.5 5.5h0m0-1.5h0m1.5-19h0m1 38h0m0-53.5h0m.5-27h0m0 60.5h0m.5-50h0m.5 65.5h0m0-54.5h0m.5 2.5h0m0 11.5h0m0 10h0m0 27.5h0m1-60h0m0 42h0m0-40.5h0m1-16.5h0m0 30h0m.5-35h0m.5 72.5h0m0-24.5h0m.5 20h0m.5-32.5h0m0 23h0m1 39.5h0m0-71.5h0m.5 51h0m.5-47.5h0m.5 66.5h0m.5-22.5h0m0 6h0m.5-82h0m.5 71.5h0m.5-28.5h0m.5 44.5h0m0-33h0m0 6.5h0m.5 29.5h0m.5 9h0m0-51.5h0m0 48h0m0-39h0m.5 18.5h0m0-2.5h0m0-27h0m0 17.5h0m.5-31.5h0m.5 38h0m.5-28h0m.5 18.5h0m0-7h0m0-18h0m0 21h0m2 11h0m.5-15.5h0m.5-27h0m.5 49.5h0m1-3.5h0m.5 14.5h0m1.5-51.5h0m.5-9.5h0m0 14h0m1.5 1.5h0m3 12.5h0m1-4h0m.5 13.5h0m0-15h0m2.5 43.5h0m0-40.5h0m7.5-2h0m.5 44h0m.5 3h0m1-49h0m.5-8h0m3 .5h0m.5 9.5h0m3.5 19.5h0m1.5 17.5h0" stroke="#64c5cf" stroke-width="5.3" stroke-linecap="round"/><path d="M1787 1079h0m.5 24.5h0m2 3.5h0m1.5-32.5h0m.5 21.5h0m0-25.5h0m1.5 32.5h0m1-34.5h0m.5 12h0m1 20h0m.5-5h0m0-24h0m1 18.5h0m0 7.5h0m.5-14h0m2 12.5h0m2-36.5h0m0 32h0m.5-22h0m0 29.5h0m2 0h0m0-3.5h0m1-26.5h0m0 2h0m0-20h0m2.5 30h0m.5-23.5h0m.5 28h0m.5-10h0m1-7.5h0m1-3.5h0m.5-12.5h0m0-2h0m.5 6.5h0m0 30h0m1-44h0m0 62h0m1-61.5h0m1 64.5h0m2.5-54h0m.5 5h0m1 31h0m3-48.5h0m0 10h0m3.5 3h0m1 49h0m0-16.5h0m1 7.5h0m1.5-77h0m1.5 90h0m.5-33h0m.5 27.5h0m3-27.5h0m5 47h0m1.5-27.5h0m4-23h0m4.5 4h0" stroke="#6dc8cc" stroke-width="5.3" stroke-linecap="round"/><path d="M1769 1096h0m3.5 .5h0m10.5 8.5h0m3-2.5h0m2-19.5h0m1.5 12h0m9.5-26.5h0m8.5 24h0m2-43h0m0-3h0m9.5 37.5h0" stroke="#77cac9" stroke-width="5.3" stroke-linecap="round"/><path d="M1747 1101h0m14 1h0m5 0h0m1.5-4h0m1.5 8h0m1.5-8.5h0m.5 4.5h0m1 3h0m1-11.5h0m0 5h0m2.5-10h0m1 15.5h0m0-5.5h0m.5 2.5h0m0-14.5h0m4 4.5h0m1 4h0m2.5-8.5h0m.5 8.5h0m3-2.5h0" stroke="#81cdc6" stroke-width="5.3" stroke-linecap="round"/><path d="M1708 1095.5h0m2 9h0m13-3.5h0m11.5 0h0m3.5 1.5h0m1.5 2.5h0m1-6.5h0m4-2.5h0m0 4.5h0m5 2.5h0m.5-11h0m6 1.5h0m0 10.5h0m21-11h0" stroke="#8acfc3" stroke-width="5.3" stroke-linecap="round"/><path d="M1712.5 1101.5h0m1.5 1h0m6.5-2h0m2-7h0m2.5 7h0m1-4.5h0m3 3.5h0m2.5-1.5h0m.5 4.5h0m3-6.5h0m1-1.5h0m2 5h0m4.5-8h0m5.5 3h0m2.5 7.5h0m3.5 1h0m4.5-7h0" stroke="#94cfbf" stroke-width="5.3" stroke-linecap="round"/><path d="M1673 934h0m0 29h0m3.5 11h0m1 7h0m3.5-3.5h0m17 117.5h0m2 4h0m4 .5h0m1-4.5h0m3.5 9h0m2.5-8h0m1-2h0m4.5-.5h0m3.5 1.5h0m1.5 8h0m.5-5h0m4.5 6.5h0" stroke="#a0c9b7" stroke-width="5.3" stroke-linecap="round"/><path d="M1657.5 967h0m.5-3.5h0m6.5 12.5h0m1.5-22.5h0m0 19h0m2.5-13h0m1.5 13h0m.5-3.5h0m2.5-9.5h0m0-17h0m1.5 31h0m1-28h0m.5 38.5h0m0-30h0m1 1h0m1 16.5h0m.5-30h0m1.5 26.5h0m0-29.5h0m3 32.5h0m1.5-8.5h0m.5 14.5h0m1 7h0m0-24.5h0m2 15h0m0 7.5h0m1.5-15h0m.5-5.5h0m1 6.5h0m2-4h0m0 6h0m6.5 124h0" stroke="#abc2ae" stroke-width="5.3" stroke-linecap="round"/><path d="M1643 992.5h0m.5-4.5h0m1.5 15.5h0m1-2h0m1-8.5h0m.5 29.5h0m1-51h0m1.5-6h0m0 8h0m1 15h0m0 44.5h0m.5-37.5h0m.5-24.5h0m0 25h0m2.5-18.5h0m.5 5h0m0-12.5h0m1 5.5h0m.5 4.5h0m2.5-3.5h0m0-18h0m.5 12.5h0m0-13.5h0m1 3.5h0m.5-2.5h0m0 6.5h0m1 17h0m3-11.5h0m.5-12.5h0m1.5 4h0m1-6.5h0m1.5 9h0m.5-3.5h0m2.5-7.5h0m.5 2h0m.5 6.5h0m0 106.5h0m2-83h0m1 58.5h0m3-91.5h0m1.5 10h0m.5 78h0m1.5 7h0m2-80.5h0m1-28.5h0m3.5 112h0m.5-71.5h0m.5 66.5h0m1.5-5h0" stroke="#b6bba5" stroke-width="5.3" stroke-linecap="round"/><path d="M1645.5 1021h0m0 25h0m1-11h0m0 4h0m.5-1.5h0m0 16.5h0m.5-59h0m.5-11h0m0 36.5h0m.5 5.5h0m.5 8.5h0m0 12.5h0m0-18.5h0m.5-24.5h0m0 50.5h0m.5-1h0m0-4h0m.5-37.5h0m1 14.5h0m.5-41.5h0m.5 6h0m1 10.5h0m6-28h0m10 95.5h0m1 2h0m.5-12.5h0m3.5-4h0m0 10.5h0m1-4h0m2.5-16h0m.5 16.5h0m.5-18.5h0m0 13h0m3-.5h0m1.5-18.5h0m.5 4.5h0m.5 11h0m7.5-1h0m1-2.5h0m.5-3h0m3 57.5h0" stroke="#c1b49d" stroke-width="5.3" stroke-linecap="round"/><path d="M1646.5 1062h0m2 11h0m.5-16.5h0m.5-6h0m2 22.5h0m23.5-5.5h0m7 30.5h0m4.5-11h0m3.5 14.5h0m.5-8.5h0m0-4h0m.5 7h0m0 6.5h0m2-4h0m.5-5h0m1.5 .5h0m1 6h0m1-8h0m12 18.5h0" stroke="#c8ab94" stroke-width="5.3" stroke-linecap="round"/><path d="M1670 1079h0m.5 9h0m1-13h0m2 14h0m4.5 7h0m4-2.5h0m3.5 4.5h0m15.5 4.5h0m6.5 9.5h0m2 4.5h0m.5-9.5h0m11.5 64.5h0" stroke="#cea28a" stroke-width="5.3" stroke-linecap="round"/><path d="M1664.5 1081h0m.5-7.5h0m2.5-.5h0m5.5 3.5h0m2.5 .5h0m1-3.5h0m1 14h0m.5 2.5h0m6.5-6.5h0m14.5 23.5h0m.5 2h0m3 1.5h0m2-6.5h0m0 3h0m1.5 12.5h0m1 69.5h0m.5-63h0m1.5 65.5h0m1.5-68h0m2.5 14.5h0m.5-3.5h0m0 44h0m2-52h0m.5 11h0m0 34h0m1 3.5h0m.5 7.5h0m.5-4.5h0m1-31.5h0m2.5-4.5h0m3 16h0m.5 26.5h0m0-21h0m.5-13h0m.5 29.5h0m1-6.5h0m3.5-12h0m1.5 3h0m.5 26h0m1-22h0m.5 35.5h0m2-28h0m1.5 21h0m3-5h0m.5-1.5h0m0-13h0m.5-14.5h0m2 48.5h0m3-15.5h0m.5-22h0m.5 5.5h0m.5 8.5h0m0-20.5h0m1 5h0m.5 4h0m1.5-3h0m2.5 7h0m1.5-11.5h0m.5 15h0m1.5 6h0m1.5-1h0m1.5 7h0m1.5-23.5h0m3.5 7.5h0m4 14h0m0-14h0m1 5h0m11 9.5h0" stroke="#d49a81" stroke-width="5.3" stroke-linecap="round"/><path d="M1639.5 1072.5h0m4.5-4h0m3 4h0m8-3.5h0m3 2h0m2.5 1.5h0m1 1h0m2-7.5h0m3.5 16.5h0m1 3h0m2-.5h0m8-3h0m27 114.5h0m8-82h0m0 15h0m.5 60.5h0m1-48h0m0 53.5h0m2-14h0m.5-54.5h0m0 74.5h0m2-70.5h0m1 2h0m0 60h0m0-27h0m1 38h0m.5-51h0m0-7h0m1 31h0m.5 3h0m.5-11h0m.5-15.5h0m1 2h0m1.5 34h0m0 17h0m.5-.5h0m.5-49.5h0m0 2h0m0 46.5h0m0-42h0m1 38.5h0m.5 4h0m1-8h0m0-23h0m.5 17.5h0m0-12h0m.5 31.5h0m.5-4h0m.5-5.5h0m1 25h0m0-47.5h0m.5 20h0m.5-13h0m2.5 16h0m0-5.5h0m2 36h0m2-34.5h0m.5-14.5h0m.5 41h0m0-62.5h0m.5 38.5h0m.5-29.5h0m0 24.5h0m.5 3.5h0m.5 20h0m2.5-28.5h0m2.5 17h0m1-26h0m.5 36h0m1.5-21.5h0m.5-28h0m.5 1.5h0m1 42.5h0m0-12h0m.5-18.5h0m0-9.5h0m.5 13.5h0m3.5 6h0m1-19.5h0m1 9h0m.5 1.5h0m1.5 6h0m0 9h0m.5-14.5h0m1 6h0m2.5 2.5h0m8.5 6h0m20 15.5h0" stroke="#da9177" stroke-width="5.3" stroke-linecap="round"/><path d="M1640.5 1072.5h0m20 2.5h0m54.5 111h0m1.5 12h0m0-54.5h0m1 52.5h0m3.5 31h0m1.5-23.5h0m12.5 27.5h0m1.5-6.5h0m6.5 23.5h0m11-44.5h0m3 13.5h0m1-31h0m31 19h0" stroke="#e0886e" stroke-width="5.3" stroke-linecap="round"/><path d="M1580.5 1060.5h0m5-14.5h0m6.5 20.5h0m1-10h0m8 7.5h0m4-1h0m2-2.5h0m19.5 4.5h0m.5 3.5h0" stroke="#e38267" stroke-width="5.3" stroke-linecap="round"/><path d="M1579 1062h0m3-14.5h0m1 2.5h0m0 10h0m2 6.5h0m0-11h0m3 .5h0m1.5 9h0m.5-8h0m0 6h0m.5-12h0m2 14.5h0m0-2.5h0m2-4.5h0m2 3.5h0m.5-3.5h0m3.5-1h0m2 11h0m0-2.5h0m3-9.5h0m5.5 7.5h0m2-2h0m2-1.5h0m5 2.5h0m2 3h0m2.5 4.5h0m4 1h0m8-4.5h0m3.5 1.5h0" stroke="#e67b61" stroke-width="5.3" stroke-linecap="round"/><path d="M1585.5 1059.5h0m11-7h0m9 1.5h0m.5 12h0m16.5 5.5h0m7-4.5h0m6.5 4h0" stroke="#e9755a" stroke-width="5.3" stroke-linecap="round"/><path d="M1617 1103.5h0m6 7.5h0m1.5-3.5h0m3-23.5h0m.5 1h0m3 2.5h0m0-8h0m1.5-1.5h0m1.5-1h0m.5 3.5h0" stroke="#ee664b" stroke-width="5.3" stroke-linecap="round"/><path d="M1608 1116.5h0m2.5 4.5h0m1-8.5h0m1-4h0m3 2h0m2.5-10h0m.5 9.5h0m3-3h0m1-11.5h0m1.5 0h0m1.5-2.5h0m3.5 1.5h0" stroke="#ee5943" stroke-width="5.3" stroke-linecap="round"/><path d="M1599.5 1134.5h0m1.5 7h0m.5 4h0m2.5 3.5h0m.5-17.5h0m1.5 2.5h0m0-10h0m0 20.5h0m1.5-7.5h0m1 13.5h0m0-22.5h0m1.5-2.5h0m1 6h0m.5-8.5h0m0 31h0m4-16.5h0m2.5-22h0m0 6.5h0" stroke="#ee4b3a" stroke-width="5.3" stroke-linecap="round"/><path d="M1591 1149h0m3.5 21h0m.5-14.5h0m2 2h0m1-10.5h0m1.5 2.5h0m1 7h0m.5-25h0m4.5 29h0m2.5-4h0m1-3h0m1-12.5h0m3 10h0m.5-16.5h0m3 30.5h0m1.5-7h0m3.5 5.5h0" stroke="#ee3e31" stroke-width="5.3" stroke-linecap="round"/><path d="M1591.5 1176.5h0m.5-10h0m1 19h0m0-5.5h0m0-16.5h0m1.5 3h0m0 4.5h0m2 8h0m.5-37h0m1 23.5h0m0 5h0m.5 19h0m.5-9h0m0-3h0m.5-11h0m0 19h0m1 7h0m1-18.5h0m0-7.5h0m.5 24.5h0m2-6.5h0m2-19.5h0m.5 25h0m3-2.5h0m1-17.5h0m0-4h0m1 7.5h0m.5 9h0m0-11.5h0m.5-6h0m.5-19h0m.5 15h0m.5 7h0m.5-9h0m.5 16h0m0-20.5h0m2.5 17h0m1-9h0m1-2.5h0m1 13h0" stroke="#ee3128" stroke-width="5.3" stroke-linecap="round"/><path d="M1711.5 1183.5h0m4 50.5h0m1.5-44h0m4.5-6h0m3.5 12h0m1 8.5h0m1-11.5h0m0-25.5h0m1 20h0m1 26h0m2-23h0m2 54.5h0m0-83h0m3 25h0m0-5.5h0m1.5 26h0m0-39h0m1 24.5h0m2 22.5h0m3.5-22h0m3.5 14.5h0m1-10h0m.5-6.5h0m5.5 0h0m3.5-22h0m2 55h0m2-32.5h0m1-8.5h0m2.5-4h0m1.5 5h0m12-77h0m10-32.5h0m4-10h0m6-2.5h0m5 19h0m5.5-11.5h0m1-12.5h0m2 20.5h0m1-6.5h0m1 10h0m1.5 21.5h0m4-24.5h0m0 16h0m.5-29.5h0m0-21h0m4 57.5h0m1-11.5h0m3.5-3.5h0m4-28h0m1 16h0m5.5-8.5h0m2 35h0m.5-1h0m3.5-17.5h0m1 46h0m2-35h0m18.5 4.5h0m3.5 31.5h0" stroke="#b5b5b7" stroke-width="2.8" stroke-linecap="round"/><text x="1487.7" y="906.1" font-size="17.2" font-weight="bold" fill="#222">Metabolic dysfunction-associated Steatotic Liver Disease</text><text x="1911.6" y="994.2" font-size="17.2" font-weight="bold" fill="#111">MASLD</text><rect x="1911.6" y="1004.5" width="38.1" height="192.9" fill="url(#cbgrad)"/><path d="M1911.6 1145.3h7.6M1942.1 1145.3h7.6" stroke="#fff" stroke-width="1.27" opacity="0.8"/><path d="M1911.6 1087.4h7.6M1942.1 1087.4h7.6" stroke="#fff" stroke-width="1.27" opacity="0.8"/><path d="M1911.6 1029.6h7.6M1942.1 1029.6h7.6" stroke="#fff" stroke-width="1.27" opacity="0.8"/><text x="1958.4" y="1062.8" font-size="16.5" font-weight="bold" fill="#111">0.400</text><text x="1958.4" y="1120.8" font-size="16.5" font-weight="bold" fill="#111">0.300</text><text x="1958.4" y="1178.9" font-size="16.5" font-weight="bold" fill="#111">0.200</text><path d="M141.2 2226.8C590.6 2226.8 590.6 2226.6 1040.0 2226.6V2378.6C590.6 2378.6 590.6 2378.8 141.2 2378.8Z" fill="url(#gB7F7)" fill-opacity="0.27"/><path d="M141.2 1984.6C590.6 1984.6 590.6 1986.9 1040.0 1986.9V2078.5C590.6 2078.5 590.6 2076.2 141.2 2076.2Z" fill="url(#gB6F6)" fill-opacity="0.27"/><path d="M141.2 1474.7C590.6 1474.7 590.6 1473.2 1040.0 1473.2V1561.9C590.6 1561.9 590.6 1563.4 141.2 1563.4Z" fill="url(#gB1F1)" fill-opacity="0.27"/><path d="M141.2 1887.4C590.6 1887.4 590.6 1895.7 1040.0 1895.7V1951.7C590.6 1951.7 590.6 1943.4 141.2 1943.4Z" fill="url(#gB5F5)" fill-opacity="0.27"/><path d="M141.2 2140.2C590.6 2140.2 590.6 2078.5 1040.0 2078.5V2122.5C590.6 2122.5 590.6 2184.2 141.2 2184.2Z" fill="url(#gB7F6)" fill-opacity="0.27"/><path d="M141.2 1671.2C590.6 1671.2 590.6 1675.6 1040.0 1675.6V1703.6C590.6 1703.6 590.6 1699.2 141.2 1699.2Z" fill="url(#gB2F2)" fill-opacity="0.27"/><path d="M141.2 1699.2C590.6 1699.2 590.6 1846.7 1040.0 1846.7V1874.1C590.6 1874.1 590.6 1726.6 141.2 1726.6Z" fill="url(#gB2F5)" fill-opacity="0.27"/><path d="M141.2 1602.4C590.6 1602.4 590.6 2378.6 1040.0 2378.6V2404.6C590.6 2404.6 590.6 1628.4 141.2 1628.4Z" fill="url(#gB1F7)" fill-opacity="0.27"/><path d="M141.2 1959.6C590.6 1959.6 590.6 1561.9 1040.0 1561.9V1586.9C590.6 1586.9 590.6 1984.6 141.2 1984.6Z" fill="url(#gB6F1)" fill-opacity="0.27"/><path d="M141.2 1563.4C590.6 1563.4 590.6 1962.9 1040.0 1962.9V1986.9C590.6 1986.9 590.6 1587.4 141.2 1587.4Z" fill="url(#gB1F6)" fill-opacity="0.27"/><path d="M141.2 2076.2C590.6 2076.2 590.6 2166.6 1040.0 2166.6V2190.6C590.6 2190.6 590.6 2100.2 141.2 2100.2Z" fill="url(#gB6F7)" fill-opacity="0.27"/><path d="M141.2 2378.8C590.6 2378.8 590.6 1611.6 1040.0 1611.6V1633.6C590.6 1633.6 590.6 2400.8 141.2 2400.8Z" fill="url(#gB7F1)" fill-opacity="0.27"/><path d="M141.2 2205.2C590.6 2205.2 590.6 1874.1 1040.0 1874.1V1895.7C590.6 1895.7 590.6 2226.8 141.2 2226.8Z" fill="url(#gB7F5)" fill-opacity="0.27"/><path d="M141.2 2184.2C590.6 2184.2 590.6 2190.6 1040.0 2190.6V2211.6C590.6 2211.6 590.6 2205.2 141.2 2205.2Z" fill="url(#gB7F7a)" fill-opacity="0.27"/><path d="M141.2 1762.3C590.6 1762.3 590.6 1762.8 1040.0 1762.8V1781.8C590.6 1781.8 590.6 1781.3 141.2 1781.3Z" fill="url(#gB3F3)" fill-opacity="0.27"/><path d="M141.2 1647.5C590.6 1647.5 590.6 1586.9 1040.0 1586.9V1605.6C590.6 1605.6 590.6 1666.2 141.2 1666.2Z" fill="url(#gB2F1)" fill-opacity="0.27"/><path d="M141.2 1587.4C590.6 1587.4 590.6 1656.6 1040.0 1656.6V1671.6C590.6 1671.6 590.6 1602.4 141.2 1602.4Z" fill="url(#gB1F2)" fill-opacity="0.27"/><path d="M141.2 1846.6C590.6 1846.6 590.6 1704.9 1040.0 1704.9V1719.9C590.6 1719.9 590.6 1861.6 141.2 1861.6Z" fill="url(#gB5F2)" fill-opacity="0.27"/><path d="M141.2 1861.6C590.6 1861.6 590.6 2211.6 1040.0 2211.6V2226.6C590.6 2226.6 590.6 1876.6 141.2 1876.6Z" fill="url(#gB5F7)" fill-opacity="0.27"/><path d="M141.2 1799.6C590.6 1799.6 590.6 2154.6 1040.0 2154.6V2166.6C590.6 2166.6 590.6 1811.6 141.2 1811.6Z" fill="url(#gB4F7)" fill-opacity="0.27"/><path d="M141.2 1876.6C590.6 1876.6 590.6 2122.5 1040.0 2122.5V2133.3C590.6 2133.3 590.6 1887.4 141.2 1887.4Z" fill="url(#gB5F6)" fill-opacity="0.27"/><path d="M141.2 1754.3C590.6 1754.3 590.6 2404.6 1040.0 2404.6V2412.6C590.6 2412.6 590.6 1762.3 141.2 1762.3Z" fill="url(#gB3F7)" fill-opacity="0.27"/><path d="M141.2 1814.2C590.6 1814.2 590.6 1817.5 1040.0 1817.5V1825.5C590.6 1825.5 590.6 1822.2 141.2 1822.2Z" fill="url(#gB4F4)" fill-opacity="0.27"/><path d="M141.2 1744.3C590.6 1744.3 590.6 1605.6 1040.0 1605.6V1611.6C590.6 1611.6 590.6 1750.3 141.2 1750.3Z" fill="url(#gB3F1)" fill-opacity="0.27"/><path d="M141.2 2405.8C590.6 2405.8 590.6 1756.8 1040.0 1756.8V1762.8C590.6 1762.8 590.6 2411.8 141.2 2411.8Z" fill="url(#gB7F3)" fill-opacity="0.27"/><path d="M141.2 2100.2C590.6 2100.2 590.6 1719.9 1040.0 1719.9V1724.9C590.6 1724.9 590.6 2105.2 141.2 2105.2Z" fill="url(#gB6F2)" fill-opacity="0.27"/><path d="M141.2 2105.2C590.6 2105.2 590.6 1751.8 1040.0 1751.8V1756.8C590.6 1756.8 590.6 2110.2 141.2 2110.2Z" fill="url(#gB6F3)" fill-opacity="0.27"/><path d="M141.2 2400.8C590.6 2400.8 590.6 1724.9 1040.0 1724.9V1729.9C590.6 1729.9 590.6 2405.8 141.2 2405.8Z" fill="url(#gB7F2)" fill-opacity="0.27"/><path d="M141.2 2411.8C590.6 2411.8 590.6 1812.5 1040.0 1812.5V1817.5C590.6 1817.5 590.6 2416.8 141.2 2416.8Z" fill="url(#gB7F4)" fill-opacity="0.27"/><path d="M141.2 2110.2C590.6 2110.2 590.6 1807.7 1040.0 1807.7V1812.5C590.6 1812.5 590.6 2115.0 141.2 2115.0Z" fill="url(#gB6F4)" fill-opacity="0.27"/><path d="M141.2 1726.6C590.6 1726.6 590.6 2133.3 1040.0 2133.3V2137.8C590.6 2137.8 590.6 1731.1 141.2 1731.1Z" fill="url(#gB2F6)" fill-opacity="0.27"/><path d="M141.2 1750.3C590.6 1750.3 590.6 1671.6 1040.0 1671.6V1675.6C590.6 1675.6 590.6 1754.3 141.2 1754.3Z" fill="url(#gB3F2)" fill-opacity="0.27"/><path d="M141.2 1628.4C590.6 1628.4 590.6 1744.5 1040.0 1744.5V1747.5C590.6 1747.5 590.6 1631.4 141.2 1631.4Z" fill="url(#gB1F3)" fill-opacity="0.27"/><path d="M141.2 1666.2C590.6 1666.2 590.6 1747.5 1040.0 1747.5V1750.5C590.6 1750.5 590.6 1669.2 141.2 1669.2Z" fill="url(#gB2F3)" fill-opacity="0.27"/><path d="M141.2 1631.4C590.6 1631.4 590.6 1801.4 1040.0 1801.4V1803.7C590.6 1803.7 590.6 1633.7 141.2 1633.7Z" fill="url(#gB1F4)" fill-opacity="0.27"/><path d="M141.2 1669.2C590.6 1669.2 590.6 1803.7 1040.0 1803.7V1805.7C590.6 1805.7 590.6 1671.2 141.2 1671.2Z" fill="url(#gB2F4)" fill-opacity="0.27"/><path d="M141.2 1781.3C590.6 1781.3 590.6 1805.7 1040.0 1805.7V1807.7C590.6 1807.7 590.6 1783.3 141.2 1783.3Z" fill="url(#gB3F4)" fill-opacity="0.27"/><path d="M141.2 1811.6C590.6 1811.6 590.6 1703.6 1040.0 1703.6V1704.9C590.6 1704.9 590.6 1812.9 141.2 1812.9Z" fill="url(#gB4F2)" fill-opacity="0.27"/><path d="M141.2 1812.9C590.6 1812.9 590.6 1750.5 1040.0 1750.5V1751.8C590.6 1751.8 590.6 1814.2 141.2 1814.2Z" fill="url(#gB4F3)" fill-opacity="0.27"/><rect x="122.8" y="1474.7" width="18.4" height="159.0" fill="#5fb0c6"/><rect x="122.8" y="1647.5" width="18.4" height="83.6" fill="#e0be6c"/><rect x="122.8" y="1744.3" width="18.4" height="41.4" fill="#6b9a90"/><rect x="122.8" y="1799.6" width="18.4" height="27.6" fill="#5675b0"/><rect x="122.8" y="1846.6" width="18.4" height="96.8" fill="#eea66a"/><rect x="122.8" y="1959.6" width="18.4" height="161.8" fill="#5db3c5"/><rect x="122.8" y="2140.2" width="18.4" height="278.3" fill="#cc77b5"/><rect x="1040.0" y="1473.2" width="18.0" height="170.6" fill="#4fa59e"/><rect x="1040.0" y="1656.6" width="18.0" height="74.8" fill="#c4be6a"/><rect x="1040.0" y="1744.5" width="18.0" height="40.1" fill="#6e9a9e"/><rect x="1040.0" y="1801.4" width="18.0" height="23.8" fill="#4f6dbb"/><rect x="1040.0" y="1846.7" width="18.0" height="105.1" fill="#ec8c60"/><rect x="1040.0" y="1962.9" width="18.0" height="178.7" fill="#4da58c"/><rect x="1040.0" y="2154.6" width="18.0" height="263.9" fill="#a56ab0"/><text x="146.5" y="1557.8" font-size="16" fill="#333" textLength="48.5" lengthAdjust="spacingAndGlyphs">baseline1</text><text x="146.5" y="1694.0" font-size="16" fill="#333" textLength="48.5" lengthAdjust="spacingAndGlyphs">baseline2</text><text x="146.5" y="1767.3" font-size="16" fill="#333" textLength="48.5" lengthAdjust="spacingAndGlyphs">baseline3</text><text x="146.5" y="1817.0" font-size="16" fill="#333" textLength="48.5" lengthAdjust="spacingAndGlyphs">baseline4</text><text x="146.5" y="1898.6" font-size="16" fill="#333" textLength="48.5" lengthAdjust="spacingAndGlyphs">baseline5</text><text x="146.5" y="2043.7" font-size="16" fill="#333" textLength="48.5" lengthAdjust="spacingAndGlyphs">baseline6</text><text x="146.5" y="2285.7" font-size="16" fill="#333" textLength="48.5" lengthAdjust="spacingAndGlyphs">baseline7</text><text x="1062.4" y="1561.6" font-size="16" fill="#333" textLength="52.5" lengthAdjust="spacingAndGlyphs">followup1</text><text x="1062.4" y="1697.4" font-size="16" fill="#333" textLength="52.5" lengthAdjust="spacingAndGlyphs">followup2</text><text x="1062.4" y="1767.3" font-size="16" fill="#333" textLength="52.5" lengthAdjust="spacingAndGlyphs">followup3</text><text x="1062.4" y="1817.0" font-size="16" fill="#333" textLength="52.5" lengthAdjust="spacingAndGlyphs">followup4</text><text x="1062.4" y="1903.4" font-size="16" fill="#333" textLength="52.5" lengthAdjust="spacingAndGlyphs">followup5</text><text x="1062.4" y="2055.5" font-size="16" fill="#333" textLength="52.5" lengthAdjust="spacingAndGlyphs">followup6</text><text x="1062.4" y="2291.9" font-size="16" fill="#333" textLength="52.5" lengthAdjust="spacingAndGlyphs">followup7</text><text x="49.6" y="1450.4" font-size="24" fill="#222">Baseline</text><text x="450.2" y="1445.2" font-size="24" fill="#222">After 5 years follow-up</text><text x="1000.2" y="1450.6" font-size="24" fill="#222">5 years follow-up</text><text x="67.4" y="1536.3" font-size="17.1" font-weight="bold" text-anchor="middle" fill="#222">Group 1</text><text x="69.4" y="1557.0" font-size="17.1" font-weight="bold" text-anchor="middle" fill="#222">n=272</text><text x="67.4" y="1662.8" font-size="17.1" font-weight="bold" text-anchor="middle" fill="#222">Group 2</text><text x="69.4" y="1683.5" font-size="17.1" font-weight="bold" text-anchor="middle" fill="#222">n=145</text><text x="70.0" y="1789.3" font-size="17.1" font-weight="bold" text-anchor="middle" fill="#222">Group 3</text><text x="72.0" y="1810.0" font-size="17.1" font-weight="bold" text-anchor="middle" fill="#222">n=72</text><text x="67.4" y="1916.5" font-size="17.1" font-weight="bold" text-anchor="middle" fill="#222">Group 4</text><text x="69.4" y="1937.2" font-size="17.1" font-weight="bold" text-anchor="middle" fill="#222">n=49</text><text x="74.0" y="2042.3" font-size="17.1" font-weight="bold" text-anchor="middle" fill="#222">Group 5</text><text x="76.0" y="2063.0" font-size="17.1" font-weight="bold" text-anchor="middle" fill="#222">n=168</text><text x="74.0" y="2168.8" font-size="17.1" font-weight="bold" text-anchor="middle" fill="#222">Group 6</text><text x="76.0" y="2189.5" font-size="17.1" font-weight="bold" text-anchor="middle" fill="#222">n=277</text><text x="74.0" y="2295.3" font-size="17.1" font-weight="bold" text-anchor="middle" fill="#222">Group 7</text><text x="76.0" y="2316.0" font-size="17.1" font-weight="bold" text-anchor="middle" fill="#222">n=489</text><text x="1174.0" y="1536.7" font-size="17.1" font-weight="bold" text-anchor="middle" fill="#222">Group 1</text><text x="1176.5" y="1557.4" font-size="17.1" font-weight="bold" text-anchor="middle" fill="#222">n=215</text><text x="1174.0" y="1662.8" font-size="17.1" font-weight="bold" text-anchor="middle" fill="#222">Group 2</text><text x="1176.5" y="1683.5" font-size="17.1" font-weight="bold" text-anchor="middle" fill="#222">n=129</text><text x="1174.0" y="1789.3" font-size="17.1" font-weight="bold" text-anchor="middle" fill="#222">Group 3</text><text x="1176.5" y="1810.0" font-size="17.1" font-weight="bold" text-anchor="middle" fill="#222">n=68</text><text x="1174.0" y="1916.5" font-size="17.1" font-weight="bold" text-anchor="middle" fill="#222">Group 4</text><text x="1176.5" y="1937.2" font-size="17.1" font-weight="bold" text-anchor="middle" fill="#222">n=41</text><text x="1174.0" y="2042.3" font-size="17.1" font-weight="bold" text-anchor="middle" fill="#222">Group 5</text><text x="1176.5" y="2063.0" font-size="17.1" font-weight="bold" text-anchor="middle" fill="#222">n=181</text><text x="1174.0" y="2168.8" font-size="17.1" font-weight="bold" text-anchor="middle" fill="#222">Group 6</text><text x="1176.5" y="2189.5" font-size="17.1" font-weight="bold" text-anchor="middle" fill="#222">n=305</text><text x="1174.0" y="2295.3" font-size="17.1" font-weight="bold" text-anchor="middle" fill="#222">Group 7</text><text x="1176.5" y="2316.0" font-size="17.1" font-weight="bold" text-anchor="middle" fill="#222">n=455</text><path d="M1393.0 1490.9V1913.7M1501.1 1490.9V1913.7M1609.2 1490.9V1913.7M1717.3 1490.9V1913.7M1825.4 1490.9V1913.7M1933.5 1490.9V1913.7M1318.4 1908.2H1947.6M1318.4 1865.4H1947.6M1318.4 1822.5H1947.6M1318.4 1779.7H1947.6M1318.4 1736.8H1947.6M1318.4 1694.0H1947.6M1318.4 1651.2H1947.6M1318.4 1608.3H1947.6M1318.4 1565.5H1947.6M1318.4 1522.6H1947.6" stroke="#ebebeb" stroke-width="1.0" fill="none"/><text x="1501.1" y="1924.4" font-size="8" text-anchor="middle" fill="#333">0</text><text x="1717.3" y="1924.4" font-size="8" text-anchor="middle" fill="#333">1</text><text x="1933.5" y="1924.4" font-size="8" text-anchor="middle" fill="#333">2</text><text x="1315.9" y="1525.5" font-size="8" text-anchor="end" fill="#333">1.0</text><text x="1315.9" y="1611.2" font-size="8" text-anchor="end" fill="#333">0.5</text><text x="1315.9" y="1696.9" font-size="8" text-anchor="end" fill="#333">0.0</text><text x="1315.9" y="1782.6" font-size="8" text-anchor="end" fill="#333">−0.5</text><text x="1315.9" y="1868.3" font-size="8" text-anchor="end" fill="#333">−1.0</text><text x="1633.0" y="1942.0" font-size="16.3" font-weight="bold" text-anchor="middle">Dimension 1</text><text transform="translate(1291.0,1702.3) rotate(-90)" font-size="16.3" text-anchor="middle" font-weight="bold">Dimension 2</text><path d="M1336.5 1662.5h0m2 5.5h0m.5-8h0m0 4.5h0m0 3.5h0m3-11h0m.5 10h0m1-5h0m0 12h0m.5-5h0m.5-10.5h0m.5 7h0m0 8h0m.5-18h0m1 16h0m.5-3.5h0m.5-7.5h0m0 4h0m0-7h0m.5 17h0m.5-5h0m0-13.5h0m0 6h0m.5 5.5h0m2-14h0m0 11.5h0m0-3.5h0m.5-9.5h0m0 21h0m.5 4.5h0m.5-18.5h0m.5 16h0m.5-21h0m0 16.5h0m1.5 7.5h0m0-19.5h0m0 4h0m1-9.5h0m0 19.5h0m.5-5.5h0m0-2.5h0m1.5-6.5h0m0 21.5h0m0-9.5h0m.5 5.5h0m.5-8.5h0m.5-7h0m0-8h0m0 9.5h0m.5-6h0m0 21h0m1-5h0m.5-8h0m.5 5.5h0m0-15h0m0 6h0m0 134h0m0-119.5h0m.5 105h0m0 9.5h0m0-5.5h0m0 27h0m.5-9.5h0m0 10.5h0m0-25.5h0m0-133h0m.5 144.5h0m0-129h0m.5 1h0m0 134.5h0m0-142h0m.5 129.5h0m.5 24.5h0m0-138.5h0m0 128.5h0m0-133.5h0m0-15.5h0m0 117.5h0m.5-2h0m0 7h0m.5-106h0m0 110h0m0 38h0m0-8h0m.5-37h0m0-96.5h0m0 106.5h0m0 19h0m.5-148h0m0 140h0m0-3h0m0-130h0m0-9.5h0m0 137h0m0-3.5h0m.5-19.5h0m0 6.5h0m0 34h0m.5-25.5h0m0-124.5h0m0 138h0m0-145h0m0 19h0m0 130.5h0m.5-34.5h0m0-99.5h0m0 103h0m0 47.5h0m.5-11.5h0m0-29.5h0m0 40h0m.5-34.5h0m0-120h0m0 147.5h0m.5-151.5h0m0 165.5h0m0-36.5h0m0-108.5h0m0 94.5h0m0 26.5h0m0-131.5h0m.5 134h0m0-19.5h0m0 37h0m.5 4.5h0m0-16.5h0m0-14h0m.5-28h0m0-88.5h0m.5 142.5h0m0-164h0m0 8h0m0 114.5h0m0-125.5h0m0 115h0m.5 13h0m.5-107h0m0-12.5h0m0 152.5h0m0-9h0m.5 6.5h0m0-153h0m0 162h0m0-28.5h0m.5-120h0m0 130h0m0 14h0m0-20h0m0-25h0m0 33.5h0m0-139h0m0 120.5h0m0-10.5h0m.5 48.5h0m0-149h0m0 105h0m0-115.5h0m.5 4h0m0 150.5h0m.5-165.5h0m0 115h0m0 14.5h0m.5-107h0m0 138.5h0m0-27.5h0m0 6h0m.5 6h0m0-12.5h0m0-13h0m0 52.5h0m.5-62h0m0-93h0m.5-5h0m0 96.5h0m.5 61h0m0-12h0m0 4.5h0m0-152h0m0 145h0m0-27h0m.5-127h0m0 21h0m0 97h0m.5-8h0m0 56h0m0-49h0m.5 29h0m0-8h0m0-119h0m0 95h0m0 27h0m.5-15.5h0m0 11h0m0 8.5h0m0-15.5h0m0-26h0m0 18h0m.5 29.5h0m0-145.5h0m.5 148h0m0-149h0m0 159.5h0m0-15h0m0-41h0m0 4h0m.5 22h0m0 24.5h0m0-143.5h0m.5 132.5h0m0-131.5h0m0 134.5h0m0 21h0m0-16.5h0m0-33h0m0-21.5h0m.5 60.5h0m0-29h0m.5 5h0m0-21h0m0-109.5h0m0-5h0m0 124h0m0-104h0m.5 85.5h0m.5 11.5h0m0-110h0m0 150.5h0m0-18h0m0-32.5h0m.5-9.5h0m0-5.5h0m0 10h0m0-99.5h0m0 148.5h0m0-139h0m.5-2.5h0m0 113h0m0-10h0m.5-92h0m0 122h0m0-9.5h0m0 19h0m0 10.5h0m0-14.5h0m.5 17h0m0-143.5h0m0 145.5h0m0-51.5h0m.5 50.5h0m0-27.5h0m0-26.5h0m.5-96.5h0m0 112h0m0-115.5h0m0 83h0m0-77.5h0m0 127.5h0m0-35.5h0m.5-19.5h0m0 49.5h0m0 18h0m0-29h0m0-28.5h0m0-7h0m0-70h0m0 102.5h0m.5-24.5h0m0-95h0m0 128h0m0 25.5h0m0-37.5h0m0 13.5h0m0-48h0m.5 66h0m0-35h0m0-110.5h0m0 134h0m.5-14.5h0m0-23.5h0m0 63.5h0m0-18h0m0-139.5h0m0 152.5h0m0-25h0m.5-120h0m0 90.5h0m0 37h0m1-28h0m0 27.5h0m0 7.5h0m0-37h0m0-101h0m.5-4h0m0 88.5h0m0-78h0m0 119.5h0m.5-5.5h0m0-29h0m0 4.5h0m0-25h0m0 37h0m0 3h0m0-119.5h0m0 88.5h0m0-4h0m0 30h0m0 22h0m.5 13.5h0m0-55h0m.5 17h0m0 47.5h0m.5-32h0m0 29h0m0-9h0m0-44h0m0 58.5h0m0-37.5h0m0 30.5h0m.5-58h0m0 9h0m0-89.5h0m.5 65h0m0-79h0m0 119.5h0m0-34.5h0m0 64h0m0-79.5h0m.5 69h0m0-135h0m0 86.5h0m0 46h0m.5-125h0m0-1.5h0m0 86.5h0m.5 33.5h0m0-7.5h0m0-48h0m0 58h0m0-45.5h0m0 40.5h0m.5-59.5h0m.5-66h0m0 153h0m0-82h0m0 4h0m0 74.5h0m0-10.5h0m.5-21.5h0m0 37.5h0m0-23h0m0-31.5h0m0-19.5h0m0 60.5h0m0-52h0m.5-83h0m0 104.5h0m0-108h0m0 112.5h0m0 30.5h0m0-142h0m0 99h0m.5-25.5h0m0 13h0m.5-77h0m0 114h0m0-37h0m0 18.5h0m0 11h0m.5-41h0m0 58.5h0m0-69.5h0m.5 30h0m0 9h0m0 16.5h0m0-122.5h0m0 112.5h0m.5-19h0m0 11h0m0 30.5h0m0 10.5h0m0-73.5h0m0-67h0m0 90h0m.5-13.5h0m0 57.5h0m0-132h0m0 141h0m0-74h0m0 10h0m0-71h0m0 87h0m.5-36h0m0 45.5h0m0 45h0m0-24.5h0m.5-38h0m0-34h0m0 63h0m0-63h0m0 87.5h0m.5-19.5h0m0-12h0m0 2h0m0-54.5h0m0 6.5h0m.5 78.5h0m0-145h0m0 135h0m0-5h0m0-122h0m0 87h0m0-84.5h0m.5 99h0m0-45h0m0 85.5h0m0-7.5h0m0-37h0m0-30.5h0m.5 50h0m0-127.5h0m0 82.5h0m0 20h0m0-29.5h0m.5 16h0m0 53.5h0m0 8h0m0-91.5h0m0-3.5h0m.5 85.5h0m0-51.5h0m0 14.5h0m0 27h0m.5-5h0m0-40.5h0m0-10h0m0 4.5h0m0 21.5h0m0-91h0m.5 58.5h0m0-2.5h0m.5 74.5h0m0-46.5h0m0 49h0m0-23.5h0m0-17h0m0 21.5h0m.5-119h0m0 104.5h0m0 6.5h0m0 11h0m0-64.5h0m0 73h0m0-53h0m.5 31h0m.5 26.5h0m0-52.5h0m0-30.5h0m0 20h0m0 30.5h0m0-96h0m0 82h0m.5-21.5h0m0 60h0m0 15h0m0-95.5h0m0 66.5h0m0-115.5h0m0 78h0m.5-73h0m0 142h0m0-25h0m0-34h0m0-81.5h0m0 86.5h0m.5-26.5h0m0 41h0m0 5h0m0-55h0m0 15.5h0m.5-7.5h0m0 75h0m.5-77h0m0-10.5h0m0 65h0m0-43h0m0-73.5h0m.5 133h0m0-2.5h0m0-3.5h0m0-116.5h0m.5 93h0m0-59.5h0m0 38h0m0-33.5h0m.5 90h0m0-130.5h0m0 106h0m.5-110h0m0 106h0m0-54h0m.5 22.5h0m0 50h0m0-74.5h0m0 9h0m.5-63h0m0 69.5h0m0 53h0m.5 14h0m0-79h0m0-5h0m0 62.5h0m0-113.5h0m.5 116.5h0m0-8.5h0m0 21.5h0m0-55h0m0 50h0m0-6.5h0m.5-114.5h0m0 41.5h0m0-5.5h0m.5 8.5h0m0-38.5h0m0-6h0m.5 48h0m0 7h0m0 58h0m0 16h0m.5-62.5h0m0 1.5h0m.5-63.5h0m0 56h0m.5 58h0m0 5h0m0-70.5h0m.5 10h0m.5-29h0m0 24.5h0m0-20.5h0m.5 78h0m0-67h0m0 77h0m.5-120.5h0m0 115h0m.5-74.5h0m0-5.5h0m0-9.5h0m0 29h0m.5-64h0m0-.5h0m0 39.5h0m0 15.5h0m0 2h0m.5-44.5h0m0-6.5h0m0 55h0m0-13h0m0 74.5h0m.5-114h0m.5-5h0m0 40h0m0-3h0m.5-3.5h0m1 1h0m0-26.5h0m.5 34.5h0m0 10.5h0m0-51.5h0m.5 48.5h0m0-6h0m.5 2.5h0m.5-41.5h0m0 4.5h0m.5-9.5h0m0 40h0m.5-13.5h0m0 7.5h0m.5 13h0m0-40h0m0 22h0m.5 8h0m.5-34h0m.5 39.5h0m.5-11h0m0-22h0m0 21h0m1.5-31h0m0 25.5h0m0 14h0m.5-18h0m.5 14h0m0-15h0m.5-15h0m.5 27h0m0 8.5h0m0-4.5h0m.5-29h0m0 32.5h0m.5-23h0m0 13h0m.5-2h0m0-25.5h0m.5 23h0m0 9h0m.5-25h0m.5 5.5h0m.5-10h0m1 14.5h0m0 13h0m.5-9.5h0m.5-20h0m0 4h0m0 20h0m0-15h0m1 18h0m0-13h0m0-11h0m1 13h0m0-8h0m1 5h0m.5-4h0m0 11h0m0-20h0m.5 25h0m1-2.5h0m0-9.5h0m1-8h0m0 1h0m.5 10.5h0m.5-16.5h0m0 2.5h0m0 9h0m2.5-6.5h0m0 7h0m0 2h0m.5-3.5h0m0-4h0m1.5-5.5h0m.5 3.5h0m1.5 5.5h0m1.5-3.5h0m0-5h0m2.5-1.5h0m.5 9.5h0m1-6.5h0m.5 1h0m.5 2.5h0m1.5 3h0m1.5-5.5h0m.5-2.5h0m1 5h0m.5-99h0m0 1.5h0m0-7.5h0m.5 29h0m.5-10.5h0m0-6.5h0m.5 30h0m0 60.5h0m0-69.5h0m0-34.5h0m0 24.5h0m.5 84.5h0m.5-102.5h0m0 58h0m0-4h0m.5-23h0m0-11.5h0m0 14h0m0-47.5h0m.5 50h0m0 41.5h0m0-9h0m0-41.5h0m.5 27h0m0 8h0m0-12h0m0-35.5h0m0 9.5h0m0 76.5h0m0-101.5h0m.5 6h0m0 81h0m0-76h0m0 69h0m0 3.5h0m.5 15h0m0-36.5h0m0-8h0m0-63h0m0 53.5h0m0 46.5h0m0-49.5h0m.5 62.5h0m0-15.5h0m0-90.5h0m0 48.5h0m0-63h0m0 91h0m0 8.5h0m0-54.5h0m0 4.5h0m.5 61.5h0m0-95h0m0-11h0m0 108.5h0m.5-38h0m0-50h0m.5-6h0m0 88.5h0m0 4.5h0m.5-90.5h0m0 25h0m0 18.5h0m0 18.5h0m0-65.5h0m0 55h0m0-78.5h0m0 9.5h0m0 39h0m.5-8h0m0 22.5h0m0 30h0m0-10h0m0-84.5h0m0 34.5h0m.5 55h0m0-15h0m0-60h0m0 42.5h0m0-19.5h0m0 87h0m.5-61.5h0m0 36.5h0m0-3h0m0-92h0m0 40h0m0 57h0m.5-64h0m0-20.5h0m0 46h0m0 6.5h0m0 38.5h0m.5-4h0m0-27h0m0-64h0m0 10.5h0m0 28h0m0 7.5h0m0 53.5h0m.5-80h0m0 94.5h0m0-87.5h0m0-20.5h0m0 8h0m0-30.5h0m0-2.5h0m0 13.5h0m0 98.5h0m0-25.5h0m.5-64h0m0 41.5h0m0 63.5h0m0-87.5h0m0 84.5h0m0-26.5h0m0-46h0m0 21.5h0m.5 48h0m0-73.5h0m.5 44h0m0-32h0m0 36h0m0-90h0m0 69h0m0 17h0m.5-76.5h0m0 98.5h0m0 11.5h0m0 5h0m0-122.5h0m0 70.5h0m.5 22h0m0-28h0m0-41.5h0m0 79.5h0m0-99.5h0m0 43.5h0m0 38.5h0m0-72h0m0 92h0m0-78.5h0m0-8.5h0m.5 44.5h0m.5-24.5h0m0-24h0m0 86h0m0-24.5h0m0 44h0m0-47.5h0m0-51.5h0m.5 77h0m0-7.5h0m0-101h0m.5 54h0m0-43.5h0m0 61h0m0 50h0m0-60h0m0 31.5h0m0-57.5h0m0-14.5h0m0 45h0m.5-50.5h0m0 35h0m0-2.5h0m0 42.5h0m0-1h0m0-83.5h0m0 73h0m.5-23.5h0m0-22.5h0m0 9h0m0 84h0m.5-80.5h0m0-47h0m.5 60.5h0m0-41.5h0m.5 37h0m0 75h0m0-127h0m.5 26h0m0 14.5h0m0-41.5h0m.5 132.5h0m0-98.5h0m0 4h0m0-15h0m0-13h0m.5-3h0m0 115h0m0-78h0m0-46.5h0m0 16.5h0m0 25.5h0m0-28h0m0 7h0m.5-23h0m.5 132.5h0m0-103h0m0 3.5h0m0-7h0m.5 9.5h0m.5-18.5h0m0-8h0m0 126.5h0m0-4.5h0m0-126h0m1 124.5h0m.5-130h0m0 134h0m.5-5h0m0-120h0m0 12.5h0m0 13.5h0m0-21h0m.5-1.5h0m0 19h0m0-6.5h0m1-6.5h0m0 19h0m.5-21h0m.5-11.5h0m0 28h0m.5 93.5h0m0-98h0m.5-6h0m0 7h0m0-23h0m0 5.5h0m0 120.5h0m.5-130h0m.5 17.5h0m.5 108.5h0m0-116h0m0-1.5h0m0 123.5h0m.5 1h0m0-111h0m.5-25h0m0 5h0m.5 24h0m0-14h0m.5 9h0m0-25.5h0m0 140h0m.5-10.5h0m.5-110.5h0m0-15.5h0m0 141h0m0-3h0m0-7.5h0m0-104.5h0m.5-32.5h0m.5 29.5h0m.5-16.5h0m0 5.5h0m0 5.5h0m.5-14h0m.5-4.5h0m0 134h0m0 10.5h0m.5-136h0m.5 130h0m1-141.5h0m0 132.5h0m0-112h0m0-14.5h0m.5 133h0m0 5h0m0-9.5h0m.5-131.5h0m0 22h0m.5-10h0m0-5.5h0m0-14h0m.5 2h0m0 24h0m.5 110.5h0m0-114.5h0m0 9h0m0-19h0m.5 122.5h0m0-130.5h0m0 137.5h0m0 4.5h0m.5 5h0m.5-135h0m0 132h0m0-8.5h0m.5-132.5h0m.5 1.5h0m0-8.5h0m.5 23.5h0m.5-10h0m0 16.5h0m0 106.5h0m0 16.5h0m0-142h0m.5 137.5h0m0-6h0m0-123.5h0m.5 139h0m.5-137h0m0-1.5h0m0-18h0m0 146.5h0m.5-131.5h0m0 135h0m0-10.5h0m0-114.5h0m1 133h0m0-161h0m0 137h0m.5-122h0m0-4h0m0 15h0m.5-19.5h0m0 151h0m0-5.5h0m0-155h0m0 149.5h0m0-118.5h0m0 113h0m1 14.5h0m.5-5.5h0m0-127h0m.5-15h0m0 130h0m0-6h0m0-130.5h0m.5 24.5h0m0 117h0m0-129h0m.5 134h0m0-129.5h0m0 2.5h0m.5-6.5h0m0 146h0m0-155h0m0 4h0m.5 127h0m0 4.5h0m0-129h0m0 10h0m.5 122.5h0m0-12.5h0m0 .5h0m.5 23h0m0-147h0m0 145h0m0-150h0m.5 160h0m0-21.5h0m0-19h0m0-105.5h0m0 110.5h0m.5 18.5h0m.5 8.5h0m0-148.5h0m.5 20.5h0m0 133.5h0m0-134h0m.5 132h0m0-13h0m0-7h0m.5-8.5h0m0-4.5h0m0 26h0m.5-128.5h0m0-22h0m0 8.5h0m.5 125h0m0-121.5h0m.5 8.5h0m0-32.5h0m0-10.5h0m0 186.5h0m0-44.5h0m0-105.5h0m.5 153h0m0-140h0m0 113.5h0m0-103h0m.5 119.5h0m0-4.5h0m0-29.5h0m0 9h0m0-16.5h0m.5 1h0m0 26h0m0-7.5h0m0-8h0m0 19.5h0m0 7h0m.5 8h0m0-152h0m0 116h0m0-100.5h0m0-22.5h0m.5 4.5h0m.5 126.5h0m0-133.5h0m0 119.5h0m0 9.5h0m.5 28.5h0m0-139h0m0-4.5h0m0 26h0m.5 110.5h0m0-116h0m0-14h0m.5 140h0m0-144.5h0m0-2.5h0m0 98.5h0m0 13h0m0 39.5h0m.5-20.5h0m0 15.5h0m0-132.5h0m0-36h0m0 42h0m.5-11.5h0m0 15h0m0 95h0m0-127.5h0m0 2.5h0m0 129.5h0m0-133h0m.5 149.5h0m0-35.5h0m.5 30h0m0 21.5h0m0 1h0m0-132.5h0m.5 128h0m0-50.5h0m.5 31h0m0 4h0m0 9.5h0m0-139h0m0 101.5h0m.5-121.5h0m.5 154.5h0m0 17.5h0m0-168h0m0 125.5h0m.5-105.5h0m0 134h0m0-127h0m0 117h0m0-106.5h0m0-6.5h0m0 82.5h0m0-110.5h0m0 7h0m.5 118h0m0-102h0m0 98h0m0-8.5h0m0 2h0m.5 4.5h0m0-16.5h0m0-2h0m0-91h0m0-7h0m0 12h0m0-10.5h0m0 26h0m0 118h0m0-169h0m0 32h0m.5 149h0m0-164h0m0 109h0m0-78h0m0-5.5h0m.5 134.5h0m0-136h0m0 12h0m0 126h0m0 4.5h0m.5-60h0m0-86h0m0 91.5h0m0 58.5h0m.5-20.5h0m.5-48h0m0 19.5h0m.5-120h0m0 146.5h0m.5 9.5h0m0-41h0m0-110.5h0m0 4h0m0 1h0m0 143.5h0m.5-137h0m0-38h0m0 58h0m0 112.5h0m0-115h0m0-36h0m0 113.5h0m.5-7.5h0m0 3.5h0m0 5h0m0-116h0m0 104h0m0-77h0m.5 93h0m0 7h0m0-110h0m0 15h0m0 134.5h0m.5 4.5h0m0-68.5h0m0-98h0m0 156h0m.5-127h0m0-27.5h0m0-6h0m.5 9.5h0m0 29.5h0m.5-16h0m0 135h0m0-141.5h0m0 91.5h0m0 15.5h0m0 51h0m0-155.5h0m.5-4.5h0m0 154.5h0m0-15h0m.5 8.5h0m0-134h0m0 90.5h0m0 45.5h0m.5-162.5h0m0 105h0m.5 50.5h0m0-151h0m0 31h0m.5 78.5h0m0 5h0m0 56h0m0-66.5h0m0 44h0m0-41h0m.5-82.5h0m0-26h0m0 165.5h0m0-4.5h0m0-7h0m0-57.5h0m0-92h0m.5 16h0m0-12.5h0m0 92.5h0m0-83.5h0m.5 7h0m0-17h0m0 157h0m0-4h0m.5 9.5h0m0-157.5h0m0 161h0m0-208.5h0m0 207.5h0m.5-57.5h0m0-16h0m0-68.5h0m0-16h0m0 89.5h0m.5 57.5h0m0-141.5h0m0 2h0m.5 80.5h0m0 5h0m0-106h0m0 6h0m1.5 105h0m0 52.5h0m0 4.5h0m0-74h0m0-118h0m0 32.5h0m0 148h0m.5-141.5h0m0-2.5h0m0 13.5h0m.5 124h0m0-126.5h0m0 76h0m0 12h0m0 47.5h0m.5 15.5h0m0-22.5h0m0 11.5h0m0-55.5h0m0-78.5h0m.5 72.5h0m0-84h0m0 86.5h0m0 5.5h0m.5-107.5h0m0 26.5h0m0-8.5h0m.5 152h0m0-172h0m0 169.5h0m.5-74.5h0m0 64h0m0-9.5h0m0-144.5h0m0 10h0m.5 137.5h0m0-123h0m0 71.5h0m0 66h0m0-4h0m.5-55h0m.5-84h0m0 79.5h0m.5-81h0m0-5h0m0-8.5h0m0 147h0m.5-145h0m.5 17h0m0 142h0m0-59.5h0m0-13h0m.5-89.5h0m0-2.5h0m0-3h0m.5 162h0m0-9.5h0m0 2.5h0m.5 15h0m0-153h0m0-5h0m0 9.5h0m0 139.5h0m.5 10.5h0m0-69h0m0-96h0m.5 91h0m0-92.5h0m1 99.5h0m0 53h0m0-62h0m.5-85.5h0m0 159h0m0-68.5h0m.5 67.5h0m0-17h0m0-134.5h0m0 139.5h0m.5-58.5h0m.5 6h0m1 56.5h0m0 3.5h0m0-64h0m.5 56.5h0m0-4h0m0-139.5h0m0 146h0m0 3.5h0m0 2.5h0m.5-156.5h0m0 165h0m0-66h0m0 52.5h0m1.5-150.5h0m0 96h0m.5-6h0m.5 71h0m.5-8h0m1-1.5h0m0-58.5h0m0-2.5h0m.5 66.5h0m.5 6h0m.5-15h0m.5 10.5h0m0-11.5h0m.5 13h0m.5 5.5h0m.5-7.5h0m0-9h0m1 5h0m0 10h0m1 3h0m0-7h0m0-10h0m1.5 5.5h0m1.5 8h0m.5-15h0m.5 23.5h0m0-4.5h0m0-8.5h0m.5 4.5h0m0 4h0m0-6.5h0m0 7.5h0m1-13.5h0m0-1h0m0-2h0m1.5 1h0m.5 3.5h0m0 17h0m.5-3h0m.5-12h0m.5 8h0m0-16.5h0m0 13h0m1.5-1.5h0m0-8.5h0m.5 26.5h0m0-3h0m1-15h0m0 7h0m.5 8h0m.5-3h0m.5-2h0m0-13h0m.5-7.5h0m0 119.5h0m0-89.5h0m1-26h0m.5 10.5h0m0 7.5h0m.5 10h0m0 90h0m.5-113.5h0m0 26.5h0m.5 81.5h0m0-119h0m.5 14h0m0 102h0m0-86h0m.5-24.5h0m0 30.5h0m0-13.5h0m0 89h0m0-99h0m.5 105.5h0m0-96.5h0m.5 105.5h0m0-102h0m0-7.5h0m.5 14.5h0m0-25h0m0 116h0m0-112.5h0m.5 31.5h0m0 73.5h0m.5-110h0m0 29.5h0m0 89h0m0-105h0m.5 21h0m0-37.5h0m.5 110h0m0-83h0m0 78h0m0 11.5h0m0 10.5h0m.5-96.5h0m0 89h0m0-93.5h0m0-26h0m0 15.5h0m0 109.5h0m.5-18.5h0m0-95.5h0m0 1h0m.5-8.5h0m.5 111h0m0-75.5h0m.5-17.5h0m0 20.5h0m0 4.5h0m0-2.5h0m0-18h0m.5 86.5h0m0-101.5h0m.5 25.5h0m0 92h0m0-94h0m0 8.5h0m0-40h0m.5 120h0m.5-5.5h0m0-11.5h0m0-84.5h0m.5 80h0m0 23.5h0m0-97h0m0 17h0m0-13h0m0 78h0m.5-4.5h0m0-56h0m0-44.5h0m.5 30h0m0 84.5h0m0 10.5h0m0-15.5h0m0-105.5h0m0 21.5h0m0 68.5h0m0-46.5h0m.5-27.5h0m0 7.5h0m0-25.5h0m0 2h0m0 29.5h0m.5-38.5h0m0 39h0m.5 77h0m0-67.5h0m.5-48.5h0m0 97.5h0m0-46h0m0 70.5h0m0-64.5h0m0 49.5h0m.5 4.5h0m0-84.5h0m.5 100h0m0-124.5h0m0 107.5h0m0-8h0m0-58.5h0m.5 11.5h0m.5 106.5h0m.5-42h0m0 6.5h0m0-91h0m0 26h0m0-56h0m.5 24.5h0m0-19h0m0 84.5h0m0 4.5h0m0-93h0m0 121h0m0-86.5h0m0 9h0m.5-4h0m.5 60h0m0-72.5h0m0 4h0m0 92.5h0m0 23.5h0m.5-86.5h0m.5-64.5h0m0 55.5h0m0 65h0m0-12.5h0m0 5h0m.5-75h0m0 51.5h0m0 22.5h0m0-70.5h0m0 87h0m0-83.5h0m0 69.5h0m0-65h0m.5 38h0m0-49.5h0m0 62h0m0-38h0m0-60.5h0m.5 59h0m0-13.5h0m0 58h0m.5 24h0m0-72h0m0 40.5h0m0-25h0m.5 36h0m0-112h0m0 95.5h0m0 2.5h0m0 10h0m.5-51.5h0m0 64h0m0-82h0m0 80.5h0m.5 6.5h0m0-72h0m0 16.5h0m0-1.5h0m0 16.5h0m.5 20.5h0m0-62h0m0 70h0m0 14h0m.5-53h0m0-11h0m0-53h0m0-10.5h0m0 123.5h0m0-46h0m.5-75.5h0m0 161.5h0m0-80h0m0-22h0m0-14h0m0 50h0m0-85h0m0 76h0m0 42h0m0-38.5h0m.5-83h0m0 95h0m0 40h0m0-138.5h0m0 60.5h0m0-7.5h0m0 74.5h0m.5-77h0m0-14.5h0m0 51h0m0-16.5h0m0-75h0m.5 84.5h0m0-73.5h0m0 57h0m0-17.5h0m.5-5.5h0m0 12h0m0 31h0m.5 36.5h0m0-30h0m0 21h0m0-72h0m0 55.5h0m0-17h0m.5 22h0m0-3h0m0 15h0m0-3h0m0 7h0m0-58.5h0m0-14h0m.5 47.5h0m0 15h0m.5-3h0m0-13h0m0 4.5h0m0-29h0m.5 62h0m0-79.5h0m0 21h0m0 50h0m.5 3h0m0 4.5h0m0-50h0m0-71.5h0m0-6.5h0m0 10.5h0m0 37h0m0-42h0m.5 132.5h0m.5-86.5h0m0 44h0m.5 16.5h0m0-37h0m0 42h0m0-44h0m0 9.5h0m0-20.5h0m.5-60.5h0m0 98.5h0m0-102.5h0m.5 80.5h0m0 95h0m0-57.5h0m0 45.5h0m0-112h0m0 8.5h0m0 30h0m0 35h0m0-12.5h0m0-54.5h0m.5 52h0m0-98h0m0 57.5h0m0 59h0m0-66h0m0 11h0m0 31h0m.5-16.5h0m0-6h0m0 49.5h0m0-24h0m.5 15h0m0-47.5h0m.5-7.5h0m0 61h0m0-121h0m0 90h0m0-36h0m.5 18h0m0 15h0m0-18h0m0-75h0m.5 91.5h0m0 40.5h0m0-29h0m0-33h0m.5-71.5h0m0 9h0m0 111h0m0-107h0m0 74.5h0m.5-88.5h0m0 111h0m0-10h0m0-15.5h0m0 4.5h0m.5-24h0m0-62.5h0m0 122.5h0m0-10h0m0-42.5h0m.5 20h0m0 29.5h0m.5-13.5h0m0-101.5h0m0-2.5h0m0 98h0m0 24h0m0-59h0m0 16h0m.5 28.5h0m0 53h0m0-50.5h0m0 20h0m0-57.5h0m.5 57h0m.5-125h0m0 88h0m0 35.5h0m0-132.5h0m0 63h0m.5 53.5h0m0-7h0m.5 20.5h0m0-55.5h0m0 29.5h0m0-38.5h0m0 18.5h0m.5 11h0m0-87.5h0m.5 83h0m0-21h0m0 49.5h0m0-113.5h0m0 119h0m.5-45.5h0m0 52.5h0m0-39h0m0 25.5h0m.5-17.5h0m0 22.5h0m0-55h0m0-55.5h0m0 59.5h0m.5-2.5h0m.5 18h0m0 39.5h0m0-20h0m0-10h0m0-19.5h0m.5 28h0m0 19.5h0m0-12.5h0m.5-11.5h0m0-22.5h0m0 3h0m.5-81.5h0m0 99.5h0m0 76h0m0-86h0m0-86.5h0m.5 105h0m0 21.5h0m0-44.5h0m0-79.5h0m0 129h0m0-36.5h0m0 21.5h0m.5-110.5h0m0 122.5h0m.5-28.5h0m0 12h0m0-22h0m0 19.5h0m0-3h0m.5 59h0m0-156.5h0m.5 107h0m0 7.5h0m0-44h0m0-79.5h0m0 3.5h0m.5 108.5h0m0-34h0m0-3h0m0 57h0m.5-12h0m0 35.5h0m0-70h0m0 6.5h0m0-1h0m0-82h0m0 93.5h0m.5 30.5h0m0 17h0m0-53h0m0-10h0m0 20h0m.5 7h0m0-116h0m0 119.5h0m.5 9.5h0m0-37h0m.5-12.5h0m0-75.5h0m0 5.5h0m0 73h0m0 19.5h0m.5 78.5h0m0-57h0m0 22h0m0-143.5h0m.5 118.5h0m.5-13.5h0m0-20h0m0 43.5h0m0-19h0m.5-101.5h0m.5-3h0m0 89.5h0m.5 41.5h0m0 14.5h0m0-153h0m0 90.5h0m.5 9.5h0m0 26h0m0 8.5h0m0-51h0m.5 26h0m0-104.5h0m.5 109h0m0 10.5h0m0-27.5h0m0-11.5h0m.5 45h0m0-8h0m0-120.5h0m0 145.5h0m0-68.5h0m0 27.5h0m0 13.5h0m0 14.5h0m.5-30h0m0 23h0m0-116h0m0-5h0m.5 105h0m0-31h0m.5 14h0m0-84.5h0m0 80.5h0m0 27.5h0m.5-29h0m0 28.5h0m0-119h0m0 134.5h0m.5-54h0m0 49.5h0m1-27h0m0 0h0m0 13h0m0-10h0m.5-10.5h0m0 56.5h0m0 0h0m0-146h0m0 79h0m.5 38h0m0-11.5h0m0-11h0m.5 35.5h0m0-9.5h0m.5-1h0m0-32.5h0m0-9.5h0m.5 14.5h0m0 18.5h0m0-28.5h0m0 44.5h0m0-18.5h0m0-110.5h0m0-2.5h0m.5 135.5h0m0-28h0m.5-100.5h0m0 77.5h0m0 4.5h0m.5 11.5h0m0 14h0m.5 5h0m0-10h0m0-99.5h0m0 107.5h0m0 18h0m.5-10h0m0-21.5h0m0 25.5h0m0-118.5h0m0 71.5h0m0-78.5h0m.5 91h0m0 9h0m.5 21.5h0m0-28h0m0 35h0m.5-125.5h0m0-9.5h0m0 115h0m0 25h0m0-14h0m.5 13h0m.5-132h0m0 6.5h0m0 72.5h0m0 2.5h0m0 20.5h0m0-11.5h0m0-94.5h0m0 138.5h0m0-39h0m0 15h0m.5-21.5h0m0-83.5h0m0 110.5h0m.5-119h0m0 126.5h0m0 5h0m.5-2h0m0-6h0m0-8.5h0m0-31.5h0m.5 76h0m.5-54h0m0-14.5h0m0-4h0m0 55.5h0m.5-34.5h0m0-107h0m0 99.5h0m0-90.5h0m.5 127h0m0-38h0m.5 84.5h0m0-52h0m0-11h0m0 17h0m0-33.5h0m.5-19h0m0-79h0m0 105h0m0 .5h0m.5-107h0m0-6.5h0m0 120.5h0m0-22.5h0m0-12.5h0m.5 3.5h0m0 36h0m0-16h0m0-98.5h0m0 127h0m0-1.5h0m.5-9.5h0m.5 4h0m0-36.5h0m0 13.5h0m0-104h0m.5 4.5h0m0 94.5h0m1 3h0m0 23.5h0m.5 4h0m0-42h0m0 21.5h0m.5-21h0m0-90.5h0m0 94.5h0m.5 3.5h0m0 7h0m0 16.5h0m0-34h0m.5 51.5h0m0-23h0m0-32h0m0 25h0m.5 6h0m0 23h0m0-13.5h0m0-5.5h0m.5 15h0m0-2.5h0m.5-16h0m0-13h0m.5-1.5h0m0 10h0m0-101.5h0m0-3.5h0m0 116h0m.5-16h0m0 42.5h0m.5-24h0m0-117.5h0m0 119.5h0m0-114.5h0m.5 83h0m0-98h0m0 8.5h0m.5 108h0m0 18h0m0-40h0m0-89h0m.5 87h0m0 8.5h0m0 54.5h0m0-143.5h0m0 77h0m.5 32.5h0m0-8.5h0m.5-109.5h0m.5 134.5h0m0-133h0m0 102h0m0 2.5h0m0 24h0m.5-31.5h0m0-102h0m0 128.5h0m.5-33h0m0 22h0m0-102.5h0m0-8.5h0m.5 83.5h0m0 43.5h0m0-131.5h0m0 98.5h0m.5 37.5h0m0 1h0m0-27h0m0-19.5h0m0 12.5h0m.5 32.5h0m0-31.5h0m0 19h0m0-115h0m.5 117.5h0m0-8h0m0-17.5h0m.5-89.5h0m.5 104h0m0-2.5h0m.5 20.5h0m0-37.5h0m.5-97.5h0m0 111h0m0 7.5h0m0 7.5h0m0-110.5h0m.5 74.5h0m0 5.5h0m0-92.5h0m0 97.5h0m0 16.5h0m.5-13.5h0m0 21h0m0-119h0m.5 6.5h0m0 121.5h0m0-40.5h0m0 20h0m.5-114h0m0 98h0m0-87h0m0 119.5h0m0-9h0m.5-25h0m.5 33h0m0 8h0m.5 0h0m0-120.5h0m0 109h0m0-10.5h0m.5-6.5h0m0-100.5h0m1 117.5h0m0 5h0m0-28h0m.5 3h0m0 4h0m0 2.5h0m0-108.5h0m0 9.5h0m.5-1.5h0m0-6h0m0 96h0m0-99h0m1 96.5h0m0-100.5h0m0 104h0m0-9h0m.5-85.5h0m0 98h0m.5 17h0m0 11h0m0-15.5h0m0-102.5h0m.5 97.5h0m0 14.5h0m.5-3.5h0m0 12h0m0-26h0m.5 27.5h0m0-7.5h0m0 31h0m0-150.5h0m0-4.5h0m.5 105h0m.5-113h0m0 5h0m0 10h0m.5 103h0m0 4.5h0m0-14h0m0-105.5h0m0 126h0m.5 6.5h0m.5-38h0m.5 4.5h0m0-82.5h0m0-10h0m0-2.5h0m0 97.5h0m0-3.5h0m0 18h0m.5 17h0m0-134h0m.5 10.5h0m0 112.5h0m.5-27h0m.5 20.5h0m0 4h0m0 11h0m0-31h0m0 24.5h0m.5-108h0m0 85h0m0 4.5h0m.5 24h0m0-23.5h0m0 21.5h0m0-30.5h0m0-85h0m.5-10h0m0 108h0m0-.5h0m.5 3h0m0 13.5h0m.5 31.5h0m0-42.5h0m0-118h0m.5 126h0m0-12h0m0 23h0m.5-127h0m0 7.5h0m.5 117h0m0-18h0m0-104h0m0 94.5h0m0-5h0m0 10.5h0m.5-6h0m0 19h0m0 7h0m.5-10h0m0-23h0m0-92.5h0m0 98h0m.5-103h0m0 125.5h0m0-118h0m.5 10.5h0m0 83.5h0m.5 17h0m0-12.5h0m.5 7.5h0m0-109.5h0m0 96h0m0-103.5h0m0 16h0m.5 89h0m0-3h0m.5 17.5h0m0-5h0m0 8.5h0m0-104h0m.5 112.5h0m0 2h0m0-129h0m0 126h0m.5-19.5h0m0-2.5h0m0 11h0m0-7.5h0m.5-103h0m0 103h0m.5-99.5h0m0 9h0m.5-15h0m.5 5.5h0m.5 110.5h0m.5-8.5h0m0-112h0m0 13h0m.5 100h0m0-115.5h0m.5 9h0m1-5h0m0 16h0m0 99.5h0m0-105h0m1.5 7.5h0m0 99h0m.5-119h0m0 11h0m.5-5.5h0m0 6.5h0m.5-10h0m.5 12h0m.5-16h0m.5 19.5h0m.5-9.5h0m0 7.5h0m.5-19.5h0m0 13.5h0m.5-5.5h0m0 15h0m.5-20h0m1 19.5h0m.5-11.5h0m.5-9.5h0m1 6h0m.5 9h0m0-12.5h0m0 118h0m.5-108h0m0-4h0m.5 11h0m0-11.5h0m0-10h0m.5 147.5h0m0-127.5h0m.5 2.5h0m1.5-20.5h0m.5 4.5h0m0 13.5h0m0-16.5h0m.5 140h0m0-126.5h0m0-2.5h0m.5-3h0m0-4h0m.5 121.5h0m1-118.5h0m0 6h0m0-17h0m.5 23h0m0-20.5h0m.5 16.5h0m1.5 5.5h0m.5-14.5h0m.5-11h0m0 15.5h0m1 7h0m0-17.5h0m0 1.5h0m.5 22.5h0m0 92.5h0m.5-114.5h0m0 7.5h0m.5 3.5h0m1-2.5h0m0-6h0m.5-9.5h0m0 3h0m.5 8h0m.5 14.5h0m.5-7h0m.5-6.5h0m0 10h0m.5-24.5h0m0 12h0m.5 14h0m0 5h0m.5 110h0m.5-128h0m.5 15h0m0-10h0m.5-20h0m0 28.5h0m.5-3.5h0m0-12h0m.5-7.5h0m0 5h0m.5 21.5h0m.5-8.5h0m.5-16h0m0-9.5h0m0 20h0m.5-8h0m0 20h0m0-13.5h0m0 4h0m0-16.5h0m.5 22h0m.5-25.5h0m.5-5h0m.5 10h0m.5 1.5h0m.5-13.5h0m.5 29h0m0 5.5h0m0 5.5h0m.5-35h0m0 21.5h0m0-17h0m.5 10.5h0m0-19.5h0m.5 18h0m0 19h0m0-14.5h0m.5-11.5h0m0 21h0m.5-6h0m.5-29.5h0m0 43h0m.5-20h0m0-12.5h0m0 3.5h0m.5-6.5h0m.5-5h0m0 25h0m.5 5h0m0 6.5h0m.5-21.5h0m.5 142.5h0m.5-144h0m.5 22h0m0 1.5h0m.5-27.5h0m0 30h0m0-6.5h0m.5-19h0m0 13.5h0m0-9.5h0m0-15.5h0m.5 22.5h0m0-3.5h0m0-24.5h0m.5 8h0m0 25.5h0m.5-21.5h0m0-9.5h0m.5 21.5h0m.5-3.5h0m0 11h0m0-20h0m0-13.5h0m.5-2.5h0m.5 30h0m0 15.5h0m0-35.5h0m.5-6h0m0-8h0m.5 1h0m.5 33.5h0m0 7.5h0m0-39h0m0 21h0m.5 21h0m0-8h0m0-10.5h0m0 3h0m.5 17.5h0m0-31h0m0-18.5h0m0 14.5h0m0-6h0m0 44.5h0m.5-29h0m.5 11h0m.5 5.5h0m.5 140h0m0-154h0m.5-11.5h0m0 36.5h0m0-40.5h0m0 11.5h0m0-20h0m0 21h0m.5-5.5h0m0 28h0m.5-12h0m.5-35.5h0m.5 23h0m0 27.5h0m0-4h0m0-25.5h0m0 9h0m.5 7h0m0-26h0m0-8h0m0 40h0m0-2.5h0m.5 12h0m0-48h0m0 8.5h0m.5 32.5h0m.5-27h0m.5 9.5h0m0 4.5h0m.5-21h0m0 36h0m0-7.5h0m0-33h0m0-9.5h0m.5 2h0m0 36h0m.5-19h0m0 8.5h0m0-20.5h0m.5 25h0m1-1h0m0-36h0m0 28h0m0 29h0m.5-54.5h0m0 56h0m0-33h0m0 36h0m.5-45.5h0m.5 29h0m0-1.5h0m0-10.5h0m.5-27h0m0 34.5h0m0 12h0m0-45h0m0 14h0m.5-10.5h0m0 6.5h0m.5-19.5h0m0 5h0m0 47.5h0m0-20h0m.5 30.5h0m0-40h0m0 35h0m0-35.5h0m.5 36.5h0m0-26.5h0m0-30h0m0 10.5h0m0 26.5h0m.5 7.5h0m0 3.5h0m1 3h0m.5-43.5h0m0 31.5h0m.5-29.5h0m0-4h0m0 20h0m0 6h0m0-4.5h0m.5-32.5h0m0 68.5h0m0-20.5h0m0-7.5h0m.5-17.5h0m0-4h0m0 34h0m0-45h0m0-9.5h0m0 59.5h0m.5-37.5h0m0-18h0m.5 43h0m0-13h0m0 30.5h0m0-62h0m0 42.5h0m.5-8.5h0m0-6.5h0m0-12.5h0m0-10.5h0m0 4h0m.5 31.5h0m0-20h0m0-3.5h0m.5-4h0m0 47h0m0-29h0m.5 23h0m0-15.5h0m0 11.5h0m.5-25.5h0m0 39h0m.5 5h0m0-35.5h0m.5 25.5h0m0-56h0m0-5.5h0m.5 65.5h0m0-22h0m0-12.5h0m.5-20.5h0m0 13h0m0 40h0m0-7.5h0m0-57.5h0m1 27h0m0-9h0m0 33.5h0m.5-23.5h0m0 16h0m0-39.5h0m0 49h0m.5-4h0m0 24h0m.5-58h0m0 24h0m0-30.5h0m0 42h0m0-39h0m.5 5h0m0 39.5h0m0-21.5h0m.5-2.5h0m.5 27.5h0m0-32h0m0 13.5h0m0-19h0m.5-24.5h0m0 63h0m0-32.5h0m0 8.5h0m0 37.5h0m0-67.5h0m.5 40h0m0-27.5h0m0-5h0m.5 54.5h0m0-13.5h0m0 11h0m0-2.5h0m0 8h0m0-68h0m0 57h0m.5-10.5h0m0-40.5h0m0 29.5h0m.5-41h0m0 45h0m0-9h0m0 33.5h0m.5-73h0m0 2.5h0m0 27h0m0 37.5h0m.5-59h0m0-10.5h0m0 73.5h0m0-23.5h0m0-20.5h0m.5-18.5h0m0 23.5h0m0 9.5h0m0 33h0m0 1h0m.5-24.5h0m0-38.5h0m.5 5.5h0m0 45h0m.5-40.5h0m0-23h0m0 51h0m0-16.5h0m.5 21.5h0m0-26.5h0m0 25h0m.5-29.5h0m0 40.5h0m0-54.5h0m0-6h0m0 32h0m.5 4h0m0-9h0m0-16.5h0m0 51.5h0m.5-30h0m0 9h0m0 34h0m0-33h0m.5-44.5h0m0 39.5h0m0 29.5h0m.5-49.5h0m0-3.5h0m0 41.5h0m0-43.5h0m0 45.5h0m0-9.5h0m.5-25h0m.5 51.5h0m0-74.5h0m0 3.5h0m.5 50.5h0m0-9.5h0m0-36.5h0m0-14.5h0m0 68h0m.5 15h0m0-47h0m0 7h0m0-45.5h0m0 20.5h0m0 9h0m0 35.5h0m.5-40h0m0 25h0m0 26h0m0-41.5h0m0 45.5h0m.5-21h0m0 15.5h0m0-37h0m.5 10.5h0m0-43h0m0 16h0m.5-14h0m0 18h0m0-24h0m0 13.5h0m.5 4h0m0 44h0m0-37h0m0 17.5h0m.5 29h0m0-4.5h0m0-58.5h0m.5 73h0m0-30h0m0 18h0m0 16.5h0m.5-13.5h0m0-61.5h0m0 48.5h0m0 16h0m.5-43h0m0-13.5h0m0-21h0m.5 16h0m0 20.5h0m0 45.5h0m0-51.5h0m.5-23.5h0m0 71h0m.5-37h0m0-8h0m0 25h0m0-5h0m.5-6.5h0m0-20h0m0-27.5h0m0 56.5h0m0 31.5h0m0-14h0m.5-25.5h0m0 38.5h0m0-35h0m0 32h0m.5-25.5h0m0-27h0m0 34.5h0m0-26h0m0 12.5h0m0-20.5h0m0-16h0m0 61h0m.5-7h0m0-59.5h0m0 54h0m.5-18.5h0m0-22h0m0-5h0m0 2h0m.5-16h0m.5 80h0m0-65h0m0 21.5h0m0-29h0m0-8.5h0m0 71h0m0-19h0m.5-55h0m0 65.5h0m0-29h0m.5-20h0m0 62.5h0m.5-74h0m0 43.5h0m0-16h0m0 27.5h0m0 19h0m.5-25h0m0-26h0m0 42h0m0-12h0m0-13h0m.5-33h0m0 52h0m0 20h0m.5-40h0m0-20.5h0m.5 51.5h0m0-36.5h0m0 50h0m.5-28h0m0 26.5h0m0-102.5h0m0 21.5h0m.5 63h0m0-22.5h0m0-6h0m0-32h0m0 27h0m.5-58.5h0m0 80.5h0m0 13.5h0m.5-4h0m0-39h0m0-10h0m0 63.5h0m0-65h0m0 24.5h0m0-16.5h0m0 28.5h0m0-29.5h0m0 11h0m.5 21h0m0-44.5h0m0 41.5h0m0-22h0m0-21h0m0 11.5h0m.5 22.5h0m.5 19.5h0m.5 5.5h0m.5 14.5h0m0-77.5h0m0 32.5h0m0-35h0m0 11h0m0 59h0m.5 5h0m0-75.5h0m.5 45.5h0m0-55.5h0m0 38h0m.5 39.5h0m0-9h0m0 5h0m0-30.5h0m.5 39.5h0m0 14h0m0-60.5h0m0-12h0m.5 42h0m0-49.5h0m0 45h0m0-32.5h0m0 65.5h0m.5-76.5h0m0 70.5h0m0-5.5h0m0 15.5h0m0-87.5h0m.5 45h0m0-23.5h0m0 58h0m0-49.5h0m0-15h0m0 50h0m.5 19.5h0m0-14h0m0-17h0m0-13h0m0-6h0m.5 13.5h0m0-9h0m0 20.5h0m0-40h0m0 42.5h0m0-49h0m.5 62h0m0-42.5h0m0 55h0m0-35.5h0m0 37h0m0-61.5h0m0 17h0m.5-36h0m0 1h0m0 73h0m.5-84h0m0 46h0m0-40.5h0m0 75.5h0m0-22h0m0 12h0m.5-48h0m0-4h0m0 48h0m.5-18.5h0m0-13.5h0m0 44h0m.5-68.5h0m0 64.5h0m.5-3.5h0m0-14h0m.5-26.5h0m0-45h0m0 100h0m0-24.5h0m.5-33.5h0m0 13h0m0 33.5h0m0-57.5h0m.5 23h0m0-18.5h0m0 47.5h0m0-17.5h0m.5-24.5h0m0 37.5h0m0-36.5h0m0 32h0m.5-13.5h0m0-1h0m0 9h0m0-21.5h0m0 16h0m0-69.5h0m.5 99h0m0-54h0m0-10h0m.5-33.5h0m0 75h0m0-10h0m0-20.5h0m.5 34.5h0m0-88.5h0m0 90.5h0m0 20h0m0-56h0m0 50.5h0m.5-25.5h0m0 14h0m0 19h0m0-52.5h0m0 14h0m.5-27h0m0 67.5h0m0-93h0m0 55h0m0-12h0m.5-15.5h0m0 21.5h0m0-12.5h0m.5 29h0m0 18.5h0m0-43h0m.5 5h0m.5 13.5h0m0 1.5h0m0-30.5h0m0 1h0m0 44.5h0m0-4.5h0m.5 9.5h0m0-1h0m0-29h0m0 21.5h0m0-16h0m0 8.5h0m.5-4.5h0m0-14.5h0m0-15h0m0 47.5h0m0-31.5h0m0-18.5h0m0 5h0m.5 54h0m.5 5h0m0-39.5h0m0 10h0m0 26.5h0m.5-22h0m0-6.5h0m0-15h0m0-8h0m.5 21h0m0 24h0m0-11.5h0m.5-37.5h0m0 8.5h0m0 38.5h0m0 4.5h0m.5-34h0m.5 16h0m0-11h0m0 8.5h0m0-21h0m0 47h0m.5-50h0m0 43.5h0m0-36h0m0 27.5h0m0-11.5h0m.5-15.5h0m.5 4.5h0m0 46.5h0m.5-30h0m.5 9h0m0-10.5h0m0 5h0m0-41h0m.5 27h0m0-21h0m.5 22h0m1-21h0m.5 28h0m1.5-37.5h0m0 4h0m1.5 61.5h0m.5-39h0m0 45h0m1-66.5h0m1.5 36.5h0m.5 25.5h0m1.5 17h0m0-82h0m0-15.5h0m.5 42h0m0 24h0m0-56.5h0m1 37h0m1.5-37.5h0m0 46h0m.5-26.5h0m1.5 49h0m1.5-68h0m0 59h0m2 14h0m1 5h0m1.5 0h0m0 9h0m1-43.5h0m0 4.5h0m.5-28h0m.5 19h0m1.5-4h0m1 19.5h0m1-6h0m2.5 33h0m1-47h0m1-6h0m1-2.5h0m0-38h0m.5 71.5h0m.5 26h0m2.5-100h0m1.5 92.5h0m1.5 3.5h0m4.5-14.5h0m2-58h0m0 6h0m.5 27.5h0m.5 21h0m0-5h0m2-40h0m8.5-1h0m1.5 29.5h0m2-13h0m2-4.5h0m1-16h0m0 77.5h0m4.5-3h0m4-67h0m.5 10h0m21 5.5h0" stroke="#a8a8ac" stroke-width="6.2" stroke-linecap="round"/><text x="1315.6" y="1480.3" font-size="20.2" font-weight="bold" fill="#111">Chinese tree</text><rect x="1437.4" y="1481.1" width="169.4" height="124.2" fill="#d2d8ea" fill-opacity="0.62" stroke="#4472c4" stroke-width="3.6" stroke-dasharray="3.6 2.4"/><rect x="1500.7" y="1607.3" width="106.1" height="59.7" fill="#d2d8ea" fill-opacity="0.62" stroke="#4472c4" stroke-width="3.6" stroke-dasharray="3.6 2.4"/><rect x="1314.4" y="1606.1" width="123.0" height="89.1" fill="#d2d8ea" fill-opacity="0.62" stroke="#4472c4" stroke-width="3.6" stroke-dasharray="3.6 2.4"/><rect x="1314.4" y="1695.2" width="124.2" height="170.2" fill="#d2d8ea" fill-opacity="0.62" stroke="#4472c4" stroke-width="3.6" stroke-dasharray="3.6 2.4"/><rect x="1440.2" y="1669" width="267.4" height="115.0" fill="#d2d8ea" fill-opacity="0.62" stroke="#4472c4" stroke-width="3.6" stroke-dasharray="3.6 2.4"/><rect x="1707.6" y="1607.3" width="228.6" height="176.7" fill="#d2d8ea" fill-opacity="0.62" stroke="#4472c4" stroke-width="3.6" stroke-dasharray="3.6 2.4"/><rect x="1500.7" y="1784" width="322.6" height="125.0" fill="#d2d8ea" fill-opacity="0.62" stroke="#4472c4" stroke-width="3.6" stroke-dasharray="3.6 2.4"/><text x="1521.3" y="1550.0" font-size="17" font-weight="bold" text-anchor="middle" fill="#222">Group 1</text><text x="1553.5" y="1643.6" font-size="17" font-weight="bold" text-anchor="middle" fill="#222">Group 2</text><text x="1374.9" y="1657.7" font-size="17" font-weight="bold" text-anchor="middle" fill="#222">Group 6</text><text x="1377.0" y="1788.0" font-size="17" font-weight="bold" text-anchor="middle" fill="#222">Group 5</text><text x="1574.5" y="1733.1" font-size="17" font-weight="bold" text-anchor="middle" fill="#222">Group 7</text><text x="1821.3" y="1702.0" font-size="17" font-weight="bold" text-anchor="middle" fill="#222">Group 3</text><text x="1661.6" y="1853.3" font-size="17" font-weight="bold" text-anchor="middle" fill="#222">Group 4</text><rect x="1288.7" y="1985" width="167.3" height="37" fill="#4472c4"/><rect x="1460" y="1985" width="236.0" height="37" fill="#4472c4"/><rect x="1700" y="1985" width="235.7" height="37" fill="#4472c4"/><text x="1578.0" y="2011.5" font-size="24.6" font-weight="bold" text-anchor="middle" fill="#fff">Dimension 1</text><text x="1818.0" y="2011.5" font-size="24.6" font-weight="bold" text-anchor="middle" fill="#fff">Dimension 2</text><rect x="1288.7" y="2033.1" width="167.3" height="34.20000000000027" fill="#c5cce4"/><rect x="1460" y="2033.1" width="236.0" height="34.20000000000027" fill="#c5cce4"/><rect x="1700" y="2033.1" width="235.7" height="34.20000000000027" fill="#c5cce4"/><text x="1372.3" y="2053.5" font-size="25" text-anchor="middle" fill="#1a1a1a">Group 1</text><text x="1578.0" y="2053.5" font-size="25" text-anchor="middle" fill="#1a1a1a">(-0.35, 0.5)</text><text x="1817.8" y="2053.5" font-size="25" text-anchor="middle" fill="#1a1a1a">(0.5, 1.5)</text><rect x="1288.7" y="2072.5" width="167.3" height="37.30000000000018" fill="#e0e4f1"/><rect x="1460" y="2072.5" width="236.0" height="37.30000000000018" fill="#e0e4f1"/><rect x="1700" y="2072.5" width="235.7" height="37.30000000000018" fill="#e0e4f1"/><text x="1372.3" y="2095.9" font-size="25" text-anchor="middle" fill="#1a1a1a">Group 2</text><text x="1578.0" y="2095.9" font-size="25" text-anchor="middle" fill="#1a1a1a">(0.1, 0.5)</text><text x="1817.8" y="2095.9" font-size="25" text-anchor="middle" fill="#1a1a1a">(0.2, 0.5)</text><rect x="1288.7" y="2115.0" width="167.3" height="37.40000000000009" fill="#c5cce4"/><rect x="1460" y="2115.0" width="236.0" height="37.40000000000009" fill="#c5cce4"/><rect x="1700" y="2115.0" width="235.7" height="37.40000000000009" fill="#c5cce4"/><text x="1372.3" y="2138.3" font-size="25" text-anchor="middle" fill="#1a1a1a">Group 3</text><text x="1578.0" y="2138.3" font-size="25" text-anchor="middle" fill="#1a1a1a">(1.0, 2.0)</text><text x="1817.8" y="2138.3" font-size="25" text-anchor="middle" fill="#1a1a1a">(-0.5, 0.5)</text><rect x="1288.7" y="2156.7" width="167.3" height="37.80000000000018" fill="#e0e4f1"/><rect x="1460" y="2156.7" width="236.0" height="37.80000000000018" fill="#e0e4f1"/><rect x="1700" y="2156.7" width="235.7" height="37.80000000000018" fill="#e0e4f1"/><text x="1372.3" y="2180.7" font-size="25" text-anchor="middle" fill="#1a1a1a">Group 4</text><text x="1578.0" y="2180.7" font-size="25" text-anchor="middle" fill="#1a1a1a">(0.0, 1.5)</text><text x="1817.8" y="2180.7" font-size="25" text-anchor="middle" fill="#1a1a1a">(-0.5, -1.5)</text><rect x="1288.7" y="2199.3" width="167.3" height="37.69999999999982" fill="#c5cce4"/><rect x="1460" y="2199.3" width="236.0" height="37.69999999999982" fill="#c5cce4"/><rect x="1700" y="2199.3" width="235.7" height="37.69999999999982" fill="#c5cce4"/><text x="1372.3" y="2223.1" font-size="25" text-anchor="middle" fill="#1a1a1a">Group 5</text><text x="1578.0" y="2223.1" font-size="25" text-anchor="middle" fill="#1a1a1a">(-1.0, -0.35)</text><text x="1817.8" y="2223.1" font-size="25" text-anchor="middle" fill="#1a1a1a">(-1.0, 0.0)</text><rect x="1288.7" y="2241.4" width="167.3" height="37.79999999999973" fill="#e0e4f1"/><rect x="1460" y="2241.4" width="236.0" height="37.79999999999973" fill="#e0e4f1"/><rect x="1700" y="2241.4" width="235.7" height="37.79999999999973" fill="#e0e4f1"/><text x="1372.3" y="2265.5" font-size="25" text-anchor="middle" fill="#1a1a1a">Group 6</text><text x="1578.0" y="2265.5" font-size="25" text-anchor="middle" fill="#1a1a1a">(-1.0, -0.35)</text><text x="1817.8" y="2265.5" font-size="25" text-anchor="middle" fill="#1a1a1a">(0.0, 0.5)</text><rect x="1288.7" y="2284.0" width="167.3" height="37.69999999999982" fill="#c5cce4"/><rect x="1460" y="2284.0" width="236.0" height="37.69999999999982" fill="#c5cce4"/><rect x="1700" y="2284.0" width="235.7" height="37.69999999999982" fill="#c5cce4"/><text x="1372.3" y="2307.9" font-size="25" text-anchor="middle" fill="#1a1a1a">Group 7</text><text x="1578.0" y="2307.9" font-size="25" text-anchor="middle" fill="#1a1a1a">(-0.35, 1)</text><text x="1817.8" y="2307.9" font-size="25" text-anchor="middle" fill="#1a1a1a">(-0.5, 0.2)</text>
</svg></body></html>
